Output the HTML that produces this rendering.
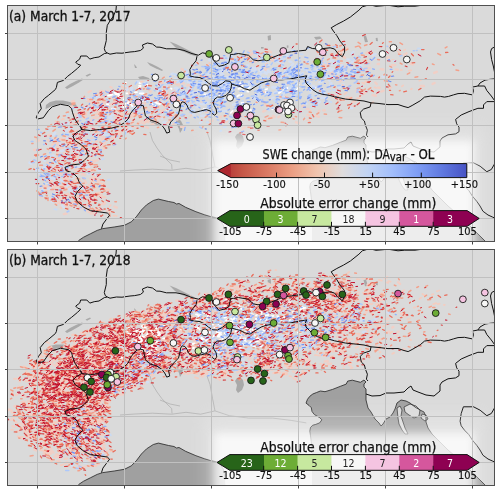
<!DOCTYPE html><html><head><meta charset="utf-8"><title>SWE change</title><style>html,body{margin:0;padding:0;background:#fff;overflow:hidden}svg{display:block}</style></head><body><svg width="500" height="494" viewBox="0 0 500 494"><defs><filter id="blur" x="-20%" y="-40%" width="140%" height="180%"><feGaussianBlur stdDeviation="4.5"/></filter><filter id="blur2" x="-20%" y="-40%" width="140%" height="180%"><feGaussianBlur stdDeviation="9"/></filter></defs><rect width="500" height="494" fill="#fff"/><clipPath id="clipa"><rect x="7" y="5" width="487" height="236"/></clipPath><g clip-path="url(#clipa)"><rect x="7" y="5" width="487" height="236" fill="#dadada"/><polygon points="70.0,245.0 78.5,240.6 83.6,237.2 90.4,233.8 97.2,230.4 102.3,228.7 114.2,227.0 124.4,225.3 131.2,221.9 136.3,216.8 141.4,210.0 146.5,204.9 153.3,200.5 158.4,199.1 168.6,201.5 174.0,202.5 176.5,204.0 179.0,203.5 185.6,207.3 195.9,211.7 204.6,214.8 210.6,216.6 216.6,217.8 220.8,221.4 223.2,225.0 224.4,229.8 225.0,235.8 225.6,245.0" fill="#a0a0a0"/><polygon points="312.0,250.0 312.0,206.0 311.3,197.9 310.5,191.8 309.8,187.2 310.5,183.4 312.8,181.2 315.8,180.4 319.6,178.9 321.9,175.8 319.6,173.6 314.3,170.5 312.0,167.5 311.3,163.7 309.0,161.4 306.0,159.1 307.5,155.3 309.8,152.3 312.8,150.0 316.6,148.5 320.4,147.0 325.0,147.7 332.6,145.4 340.2,142.4 346.2,140.1 347.7,137.1 352.3,136.2 360.4,138.3 364.0,136.0 366.0,138.0 364.0,140.0 364.0,143.0 366.0,145.0 366.0,150.0 366.0,156.0 368.0,164.0 371.0,168.0 375.0,175.0 379.0,179.0 381.0,182.0 383.0,180.0 386.0,175.0 390.0,173.0 393.0,169.0 395.0,165.0 397.0,159.0 401.0,156.0 406.0,157.0 410.0,159.0 415.0,163.0 420.0,166.0 424.0,168.0 426.0,173.0 426.0,178.0 428.0,184.0 432.0,190.0 436.0,194.0 442.0,200.0 448.0,206.0 455.0,212.0 462.0,218.0 470.0,226.0 478.0,234.0 486.0,242.0 490.0,250.0" fill="#a0a0a0"/><polygon points="397.0,164.0 400.0,162.0 402.0,166.0 401.0,172.0 403.0,178.0 405.0,184.0 407.0,188.0 408.0,190.0 405.0,190.0 402.0,186.0 399.0,180.0 398.0,174.0" fill="#dadada" stroke="#222" stroke-width="0.7"/><polygon points="404.0,163.0 410.0,160.0 416.0,162.0 420.0,166.0 419.0,172.0 414.0,174.0 409.0,171.0 405.0,168.0" fill="#dadada" stroke="#222" stroke-width="0.7"/><polygon points="422.0,170.0 426.0,171.0 428.0,175.0 425.0,177.0 421.0,174.0" fill="#dadada" stroke="#222" stroke-width="0.7"/><polygon points="46.0,105.0 50.0,102.0 56.0,100.5 63.0,100.5 70.0,102.0 76.0,104.5 77.0,107.0 72.0,106.0 66.0,104.0 59.0,104.0 53.0,105.5 48.0,108.0 45.5,109.0" fill="#a9a9a9"/><polygon points="65.0,87.5 70.0,84.0 76.0,81.0 82.0,78.5 83.5,79.5 79.0,82.5 73.0,86.0 67.0,89.0" fill="#a9a9a9"/><polygon points="85.5,75.5 90.0,73.5 91.0,74.5 87.0,76.8" fill="#a9a9a9"/><polygon points="169.6,41.6 176.0,44.0 184.0,48.0 192.0,52.0 198.4,55.2 197.0,56.5 190.0,54.5 182.0,51.0 175.0,47.0" fill="#a9a9a9"/><polygon points="147.0,62.0 152.0,64.0 158.0,67.0 163.0,70.0 162.0,71.0 156.0,68.5 150.0,65.5" fill="#a9a9a9"/><polygon points="134.0,64.0 136.0,66.0 137.0,68.0 135.0,68.0" fill="#a9a9a9"/><polygon points="138.0,77.0 143.0,76.0 149.0,78.0 150.0,80.0 145.0,79.0 140.0,79.5" fill="#a9a9a9"/><polygon points="146.0,117.0 150.0,118.0 154.0,121.0 158.0,124.0 160.5,126.0 157.0,125.0 152.0,123.0 147.0,120.0" fill="#a9a9a9"/><polygon points="176.0,121.0 179.0,119.0 181.0,121.0 183.0,125.0 182.0,130.0 180.0,133.0 179.0,129.0 177.0,125.0" fill="#a9a9a9"/><polygon points="237.0,134.0 240.0,133.0 243.0,136.0 244.0,141.0 242.0,146.0 238.0,149.0 236.0,146.0 237.0,141.0 235.0,137.0" fill="#a9a9a9"/><polygon points="267.6,36.0 270.8,35.0 271.0,40.0 268.0,40.5" fill="#a9a9a9"/><polygon points="314.0,37.0 320.0,36.6 322.0,38.5 316.0,39.8" fill="#a9a9a9"/><polygon points="363.5,36.0 366.0,35.6 368.0,42.0 365.0,42.3" fill="#a9a9a9"/><polygon points="375.7,38.0 377.5,37.8 378.0,41.2 376.0,41.0" fill="#a9a9a9"/><polygon points="261.0,47.0 263.6,47.0 263.6,48.6 261.0,48.6" fill="#a9a9a9"/><polygon points="286.8,45.4 288.4,45.4 288.4,47.8 286.8,47.8" fill="#a9a9a9"/><polyline points="120.0,171.0 135.0,170.0 152.4,169.2 171.7,170.2 186.0,168.3 200.6,170.2 215.0,166.9 229.4,171.7 248.7,174.1 272.7,174.1 291.9,176.5 306.3,178.9" fill="none" stroke="#acacac" stroke-width="0.7"/><polyline points="150.0,132.0 152.4,140.4 157.0,148.0 162.0,154.8 167.0,160.0 171.7,164.5 172.0,169.5" fill="none" stroke="#acacac" stroke-width="0.7"/><polyline points="207.0,132.0 210.0,140.4 212.6,154.8 215.0,166.9" fill="none" stroke="#acacac" stroke-width="0.7"/><polyline points="160.0,156.0 170.0,160.0 180.0,162.0" fill="none" stroke="#acacac" stroke-width="0.7"/><g fill="none" stroke-linecap="round"><path d="M386.3 57.8l2.4 -0.5M150.5 106.3l1.1 -0.8M89.5 195.6l1.0 0.1M103.1 108.9l1.7 0.2M164.3 87.4l1.9 0.3M279.7 58.5l2.6 0.6M103.6 101.3l1.0 -0.3M332.3 96.7l2.5 -0.9M174.0 92.8l2.3 -0.8M278.3 78.3l1.2 0.1M302.3 106.0l2.5 0.9M96.5 160.1l1.2 0.3M102.0 139.2l1.4 -0.4M79.0 111.6l1.2 0.3M90.4 121.0l2.3 -0.7M209.3 88.8l3.1 0.2M105.3 189.3l3.4 0.7M342.5 74.1l1.9 -0.4M351.7 70.0l1.5 -0.1M315.9 115.6l3.0 1.2M63.9 205.8l1.6 -0.1M330.9 72.6l0.9 -0.7M184.6 72.7l2.5 1.8M164.7 106.7l2.3 -0.2M71.8 101.6l2.1 -0.6M324.5 72.9l1.7 1.3M57.6 144.0l2.1 -0.7M102.1 97.5l1.8 1.2M63.8 214.1l2.8 -0.6M275.4 56.8l1.6 0.7M85.1 159.4l1.5 -0.2M179.1 101.4l1.7 -0.2M255.6 119.4l1.7 -1.6M110.4 87.0l1.3 0.6M71.6 196.4l2.3 0.4M164.8 93.1l3.1 -0.4M254.9 61.8l2.1 -1.3M372.5 95.1l3.3 0.6M45.7 186.5l3.3 -1.0M104.7 92.1l2.9 -1.1M59.9 167.7l1.4 -0.2M91.7 138.4l1.2 0.3M62.7 202.7l2.4 2.1M156.7 117.8l2.9 0.1M339.8 81.4l2.9 -0.9M103.5 149.2l1.3 -0.7M111.3 97.9l2.0 -0.6M90.4 102.5l1.2 -0.0M113.0 103.2l2.0 -2.2M90.7 125.7l2.5 0.5M57.5 168.7l3.2 -0.4M117.7 133.3l2.7 -0.8M54.8 191.4l2.0 0.4M91.7 163.7l1.4 0.1M129.8 118.0l1.8 -0.7M125.9 131.1l2.5 0.1M130.3 115.3l3.2 -0.0M175.5 83.5l1.5 -0.8M77.9 171.5l2.0 -0.1M337.6 78.9l3.0 0.6M103.8 138.2l1.1 -0.4M58.2 170.6l1.4 0.3M57.8 203.0l3.1 -1.1M321.5 58.6l1.1 -0.4M80.3 170.3l1.9 0.1M95.0 147.2l0.9 0.8M66.2 194.5l1.7 -0.7M249.6 55.0l1.4 -0.1M173.4 90.4l1.3 -0.2M111.0 119.6l1.5 -1.0M129.8 113.3l1.6 -0.4M51.9 187.1l1.3 0.0M121.7 103.3l3.2 -0.4M89.4 160.3l3.2 0.8M159.1 83.9l1.5 0.5M72.6 158.8l2.8 -0.8M224.6 122.2l2.7 -0.8M50.2 180.6l1.6 0.5M179.9 75.8l1.6 0.3M144.5 95.1l2.4 0.9M74.6 134.3l1.7 0.1M126.9 102.1l2.2 -0.2M57.8 155.4l1.2 -0.5M359.9 69.8l2.7 1.3M277.5 78.8l3.4 0.4M73.6 204.3l2.5 -0.2M129.4 88.8l1.0 0.2M56.2 169.9l1.0 -0.2M43.6 157.5l1.4 0.4M95.1 131.8l1.9 -0.8M296.0 122.3l2.8 0.6M85.0 180.9l1.2 1.9M74.1 180.4l2.7 1.0M78.2 203.1l2.4 0.2M84.7 167.6l3.1 0.4M79.3 182.7l1.8 -0.7M76.0 170.3l2.4 0.4M101.1 104.6l1.3 0.4M63.1 182.4l0.5 0.9M287.1 83.0l1.5 0.5M89.6 169.4l1.7 1.8M55.9 149.8l1.9 -0.1M101.9 110.1l1.4 -1.6M231.3 126.1l2.3 -2.0M166.0 99.1l1.6 -0.1M108.6 138.1l2.4 -0.4M89.2 156.1l2.9 -0.1M199.7 103.6l2.1 -0.9M50.3 173.3l2.3 -1.9M59.6 148.3l3.4 -0.5M57.2 185.8l2.8 0.4M104.3 110.4l1.2 0.3M59.5 186.0l1.9 0.5M344.7 50.1l2.2 -2.4M93.3 118.7l2.3 -1.8M74.9 170.2l2.1 0.3M34.1 150.0l2.7 -0.7M99.4 136.6l3.1 -0.3M191.6 103.6l1.4 -0.9M79.3 129.4l1.8 -0.1M85.7 198.9l1.7 0.4M125.1 128.8l2.4 -0.7M404.0 55.0l2.6 -1.7M93.3 160.8l2.1 0.0M65.1 184.1l1.3 1.0M209.7 121.5l2.7 -0.9M318.6 111.4l0.9 -0.6M72.6 202.4l3.3 0.3M65.7 187.3l1.2 -0.1M91.9 110.4l2.0 -0.4M98.4 149.5l1.1 -0.1M72.4 155.7l3.0 1.3M86.5 100.3l3.2 1.4M47.6 163.0l2.7 0.1M87.8 141.4l1.0 -1.0M307.2 114.9l1.0 -0.1M85.1 209.3l2.6 0.5M377.6 64.1l1.4 -0.1M367.6 68.4l2.2 -0.6M78.4 180.9l1.1 -0.2M103.8 202.3l1.4 0.8M107.7 109.9l2.7 0.8M220.0 117.3l1.1 -0.8M364.8 68.3l2.0 -0.3M81.3 163.5l3.4 -0.2M336.7 76.7l2.2 1.0M326.8 63.5l3.3 -0.0M114.5 114.1l0.9 -0.4M84.7 141.6l3.1 1.5M218.1 108.2l1.1 -0.2M108.9 106.4l1.0 -0.7M263.1 111.6l2.5 -1.2M125.6 111.6l1.3 -0.3M90.7 213.6l3.3 -0.2M102.3 102.7l2.8 0.7M159.4 98.5l0.8 -1.2M82.2 191.4l1.2 0.1M270.2 118.0l3.1 -0.9M139.3 122.1l3.1 -1.5M98.3 210.1l2.9 0.9M249.3 51.4l1.1 -0.7M63.6 178.8l1.6 0.7M323.9 49.7l2.2 -0.8M72.8 146.2l2.5 -0.6M70.5 106.8l1.6 -0.5M246.1 57.6l2.2 0.6M91.3 155.4l2.3 -0.7M251.9 53.5l1.8 -0.1M85.9 209.4l1.0 1.0M130.5 123.3l1.2 0.6M50.6 168.7l1.0 -0.7M335.7 58.7l1.0 0.1M121.1 115.3l3.5 0.2M61.3 173.5l1.5 -2.1M76.5 179.2l1.5 0.2M93.6 198.6l2.3 -0.2M68.0 182.9l2.0 -0.8M207.6 78.5l2.8 -0.6M75.8 116.8l1.6 -0.3M89.1 184.9l2.3 -0.5M56.9 153.6l3.2 1.3M128.2 93.4l1.3 -1.1M120.8 110.9l1.1 -0.5M107.1 210.8l2.5 0.9M86.2 204.8l2.6 0.2M40.4 196.1l1.0 1.2M94.9 150.8l2.8 -0.5M132.5 126.5l2.9 -0.9M82.8 173.6l1.0 0.6M73.0 184.9l2.7 2.0M50.5 168.0l3.1 -0.7M181.0 126.8l3.0 0.0M354.0 101.6l1.1 -0.6M49.7 189.5l2.1 -0.4M58.6 197.9l2.8 1.9M86.2 192.6l1.2 0.8M134.9 97.0l1.9 0.6M95.8 180.7l3.3 0.9M81.7 192.7l1.8 1.2M148.4 112.8l0.6 -2.0M104.5 131.0l1.1 -0.1M87.3 208.4l1.1 0.4M149.8 91.9l1.0 -0.4M144.5 103.5l1.7 -2.5M83.2 147.3l2.0 2.5M182.0 83.1l2.1 0.3M68.8 180.3l2.4 1.5M323.3 110.4l1.5 0.1M245.6 58.4l3.1 -1.2M122.3 91.0l2.0 -0.3M77.4 152.3l1.2 -0.3M363.3 60.4l3.0 0.1M89.3 105.3l1.2 0.2M88.4 92.3l2.4 -1.3M94.5 188.0l1.8 0.5M102.7 183.7l1.6 -0.2M98.5 131.5l3.0 -1.3M146.7 121.8l1.7 0.4M177.5 84.6l1.8 0.1M323.9 74.4l1.3 -0.8M380.6 69.1l2.7 0.4M115.0 130.8l3.0 0.2M108.5 111.9l1.6 0.1M66.7 173.6l1.9 -0.5M102.9 125.8l3.1 0.3M82.8 107.4l0.8 -0.6M131.2 113.7l2.3 -0.4M76.0 142.6l1.4 -0.5M59.8 138.9l2.4 0.1M61.7 194.8l3.1 -0.1M145.9 127.0l2.2 0.9M170.6 93.9l2.5 1.7M306.8 108.9l1.9 0.2M273.0 115.7l1.7 1.2M51.1 178.1l2.3 0.3M54.2 139.1l3.4 0.6M62.5 175.9l1.0 1.1M47.9 140.1l1.3 1.0M366.3 53.1l1.7 -0.2M395.8 69.5l2.1 0.2M52.3 186.0l2.0 0.8M93.1 96.6l1.8 -0.7M116.1 116.6l1.2 0.5M97.9 112.5l2.6 -0.3M181.7 69.0l1.9 1.1M82.9 140.2l1.7 0.7M329.7 70.9l2.5 0.2M187.4 85.3l1.9 -0.2M110.6 111.6l1.8 -1.3M83.6 114.9l2.7 -1.9M147.5 121.3l1.6 -0.6M67.4 172.1l2.1 -0.3M97.7 102.1l1.2 0.6M96.8 117.9l1.9 -1.2M39.7 176.0l3.1 1.2M100.1 91.0l3.4 0.2M434.1 72.9l2.7 -1.1M38.1 140.6l1.0 -0.2M46.0 189.7l0.9 0.4M154.9 121.3l1.2 -0.5M89.6 108.3l2.7 -1.0M57.7 167.9l2.9 -0.3M65.3 138.9l1.2 -2.1M167.5 84.7l2.8 -0.3M59.6 180.1l3.3 0.4M69.5 139.3l2.9 -1.7M233.1 58.7l1.5 0.8M94.4 111.0l2.7 -0.5M61.2 181.3l2.4 0.9M47.7 198.3l0.8 0.7M92.2 170.8l3.0 -1.2M77.5 142.6l2.7 -0.3M263.2 70.7l3.0 -1.1M92.2 178.0l3.3 1.0M101.9 204.3l2.3 -0.2M50.9 157.9l1.7 0.1M324.2 64.8l3.2 -0.4M158.7 100.0l1.6 -1.3M141.5 105.1l2.0 0.0M341.4 52.3l0.8 -0.7M79.3 134.7l1.6 0.2M58.8 201.8l1.0 1.4M92.5 161.7l2.1 -0.2M114.3 206.6l2.6 1.0M102.4 145.5l1.6 2.0M342.5 68.6l1.9 -1.3M77.4 171.7l1.7 2.0M75.6 131.6l1.1 -0.5M159.6 113.1l2.3 -2.2M280.8 104.9l2.3 1.2M81.0 194.3l2.1 -0.0M331.3 75.0l1.9 0.0M120.1 111.0l1.2 -0.3M90.3 165.8l1.4 -0.5M79.1 191.9l1.1 -0.1M160.2 100.3l1.0 0.5M102.9 143.9l2.3 -1.6M363.3 94.2l2.0 -1.7M117.4 134.6l3.2 -0.6M141.7 123.6l3.1 -0.4M136.1 126.5l0.9 -1.6M124.2 122.1l2.7 -0.5M67.8 142.3l3.3 -0.6M346.0 97.9l2.3 -0.4M242.3 118.9l1.0 0.7M248.5 117.0l2.1 0.3M156.7 108.6l2.6 -1.9M96.3 179.2l2.3 0.3M118.0 90.1l2.2 1.1M64.9 173.1l0.8 -1.0M99.4 95.3l3.4 -0.2M73.5 160.2l2.3 -0.3M62.3 169.7l2.1 0.1M84.8 207.0l3.1 0.7M65.0 205.1l2.8 2.0M87.1 191.6l2.5 1.0M63.8 153.4l1.4 0.1M42.6 186.2l2.4 -0.3M52.3 144.7l2.0 -0.9M168.0 97.1l0.9 -1.0M94.5 177.1l1.9 -0.1M74.4 114.4l1.4 0.0M88.0 200.7l3.0 1.4M159.6 81.8l2.9 1.1M90.2 99.4l1.5 -0.6M432.6 83.9l2.0 -0.9M258.1 59.4l2.4 -2.1M102.5 135.2l2.6 -0.5M340.6 64.1l1.8 0.3M108.0 130.3l1.3 -0.1M170.2 101.7l3.1 -1.6M330.3 73.5l3.0 0.2M74.8 147.1l1.8 -0.8M341.1 69.2l2.0 -1.3M78.5 207.1l0.7 0.8M90.2 178.6l2.6 -0.4M98.3 182.1l2.0 0.2M378.1 87.8l1.6 -0.1M44.9 169.8l3.2 -0.1M420.5 86.0l3.3 0.0M57.5 174.1l1.9 -0.0M79.0 206.9l3.3 1.0M56.0 143.3l1.5 0.3M158.0 95.3l2.1 -1.8M35.4 155.0l1.5 -0.8M191.9 96.7l1.0 0.3M268.8 51.1l2.3 1.0M87.4 124.1l2.4 -0.1M88.9 141.8l2.6 -0.7M144.8 107.8l2.1 1.4M71.7 182.6l2.1 1.7M64.0 157.7l1.2 0.1M139.4 115.3l2.5 -0.0M56.5 141.0l1.5 0.5M65.3 203.5l2.2 0.3M125.1 90.8l2.6 -0.8M410.2 63.5l2.7 0.9M131.6 101.9l0.8 -1.0M79.7 109.7l2.1 0.5M343.5 56.6l1.5 1.1M391.9 65.2l3.4 -0.1M125.1 100.6l1.3 -0.0M63.3 172.7l2.2 2.3M83.6 113.5l1.6 -0.6M96.2 209.3l1.6 1.0M278.2 117.2l1.2 -0.7M112.9 139.4l1.7 -1.9M281.0 62.4l2.2 -0.4M226.0 60.2l1.7 0.3M229.3 115.5l1.2 0.7M90.4 131.3l1.7 -1.2M117.7 130.7l1.2 -0.3M334.5 90.1l2.0 -0.3M63.5 140.1l2.9 0.9M55.7 159.3l1.1 -0.5M233.3 113.1l2.8 -0.7M69.7 183.2l2.0 1.5M64.7 183.2l2.2 2.1M57.2 151.5l1.3 -1.0M81.8 174.4l3.4 0.3M102.7 119.6l3.1 0.6M147.3 99.1l1.8 -0.4M350.5 107.6l2.8 -1.4M75.5 118.0l2.3 -1.7M381.2 91.6l2.3 -1.0M338.3 100.5l1.2 -0.3M54.9 176.0l3.3 0.6M119.1 98.5l2.2 -1.1M37.2 141.4l1.3 -0.9M173.2 94.8l1.5 -0.4M104.1 107.1l1.2 0.4M69.5 144.2l2.3 -1.4M343.7 66.9l2.7 1.3M319.5 78.6l1.5 0.8M65.4 188.1l2.8 0.7M44.2 187.0l2.6 0.8M114.9 99.7l2.3 0.3M375.2 82.5l1.6 1.6M113.4 108.1l2.4 0.4M77.1 168.1l2.5 0.8M116.6 122.1l2.4 -0.1M76.5 199.0l1.5 0.5M168.5 114.6l2.3 2.0M65.6 176.4l1.9 2.5M321.8 60.4l1.3 1.4M74.9 195.6l3.4 0.5M110.7 126.8l3.1 0.1M91.5 146.9l1.3 0.0M130.7 105.3l2.6 -0.7M67.6 132.4l2.3 -2.1M343.2 75.1l0.6 -1.7M63.1 185.2l3.0 -0.5M242.3 129.1l2.5 -1.6M223.2 58.6l0.8 -0.9M87.7 192.2l2.0 -0.0M263.4 66.0l2.2 -1.1M48.4 134.9l2.1 0.3M124.4 123.4l3.0 1.1M100.4 115.1l1.4 0.5M120.1 124.8l3.3 0.8M76.1 178.6l1.3 -0.2M240.5 115.6l1.1 0.6M98.8 196.4l3.1 -1.2M356.6 90.8l1.4 0.9M67.2 166.7l2.8 -0.9M91.9 180.6l1.7 -1.4M117.5 116.5l2.6 2.2M115.2 126.6l2.1 0.0M323.9 69.1l2.2 -1.2M368.4 63.4l1.0 -0.2M120.6 105.5l1.5 -0.4" stroke="#f1cfc6" stroke-width="2.40"/><path d="M249.7 79.8l1.8 -2.3M228.2 83.4l2.2 -1.8M241.1 103.4l1.5 -0.0M289.3 61.4l2.1 0.6M175.0 74.6l2.5 0.5M61.0 124.6l2.7 -0.6M139.3 115.5l2.0 0.1M159.9 116.9l2.3 1.7M321.0 69.8l1.6 1.8M80.7 109.9l0.9 -0.7M101.4 134.5l3.4 -0.6M67.3 166.9l1.5 0.2M129.7 129.1l1.4 -0.4M189.5 92.1l2.7 -0.2M259.9 75.3l1.7 -2.9M168.9 111.7l1.5 -1.5M329.8 68.1l2.8 0.7M311.5 71.4l3.4 -0.1M171.5 74.0l1.3 -0.5M181.0 92.0l1.7 2.1M308.7 84.0l2.1 -0.6M321.5 91.1l2.7 -0.9M239.2 107.7l2.1 0.5M187.9 82.0l1.2 -0.5M182.2 93.5l1.5 -0.1M53.2 134.8l2.1 -2.1M113.0 127.5l2.5 -1.6M141.5 112.4l2.6 -0.1M282.2 94.6l1.3 -0.6M213.4 80.8l2.6 -0.7M290.8 82.1l0.3 -1.6M51.4 168.8l2.6 -2.1M282.7 85.4l2.9 -0.9M202.1 93.5l2.5 -1.7M337.4 93.4l0.9 -3.0M65.2 125.1l1.4 -1.1M209.2 59.9l2.8 0.9M93.6 173.9l2.7 1.2M226.2 84.8l1.6 -0.1M320.2 75.6l1.4 0.1M271.4 79.3l2.7 0.2M203.1 82.3l1.6 -0.2M310.4 91.7l1.3 -2.3M255.5 94.8l2.6 -0.9M164.0 96.0l1.9 0.1M111.9 131.0l1.8 -1.6M213.3 90.2l2.2 0.6M182.3 92.1l3.1 -0.3M86.2 191.5l2.0 -1.3M228.2 88.1l1.8 0.4M54.7 147.3l2.2 2.2M320.5 88.7l2.3 1.9M272.2 87.4l1.0 -0.6M162.6 96.9l2.5 -0.4M280.6 73.4l2.6 0.4M210.4 66.0l1.5 0.0M287.6 74.3l2.6 0.4M249.7 71.0l1.8 -0.7M318.0 87.1l2.1 -1.2M188.9 88.3l2.5 -1.7M190.1 82.6l-0.1 -1.2M281.1 73.8l1.9 0.5M46.6 182.8l1.8 0.0M231.4 75.5l2.5 0.3M288.0 70.3l2.0 0.7M157.8 90.8l1.9 -1.5M55.0 197.8l2.1 -0.9M327.2 78.3l2.5 2.4M59.2 156.6l2.0 0.7M296.4 74.5l1.8 -0.3M280.5 59.7l1.8 -0.3M193.2 95.7l1.2 0.2M243.1 76.7l1.5 -2.0M69.4 157.0l2.1 0.4M259.7 70.8l2.3 -0.5M303.7 84.7l0.6 -1.6M60.9 180.1l2.8 2.0M217.8 67.8l2.2 0.2M226.2 60.0l1.5 0.7M264.0 65.7l2.9 -1.3M257.1 55.5l1.4 -1.4M262.5 77.9l2.3 0.3M214.9 95.8l3.3 0.9M160.5 116.4l1.7 -1.3M204.1 96.5l3.1 -0.8M80.7 143.8l1.0 0.1M229.9 90.2l1.8 0.1M305.3 103.8l1.2 0.1M319.4 92.8l1.7 -0.6M98.5 170.5l2.5 -0.8M258.6 68.9l2.0 1.7M268.1 64.8l1.3 0.3M341.6 84.8l2.1 -0.5M267.0 79.5l3.0 -1.3M227.1 71.0l1.7 -0.1M341.4 65.1l1.1 0.2M197.1 102.4l1.6 -0.0M273.4 88.2l2.6 -1.2M230.1 115.8l2.2 0.7M230.5 77.4l2.4 -1.3M296.7 60.0l1.9 -0.4M186.7 99.2l1.1 -0.3M202.2 78.2l1.2 0.3M39.8 188.1l1.5 0.2M349.2 66.9l2.8 0.9M164.8 81.4l2.5 -0.9M227.0 98.0l1.1 -0.6M110.4 116.2l2.9 -1.4M181.8 96.5l1.6 0.1M220.7 81.0l2.0 -1.5M207.9 94.0l1.7 0.0M320.2 76.9l2.2 -1.0M318.9 75.1l2.2 -0.7M313.1 106.3l2.5 -0.9M248.8 81.6l2.6 0.6M163.4 122.4l2.6 -0.1M173.3 91.8l1.2 0.2M211.5 80.2l3.2 0.6M210.2 95.6l2.4 0.1M295.8 65.9l2.0 -1.8M110.2 113.0l1.4 -0.7M219.1 84.5l2.8 -0.3M71.4 177.0l1.3 0.7M133.2 99.5l2.0 0.4M220.5 88.8l2.3 -0.1M109.5 125.9l2.0 -0.4M196.8 84.6l1.9 2.7M224.7 98.3l1.0 0.5M229.9 55.6l1.9 0.2M124.6 131.6l1.9 -0.8M372.8 55.3l2.8 -1.2M347.5 59.5l2.4 0.1M254.6 68.7l2.2 -2.4M200.0 122.9l1.3 -0.7M235.1 86.7l2.6 -0.8M74.8 153.9l2.7 -1.8M182.6 75.0l2.1 -1.0M279.1 78.9l2.7 0.3M312.5 86.0l1.8 0.3M321.4 70.6l1.6 -0.3M293.0 88.2l2.6 0.4M186.5 74.5l1.0 -1.1M129.7 103.8l2.1 -0.5M330.7 71.0l2.1 -1.8M284.0 84.8l1.7 -0.1M130.9 89.4l1.7 0.2M263.2 101.9l2.9 -0.3M266.2 93.7l2.1 -0.6M304.1 69.0l2.0 -0.8M189.7 78.5l1.5 -1.1M274.7 58.5l1.5 2.2M322.3 74.7l3.4 0.7M325.7 76.4l3.3 0.6M211.4 59.9l1.9 -1.4M155.9 97.6l2.3 0.6M204.5 88.3l1.6 -0.1M220.6 69.1l1.3 -0.3M52.5 155.8l1.1 -0.4M296.1 77.3l0.9 -0.5M320.0 89.9l2.2 0.2M213.8 78.7l2.0 0.1M97.0 98.0l2.0 -0.3M83.0 186.8l2.3 0.1M176.6 90.5l1.7 -0.5M382.5 76.4l1.2 0.4M317.6 103.4l2.3 -1.6M209.8 89.5l2.6 -0.7M221.0 70.0l1.2 0.3M191.9 110.7l2.4 -0.8M331.2 86.1l1.1 -0.7M191.9 87.8l0.9 -1.3M309.0 75.2l2.4 0.1M204.5 103.4l3.2 -0.9M51.9 201.5l1.1 0.6M212.3 98.2l1.6 -0.7M228.9 62.0l1.2 0.2M209.0 97.6l2.2 0.1M266.6 72.8l2.3 -1.1M41.4 190.0l2.5 -1.3M213.0 85.4l2.9 0.1M281.1 97.4l2.6 -0.6M255.6 96.6l2.7 -1.5M320.9 70.0l3.2 0.6M211.8 76.6l2.0 0.2M296.7 67.1l1.5 1.6M191.5 114.6l3.0 0.2M126.7 120.4l1.7 -0.1M58.3 171.6l1.5 0.1M224.8 86.7l0.7 -1.7M212.1 88.7l1.8 0.0M65.6 148.1l1.1 0.1M86.6 99.6l2.1 -1.3M333.9 63.0l2.7 -0.7M266.0 61.9l1.5 1.0M206.0 82.5l0.8 0.8M192.4 97.6l1.2 -0.5M261.1 77.8l3.3 0.8M227.6 83.5l3.2 -1.2M62.2 205.5l2.1 1.9M124.8 87.3l2.0 0.1M200.2 103.8l2.7 0.2M286.6 55.8l1.1 0.8M344.4 73.3l1.0 -1.4M126.1 120.7l3.4 0.5M225.9 85.4l1.0 -2.0M64.4 131.7l2.8 -1.0M196.4 107.2l2.6 -0.5M275.2 77.4l0.9 -0.7M175.7 88.3l2.0 -0.2M246.2 85.5l2.2 -1.7M200.5 88.5l1.6 -2.1M87.7 173.5l2.8 -0.1M50.6 178.3l3.4 0.4M143.2 84.3l3.0 -1.7M165.4 86.4l1.9 0.3M147.0 87.8l1.1 -0.2M86.8 140.6l3.0 0.2M212.5 85.9l1.7 1.0M73.2 190.7l3.3 -0.8M180.6 80.4l0.9 -0.7M47.7 188.7l3.0 -0.2M170.8 123.2l1.0 1.0M356.6 80.4l1.0 0.6M61.0 151.0l1.9 -0.5M217.5 110.0l3.1 -1.2M272.0 98.2l1.6 -0.5M190.2 71.3l1.0 -0.4M342.2 44.2l1.4 -0.7M143.6 112.2l1.6 -0.3M298.9 93.1l1.4 0.2M221.0 85.8l1.3 -0.6M232.0 84.8l3.1 0.6M207.5 73.9l2.1 -0.0M185.1 71.7l1.8 -0.0M351.1 62.8l2.2 -1.9M349.5 65.3l1.4 1.6M284.0 110.5l2.2 0.2M111.1 118.9l1.4 -0.2M229.3 82.9l2.3 -1.8M285.1 71.0l1.3 -0.5M201.1 115.7l3.0 -0.0M351.7 53.4l1.7 -1.3M284.1 72.7l2.7 -1.7M152.3 110.8l3.3 -0.2M164.7 97.8l1.6 -0.1M77.3 183.8l1.3 0.6M72.5 136.6l2.6 -1.3M244.9 74.8l2.0 -0.5M323.7 94.1l1.6 -0.9M192.8 75.4l1.5 0.7M217.0 73.8l1.2 -1.5M100.5 107.8l2.3 0.7M77.4 117.4l1.4 -1.9M54.6 190.3l1.6 0.3M246.3 86.2l1.1 -0.3M338.9 71.6l1.7 -0.8M316.9 92.4l2.6 1.7M220.7 74.3l2.4 -0.2M59.2 165.7l2.7 0.4M260.2 59.5l3.0 -0.5M245.2 75.2l2.8 -1.9M43.0 159.5l1.8 1.4M358.8 65.0l1.2 0.4M222.2 89.1l2.1 1.0M225.4 88.0l1.9 -0.3M253.6 70.7l2.2 -0.7M289.4 75.5l2.9 -0.2M54.5 161.2l2.5 -0.7M233.0 104.8l1.9 -1.0M209.5 64.0l1.5 0.1M313.2 75.0l3.1 -1.3M324.7 77.9l2.0 -0.7M36.1 170.3l3.2 0.3M267.8 81.6l2.4 -1.3M211.6 91.8l3.0 1.2M164.4 91.9l2.1 -0.2M43.5 167.7l2.6 0.3M226.4 78.1l3.0 0.2M296.0 82.3l2.4 -1.9M134.1 107.9l2.4 1.3M178.0 79.9l1.8 -0.6M202.5 104.4l1.4 0.0M236.8 78.1l2.1 -0.3M233.2 86.5l2.7 -1.8M288.7 88.0l2.4 -0.4M260.7 87.7l0.8 -0.7M259.4 100.1l1.6 0.6M258.0 92.3l3.1 -0.1M218.3 100.6l2.5 -0.0M275.9 73.5l1.0 -0.7M298.5 71.9l1.1 0.0M223.1 90.0l2.8 -0.3M335.2 71.1l2.1 0.8M280.2 63.8l3.0 -0.2M37.5 172.5l1.5 0.7M215.8 81.7l2.0 -0.4M299.4 66.0l2.6 -0.0M52.1 157.8l0.9 1.0M312.6 87.9l3.1 -0.7M293.0 70.9l1.1 -0.1M86.1 167.6l3.2 -1.0M187.3 91.0l2.3 -0.5M330.2 83.6l1.2 -0.4M207.0 94.6l1.4 -0.5M137.5 95.3l0.8 -1.7M305.6 61.5l3.3 0.3M241.2 96.1l1.5 0.3M223.1 110.9l2.9 0.1M160.5 101.8l2.2 0.3M268.7 107.6l1.0 0.6M277.8 57.8l2.0 -0.4M348.3 74.6l3.2 -0.8M337.8 70.7l2.7 -0.4M216.3 97.5l1.9 -0.3M130.5 87.8l1.4 -0.1M221.7 70.9l2.0 0.1M336.0 72.1l2.3 0.5M265.5 73.3l1.2 0.4M224.4 88.8l1.8 2.0M175.7 82.0l2.8 -1.1M237.9 65.8l1.1 -1.1M217.4 70.1l0.9 -1.9M230.9 65.2l1.4 0.6M340.3 78.4l2.8 1.4M190.4 91.7l3.0 0.1M221.6 92.0l3.3 -0.2M217.1 98.6l1.6 -0.9M192.4 93.4l1.5 -0.1M330.3 78.2l1.6 -0.4M224.8 120.5l2.1 -1.1M81.5 165.0l1.6 -1.2M327.3 75.5l3.3 0.3M91.0 122.8l1.8 -0.3M286.0 54.2l2.4 -1.3M199.8 82.0l2.2 0.4M239.9 87.5l1.5 -0.7M318.9 61.4l1.3 -0.5M131.9 107.0l2.8 -0.2M218.9 66.2l2.4 -0.4M201.0 87.2l2.7 0.1M69.1 155.0l1.1 -0.3M267.8 70.5l2.6 2.0M278.3 62.1l1.0 -0.7M283.2 92.3l2.5 0.2M341.4 68.3l1.2 -2.0M350.6 73.8l2.2 0.2M104.6 134.9l2.5 -0.3M342.1 80.2l1.9 0.1M263.1 70.8l2.2 1.8M291.6 90.5l2.0 1.5M66.4 185.8l2.0 -0.3M289.4 73.2l3.2 -1.2M109.0 117.4l1.5 0.1M174.7 88.4l1.6 -0.4M329.8 77.4l3.4 0.7M226.4 77.0l2.4 0.3M158.5 91.7l2.9 -0.6M306.8 70.7l2.0 1.0M80.6 187.7l3.0 0.1M260.6 68.9l1.2 -0.5M220.3 97.5l1.5 -0.1M90.0 111.8l2.2 -0.2M112.7 95.3l1.2 0.2M201.0 91.2l2.0 -1.4M291.1 66.0l2.1 -2.3M296.6 79.6l1.9 1.0M265.0 78.1l1.5 -0.2M211.6 89.9l2.9 -0.3M50.0 127.2l1.4 -0.5M298.7 69.1l3.0 -0.2M68.2 186.7l0.9 1.4M183.5 101.3l2.9 -0.8M200.4 112.7l0.8 -1.3M350.3 107.8l2.1 0.2M227.4 58.7l1.6 -1.0M107.7 102.4l2.0 1.3M67.5 122.6l1.9 1.5M197.4 84.2l1.3 -0.2M331.9 65.2l2.3 -2.4M78.1 166.7l1.9 0.9M244.2 73.6l1.1 -0.4M103.2 111.9l1.5 0.7M338.7 87.3l1.4 -0.2M230.0 66.1l2.0 -0.5M330.8 60.8l2.4 0.0M221.6 81.5l1.9 -0.0M297.4 92.5l1.5 0.5M59.9 144.0l3.4 -0.2M247.0 65.4l1.3 -0.0M252.4 67.5l3.1 0.7M333.3 76.4l2.7 0.8M50.3 169.9l1.5 -0.0M326.1 70.0l2.1 0.1M29.4 162.6l1.9 1.0M358.8 67.0l2.8 -1.4M124.7 122.6l0.9 -0.4M249.0 86.0l0.9 0.8M212.2 105.8l3.5 -0.2M85.1 107.9l2.9 -0.4M220.7 83.6l3.3 -1.0M175.1 78.8l2.3 0.2M254.9 76.4l2.6 -1.4M112.3 92.9l1.6 -1.2M264.9 93.5l3.0 -0.2M47.7 198.2l2.6 0.7M329.3 86.7l1.3 -1.2M293.5 85.3l1.2 -0.0M232.2 73.6l1.6 2.1M220.6 72.1l1.5 -0.9M72.3 149.4l2.6 1.2M275.6 73.1l1.8 0.9M66.9 138.3l1.9 -0.6M88.2 207.1l1.1 0.9M300.2 74.9l2.8 -1.9M137.2 81.4l2.5 1.2M263.2 72.2l1.7 -0.3M319.1 63.8l1.7 -0.7M193.3 77.9l2.1 -1.3M290.7 73.8l1.3 -0.5M212.3 97.0l3.3 -0.5M205.3 109.5l1.5 -0.5M274.2 92.6l3.3 -1.1M315.7 59.0l2.7 -1.2M79.7 187.0l2.4 0.4M233.6 62.2l2.8 -0.2M311.4 72.4l2.9 0.5M199.7 80.4l1.0 -0.3M288.3 81.4l0.5 -0.9M247.9 86.9l3.1 -1.5M52.8 178.5l2.0 0.7M182.9 80.0l1.3 -0.0M273.2 69.7l1.6 -0.3M291.9 94.9l3.0 -0.5M281.6 78.1l0.3 -1.5M223.2 83.3l2.8 0.3M321.4 98.1l3.3 -0.3M308.0 76.1l2.0 0.8M146.5 100.2l3.2 -1.0M195.9 92.6l1.9 -1.2M104.4 133.7l1.8 -0.7M79.0 148.7l2.3 -0.7M293.3 71.4l2.9 -1.8M202.4 74.3l2.1 0.8M97.0 96.2l1.3 -0.6M204.4 92.0l2.0 -1.6M142.1 99.1l2.8 0.9M282.7 79.0l1.7 -0.4M139.4 101.8l2.4 -0.6M286.1 91.3l1.3 0.4M293.8 67.6l1.8 -0.9M139.8 91.5l2.6 0.6M198.5 87.1l1.5 0.7M153.1 78.5l1.5 -2.1M68.7 189.3l2.1 1.5M125.3 90.8l2.3 -1.4M69.2 128.6l2.7 0.3M319.3 82.4l2.9 -0.9M315.9 71.0l1.7 -1.3M191.5 83.7l1.2 -0.2M253.7 98.3l3.3 1.0" stroke="#d3def2" stroke-width="2.40"/><path d="M204.3 94.4l2.0 -0.1M141.5 93.9l2.3 -0.6M154.1 106.5l0.9 -0.6M237.1 96.5l2.1 -1.4M126.5 93.3l0.9 -0.0M240.4 83.9l2.1 2.1M241.0 91.0l2.3 -0.7M209.9 96.4l1.3 0.7M296.7 89.4l1.9 -1.9M281.5 111.9l2.3 1.0M146.2 85.7l1.2 -0.9M114.6 92.8l2.7 1.7M124.0 83.5l2.0 -0.6M157.1 103.4l2.8 0.6M239.6 83.0l1.3 -0.4M210.1 79.9l2.2 -0.4M231.3 98.3l2.1 0.6M124.9 104.0l0.6 -0.6M248.5 88.0l2.2 -0.5M146.0 100.9l1.6 -1.6M105.6 107.4l2.3 0.0M112.2 108.6l2.7 0.5M118.4 96.2l1.5 0.0M203.7 108.8l1.6 0.4M265.3 89.5l1.8 -0.5M123.6 99.3l1.1 0.6M140.4 101.1l2.2 0.3M111.0 95.1l1.3 -0.6M139.8 93.3l2.9 0.2M161.7 91.3l2.4 -0.1M283.6 89.8l1.4 -1.6M230.7 112.8l1.9 -1.9M171.0 88.4l0.6 0.5M265.0 92.3l0.8 -0.2M120.6 97.3l2.2 -0.3M138.8 99.3l2.7 0.9M123.2 107.1l2.3 -0.6M115.4 94.1l1.0 -1.0M108.1 95.5l1.6 0.1M139.4 106.6l0.8 -0.7M106.9 104.2l2.9 0.4M134.9 92.4l2.1 -0.3M231.9 94.6l1.2 -1.0M297.1 84.5l1.7 0.3M272.2 109.2l1.6 -1.1M139.5 83.2l1.2 -0.3M160.2 94.4l1.1 -0.4M247.1 91.4l1.2 0.3M139.1 85.7l1.5 0.3M117.0 110.9l1.6 0.5M313.9 88.2l1.1 -0.2M278.9 93.1l2.8 -2.0M218.0 97.7l1.5 0.2M130.7 104.1l1.6 2.0M127.7 103.5l0.9 -1.4M249.0 109.7l2.4 0.7M110.3 94.6l0.9 -0.9M166.6 109.5l2.5 -0.9M219.4 95.9l1.4 -0.4M241.6 102.9l1.7 -0.4M286.2 88.9l1.2 -0.9M117.1 93.4l1.8 0.8M241.2 96.4l0.2 -1.5M238.4 88.9l2.8 -0.8M152.2 103.8l2.9 1.4M285.0 97.3l1.7 -0.2M154.9 103.4l1.6 -1.4M138.8 87.7l1.1 -0.3" stroke="#ffffff" stroke-width="1.80"/><path d="M97.4 94.5l1.9 -0.2M174.7 82.2l1.6 -0.4M121.2 113.2l2.6 1.2M356.2 81.3l2.0 0.6M400.8 70.1l1.1 -0.2M294.0 52.4l1.1 -0.2M392.5 59.9l1.2 -0.1M124.9 88.2l0.9 -0.4M88.4 212.1l1.5 -0.1M100.4 98.7l3.1 0.6M114.7 110.5l2.9 0.3M100.0 183.8l2.2 0.1M98.4 207.6l1.9 -0.5M404.0 50.3l1.2 -0.6M134.2 116.1l2.3 -1.0M95.5 114.3l2.2 -0.7M73.9 194.1l0.9 0.1M65.4 189.5l0.7 1.2M365.2 81.6l1.6 -0.1M263.0 92.1l1.3 0.4M121.1 86.4l2.6 1.3M265.4 65.1l1.8 -1.7M151.7 120.6l1.7 -0.9M98.2 192.7l2.5 0.3M270.1 59.6l2.7 1.1M86.7 110.7l1.3 0.1M172.2 116.1l2.0 0.6M342.2 84.9l1.0 0.4M182.9 100.8l1.8 0.2M59.8 157.5l2.7 -1.6M73.1 151.0l2.5 1.8M190.3 115.6l1.2 -0.4M140.4 114.2l3.0 -1.0M419.4 80.6l1.9 -1.0M75.9 122.4l2.6 -0.1M87.3 169.4l1.9 -0.6M68.4 187.1l1.7 -0.6M68.4 148.3l1.1 -0.2M95.7 141.5l1.7 -0.1M170.5 111.9l0.9 -0.1M140.2 88.8l2.9 -0.9M94.5 129.6l2.3 -0.5M52.2 198.8l2.5 1.3M45.8 181.7l3.0 -0.5M141.3 103.6l0.9 -0.1M173.5 97.1l1.8 -0.4M152.9 100.4l0.8 0.2M56.4 158.4l2.8 -0.8M60.3 207.2l1.0 1.0M404.4 62.4l2.6 -0.3M256.8 117.4l1.3 0.0M209.5 107.7l1.8 -1.2M56.1 147.5l2.0 -0.4M91.7 174.3l1.9 1.3M124.4 125.2l2.5 0.9M175.9 82.8l0.8 1.4M163.4 88.0l1.7 -1.2M70.0 123.8l3.1 -0.2M137.7 125.1l1.2 0.3M93.0 201.4l1.0 0.2M40.1 188.4l1.0 -0.3M101.5 196.5l2.3 1.0M73.4 159.9l1.5 0.1M352.4 102.1l0.6 -0.6M68.1 194.6l2.4 0.5M307.3 120.2l1.3 0.2M55.5 185.7l1.2 0.4M101.7 99.5l1.0 -0.3M265.4 105.0l3.1 0.2M61.5 119.8l1.9 -1.1M61.1 156.2l0.9 -0.0M109.6 206.2l1.2 -1.1M113.6 215.7l3.1 0.2M349.9 98.1l1.6 -0.7M84.9 115.2l1.1 -0.8M95.4 110.0l1.5 -0.5M59.9 163.2l0.8 -0.1M69.4 183.7l1.4 0.3M330.5 54.0l1.7 0.3M163.3 110.3l1.3 -1.1M75.1 156.2l0.9 -0.3M266.0 119.1l2.5 -0.2M80.1 136.1l1.9 -1.1M205.8 112.2l1.6 -0.1M209.1 63.4l0.9 -0.3M84.0 118.0l3.1 -0.4M54.3 188.2l0.8 0.5M313.1 61.7l0.8 -0.2M366.5 52.8l1.2 -1.3M411.1 89.3l0.8 -0.5M112.9 129.5l0.8 -0.2M376.8 93.4l2.2 -1.9M62.7 118.7l1.4 0.7M36.1 139.2l0.8 -0.1M59.0 172.0l2.1 1.3M132.5 120.3l1.5 1.6M160.2 117.4l1.7 -0.7M295.1 68.5l2.6 0.1M91.3 181.6l2.9 -0.7M178.2 77.6l2.9 0.7M362.2 82.7l2.3 1.0M104.2 196.6l1.3 0.7M344.3 94.2l2.4 -1.6M332.8 45.6l1.2 0.1M127.2 106.1l2.4 -0.3M176.4 119.2l1.2 0.6M309.4 111.7l1.3 -0.9M59.6 168.5l1.5 1.5M401.9 86.4l1.3 -1.0M172.4 124.6l1.5 -0.6M142.7 105.9l1.1 -0.0M179.0 93.7l1.7 -0.4M166.8 122.9l2.1 -0.7M342.7 56.4l0.8 0.4M408.9 70.7l2.3 -0.3M80.9 111.9l2.5 -1.4M71.3 205.4l1.4 0.1M93.6 197.7l1.1 0.6M145.2 121.9l2.8 -1.2M121.8 97.1l1.5 -1.1M370.9 103.3l2.4 -1.1M308.6 115.6l1.1 0.3M397.6 51.4l2.5 2.0M83.3 201.1l1.0 0.0M94.0 134.2l2.0 0.7M55.4 121.2l0.9 0.7M384.3 80.6l1.0 -0.9M81.6 147.2l2.4 -0.2M240.7 58.6l2.1 -2.2M152.2 107.1l1.7 -1.1M59.7 140.2l2.2 -0.7M388.7 88.3l2.6 -0.8M79.7 195.5l1.6 0.5M88.2 125.1l2.6 -0.7M112.7 127.5l1.2 -0.4M185.4 102.7l2.0 -0.6M388.9 46.1l1.4 0.0M140.7 81.8l1.9 -0.1M61.7 199.3l1.2 0.5M50.7 165.8l0.9 0.9M87.3 98.8l1.7 0.2M91.0 184.4l2.7 0.8M76.4 157.6l1.4 -0.8M332.9 79.0l1.1 0.1M265.6 67.6l2.3 0.0M374.5 87.4l1.6 0.4M177.3 102.0l2.4 1.5M121.6 118.5l0.8 -0.8M84.5 185.2l1.5 2.3M84.8 149.7l1.6 -1.1M284.3 99.6l1.7 -0.3M151.2 124.5l2.4 -0.6M357.1 98.2l2.9 0.0M94.9 131.6l2.6 0.5M109.7 104.3l2.6 -0.6M95.5 193.2l2.1 0.1M122.9 131.1l1.1 -1.1" stroke="#f4cdc0" stroke-width="1.80"/><path d="M311.7 98.4l0.7 -2.1M223.7 127.2l2.1 -0.1M306.4 77.9l2.8 -0.7M125.1 99.9l2.0 0.3M47.8 130.4l1.2 -1.2M157.7 84.2l2.5 0.1M88.1 130.4l1.6 -0.4M222.8 104.0l1.7 -0.1M110.6 135.8l1.0 -0.1M87.1 133.0l1.7 0.2M328.8 90.8l1.7 -0.2M244.9 92.0l0.8 -0.2M314.9 92.0l1.9 0.5M135.7 112.8l0.9 0.0M268.4 90.6l1.4 -0.5M350.2 58.7l2.5 1.4M264.9 77.1l1.5 -0.1M67.4 183.0l2.8 -1.4M261.9 66.2l1.8 -1.6M90.1 136.2l2.1 -1.0M260.0 85.0l2.0 -0.5M214.1 104.5l2.0 -0.3M187.0 107.1l1.0 0.9M304.1 70.2l1.1 -1.1M313.1 104.8l1.7 0.1M393.6 60.6l1.9 0.5M209.2 105.6l2.4 -0.5M380.3 54.5l1.1 -0.2M329.2 101.5l2.1 0.7M204.6 76.8l2.2 -0.1M193.4 85.9l1.9 -0.6M102.1 159.3l1.7 -0.7M240.1 105.8l1.3 -0.8M228.1 99.0l1.7 -2.0M85.8 187.7l2.4 0.9M65.4 150.1l2.3 -1.2M184.8 69.1l2.2 1.7M139.8 126.6l2.1 -1.6M42.4 165.1l2.2 0.1M64.0 167.3l1.8 0.0M69.4 156.4l0.9 0.5M107.7 179.8l2.0 -0.1M175.5 112.2l1.4 -0.2M311.0 106.0l0.8 -0.5M87.2 121.7l1.9 -0.3M262.3 72.3l0.9 -0.1M242.2 100.8l1.0 0.3M170.8 98.3l2.1 -0.6M52.1 147.7l1.4 -0.5M224.2 57.1l1.8 -0.3M53.6 174.2l3.0 0.5M220.2 131.1l1.2 -0.5M89.1 155.1l1.9 0.1M85.8 144.8l2.7 0.3M307.7 83.1l1.7 0.2M295.2 84.9l2.1 0.3M38.3 178.3l2.3 0.5M238.2 65.3l2.7 -1.2M210.4 101.2l1.7 0.6M49.7 155.6l2.3 1.4M232.7 66.3l1.8 -0.4M291.8 50.5l1.4 -0.2M106.3 133.3l3.2 0.1M255.5 104.5l1.5 -1.3M206.6 122.3l1.9 -0.2M296.8 93.5l2.7 -1.3M193.3 111.5l1.6 0.1M92.1 139.8l2.3 -0.3M231.4 95.0l1.4 0.0M275.4 62.1l2.6 -1.6M354.9 70.6l1.1 0.5M238.0 109.5l2.3 0.2M90.3 97.3l3.2 -0.1M35.9 182.4l2.0 -0.8M115.3 128.3l2.1 1.1M268.4 93.6l2.4 1.3M282.1 58.9l2.7 -1.5M66.4 133.5l2.2 0.1M245.1 86.8l1.9 0.4M257.2 86.0l2.7 0.7M250.3 88.3l1.3 -0.0M417.9 48.3l3.1 0.3M274.1 100.7l1.8 0.5M82.4 194.1l1.6 1.1M173.2 74.1l2.2 0.1M54.3 209.1l2.4 0.4M218.5 71.8l1.3 -0.6M268.5 109.5l0.8 0.8M80.3 129.2l0.5 0.8M65.4 115.8l2.1 -1.4M294.3 89.9l2.1 -2.4M324.9 62.4l1.4 1.3M194.2 79.9l2.2 0.2M229.3 122.3l1.9 -0.0M165.7 84.4l2.7 -0.5M321.0 90.5l2.1 2.0M300.4 54.2l2.3 0.1M217.1 70.5l2.4 -1.1M254.6 72.2l2.2 0.0M30.5 162.1l1.0 0.2M185.2 81.7l1.4 -0.8M192.1 103.0l0.9 0.8M289.7 86.5l1.9 -0.7M176.9 82.8l2.7 -1.5M333.2 90.0l2.3 0.1M325.8 54.1l0.8 0.0M227.8 82.0l3.0 0.1M51.2 149.3l1.3 -1.2M222.7 58.4l2.4 -1.0M224.3 100.9l1.5 1.1" stroke="#c8daf4" stroke-width="1.80"/><path d="M264.3 102.6l1.6 -0.2M282.7 76.8l1.8 -0.7M361.3 54.9l3.0 0.5M68.0 164.1l1.3 0.1M339.2 111.4l2.6 -1.0M57.3 121.6l1.8 0.5M181.3 115.7l2.8 -0.0M146.4 89.0l2.7 0.6M34.7 137.0l2.9 0.9M117.4 124.4l2.8 -0.8M57.4 160.9l2.0 -0.4M163.8 91.2l1.5 0.2M31.9 143.6l1.1 -0.1M52.6 201.2l2.0 0.4M66.0 150.2l1.9 -0.7M66.3 112.5l2.2 -0.4M66.7 142.6l2.8 0.5M105.2 139.3l1.9 0.9M339.1 117.6l2.7 0.1M83.8 97.4l0.7 -1.1M47.4 173.9l1.1 1.1M357.2 88.6l2.8 -0.7M78.2 142.7l2.4 1.9M157.8 107.3l0.6 -0.6M384.6 80.7l3.0 0.5M389.3 41.7l2.1 0.1M357.0 60.2l2.6 -0.1M63.4 116.0l2.0 -0.3M47.0 158.8l2.0 -0.5M92.5 186.0l1.8 -0.5M279.9 96.8l1.5 0.2M175.0 92.3l1.5 0.8M48.0 197.7l0.0 2.7M55.2 204.2l1.4 1.0M144.0 94.8l2.6 -1.1M115.1 126.0l3.0 1.1M114.9 201.8l1.5 -0.1M88.6 209.2l2.8 -0.4M47.8 126.7l2.9 -0.8M183.8 72.8l1.4 -1.6M174.8 100.1l2.2 -1.2M371.0 75.5l1.5 -0.5M95.2 183.7l2.6 0.2M248.0 127.2l2.5 0.2M256.8 126.9l2.8 0.1M47.2 148.9l1.4 0.6M324.2 114.1l2.3 0.2M432.4 64.0l1.7 0.6M94.4 170.2l0.7 0.3M99.6 121.6l1.9 -0.0M337.4 52.8l1.3 -1.6M306.2 63.4l1.9 0.4M101.4 127.4l2.4 -0.6M82.5 130.7l1.2 -0.7M237.8 121.6l2.3 1.8M201.9 128.3l1.1 -1.7M112.8 144.5l1.8 -1.7M265.9 85.1l2.9 0.3M340.6 61.0l1.6 0.1M400.2 63.1l1.8 1.1M96.6 103.2l2.0 -0.5M79.0 168.7l1.6 0.6M52.9 131.1l2.4 -1.7M106.6 137.9l2.8 0.9M54.5 167.6l2.0 -0.8M62.8 135.7l2.4 0.6M109.4 213.2l0.7 3.0M122.0 126.4l2.6 -0.7M79.3 193.3l1.7 -0.7M62.0 139.9l2.7 0.1M90.0 195.2l2.6 -0.1M398.5 54.1l2.6 1.1M167.5 88.2l1.7 -1.0M356.4 62.0l2.0 -0.8M129.5 132.6l2.7 1.4M35.7 156.2l1.1 -0.1M139.4 97.3l1.3 0.0M126.6 114.2l2.2 -0.2M43.5 154.5l2.1 -0.7M96.4 147.4l1.9 -0.5M295.2 116.4l1.3 0.4M249.8 61.4l1.8 -0.1M82.0 148.2l1.7 1.2M157.4 127.6l1.3 -0.4M377.6 59.6l1.9 0.1M339.7 46.0l2.1 -0.9M151.8 113.5l1.8 -2.0M256.1 102.3l0.9 0.3M339.3 54.7l2.3 -0.5M346.0 50.1l1.9 -1.0M143.4 88.9l0.9 -0.2M154.1 109.7l1.4 -0.2M56.7 154.6l2.3 0.3M143.5 108.1l3.1 -0.6M456.0 69.9l2.6 0.6M149.8 117.3l2.8 -0.7M102.5 100.2l2.5 0.3M91.7 115.6l2.6 -0.6M96.4 150.6l2.2 -1.1M78.4 160.4l1.3 0.1M206.7 64.7l1.9 1.4M134.2 116.7l1.6 -1.0M97.7 184.4l1.1 -0.2M88.6 205.7l1.8 1.3M327.4 59.8l1.9 -1.0M102.2 188.8l1.7 0.7M340.4 51.1l2.1 -1.0M71.4 168.5l1.1 -0.2M341.9 100.0l2.2 0.1M36.8 190.9l2.3 1.9M135.4 115.0l2.0 -0.8M309.2 112.0l2.1 0.5M131.3 122.9l1.8 -0.5M108.4 127.3l2.5 -1.2M82.1 115.8l2.2 1.6M60.1 186.9l3.1 0.2M76.3 204.3l1.0 -0.1M335.0 97.3l3.1 -0.7M154.6 118.6l1.5 1.5M63.9 190.0l3.0 -0.8M80.3 114.3l1.2 0.9M205.2 117.3l2.4 -1.6M177.7 100.5l1.5 -0.1M103.2 191.5l1.9 -0.4M342.6 49.5l0.9 -0.1M83.0 178.5l1.8 0.1M94.0 164.8l3.1 -0.1M75.2 185.6l1.5 0.8M91.7 170.3l1.6 -0.5M105.4 123.8l1.7 -2.0M118.1 110.6l1.2 1.1M265.1 117.1l2.9 -1.2M437.8 53.6l2.8 1.4M365.7 60.3l0.7 0.7M281.1 122.2l2.8 0.4M268.7 118.4l3.2 -0.4M89.8 99.5l2.8 0.1M52.8 171.5l2.6 -0.1M98.8 204.3l1.5 0.4M100.5 115.5l1.6 0.2M77.4 143.1l2.3 0.5M103.7 130.3l2.3 -0.2M359.2 46.3l1.5 1.6M362.9 90.3l2.4 -1.2M95.7 131.9l0.9 -0.3M96.5 194.1l2.4 0.3M127.3 106.0l1.1 1.1M163.8 117.5l0.8 -0.4M368.2 89.6l2.5 -1.8M261.6 101.6l2.0 0.0M279.0 130.0l1.7 -0.3M54.8 138.2l1.3 -1.4M445.2 47.9l1.8 -1.0M76.7 178.0l2.9 1.1M330.3 86.5l0.7 -0.6M328.2 93.9l0.8 -0.2M338.3 65.5l1.0 -0.3M100.0 142.1l1.6 1.2M167.1 103.7l1.8 0.0M400.0 42.9l2.5 1.5M175.3 115.3l2.4 -0.7M319.6 90.9l1.0 0.4M67.4 181.5l2.1 0.3M69.9 205.2l2.0 0.9M73.0 204.8l1.4 0.0M383.9 74.9l0.9 -0.7M270.4 56.4l1.8 0.3M73.2 164.0l3.0 0.6M349.4 98.7l2.4 -0.8M93.2 187.6l1.7 -0.2M64.2 161.6l1.6 -0.8M72.2 104.5l2.6 -0.5M162.4 78.3l1.9 -1.1M415.0 77.2l2.8 -0.5M82.5 183.5l1.7 -0.2M69.1 142.5l1.5 -0.7M317.5 52.4l1.8 -0.1M69.4 120.5l2.6 -1.5M114.1 97.0l0.9 -0.4M135.1 105.2l2.1 -0.8M355.4 46.9l2.8 -0.8M285.4 97.1l3.0 0.6M97.8 210.5l2.7 -0.6M79.4 190.3l2.4 0.9M117.1 121.1l0.7 -0.4M335.6 77.7l1.5 -1.0M191.7 130.5l1.4 -0.3M131.2 99.5l0.9 -0.0M364.6 45.5l2.4 -0.8M81.8 161.6l2.4 -0.1M85.9 146.0l1.3 -0.1M50.4 125.3l1.0 -0.7M407.3 74.1l2.4 -1.2M169.0 119.9l1.6 0.2M293.1 118.6l1.0 0.4M109.9 114.5l1.4 -2.5M395.6 84.8l1.2 0.1M361.2 75.3l2.4 -0.2M63.9 157.0l0.8 0.5M59.6 126.0l2.7 -0.2M39.7 165.2l2.8 0.1M83.8 168.3l2.5 1.9M82.2 146.4l2.7 -0.5M113.8 100.0l2.6 -0.4M260.9 53.5l2.3 -0.4M50.8 189.5l3.1 -0.0M135.3 97.3l1.7 -0.7M98.7 114.2l1.3 -0.2M138.6 116.0l2.1 -0.5M358.1 42.4l2.4 1.4M349.0 86.4l1.0 -0.0M237.2 125.0l1.4 -1.0M316.9 114.0l1.9 -1.2M70.5 176.6l1.4 0.6M399.4 90.7l0.8 -0.1M247.6 57.7l1.0 -0.1M62.5 183.3l2.6 1.7M81.0 134.5l1.9 -0.5M200.3 75.8l3.1 0.2M137.4 123.3l1.2 0.5M303.6 119.6l1.0 -1.3M389.9 66.4l1.7 0.7M97.4 100.4l3.2 -0.3M104.0 146.5l2.0 -1.2M72.0 103.2l3.0 -0.2M97.7 121.7l2.6 -0.2M166.5 106.4l1.4 -1.3M65.6 201.9l1.7 1.7M81.0 127.4l2.8 -0.1M36.3 154.8l2.3 0.2M82.7 190.9l0.9 0.5M104.6 121.1l2.1 1.4M92.6 208.4l1.4 1.7M124.4 139.3l1.8 -1.1M100.3 179.9l3.1 0.2M46.2 195.4l1.0 0.4M185.5 101.3l2.7 1.0M110.9 134.1l3.1 0.3M169.1 113.0l2.8 0.0" stroke="#f3a08a" stroke-width="1.50"/><path d="M265.6 86.6l0.9 -0.2M215.8 95.6l1.4 -0.5M147.5 87.8l2.7 1.0M271.3 70.2l2.2 -1.9M181.2 100.2l2.3 -0.0M229.6 116.2l2.6 1.2M203.5 102.1l1.4 0.4M94.1 134.5l1.1 0.1M82.7 143.1l3.0 1.1M247.5 75.2l2.9 0.6M275.9 81.0l2.6 -1.1M176.7 96.0l1.8 -0.8M201.9 66.5l2.5 0.3M227.4 80.4l1.1 -0.2M307.2 81.8l1.3 -0.1M345.9 69.3l1.0 -0.6M356.7 92.1l2.5 -0.4M277.1 77.2l2.6 -1.2M225.3 61.8l1.1 0.5M161.0 85.8l1.9 -1.3M176.5 75.5l1.0 -0.4M101.7 93.7l1.8 -0.9M208.3 86.7l2.8 0.5M198.4 84.1l1.0 -0.2M188.4 77.5l1.1 -0.7M337.6 85.8l2.6 -0.4M153.2 105.5l1.3 -0.0M166.2 108.5l1.0 0.0M312.8 71.2l3.1 0.2M220.7 102.4l0.9 -0.7M234.8 84.2l1.5 -2.2M31.9 162.6l2.4 -0.1M281.8 64.4l1.8 0.8M413.3 50.7l0.9 0.1M326.6 94.7l1.1 0.4M236.3 98.7l0.5 0.6M288.8 91.7l1.9 1.5M266.6 67.3l2.5 -0.6M212.9 114.5l1.2 -2.4M176.1 122.8l3.0 0.9M135.1 98.4l0.8 -0.1M261.2 92.2l1.9 1.4M274.8 93.6l2.3 -0.6M237.4 59.1l1.4 -0.3M157.6 115.2l2.1 -1.4M217.2 119.7l1.4 0.4M241.5 72.3l1.2 0.0M105.5 121.0l2.5 0.0M133.3 90.5l1.1 -0.3M267.7 91.9l2.3 0.4M261.9 100.2l0.7 -0.6M80.4 207.5l1.4 0.0M254.6 85.5l1.9 -0.1M233.5 87.8l1.7 -0.4M137.9 113.7l1.9 -0.6M230.7 63.9l2.9 0.7M197.4 86.9l1.3 -0.8M272.2 108.4l1.2 -0.4M70.5 165.1l0.6 0.8M58.2 184.0l2.2 -0.7M116.5 136.4l1.1 -0.6M141.7 96.0l1.9 -0.1M226.9 83.5l2.8 -1.3M416.3 50.5l0.9 -0.1M334.1 71.8l1.6 1.2M113.6 145.3l2.5 -0.9M284.7 86.0l1.2 0.2M250.5 81.5l2.2 -0.6M343.1 87.2l0.9 -0.4M180.2 95.1l2.8 -1.1M358.0 69.3l2.1 1.1M298.5 94.9l1.4 -0.8M283.5 56.8l2.0 0.0M79.5 116.9l1.6 0.2M342.9 68.6l2.3 -0.0M339.6 76.1l2.1 0.5M224.3 93.2l1.1 -0.6M254.5 91.5l2.8 -1.1M176.2 92.0l2.1 -0.0M135.2 84.1l1.5 -2.1M186.7 103.0l2.0 -2.2M236.2 73.7l1.3 0.7M60.6 155.0l1.6 -0.7M262.8 89.8l1.0 -1.0M190.8 110.5l1.9 0.1M311.9 65.2l2.0 1.3M155.7 78.2l1.1 0.4M195.5 65.3l1.6 -0.3M313.4 103.5l2.7 -1.5M157.1 109.9l1.7 -0.2M274.2 68.0l2.6 -0.3M181.0 81.6l2.7 -1.2M168.0 115.8l1.7 -0.4M278.4 72.3l0.8 0.7M141.7 100.5l1.2 -0.8M138.6 97.0l1.0 -0.5M86.1 119.1l2.5 -1.1M191.9 84.8l2.6 -1.6M199.6 127.1l2.4 1.3M211.2 84.2l1.6 1.7M299.1 92.8l2.9 -0.5M363.6 69.2l0.8 -0.1M261.9 61.9l2.8 -0.2M358.7 56.3l1.6 1.2M318.0 94.0l0.9 0.0M61.6 176.4l2.3 -0.2M219.2 98.2l1.5 -0.1M84.9 122.8l2.4 -1.7M387.0 46.3l0.8 0.1M48.4 175.4l1.8 -0.4M33.9 159.8l2.1 0.9M40.7 132.3l1.3 0.6M196.7 96.9l0.7 -1.3M244.5 65.8l2.8 1.1M56.9 174.1l2.2 1.7M249.5 74.9l2.0 -1.1M198.5 81.2l3.1 0.1M198.3 85.0l2.4 -1.5M238.8 71.5l1.1 0.1M172.2 118.1l1.4 -1.4M251.3 96.2l3.0 -0.1M260.9 57.4l3.0 0.7M252.2 86.1l1.2 -0.7M78.7 114.8l2.2 1.2M242.3 77.6l2.4 0.7M184.8 87.7l0.8 0.2M323.0 78.0l1.0 -1.3M308.7 77.8l2.9 0.7M277.1 89.0l2.1 0.9M91.6 144.2l2.4 -0.6M164.5 87.3l1.7 0.3M308.6 100.6l1.8 -1.2M218.3 81.5l1.0 -0.6M338.6 78.0l2.6 0.6M179.8 81.1l1.8 -0.1M318.1 85.7l2.7 0.0M211.0 67.9l2.4 -0.0M246.2 98.8l2.6 -0.7M213.9 83.1l1.5 0.5M221.7 80.1l3.0 0.5M233.4 63.2l2.7 -0.6M348.0 86.8l2.8 -1.3M185.8 118.8l1.1 -0.0M154.2 90.4l0.8 0.4M103.2 95.4l1.0 -0.2M301.2 74.9l1.7 -0.6M336.7 79.1l2.5 0.6M98.9 125.9l1.1 -0.1M187.9 76.8l1.3 -0.7M230.9 57.3l1.0 -0.0M213.9 79.5l1.0 -0.3M46.9 164.4l2.4 2.1M289.2 83.7l1.2 0.5M283.3 91.5l2.7 -0.0M124.4 135.1l1.3 -2.5M217.9 69.6l3.1 -0.3M243.0 91.7l1.1 -0.2M133.9 97.0l0.5 -1.1M284.6 87.6l1.4 0.9M205.7 82.5l1.5 -0.5M40.7 174.5l0.6 0.7M183.8 94.3l2.3 -0.4M43.6 144.4l1.0 -0.2M335.6 70.3l3.0 -1.2M228.0 94.8l1.1 -0.1M174.1 104.2l2.9 -0.4M295.1 60.0l2.5 0.3M53.4 146.9l1.9 -2.3M293.2 103.3l-0.2 -1.9M120.7 109.9l1.6 0.2M231.2 95.3l2.3 -0.8M217.1 74.3l1.8 0.4M268.9 55.4l1.6 -0.5M309.3 79.5l1.4 0.2M257.7 75.8l2.8 0.6M358.6 70.4l2.2 -1.2M350.2 78.6l1.6 -1.0M72.1 108.5l1.5 -0.3M82.5 177.7l2.9 0.7M287.0 105.6l2.4 -2.1M241.2 71.2l2.3 -0.2M100.4 122.8l0.7 -0.4M207.5 105.8l0.9 0.1M79.5 120.9l1.3 -0.4M153.3 103.4l2.0 0.9M300.0 86.5l1.0 -0.1M212.4 92.3l1.7 -0.4M211.3 98.2l3.0 -0.0M103.0 141.6l1.9 -1.0M274.0 72.5l2.1 0.8M190.7 91.5l2.1 -1.1M67.0 212.0l1.9 -1.0M40.9 192.4l3.0 0.0M296.9 96.7l2.7 -1.6M255.7 72.6l1.2 -1.2M294.4 77.7l2.9 -0.1M146.7 101.9l1.2 0.2M223.3 106.1l2.0 0.3M65.5 169.0l1.0 -0.3M60.2 165.7l1.6 1.0M215.4 64.3l2.6 -0.0M243.2 61.3l1.5 0.2M105.4 116.6l1.1 -0.1M171.8 103.1l0.9 0.2M205.3 72.6l1.6 -0.1M116.5 99.0l1.9 1.5M233.1 89.7l0.8 0.3M315.7 80.4l2.5 -1.9M234.1 58.9l1.5 1.9M58.6 156.4l1.8 -1.2M321.2 62.8l1.5 -0.0M230.1 91.7l1.3 -1.2M106.4 130.1l1.7 1.2M225.9 63.6l2.4 -0.3M204.6 66.7l1.4 0.0M299.1 77.1l2.6 -0.4M269.5 105.2l2.2 -0.4M345.0 70.1l1.3 0.1M197.6 87.9l3.0 1.1M50.5 139.1l2.3 1.4M310.8 67.6l1.7 -0.8M189.9 111.9l1.8 1.2M218.4 63.5l1.4 0.3M257.0 81.5l0.3 -1.0M333.2 46.7l2.6 -0.1M283.0 61.4l1.6 -0.3M182.0 114.3l2.8 0.1M142.2 105.1l1.4 0.2M139.9 96.6l2.2 0.5M191.6 87.6l1.4 0.1M186.6 122.7l2.4 -0.0M248.6 79.3l2.2 0.3M101.4 122.9l1.9 -0.7M227.8 87.4l2.1 -1.4M287.0 70.5l2.5 -0.6M247.4 52.1l1.7 0.6M364.7 68.6l2.4 -0.4M64.6 174.3l1.5 -0.1M298.0 63.4l1.8 0.1M287.9 71.4l2.2 -0.5M133.7 111.7l2.0 0.7M180.6 115.3l2.3 0.6M157.4 95.9l1.5 -0.3M309.1 84.3l1.3 -0.5M275.7 102.3l1.2 -0.2M167.7 107.8l2.0 -0.0M218.4 77.7l2.2 0.8M166.3 115.2l1.8 -0.2M210.7 85.1l1.0 -0.1M124.8 114.7l1.5 0.8M224.1 85.0l1.4 0.1M302.6 83.7l1.8 -1.4M294.4 67.7l2.8 -0.1M279.5 66.7l1.8 0.2M192.3 101.9l2.1 -0.5M224.6 90.6l2.6 0.5M135.0 98.1l1.6 0.0M308.5 95.5l2.4 -0.7M299.0 96.3l0.9 -0.2M276.8 100.2l1.1 0.2M282.3 98.1l2.1 0.4M234.0 108.9l2.1 -1.2M127.3 122.0l2.4 0.0M218.8 78.5l0.4 -1.1M273.7 56.5l1.3 0.2M231.0 74.2l3.0 -0.2M281.5 95.4l0.6 -0.7M49.7 152.7l1.2 -0.3M210.1 64.7l2.6 1.6M265.0 96.1l1.6 -0.9M221.0 66.6l1.6 -0.5M221.0 87.8l2.0 -1.5M172.5 120.3l1.0 -0.4M191.3 100.6l0.8 0.0M257.4 82.3l2.2 -1.3M164.6 94.1l1.3 -0.5M203.0 77.7l3.0 -0.6M112.7 109.3l1.6 0.2M106.1 137.1l1.0 0.1M99.6 154.0l1.9 -0.5M55.6 136.3l1.2 -0.7M357.3 90.2l1.2 -1.0M190.3 73.9l2.3 -0.2M191.8 85.3l1.9 -0.3M47.0 182.3l0.9 -0.3M131.8 110.6l1.4 -0.7M165.8 103.6l2.1 -1.7M89.1 145.0l1.2 -0.5M271.2 64.6l1.2 -1.8M213.6 83.7l2.1 -1.4M352.2 75.9l2.6 -0.2M284.3 78.1l1.4 0.0M256.3 81.9l1.6 -0.1M277.2 107.0l1.7 -0.9M215.8 72.4l1.5 -0.7M356.5 80.9l1.1 -0.4M354.1 83.0l2.8 -1.2M66.2 154.8l2.5 -0.1M48.2 184.8l2.7 1.0M311.8 69.6l1.1 -1.1M236.5 61.2l3.0 -0.3M360.6 66.7l1.2 1.6M356.8 67.7l2.2 -0.7M299.9 61.5l0.7 -0.5M266.8 64.9l0.8 -0.3M31.2 141.6l1.7 0.0M67.1 148.0l3.0 0.7M207.5 107.2l1.5 0.1M225.5 58.3l1.3 -0.1M186.5 105.3l2.0 0.3M53.7 200.0l2.6 0.8M243.5 110.0l2.8 0.6M197.1 116.5l1.3 0.9M95.6 107.1l3.1 0.2M281.1 67.9l1.1 -0.4M399.9 55.9l2.0 -0.3M106.2 99.5l1.2 0.2M288.7 74.3l2.7 0.7M217.2 86.9l1.2 -0.7M129.3 95.6l1.5 0.0M49.8 138.3l1.1 -0.2M212.5 66.0l2.5 -1.6M259.4 88.5l0.4 -1.9M225.7 81.9l0.7 -0.4M144.7 84.0l2.1 -1.2M288.9 98.2l3.0 -0.5M246.0 117.1l1.4 -1.9M201.7 92.5l0.9 -0.1M308.7 96.0l2.1 0.8M366.2 64.3l2.6 -0.9M86.7 123.7l2.1 -2.4M72.1 144.0l2.4 0.2" stroke="#adc8fb" stroke-width="1.50"/><path d="M132.2 134.4l2.3 -1.7M137.0 128.4l1.1 -0.3M85.7 154.0l0.9 -1.1M57.1 148.8l1.2 0.0M327.2 45.4l2.7 0.1M357.3 83.4l2.0 0.1M76.2 138.3l1.0 0.3M224.2 116.0l1.8 -0.3M159.2 92.7l2.7 -1.2M33.6 169.2l1.0 0.4M54.2 201.1l2.2 0.3M81.4 105.2l1.3 -1.0M238.1 114.9l2.7 -1.2M392.1 48.8l2.1 0.8M101.8 215.7l1.0 -0.7M58.6 163.0l2.5 1.5M107.7 144.9l2.4 -0.2M47.9 168.1l2.2 -0.7M170.3 81.4l1.3 0.4M44.9 197.8l1.7 0.3M331.2 54.1l1.5 -0.1M108.1 127.1l2.4 0.3M56.2 195.8l1.1 -0.8M453.0 64.5l1.0 0.7M130.5 131.4l2.6 -0.5M336.1 55.4l1.6 -1.6M156.5 122.6l1.6 -0.5M354.8 62.3l2.3 0.3M54.1 197.7l1.9 2.4M55.1 182.4l1.7 2.3M265.2 51.7l2.6 0.5M50.4 136.2l1.0 -0.4M84.2 109.2l1.2 -0.5M75.3 160.0l1.2 -0.2M100.8 114.7l2.7 -1.3M101.3 192.1l1.4 0.4M247.4 59.9l2.1 -1.8M237.4 56.8l2.2 1.4M303.9 61.9l1.0 0.3M122.9 83.3l2.8 0.4M206.9 132.4l1.1 0.2M72.7 148.9l2.1 0.3M339.8 99.4l1.2 0.8M53.3 141.7l3.1 -0.4M359.4 91.7l3.2 -0.4M359.7 96.1l0.9 -0.3M126.3 123.5l1.6 -0.3M66.4 151.3l2.5 0.7M157.5 116.0l2.4 0.6M171.6 84.3l1.7 -1.0M106.9 192.4l1.6 -0.3M336.1 77.8l2.5 0.0M45.8 128.8l2.0 0.5M333.0 57.9l2.7 -0.1M95.6 95.1l1.4 0.2M57.8 118.0l1.5 -1.9M351.1 65.5l1.4 -0.3M84.2 128.3l3.0 -1.1M392.1 72.3l0.6 -0.7M319.7 42.0l2.3 -2.0M45.6 198.6l1.4 -0.1M75.1 198.5l0.8 0.2M367.2 82.1l2.2 0.6M51.9 175.7l2.6 -1.2M64.0 180.6l2.2 0.4M109.0 98.6l1.0 -0.0M239.9 132.8l2.4 -0.5M333.9 87.3l1.3 -0.5M101.0 155.6l2.3 -0.1M41.4 169.3l2.5 1.7M86.6 186.7l2.0 0.9M378.8 77.7l0.7 -0.7M361.1 89.7l1.2 0.4M64.9 180.3l2.0 0.4M382.5 43.4l0.7 -0.8M162.6 103.7l1.7 1.9M351.1 78.1l1.4 -0.5M93.3 144.5l2.7 -0.4M163.9 90.3l1.5 2.1M322.0 66.1l2.4 0.4M85.3 149.4l1.8 0.1M71.2 155.0l2.4 -0.3M100.1 112.6l1.0 0.6M175.1 117.8l2.1 -2.1M94.1 167.4l1.2 -0.4M193.5 73.6l2.2 -0.6M51.3 170.6l0.9 -0.6M60.8 170.4l1.4 -2.4M143.8 134.3l2.1 0.3M109.5 110.9l2.6 0.8M61.3 200.6l1.2 1.3M65.9 169.3l2.4 2.0M319.1 79.6l1.2 -0.4M105.3 147.9l1.5 0.1M100.2 185.8l2.7 -0.1M78.1 202.0l1.9 -0.1M77.4 182.6l2.0 0.2M51.2 199.9l1.7 -0.3M119.8 138.4l0.9 -0.1M278.5 66.2l1.7 0.1M136.0 90.3l1.9 -1.1M256.5 66.6l2.1 -0.9M225.2 68.0l3.1 -0.5M100.5 189.6l2.5 -1.2M245.0 116.6l1.4 0.0M222.8 121.4l1.0 -0.5M161.5 94.3l2.4 1.3M336.6 47.2l0.9 0.0M92.2 195.0l1.1 1.0M110.9 141.9l2.4 -1.4M96.0 207.7l1.0 0.6M129.2 86.8l2.2 -1.3M117.5 97.3l0.8 0.3M28.9 169.3l2.3 -0.7M78.0 138.8l2.2 -0.2M99.9 115.8l2.0 -0.2M72.8 134.4l1.2 -0.5M74.9 205.1l1.3 0.8M47.5 157.2l1.9 -0.5M179.4 118.1l1.0 0.2M42.5 133.7l2.3 -1.3M169.7 80.1l2.0 -1.1M270.1 106.6l2.7 -1.4M327.3 79.0l3.1 -0.4M243.5 66.4l1.4 0.1M93.9 194.4l2.9 1.3M57.1 150.3l1.0 0.3M44.1 188.1l1.9 0.1M371.5 90.7l1.9 0.9M92.9 185.3l1.6 -0.1M316.6 51.0l2.9 1.3M96.2 211.0l1.4 -0.0M208.7 125.2l1.7 -1.5M327.3 66.1l1.6 -0.3M94.6 202.3l1.5 0.5M102.3 132.3l2.4 -1.9M120.8 116.4l1.6 -0.1M91.9 190.4l0.9 0.1M86.4 191.8l2.9 0.5M69.3 142.5l2.6 1.3M87.2 144.3l1.0 -0.7M73.4 125.3l3.1 -0.5M98.0 99.3l2.1 -0.5M123.1 90.4l1.9 0.5M388.3 84.3l1.6 1.9M67.5 176.3l0.8 0.3M72.0 196.9l2.6 1.5M69.9 132.0l1.5 -1.7M256.1 127.6l1.6 -0.4M164.1 98.6l0.7 -0.7M69.1 158.1l1.4 0.4M62.6 198.0l2.6 -0.3M63.3 126.1l1.9 0.5M309.3 118.0l1.8 0.4M89.9 164.5l2.7 -0.5M280.0 61.4l2.0 -0.8M230.3 58.9l2.9 0.3M325.8 49.9l1.8 0.4M241.4 65.5l1.6 -0.3M34.5 155.1l3.0 -0.1M133.1 94.5l1.0 -0.5M279.9 88.7l0.7 -0.5M139.4 117.5l2.2 -0.6M111.6 211.7l2.5 0.6M114.7 107.0l1.4 0.2M83.3 198.6l1.2 -0.0M108.1 132.0l0.9 0.2M42.2 193.0l1.9 -0.5M31.3 161.9l1.8 -0.7M76.8 172.8l1.2 0.1M370.8 54.2l1.6 -1.4M73.4 119.5l1.3 -0.6M273.4 58.1l1.3 0.0M134.1 113.1l2.3 0.6M211.2 102.3l3.0 0.8M337.9 112.2l1.0 -1.1M370.0 44.4l2.2 -1.9M77.3 121.3l1.0 -0.3M121.3 110.4l0.9 0.4M64.7 164.0l2.7 -1.4M348.6 108.5l0.8 -1.3M308.3 122.7l1.9 -0.2M75.0 201.3l2.2 1.7M87.9 156.7l1.2 -1.0M130.1 94.7l0.9 -0.4M287.9 57.9l2.3 -0.2M310.2 100.4l1.5 -1.0M96.4 154.2l2.7 -0.5M85.9 190.6l2.9 -0.5M97.1 174.9l1.7 0.1M425.2 79.1l1.0 -0.4M163.6 87.0l1.9 0.1M65.7 204.6l1.8 0.2M171.2 113.9l2.4 -1.5M140.9 126.4l2.5 0.2M58.0 195.4l1.6 0.1M238.2 60.2l1.0 -0.8M347.6 105.1l2.2 -0.4M196.0 98.5l0.9 0.2M266.8 105.9l2.5 -0.0M196.9 62.4l1.3 1.4M351.1 76.1l3.0 0.4M165.1 96.2l2.6 -1.6M88.5 203.2l1.9 -1.4M190.3 86.8l1.0 0.7M257.9 130.3l1.3 -0.1M128.7 97.6l1.6 0.5M80.7 112.9l1.2 -0.1M411.4 53.8l2.0 1.9M120.4 111.6l2.5 -0.7M339.5 94.2l1.4 0.2M73.2 183.4l3.0 -0.1M106.9 109.5l0.9 -0.6M75.7 154.6l2.3 -0.3M138.7 88.6l1.4 -0.2M341.4 79.6l1.0 -0.0M96.9 167.0l0.9 -0.7M79.6 196.0l2.7 -1.5M312.4 114.6l1.4 2.2M49.4 182.9l2.5 0.7M107.6 208.3l0.9 0.3M67.0 153.9l2.1 0.9M76.3 183.2l3.2 -0.2M148.5 85.5l3.0 0.3M159.2 82.2l2.1 -0.7M72.8 188.4l3.1 -0.5M60.4 190.9l1.6 0.4M343.3 88.2l1.9 0.1M108.6 124.3l1.8 -0.7M51.7 157.4l2.2 0.2M71.3 129.9l1.2 0.6M119.7 102.5l1.0 -0.3M44.6 192.4l2.2 -0.2M315.8 58.5l2.8 0.2M102.9 114.4l3.1 -0.0M99.1 174.5l1.2 -0.1M87.8 110.0l1.1 -1.5M358.4 63.2l2.1 -0.2M263.8 120.5l2.0 0.3M111.5 131.1l0.8 -0.2M72.3 197.2l1.1 0.3M227.5 68.8l2.8 1.1M79.2 139.3l2.6 1.4M403.7 91.9l2.8 -0.8M131.9 126.0l1.3 0.1M336.0 103.9l2.1 -1.8M286.0 125.8l1.4 -0.9M418.7 89.7l2.3 -1.3M82.7 114.6l2.1 -0.8M103.5 185.1l1.7 1.0M390.7 94.7l2.3 0.2M296.1 44.0l1.1 -0.0M335.7 44.7l1.5 0.8M355.7 58.9l2.1 -1.4M102.3 179.9l2.3 0.9M445.6 52.5l2.3 -0.1M104.0 209.2l1.2 -0.2M52.2 125.9l3.1 0.4M101.9 129.3l1.7 -0.3M71.3 132.0l2.5 -0.9M162.1 93.6l3.1 0.2M421.6 49.6l2.4 -0.0M83.3 195.8l1.0 0.2M388.5 77.4l1.5 -1.4M279.6 66.2l0.8 -1.3M86.3 188.3l1.0 -0.0M51.4 162.9l1.9 0.4M65.5 208.4l2.4 0.7M83.5 145.9l3.2 0.1M412.1 62.8l2.6 -0.1M101.9 200.8l1.4 0.9M76.7 191.1l1.2 1.3M79.8 194.2l1.7 0.0M146.6 98.8l1.2 -0.4M244.7 56.4l0.7 -0.9M389.5 90.4l1.1 -0.1" stroke="#e96c5a" stroke-width="1.30"/><path d="M139.9 107.8l1.8 -2.1M253.6 52.8l3.1 0.8M330.9 85.9l2.7 -0.6M181.4 105.8l1.1 -0.1M245.1 83.3l2.2 0.9M244.5 67.1l1.7 0.3M87.7 139.8l2.2 0.8M155.4 98.9l2.7 -0.9M322.2 91.0l2.8 0.3M202.2 75.3l2.5 -1.1M212.6 93.8l2.2 -0.1M180.6 82.7l2.0 -1.2M184.4 130.4l0.7 -3.0M123.5 118.7l1.6 -0.0M287.4 82.3l3.0 -0.9M307.3 62.0l1.0 -0.5M171.0 95.3l1.5 -0.1M249.0 119.1l2.2 0.2M293.7 86.6l0.5 -1.0M261.7 101.5l3.0 0.5M256.9 76.5l1.7 1.2M239.1 69.3l1.6 0.2M155.8 85.3l0.9 0.4M215.7 79.4l1.7 0.4M219.7 123.8l1.9 0.3M201.3 93.7l1.0 -0.8M41.8 190.6l1.3 0.9M235.1 77.9l0.6 -3.0M184.5 93.3l0.8 -0.8M92.6 98.0l1.0 -0.0M170.9 82.9l1.7 0.1M147.0 113.2l2.8 -0.7M276.1 99.8l1.0 -1.0M239.2 79.0l0.8 -0.8M198.9 107.3l1.1 0.6M149.8 104.8l1.5 -0.4M88.2 121.5l1.0 0.1M292.9 70.5l1.5 -0.2M257.3 75.6l1.8 -0.2M246.9 98.1l2.2 -0.3M219.9 111.8l1.5 -0.6M215.8 83.4l2.7 -1.4M252.0 84.3l1.8 -0.1M164.4 112.1l2.5 0.2M353.9 72.0l1.7 -0.1M318.8 51.2l0.8 -0.1M133.1 95.5l2.4 -0.2M241.2 64.1l1.4 0.7M168.1 115.8l1.0 -0.6M263.3 53.7l2.4 0.8M308.5 72.0l2.4 0.5M274.9 61.2l2.6 -1.2M303.5 90.1l1.2 -0.8M357.7 73.0l2.5 -0.9M354.2 57.4l1.6 1.4M208.9 116.8l2.8 0.6M267.2 59.9l2.5 0.4M229.2 77.2l1.3 -0.4M143.1 83.9l0.9 0.3M59.0 154.9l2.7 0.5M305.0 68.3l3.0 0.3M124.2 102.1l2.2 -0.4M179.1 105.9l1.6 -0.2M212.3 101.2l2.2 0.3M291.9 77.2l1.9 -0.8M315.1 95.9l1.4 -0.4M205.5 68.5l1.8 0.3M373.3 76.0l0.9 -0.7M277.0 98.6l2.7 1.3M287.3 83.5l1.8 -0.1M322.4 92.5l1.3 2.2M339.0 70.1l2.3 -1.2M213.4 95.9l1.6 -1.2M368.1 72.6l2.2 0.2M290.4 91.2l3.1 -0.7M247.3 106.7l1.1 0.3M180.3 92.9l1.3 0.6M53.7 175.9l2.2 1.2M243.0 53.0l1.2 -2.2M246.0 87.3l2.5 -0.7M360.2 76.8l2.2 -0.3M185.9 95.3l1.4 0.5M216.0 92.4l2.5 -2.0M198.0 88.0l2.1 -1.5M41.5 175.7l2.8 0.6M219.8 100.7l2.9 0.9M176.9 112.8l1.1 0.5M59.7 190.0l1.0 -0.2M58.5 127.4l3.1 -0.6M104.3 122.0l1.8 -0.9M300.5 65.1l2.0 -0.5M151.4 74.5l1.9 -0.1M284.5 77.7l3.0 -0.2M217.2 105.3l1.1 -0.4M233.4 79.9l0.8 -0.1M43.8 183.5l0.7 0.5M312.0 79.5l0.9 0.2M316.5 77.7l2.1 0.8M301.3 103.8l1.2 -0.4M197.1 72.0l2.9 1.1M218.3 111.5l1.0 -0.2M180.8 109.8l0.9 -0.2M186.4 101.3l2.9 -0.3M40.0 176.4l2.0 0.3M209.7 96.7l2.4 -0.3M271.3 79.4l1.6 -0.5M236.3 80.8l1.5 0.2M52.1 196.3l1.4 0.8M309.4 90.0l1.0 0.2M265.5 84.3l1.7 0.0M242.7 69.7l1.8 0.1M261.1 105.6l1.9 -0.6M112.7 97.4l2.5 -1.3M287.4 83.2l2.1 -0.3M340.7 70.9l2.5 0.2M141.9 95.9l2.0 1.0M178.1 90.5l1.2 -1.4M214.7 64.8l2.2 -1.9M223.5 55.6l1.3 0.1M61.5 169.2l2.1 1.4M227.2 88.5l2.6 0.1M73.9 145.4l1.5 0.2M187.2 98.3l2.6 -0.0M75.1 167.4l1.6 -0.5M335.2 74.5l1.2 -0.5M317.0 66.9l1.1 -0.2M296.9 66.8l1.5 0.3M228.1 110.1l1.5 -0.8M80.3 182.3l0.6 0.8M350.5 71.5l2.9 0.6M351.6 70.2l1.0 -0.1M238.0 82.6l1.4 -0.7M43.8 179.6l1.9 1.1M291.7 93.0l0.9 -1.1M181.8 85.9l0.9 0.3M258.5 89.7l2.9 -0.6M231.1 75.3l1.3 -0.1M242.5 96.0l0.7 -0.8M231.5 62.1l0.8 0.6M202.4 100.7l2.3 -0.3M302.8 77.9l2.2 -0.2M151.5 118.1l1.7 0.6M37.1 129.6l2.0 -0.2M241.4 132.1l2.4 -0.9M220.1 91.3l2.8 -0.6M222.9 76.5l0.9 -0.9M277.4 75.9l2.2 -1.1M159.5 90.9l1.8 0.2M257.0 80.5l1.1 -0.3M351.0 78.0l1.9 -0.1M347.9 89.2l1.7 -0.9M90.7 186.4l2.2 -0.4M200.3 89.3l2.1 -1.8M66.9 167.1l1.2 0.5M322.5 75.4l2.7 -0.4M320.8 67.7l1.6 -0.1M298.6 92.9l1.1 0.0M43.7 172.8l1.9 1.8M292.0 88.1l3.0 -0.7M322.2 59.0l1.2 -1.0M211.9 114.1l1.7 -1.7M263.7 102.2l3.1 -0.1M201.1 92.0l2.4 -0.2M109.5 112.6l2.5 -1.4M63.5 174.4l1.7 -0.3M39.5 195.4l3.0 0.7M92.7 120.3l1.1 -0.6M220.3 99.1l2.8 -0.9M298.2 111.2l1.8 1.0M226.2 118.7l1.3 0.4M115.5 104.6l0.8 -0.1M227.4 89.5l1.2 1.2M219.9 105.3l1.9 -0.9M282.5 78.6l1.5 -1.9M240.1 91.4l1.6 -0.4M192.8 82.0l2.2 -0.8M325.5 99.1l1.8 -1.9M268.7 79.7l2.3 -1.0M253.5 58.9l3.0 -0.3M319.3 86.4l2.3 -1.0M83.6 134.8l1.9 -1.5M158.0 88.1l2.7 -1.2M270.5 92.4l1.0 0.3M67.9 174.5l2.3 0.4M255.9 97.1l2.2 1.4M341.0 68.1l2.2 -1.9M220.7 95.1l2.7 0.7M295.4 77.3l1.0 -0.7M319.6 85.7l2.0 -0.3M196.6 98.3l1.6 0.3M347.9 75.6l2.0 -1.7M284.1 73.3l1.7 -1.1M107.4 137.7l2.9 -1.3M334.3 71.6l3.1 -0.5M189.5 77.1l1.9 0.4M299.3 98.6l1.4 -0.1M242.2 71.1l3.1 0.4M148.5 95.4l1.2 -0.5M310.2 76.2l1.5 0.1M79.1 194.1l2.8 -1.0M361.4 70.4l2.8 0.2M225.5 89.0l1.1 -0.5M216.3 59.0l2.6 1.4M103.7 119.4l2.1 -1.2M101.9 133.0l1.4 -0.2M236.4 104.4l2.2 -0.4M64.4 202.5l1.7 -0.8M202.8 96.8l1.7 -1.0M246.0 107.5l1.3 -0.2M65.4 134.4l3.0 0.5M220.1 77.0l2.2 0.0M231.3 87.9l0.7 -0.5M162.8 99.4l1.9 0.4M253.4 51.2l2.4 0.2M235.2 106.4l3.0 0.5M248.5 72.5l1.7 -1.7M147.5 88.9l1.5 -0.4M213.7 103.5l1.6 0.3M296.1 100.5l1.8 -0.7M292.2 72.0l1.2 0.1M206.9 71.3l1.6 -1.6M191.5 85.1l2.5 0.8M312.5 88.1l2.2 0.1M234.4 96.5l1.5 0.7M209.1 87.7l1.2 0.0M296.7 65.4l1.5 -0.2M71.5 174.1l1.2 -0.3M60.5 171.5l2.3 0.4M286.3 98.3l2.5 0.2M85.7 195.1l2.2 -0.0M94.6 180.2l1.6 0.8M219.0 86.8l1.5 1.1M277.5 74.2l2.0 -0.9M276.5 88.4l2.9 -0.6M269.1 78.9l2.4 -1.7M342.2 76.2l1.5 -0.6M341.4 74.4l1.1 -0.1M291.1 74.0l1.6 -2.0M339.8 72.0l1.3 0.4M70.1 180.3l0.8 0.2M368.3 79.6l1.0 -1.5M288.7 68.7l1.9 -1.8M69.2 200.8l0.7 0.6M304.0 80.2l2.8 -1.0M210.3 107.7l1.9 -0.9M305.5 75.8l1.1 0.4M305.1 103.8l0.8 -1.9M315.1 59.8l2.0 -0.9M301.9 87.0l3.1 -0.1M135.1 109.9l2.6 -0.6M287.6 107.5l2.9 0.7M360.9 53.3l1.7 -0.3M321.5 80.9l2.9 -1.3M221.8 90.5l1.1 0.0M234.8 127.4l1.5 -0.1M320.8 61.4l1.3 -0.8M212.3 111.7l1.5 0.5M336.9 80.3l1.6 -0.2M43.7 169.2l1.1 -0.4M292.0 78.3l2.9 0.6M205.3 103.4l1.0 -1.0M166.8 114.0l3.0 0.5M209.7 79.4l2.6 -1.5M237.0 99.3l2.6 0.0M164.5 81.2l0.8 -1.9M105.7 91.2l1.4 1.1M88.9 173.0l0.6 -0.8M209.9 73.3l1.2 -0.6M64.7 158.0l2.6 0.6M260.6 82.0l2.5 -0.5M181.0 106.3l2.4 0.1M230.6 100.7l2.3 -1.8M318.3 69.3l2.7 0.3M154.6 97.6l0.9 0.4M372.7 59.4l2.1 -1.9M225.4 66.2l1.2 -0.1M299.1 58.2l0.8 -0.4M354.8 73.0l2.7 -0.4M237.8 85.8l1.7 -0.2M292.6 84.9l0.9 0.3M220.2 89.5l3.0 0.4M94.0 96.0l1.4 0.3M287.5 78.3l1.0 -0.4M215.2 85.6l1.9 0.0M74.6 189.6l2.8 -1.3M204.9 66.4l2.7 1.3M81.8 154.4l2.4 0.3M307.0 90.1l2.2 -1.5M346.3 67.2l0.8 -0.3M245.0 59.5l2.3 -1.1M192.0 97.8l1.3 -0.1M203.0 96.3l0.9 0.3M315.2 77.5l1.8 -0.5M291.0 82.1l2.1 -0.5M324.4 73.6l0.5 -1.1M262.6 61.1l1.1 -0.2M54.1 160.5l1.9 1.9M57.2 140.6l2.7 0.8M275.6 79.4l0.9 -0.3M64.6 174.1l2.0 -0.5M251.8 112.0l2.6 0.6M294.3 90.8l1.4 0.5M194.1 117.4l1.3 0.4M193.9 97.1l2.1 -0.2M73.6 203.9l2.7 0.4M333.4 76.4l1.9 0.5M277.4 79.4l0.8 0.4M234.6 74.5l3.1 -0.3M311.6 80.1l1.4 -0.9M81.3 150.8l2.1 0.2M98.6 150.0l2.9 0.0M269.7 92.6l1.0 1.3M227.7 83.7l1.9 -0.3M340.2 69.1l1.2 -0.5M46.3 176.0l1.8 0.1M126.6 107.7l1.7 -0.3M256.9 92.0l1.2 -0.2M213.3 68.9l2.1 -0.7M277.9 75.1l1.2 -0.1M217.6 107.9l0.7 0.6M212.8 73.8l1.8 0.4M145.0 100.3l1.8 -0.3M44.5 156.6l1.8 -0.7M311.1 102.4l1.2 0.2M337.6 61.7l1.8 0.4M213.1 70.8l3.0 0.9M196.0 77.5l1.4 -0.3M279.2 105.7l2.3 0.6M256.7 99.1l2.5 0.7M293.3 75.3l2.2 -0.6M164.9 98.9l1.2 0.2M223.1 68.3l1.8 -0.5M190.6 94.9l1.5 -0.7M200.0 96.5l3.1 -0.3M188.7 91.1l2.2 -0.3M72.9 193.4l2.6 1.6M304.8 57.1l3.1 0.7M266.1 102.6l2.0 -0.7M372.6 68.8l1.8 0.6M259.4 100.5l1.2 -0.7M314.9 105.2l2.4 -0.1M290.3 90.8l2.9 -1.2M274.6 80.2l1.5 -0.9M107.7 92.1l2.3 0.9M390.2 69.3l1.8 0.0M166.2 88.9l1.5 -0.1M139.8 89.3l1.7 -0.2M300.1 98.0l1.4 -1.2M250.6 73.5l2.5 -0.9M221.8 90.2l1.4 -0.7M105.2 117.8l0.9 0.4M284.4 61.7l0.8 -1.2M188.9 80.6l2.3 0.2M350.5 74.5l1.1 -0.1M241.9 56.3l2.7 -0.1M289.1 57.3l0.7 -0.5M105.1 107.2l1.5 -0.7M279.0 77.2l0.7 -0.4M337.5 65.6l1.4 -0.3M217.2 79.2l1.2 -0.6M234.5 62.8l1.4 0.3M234.6 60.2l0.9 -0.7M89.2 104.3l0.4 -0.9M46.3 173.5l2.8 0.7M118.8 86.4l1.1 0.2M93.3 104.7l2.5 0.8M252.5 110.3l2.3 -0.7M312.1 66.9l0.6 -0.7M334.4 70.7l2.5 0.3M90.7 161.5l1.2 0.4M298.2 97.6l2.6 -0.8M285.6 92.8l2.5 -0.4M36.6 168.3l1.9 -0.2M125.2 110.7l1.3 -0.1M220.8 107.8l1.1 -0.8M213.3 85.7l1.4 -0.2M216.3 101.6l2.1 -1.0M290.5 55.8l0.8 -0.4M289.9 73.1l2.1 1.8M203.4 110.9l1.5 -1.4M261.5 94.8l2.3 -1.1M114.4 129.1l2.0 0.4M295.3 60.6l1.5 -0.4M278.4 74.2l2.1 -1.5M214.6 103.6l2.8 1.3M278.6 74.6l3.0 -0.5M325.5 101.0l1.6 -0.2M244.4 87.0l1.3 0.1M218.7 80.6l1.8 -0.6M205.2 110.7l1.0 0.3M264.5 78.8l2.3 -0.5M195.3 69.8l0.9 -0.5M294.9 84.2l1.6 -1.1M281.5 51.2l1.3 0.0M319.7 86.5l1.3 0.1M200.5 77.8l2.6 0.7M223.1 78.1l2.7 -0.1M169.6 76.6l1.4 -0.4M151.2 101.5l1.6 -0.3M61.7 134.9l1.3 -0.8M221.2 105.9l3.0 0.2M179.4 95.4l1.2 0.0M284.4 98.2l1.3 -0.1M319.5 63.7l2.2 0.6M276.3 96.7l2.0 -0.3M207.9 66.8l2.2 0.3M250.9 74.7l1.2 -0.1M98.3 130.3l2.9 0.5M297.2 69.5l2.7 0.7M325.3 70.0l1.1 0.5M137.6 108.1l0.9 0.2M267.0 109.5l1.7 -0.9M231.7 70.6l0.8 -0.3M292.5 94.1l2.5 -0.6M306.7 48.5l3.0 -1.0M284.3 89.8l2.5 -0.5M292.0 72.5l0.9 -0.3M337.4 61.2l1.7 -0.5M242.6 83.8l2.1 0.1M278.0 90.6l3.2 0.1M327.1 87.4l2.3 -0.8M222.0 77.6l2.1 0.1M296.8 70.9l2.7 0.3M280.4 105.3l1.7 -0.4M84.2 209.8l1.2 1.0M241.3 82.2l1.5 -0.9M233.9 54.8l2.1 -1.9M248.4 76.3l1.8 1.2M103.3 114.9l1.2 -0.0M248.1 79.5l1.2 0.2M240.9 96.5l0.8 -0.1M169.7 83.3l2.9 0.4M231.3 84.2l1.2 0.5M210.0 112.1l0.6 0.7M36.7 150.1l1.7 -0.8M222.1 99.0l1.3 -0.8M216.2 64.5l1.5 -0.5M229.9 79.6l1.8 0.2M217.8 99.3l3.0 0.6M300.3 78.2l2.7 -0.9M277.7 87.0l1.5 0.5M105.8 106.7l2.4 0.3M53.5 159.5l0.9 0.2" stroke="#8fb0fc" stroke-width="1.30"/><path d="M39.1 194.0l2.1 0.2M70.7 192.8l2.2 1.1M83.0 204.7l2.7 -0.1M76.1 200.6l0.7 0.5M91.3 183.0l0.9 0.6M137.1 105.7l2.2 -1.7M346.8 62.6l1.8 0.6M56.7 165.5l1.5 0.2M38.3 150.3l2.9 -1.0M46.3 177.2l1.4 -0.3M72.9 157.1l2.3 -0.1M127.2 124.0l2.5 -0.3M344.4 44.7l1.0 -0.0M116.8 91.9l0.9 0.1M194.8 97.4l2.4 0.2M103.8 109.6l1.7 -0.0M95.8 124.0l1.2 -0.7M87.6 160.4l0.8 0.1M92.4 102.9l2.3 -1.3M381.5 52.4l1.7 -0.2M322.5 69.0l3.0 -0.2M63.3 130.4l1.1 0.7M363.6 62.1l1.9 -1.8M99.2 106.0l1.5 -1.4M201.2 120.2l0.9 -0.1M99.6 135.2l1.6 -0.5M48.3 171.8l1.5 0.0M82.8 186.0l1.9 1.7M405.2 66.0l1.9 0.8M92.6 149.0l2.6 0.5M98.3 205.2l1.3 -0.2M72.6 158.1l1.3 -0.4M44.9 159.4l1.7 -1.4M60.2 192.2l1.5 0.2M335.5 98.4l1.8 0.7M323.1 55.2l2.6 -0.3M53.0 168.4l2.4 1.5M354.3 106.1l1.0 -0.2M337.5 90.1l3.0 0.9M75.8 173.6l1.5 -0.6M108.9 210.1l2.0 -0.4M56.1 179.0l0.9 0.4M336.8 109.0l2.2 -0.2M242.6 134.2l2.5 0.4M350.3 104.6l1.5 -1.3M169.5 115.3l2.2 -0.0M89.2 204.1l2.3 1.1M45.9 177.3l1.5 0.6M50.0 185.6l1.5 0.4M55.5 189.8l2.4 0.1M54.4 160.3l1.1 -1.7M80.9 203.4l0.6 1.0M122.2 129.9l2.3 -1.1M56.6 167.3l2.6 0.2M363.9 57.2l2.6 -0.6M124.5 126.6l2.2 -0.1M79.2 134.1l0.8 -0.1M121.4 126.5l1.1 0.2M379.2 46.5l2.7 0.1M46.7 166.7l1.0 -0.7M79.0 159.5l2.6 0.3M183.3 99.2l1.8 0.2M278.9 59.0l0.8 -0.6M106.2 200.1l1.6 0.9M115.4 131.0l2.5 -0.8M338.3 55.5l0.7 -0.7M115.5 137.3l0.9 -3.0M73.3 135.0l0.5 1.7M144.7 100.2l2.2 -1.0M81.7 166.7l1.7 -0.8M145.1 86.7l1.6 -1.0M113.9 111.3l1.0 -0.6M79.4 203.0l1.7 -0.5M63.2 198.1l2.6 -0.8M158.5 93.8l1.4 -0.0M111.0 134.8l3.0 -0.1M386.1 86.9l2.1 0.1M72.5 143.6l2.4 -0.6M71.5 155.5l1.1 0.2M426.5 69.6l1.1 -2.2M73.8 207.2l0.8 0.1M114.7 90.7l1.7 0.8M240.9 57.7l0.9 -0.5M61.3 188.7l2.8 -0.6M92.2 107.7l1.6 -0.7M87.9 123.1l1.8 -0.2M70.3 127.1l1.9 0.3M100.6 95.1l1.6 -1.4M100.5 215.9l0.8 0.4M83.4 165.6l1.2 0.7M370.3 76.7l2.1 -0.9M83.9 197.7l2.1 1.8M137.4 108.1l1.7 -1.4M95.6 193.8l1.2 1.0M61.0 154.9l2.2 2.0M236.1 122.5l1.8 -0.3M146.9 79.6l1.4 0.6M92.8 195.0l1.5 -0.2M120.3 217.6l1.3 0.1M100.6 119.3l3.0 0.1M93.1 102.1l0.9 0.4M153.8 101.0l2.5 -0.2M77.8 171.7l2.1 -1.2M76.8 208.5l2.1 0.4M101.1 99.4l2.0 -0.4M83.8 165.5l1.6 -1.8M83.9 163.8l1.9 1.8M61.7 144.2l2.9 -0.1M205.0 76.8l1.5 -0.3M292.8 109.4l3.1 -0.4M80.3 168.4l1.9 0.5M399.2 49.6l1.3 0.8M115.3 133.7l2.2 0.2M99.9 92.9l1.8 -1.0M120.6 136.2l1.5 -0.3M121.6 130.6l1.0 -0.0M98.5 168.7l2.0 0.6M94.0 111.0l1.8 -1.1M362.5 35.7l2.8 -1.2M342.3 41.6l2.5 -0.2M99.1 120.3l2.3 -1.2M92.3 185.5l2.3 1.3M101.8 109.2l0.9 0.3M366.4 63.2l0.8 -0.3M312.5 106.2l2.6 0.6M81.5 129.4l0.7 -1.5M147.4 99.1l2.2 0.2M88.1 199.8l0.8 1.5M49.4 148.2l3.2 -0.2M166.9 82.3l2.1 -0.9M151.4 111.6l1.7 0.1M64.4 195.0l2.4 0.7M94.2 199.3l2.8 1.0M54.5 182.5l2.9 -1.1M71.7 182.6l1.2 -0.6M65.2 128.1l2.2 -0.9M65.9 146.7l0.9 0.1M73.0 188.8l2.4 0.1M79.5 151.0l2.3 -2.2M155.2 112.4l2.1 -1.2M222.0 120.7l2.8 0.2M264.9 49.1l2.5 0.2M162.6 91.5l1.2 0.2M79.7 186.7l1.1 0.0M84.9 141.7l3.2 -0.1M75.4 122.3l1.7 -0.3M114.5 121.8l2.0 -2.2M77.8 110.2l3.0 -0.7M66.2 140.9l1.0 -0.4M167.0 109.3l1.1 -0.1M51.7 148.5l2.0 0.6M104.7 107.4l2.6 -0.0M71.2 193.7l2.3 0.7M102.0 115.5l2.2 1.1M150.6 102.8l1.0 -0.4M105.2 139.3l3.0 -1.0M185.0 117.7l1.5 0.2M357.0 72.4l2.3 -0.3M37.5 163.0l2.8 -1.1M68.5 202.1l2.8 1.1M95.6 194.6l1.4 0.0M68.4 183.3l2.6 1.7M88.6 163.1l2.3 -0.6M68.0 117.8l1.2 0.1M118.0 114.8l2.2 0.7M90.3 113.1l1.8 -1.0M81.7 112.6l3.0 -0.6M98.1 121.5l2.4 0.3M45.6 143.3l0.9 1.1M52.0 150.6l2.3 -0.7M88.7 143.2l0.8 -0.1M83.7 136.5l0.8 -1.0M128.2 99.6l1.6 0.5M335.8 68.0l1.4 -0.7M119.7 102.3l1.3 -0.5M65.1 174.8l1.6 -0.9M85.6 148.2l2.0 0.3M72.4 141.5l1.5 -2.3M120.6 94.7l1.1 -1.2M136.4 103.6l2.3 -0.1M42.5 179.4l0.8 0.6M103.3 186.3l1.9 0.0M82.6 192.3l2.6 0.5M267.0 126.0l2.2 -0.1M387.5 60.8l2.5 0.2M71.7 173.4l1.2 -0.1M122.2 130.8l1.8 -1.8M163.7 104.6l1.9 -0.7M173.4 95.5l2.4 -0.2M114.5 122.7l2.0 0.5M385.8 75.0l1.2 0.0M133.1 120.3l1.5 -1.2M90.0 189.1l2.1 0.2M159.3 101.8l1.8 0.8M36.0 183.6l2.8 0.0M127.6 132.0l2.8 -1.5M315.4 103.7l1.6 -1.0M336.6 66.8l2.6 -0.1M64.5 158.6l1.3 -1.8M191.6 65.3l1.0 0.5M93.1 110.6l0.8 -0.1M285.1 123.3l0.8 -0.1M74.5 145.3l2.4 -0.6M101.2 189.0l2.7 -0.0M94.9 203.5l1.1 -0.7M85.9 125.8l2.4 -1.1M357.1 104.8l2.4 -1.9M47.4 167.5l2.6 -0.8M250.6 128.2l2.4 -0.2M83.0 164.8l0.9 -0.2M368.1 82.1l2.2 -0.7M56.3 183.6l2.5 -1.1M73.7 198.5l2.8 1.3M221.1 103.8l1.6 -1.7M37.6 134.6l2.6 1.1M343.0 50.0l1.3 -1.5M84.1 131.0l0.8 -0.2M101.9 112.6l1.6 -0.2M371.2 90.3l0.8 0.2M98.3 154.3l2.1 0.5" stroke="#d63c3c" stroke-width="1.10"/><path d="M294.7 69.4l2.7 1.6M324.4 83.3l0.9 0.2M81.7 197.9l0.9 -0.4M241.2 72.1l1.8 0.7M370.1 59.1l1.8 1.3M236.0 102.2l2.0 -0.3M110.9 121.8l2.5 0.7M253.0 75.2l2.3 0.5M158.0 100.3l1.5 -1.3M193.1 83.4l0.8 0.2M231.5 71.7l0.7 -0.4M206.1 95.2l0.9 -0.2M40.6 157.1l1.8 -0.8M233.5 77.5l1.5 0.8M248.7 105.6l2.6 -1.0M296.5 67.5l2.3 -2.2M317.8 87.1l1.7 -0.4M43.6 140.7l1.8 0.2M146.3 112.1l1.5 -0.8M132.0 102.0l1.5 0.3M199.4 72.3l1.1 -0.9M250.1 68.7l1.2 -0.9M257.6 90.5l2.6 0.6M238.6 116.8l2.5 -0.6M159.2 97.7l3.2 0.1M236.6 84.6l1.9 -0.4M273.3 70.1l2.6 -0.7M210.4 57.9l1.1 -0.7M331.7 73.9l1.4 0.1M95.4 155.7l0.7 -0.8M227.4 70.2l1.3 -1.2M140.9 114.6l1.2 -0.2M307.5 98.6l1.2 -0.3M224.0 102.1l2.1 -0.4M66.2 200.1l2.5 -0.7M353.2 69.3l2.6 0.2M130.4 91.7l1.4 0.5M185.9 75.2l2.5 -0.9M231.1 80.2l2.4 -0.3M242.9 103.7l2.1 0.6M266.7 83.7l1.3 -0.6M323.5 73.0l1.7 0.6M266.9 55.1l2.3 1.3M212.3 90.4l1.3 -0.5M228.7 92.5l1.4 -0.4M215.0 84.5l2.6 -0.4M194.1 104.8l1.9 0.5M235.0 73.4l2.5 -0.3M203.1 77.6l1.5 0.1M292.1 96.4l2.8 0.1M324.4 102.7l0.8 -0.4M388.1 80.8l2.9 0.9M253.6 104.6l1.0 -0.6M232.0 83.6l1.6 0.2M159.1 95.5l2.5 -0.2M74.3 147.7l3.0 -0.2M209.2 108.4l2.2 -1.0M215.2 69.4l2.7 0.7M81.2 107.1l1.9 1.0M209.7 78.7l2.8 0.5M282.4 87.7l0.9 -1.6M279.0 73.6l2.1 -1.2M211.3 82.5l2.8 0.7M80.1 126.2l0.8 -0.1M192.7 74.3l1.4 -0.9M222.0 62.9l1.8 1.1M127.3 104.8l1.2 0.7M232.1 95.1l2.7 0.8M192.9 69.4l1.5 0.7M313.0 102.6l2.9 -1.3M345.9 72.9l1.8 0.4M241.4 62.5l2.3 -1.0M170.7 101.5l0.8 0.5M232.0 93.2l2.2 -1.5M286.8 72.3l1.3 -0.2M290.3 55.2l2.1 -0.2M246.0 77.4l0.8 -0.3M198.2 84.2l2.5 0.7M127.5 98.3l3.0 -0.8M238.2 99.8l1.4 -0.1M242.3 91.2l1.1 0.4M229.2 76.2l2.5 1.3M231.9 127.7l1.5 -0.9M223.8 90.9l1.7 -0.0M352.7 77.8l2.6 0.8M199.1 91.9l1.2 0.1M252.1 62.8l1.6 -0.8M210.8 88.3l1.2 -0.2M117.5 89.2l1.1 -0.1M207.0 114.9l2.8 -1.0M242.8 71.1l1.6 -1.4M295.3 74.6l2.9 0.9M216.0 81.7l1.7 0.6M222.2 94.2l1.4 -1.1M215.0 77.7l2.6 -0.4M61.4 202.6l0.9 -2.4M169.6 111.1l2.4 -1.1M260.6 70.2l2.3 -1.7M272.9 68.6l1.0 -0.4M154.0 81.1l2.3 -0.2M293.4 68.9l1.3 -0.4M184.3 104.2l1.2 -0.8M233.5 88.6l1.0 -0.9M115.9 98.3l1.7 0.7M341.6 70.5l1.1 -1.4M190.8 83.9l0.8 0.4M281.9 84.1l1.0 0.3M303.4 107.2l2.2 -0.1M294.7 77.8l1.6 -1.5M52.5 193.9l2.0 0.9M391.6 76.4l2.1 -0.4M388.3 60.0l1.2 -0.1M219.4 84.2l1.3 0.2M175.3 99.2l1.1 0.2M345.0 90.4l2.6 0.4M262.4 78.2l2.1 1.4M209.2 105.9l1.2 -0.6M209.2 93.9l2.3 -0.5M318.4 49.7l2.1 -0.9M206.0 90.1l1.2 -0.2M198.3 91.6l0.8 -0.0M166.2 104.2l0.5 -1.3M304.9 81.0l1.0 0.1M285.1 106.7l1.1 -0.2M106.1 112.9l1.7 -0.5M252.4 79.8l1.2 -0.0M212.1 83.0l1.9 -0.2M180.8 100.5l0.8 -0.7M216.1 76.0l2.1 0.7M150.0 95.8l2.3 -1.0M201.0 60.3l1.2 -0.3M62.7 146.3l2.3 -1.4M294.0 50.5l2.2 1.4M192.4 97.3l3.1 -0.2M337.8 55.5l0.6 0.5M253.3 108.2l1.6 0.9M225.5 113.2l2.6 0.9M296.9 76.0l2.8 -0.7M132.8 100.3l1.4 0.5M40.1 186.4l1.9 -0.4M81.7 123.3l1.7 1.0M328.6 63.8l1.6 -0.1M268.1 95.7l2.0 -1.1M306.5 82.8l1.1 -0.1M211.9 84.7l2.6 0.6M145.8 97.3l2.8 0.3M310.9 65.5l1.4 -0.5M207.0 90.9l1.9 -0.3M219.5 90.6l1.9 -0.5M282.0 84.2l2.7 0.0M176.8 105.9l2.7 0.7M94.4 136.5l2.5 1.3M201.5 85.8l1.1 -0.0M258.7 89.7l2.6 0.7M196.7 100.2l2.4 0.9M291.5 70.0l1.2 0.0M233.4 97.6l0.8 -0.3M307.7 97.0l2.0 0.7M146.5 117.8l2.2 -0.6M303.0 103.0l1.6 0.4M220.8 91.3l1.2 -0.3M239.1 69.8l1.4 -0.0M242.6 75.5l1.0 -0.6M189.7 108.0l1.3 -0.4M215.6 108.4l1.4 0.6M83.5 98.4l1.3 -0.0M221.5 63.4l1.2 -0.5M186.0 109.6l1.3 -1.1M194.8 83.8l1.0 -0.0M242.8 72.1l2.5 0.7M277.2 103.7l0.9 -0.1M246.9 72.5l2.3 -1.9M237.0 76.6l2.8 0.8M335.3 97.0l1.2 -0.2M330.7 79.1l1.1 0.3M294.3 92.0l2.4 -1.2M252.2 77.7l2.0 0.8M195.7 72.4l2.2 -0.7M95.3 139.8l1.3 -0.3M175.1 122.8l1.7 -0.5M49.4 162.7l1.4 -0.2M211.0 110.4l1.2 -0.4M293.6 73.6l2.3 -1.9M336.1 69.8l2.2 -0.8M308.1 87.8l1.7 -0.4M200.4 93.4l2.7 -0.5M100.1 105.6l2.2 -2.2M266.6 92.3l0.9 -0.1M347.7 64.3l2.4 1.4M216.3 90.3l2.0 -0.3M226.2 86.8l1.9 -1.4M244.3 58.9l1.3 0.6M93.5 93.7l2.9 -0.4M216.0 116.6l1.8 0.6M108.7 101.2l0.7 0.5M153.2 79.0l1.2 1.0M242.2 83.3l1.3 -0.2M292.0 70.3l1.8 -1.3M269.2 99.9l1.2 -0.3M223.8 62.3l2.6 0.2M46.3 178.3l3.1 0.6M210.2 88.2l0.6 0.8M177.5 94.4l1.2 0.3M223.5 84.9l1.0 -0.1M207.0 70.4l2.3 -1.9M167.6 83.1l2.5 -0.6M247.1 101.8l3.1 0.0M335.5 78.3l2.1 -0.9M216.0 90.6l2.2 -0.2M79.8 162.1l2.5 -0.2M209.8 86.1l1.7 -1.2M343.4 80.1l2.9 -1.3M328.4 75.7l0.7 0.5M80.3 152.7l1.1 1.1M57.0 139.6l1.6 -0.8M207.9 78.0l1.8 0.5M260.8 92.5l1.8 -0.4M280.8 87.7l2.5 0.5M213.7 63.2l2.2 -0.3M119.3 123.5l0.4 -0.7M155.9 107.0l1.2 -1.0M99.0 186.9l1.2 -1.5M196.4 69.2l1.1 0.2M211.8 89.6l1.9 -0.1M300.7 64.8l1.2 -1.0M266.2 84.2l3.0 -0.3M228.7 72.3l0.8 0.6M208.3 94.7l0.9 0.3M319.2 76.6l1.2 -1.1M262.1 67.1l2.7 -0.9M88.8 205.3l1.0 1.4" stroke="#6a8cf0" stroke-width="1.10"/><path d="M63.6 156.4l2.6 0.2M101.9 134.6l1.5 -1.1M118.6 106.0l3.0 -0.5M113.1 143.3l2.1 0.7M112.7 104.3l0.6 -0.7M167.4 114.1l3.1 0.2M61.8 160.5l1.9 -0.1M48.9 168.5l2.1 -1.0M88.0 171.8l1.9 -0.1M117.6 117.6l1.0 0.0M99.1 158.6l0.9 0.5M154.0 117.2l2.0 -1.1M65.1 197.4l1.4 2.7M180.7 110.6l1.5 0.2M64.0 184.2l2.0 0.4M65.4 174.1l1.5 1.2M100.9 119.4l0.7 -0.5M79.9 155.2l1.6 -0.1M119.8 96.5l2.6 -0.3M86.6 149.6l2.7 1.5M344.4 76.0l3.1 -0.2M95.2 144.1l1.8 0.5M44.4 136.3l2.0 -0.3M81.3 138.6l0.8 -0.7M90.5 198.2l0.8 0.4M336.2 92.4l2.7 1.3M79.3 162.2l2.0 0.9M61.5 202.8l3.1 0.2M172.2 93.4l1.4 -1.4M117.5 101.6l1.7 0.2M48.7 179.7l1.1 1.1M80.0 137.1l0.9 -0.1M56.0 195.7l2.3 2.2M368.8 52.6l2.8 -1.5M330.8 78.2l1.9 -0.7M360.5 63.3l2.5 -0.8M79.3 198.1l1.5 1.8M117.3 118.0l1.8 -0.3M100.1 107.6l2.2 -0.6M97.9 110.1l2.0 -2.0M52.0 149.1l2.4 0.9M354.0 76.1l0.8 -0.3M94.5 103.0l2.1 0.2M220.1 58.2l2.9 -0.0M96.3 151.5l1.3 0.4M83.4 197.1l1.4 1.0M129.0 117.6l0.4 -0.7M348.0 89.7l0.8 -1.2M162.5 94.2l1.6 -1.2M102.1 127.7l2.1 0.6M91.5 179.4l0.9 0.4M365.7 91.5l1.3 0.2M110.9 141.6l2.2 -1.5M74.4 187.2l1.8 0.1M109.5 132.7l1.7 1.6M219.9 123.3l1.7 -0.4M174.9 100.1l1.0 -0.2M147.5 99.1l1.8 0.1M60.5 170.2l1.6 0.0M56.3 192.4l1.5 0.3M81.3 155.1l1.2 -0.3M189.1 90.3l1.3 -0.4M67.8 158.8l2.0 0.1M89.6 143.6l1.6 0.2M109.2 93.1l2.8 -0.1M90.2 123.3l2.7 0.7M107.2 194.1l2.8 -0.4M69.7 165.9l3.0 -0.5M142.2 96.8l1.0 0.4M100.6 152.0l0.9 -0.1M325.5 104.3l2.5 -0.9M68.5 163.0l1.6 -0.0M87.2 153.3l1.0 0.1M74.1 187.8l1.8 0.6M72.4 140.5l1.7 0.6M84.5 187.3l0.8 1.8M145.0 96.9l1.1 0.7M94.8 149.0l1.7 -1.5M92.1 211.4l2.6 -0.7M81.3 131.7l1.8 0.3M92.5 148.1l0.8 -0.5M74.4 153.5l3.0 0.8M248.5 119.8l1.4 0.1M71.9 186.7l1.5 0.4M256.2 52.2l2.9 0.8M346.7 87.9l1.3 0.1M100.4 145.3l1.7 -1.5M78.6 192.1l1.3 0.1M158.3 84.1l1.3 1.0M84.3 124.9l0.4 -1.0M330.9 94.5l3.0 0.7M258.5 55.8l1.6 1.1M83.2 126.0l2.4 0.8M59.9 164.0l3.0 0.9M54.5 124.2l2.7 -1.2M335.4 55.4l2.0 0.3M69.0 138.2l2.9 0.9M94.5 215.1l0.8 -0.1M112.9 122.5l1.1 -0.6M56.9 184.3l1.2 1.4M102.0 110.8l1.1 -1.7M61.8 195.6l1.3 0.3M75.3 135.0l2.2 -1.4M96.1 135.7l1.7 -0.9M125.3 114.3l1.6 -2.6M338.0 107.6l0.9 -0.3M100.0 197.1l1.3 1.0M90.3 199.0l1.6 0.9M117.9 126.4l1.9 -1.9M299.1 111.8l2.4 -0.2M35.3 179.3l2.0 0.2M97.5 176.4l1.5 -1.0M91.2 156.3l0.9 -0.2M126.1 130.1l0.8 -0.6M153.6 107.6l2.8 0.2M92.8 148.4l1.7 -0.2M124.4 119.1l1.1 -0.5M116.1 100.3l1.1 0.1M91.4 152.7l1.3 0.4M90.0 197.2l3.0 -1.0M86.3 124.3l1.3 0.5M95.2 179.0l1.0 0.2M135.4 112.0l1.2 0.2M59.7 145.5l1.3 0.6M92.5 174.6l1.5 -1.0M190.6 106.0l2.4 -0.4M87.7 121.9l1.2 -0.3M216.7 59.0l1.1 -0.3M187.3 93.5l2.0 -2.4M65.2 123.0l1.6 -0.2M162.0 112.7l1.1 -0.5M70.5 181.7l1.3 0.2M76.8 138.9l2.0 -1.2M155.4 88.8l2.2 0.4M150.0 116.9l1.2 0.2M76.7 117.8l1.1 -0.3M386.4 51.6l1.9 1.5M48.4 168.9l0.9 0.3M91.5 108.1l1.3 -0.5M73.5 161.4l2.1 -1.2M376.9 93.0l2.2 -1.1M85.0 134.1l2.5 0.1M124.2 117.4l3.0 0.5M115.6 119.8l1.2 -0.5M314.6 44.9l2.2 -2.0M72.4 119.1l1.3 -0.2M355.9 65.8l2.3 -0.1M60.1 193.3l2.5 -0.4M170.7 82.6l2.9 -0.6M319.6 54.5l1.4 -0.5M296.9 110.1l0.7 0.5M65.9 169.7l1.3 -0.3M129.9 103.5l0.8 -0.2M67.6 145.1l0.9 -0.4M94.3 155.0l1.3 -0.9M276.2 80.6l0.5 -0.7M120.3 108.3l1.8 0.6M114.7 103.3l2.5 -0.4M114.1 113.1l2.5 1.1M135.7 111.7l1.3 -0.3M119.8 110.4l0.8 -0.1M100.3 207.9l2.0 2.0M92.2 128.7l2.8 0.5M229.0 132.0l1.9 -0.3M70.5 122.6l0.9 -0.4M117.2 98.2l3.0 0.1M361.7 86.4l0.8 -0.2M170.3 127.3l1.8 -0.0M366.0 71.9l2.2 -0.3M82.9 171.2l2.3 0.5M77.0 150.2l1.3 0.1M394.8 61.4l1.0 -0.4M57.5 123.6l2.3 0.6M73.0 154.2l1.4 1.7M54.1 183.0l1.7 0.3M114.4 128.0l1.2 0.0M279.6 55.5l2.7 -0.9M245.7 71.9l2.5 0.8M120.8 101.4l1.9 0.8M292.7 112.5l1.4 0.1M65.4 153.6l1.5 1.2M139.4 88.3l1.2 0.8M81.4 142.7l0.9 0.1M117.5 92.1l1.9 -0.1M56.5 150.9l1.6 -0.3M418.2 54.5l2.7 1.5M51.0 183.7l2.4 1.2M95.8 213.2l1.0 -0.4M74.7 133.6l1.2 0.1M312.2 102.0l2.9 -1.0M81.4 134.8l2.7 0.4M181.5 88.3l1.5 -0.2M104.0 129.8l1.9 -0.3M168.4 107.1l1.2 0.3M330.8 55.2l2.9 0.9M99.0 121.0l1.3 -1.3M118.8 120.6l2.9 -1.4M78.2 113.1l2.7 -0.9M365.0 63.4l1.5 -0.8M103.9 110.2l0.9 -0.4M102.5 105.6l1.1 -0.0M274.7 73.8l0.7 0.5M283.6 68.7l2.6 -0.7M63.9 177.2l1.4 -0.7M52.0 199.0l2.7 0.2M81.3 98.4l1.7 0.1M127.3 108.2l1.3 -0.2M163.5 124.6l2.7 0.3M275.4 72.6l2.9 -0.9M80.2 113.6l2.3 -0.7M92.5 134.9l1.5 -0.8M73.4 151.5l0.7 -0.4M105.5 122.4l1.2 0.7M340.3 76.5l2.5 -1.4M333.3 63.7l2.4 -1.5M92.4 200.0l2.7 0.4M135.2 110.1l1.1 -0.2M58.2 170.0l1.3 1.2M89.4 195.1l1.9 -0.6M46.0 193.0l0.8 0.5M85.8 106.4l1.4 -0.4M105.1 96.7l1.1 -0.3M108.4 201.1l1.2 0.2M140.0 102.0l1.8 -0.8M71.9 174.8l2.9 -0.5M71.0 158.7l2.7 0.8M360.2 68.7l1.4 0.6M221.6 122.0l2.6 0.6M215.5 57.8l1.7 -0.1M338.8 105.9l1.5 -0.8M166.4 98.3l1.0 -0.3M73.5 190.9l2.4 1.3M120.7 91.6l0.9 -1.6M123.4 105.4l0.9 -0.2M69.9 197.1l0.4 0.8M369.1 53.3l1.4 0.9M142.3 98.3l0.9 -0.2M74.6 107.4l3.1 0.0M360.0 92.9l2.8 0.9M91.5 108.3l1.9 0.6M99.5 108.0l2.2 -2.0M352.2 54.8l1.3 -0.6M58.6 177.7l1.1 -0.1M71.7 166.7l1.6 0.4M83.9 125.4l2.3 -0.0M62.1 123.5l1.2 1.8M289.8 91.4l2.5 0.3M123.0 110.8l2.5 -1.7M107.1 102.1l1.5 -0.2M110.3 91.6l2.7 -1.5M67.1 149.5l1.1 -0.1M292.3 47.9l1.2 -1.7M82.7 171.1l0.8 0.5M144.2 120.4l2.3 -1.7" stroke="#c20f2c" stroke-width="1.00"/><path d="M324.5 72.9l1.4 -0.4M256.5 99.5l2.3 2.0M366.8 75.3l1.1 -1.2M200.5 72.9l1.1 -0.7M71.3 146.6l1.5 0.3M300.6 67.8l0.8 -0.0M320.3 89.2l2.2 -0.5M250.7 82.5l1.5 1.8M274.9 82.1l2.7 0.3M236.8 105.3l1.5 -0.4M309.2 79.3l1.8 -0.8M205.2 128.9l1.1 0.1M182.2 92.3l2.4 -1.2M342.2 86.7l2.2 -0.2M325.3 43.8l1.9 0.5M239.2 85.5l2.1 -1.0M50.1 141.1l2.7 -1.0M344.7 79.2l3.1 0.0M244.7 78.7l2.0 0.9M290.9 90.1l2.9 0.8M222.4 71.6l0.8 -0.6M294.9 53.2l1.9 0.1M252.3 78.3l2.6 -0.7M298.1 80.5l1.3 0.5M255.1 94.3l1.7 0.7M206.5 76.8l1.4 -0.1M194.2 92.9l2.3 -0.4M216.4 74.4l2.3 -1.1M368.2 75.3l1.8 0.7M140.5 98.3l1.3 -0.2M223.8 69.4l1.3 -0.3M233.5 87.8l1.1 0.1M317.5 98.3l1.7 -0.0M89.6 107.7l0.8 -0.3M246.3 77.7l1.6 -0.2M349.9 64.7l2.7 0.9M231.7 74.2l1.8 -0.2M186.0 96.9l2.0 -0.0M252.5 98.4l0.7 -0.5M218.7 93.9l1.7 -0.2" stroke="#4a62d4" stroke-width="1.00"/></g><polyline points="78.5,240.6 83.6,237.2 90.4,233.8 97.2,230.4 102.3,228.7 114.2,227.0 124.4,225.3 131.2,221.9 136.3,216.8 141.4,210.0 146.5,204.9 153.3,200.5 158.4,199.1 168.6,201.5 174.0,202.5 176.5,204.0 179.0,203.5 185.6,207.3 195.9,211.7 204.6,214.8 210.6,216.6 216.6,217.8 220.8,221.4 223.2,225.0 224.4,229.8 225.0,235.8" fill="none" stroke="#222" stroke-width="0.8"/><polyline points="312.0,206.0 311.3,197.9 310.5,191.8 309.8,187.2 310.5,183.4 312.8,181.2 315.8,180.4 319.6,178.9 321.9,175.8 319.6,173.6 314.3,170.5 312.0,167.5 311.3,163.7 309.0,161.4 306.0,159.1 307.5,155.3 309.8,152.3 312.8,150.0 316.6,148.5 320.4,147.0 325.0,147.7 332.6,145.4 340.2,142.4 346.2,140.1 347.7,137.1 352.3,136.2 360.4,138.3 364.0,136.0 366.0,138.0 364.0,140.0 364.0,143.0 366.0,145.0 366.0,150.0 366.0,156.0 368.0,164.0 371.0,168.0 375.0,175.0 379.0,179.0 381.0,182.0 383.0,180.0 386.0,175.0 390.0,173.0 393.0,169.0 395.0,165.0 397.0,159.0 401.0,156.0 406.0,157.0 410.0,159.0 415.0,163.0 420.0,166.0 424.0,168.0 426.0,173.0 426.0,178.0 428.0,184.0 432.0,190.0 436.0,194.0 442.0,200.0 448.0,206.0 455.0,212.0 462.0,218.0 470.0,226.0 478.0,234.0 486.0,242.0" fill="none" stroke="#222" stroke-width="0.8"/><g fill="none" stroke="#111" stroke-width="1" stroke-linejoin="round"><polyline points="116.4,5.0 116.0,10.0 113.4,16.2 110.4,20.2 107.3,25.3 106.3,32.4 106.3,40.5 104.3,48.6 105.3,51.6 107.3,53.0"/><polyline points="107.3,53.0 110.0,54.2 116.4,53.0 122.0,53.2 130.0,52.0 134.7,51.6 140.4,50.5 143.4,48.1 142.4,45.0 147.4,43.0 152.5,44.0 156.6,47.1 160.0,47.2 166.4,48.8 176.0,48.8 184.0,50.4 192.0,53.6 198.4,55.2"/><polyline points="198.4,55.2 202.4,52.8 206.4,53.6 212.0,55.3 213.2,60.0 216.1,62.8 218.9,66.4 224.6,65.0 228.8,62.8 230.4,56.0 230.4,54.4 233.6,54.4 238.4,53.5 248.6,55.3 253.2,59.8 258.0,60.8 264.4,59.8 270.8,58.2 278.8,55.0 283.6,52.9 291.6,51.8 298.0,51.0 306.0,50.2 307.6,46.5 312.3,48.5 319.0,49.0 330.1,47.8 334.5,49.0 337.9,53.4 342.3,56.7 344.6,52.3 344.6,46.7 340.1,41.2 336.8,35.6 333.4,31.1 331.2,27.8 336.8,24.5 343.5,21.1 350.4,17.0 358.9,10.2 362.3,6.8 367.4,5.3"/><polyline points="372.0,5.3 376.0,6.3 382.0,5.8 388.0,5.2 398.0,6.8 404.8,6.2 415.0,6.2 420.0,5.5"/><polyline points="107.3,53.0 104.3,53.6 99.0,57.0 94.2,57.7 89.8,59.1 86.8,56.0 80.7,56.0 79.7,59.1 75.7,62.1 77.7,64.2 80.7,65.2 77.7,68.2 71.6,73.3 67.6,76.3 63.5,80.4 57.4,82.4 56.4,87.4 55.4,89.5 48.3,95.5 44.3,98.6 40.2,103.6 41.3,108.7 38.2,112.8 36.2,117.8 38.2,118.8 43.3,117.8 48.3,110.7 52.4,106.7 60.5,104.3 68.6,105.7 71.6,108.7 72.6,112.8 74.7,118.8 78.7,124.9 80.7,127.0 81.7,129.5"/><polyline points="80.7,127.0 81.7,129.5 76.2,132.8 72.8,136.1 75.0,140.6 81.7,145.0 86.2,149.5 88.4,156.2 84.0,160.6 79.5,164.0 70.6,165.1 65.0,167.3 66.1,170.7 72.8,172.9 77.3,177.3 79.5,182.9 82.8,186.2 77.3,191.8 75.0,196.3 77.3,201.8 84.0,207.4 90.6,210.7 99.5,211.9 107.3,213.0 109.6,215.2 106.2,219.7 102.9,224.1 101.5,228.6"/><polyline points="81.7,129.5 90.6,130.6 99.5,129.5 110.7,128.3 118.0,126.5 124.0,123.0 128.2,119.0 130.2,113.9 133.3,109.8 138.3,104.8 143.4,105.8 144.4,110.9 145.4,115.9 150.5,120.0 156.6,122.0 161.6,125.0 164.7,129.0 166.7,133.1 169.7,132.1 168.7,127.0 170.7,122.0 174.8,117.9 178.5,114.0 180.0,108.2 180.7,104.0 182.1,101.8 184.9,102.5 187.0,105.3 188.5,108.9 191.3,111.7 194.8,112.4 200.5,111.0 206.2,109.6 210.4,111.0 212.5,113.8 214.7,115.2 216.8,113.1 216.1,108.9 214.0,105.3 213.2,102.5 214.7,99.0 217.5,97.1 221.7,97.1 226.0,95.4 229.5,91.9 231.0,88.3 231.7,84.1"/><polyline points="197.0,56.2 196.0,60.8 192.0,65.6 189.8,69.6 190.4,73.6 189.8,76.0 194.4,77.0 200.0,77.6 204.8,80.0 208.5,83.2 212.8,85.8 217.6,86.0 222.4,83.4 225.6,80.8 230.2,81.4 231.7,84.1"/><polyline points="231.7,84.1 236.8,85.6 240.0,86.4 244.5,88.7 250.0,90.2 254.8,87.0 261.2,83.0 266.0,81.4 274.0,79.8 282.0,79.8 290.0,79.0 298.0,77.4 304.4,76.3 306.8,75.8 305.2,79.0 306.0,83.0 309.2,86.2 312.4,89.4 317.2,92.6 322.0,94.2 330.0,95.5 334.5,96.8 345.7,99.1 356.8,100.2 364.0,101.0 371.0,102.8 379.0,103.5 388.0,104.6 398.0,104.5 404.0,106.5 408.1,107.6 412.1,105.5 420.2,100.8 424.5,97.1 430.4,96.1 440.5,96.4 444.5,97.1 448.6,96.4 453.4,94.9 458.0,93.6 464.5,93.3 472.3,94.9 473.5,90.5 472.3,87.1 477.9,86.0 480.0,83.0 485.0,80.1 490.0,79.3 494.5,78.9"/><polyline points="477.9,86.0 484.6,86.0 486.8,90.5 491.3,96.0 494.5,100.5"/><polyline points="371.0,102.8 370.2,106.9 363.5,109.1 360.2,112.4 361.3,118.0 364.4,121.0 365.4,125.1 367.4,130.2 366.4,135.2 368.0,137.0"/><polyline points="494.5,101.6 486.8,101.6 483.5,104.9 483.5,108.3 477.9,108.3 469.0,111.6 461.2,115.0 455.6,119.4 456.7,123.9 459.0,127.2 459.0,131.7 455.6,133.9 448.0,134.8 442.0,138.0 440.0,141.0 440.0,147.0 434.0,152.0 426.0,151.0 418.0,148.0 413.0,146.0 411.0,142.0 408.0,144.0 404.0,148.0 394.0,149.0 386.0,149.0 380.0,151.6 372.0,152.0 366.0,150.0"/><polyline points="463.4,162.8 473.5,162.8 480.1,166.2 486.8,171.7 491.3,169.5 494.5,164.0"/><polyline points="463.4,162.8 461.2,169.5 460.1,177.3 461.2,181.8 464.5,186.2 468.9,190.7 472.3,196.0 477.0,201.7 480.0,206.0 482.9,211.2 488.0,215.0 492.4,217.0 494.5,218.0"/><polyline points="494.5,47.0 491.6,48.6 490.5,52.0 491.6,59.5 493.3,66.0 494.5,72.0"/></g><rect x="206" y="128" width="276" height="134" fill="#fff" opacity="0.25" filter="url(#blur2)"/><rect x="214" y="141" width="260" height="121" fill="#fff" opacity="0.75" filter="url(#blur)"/><path d="M37.5 5V241M124.5 5V241M211.5 5V241M298.5 5V241M385.5 5V241M472.5 5V241M7 33.5H494M7 79.5H494M7 125.5H494M7 172.5H494M7 218.5H494" stroke="#c0c0c0" stroke-width="1" fill="none"/><g stroke="#1a1a1a" stroke-width="0.9"><circle cx="209.1" cy="53.9" r="3.4" fill="#6dad36"/><circle cx="216.3" cy="57.9" r="3.4" fill="#f7f7f6"/><circle cx="228.8" cy="49.9" r="3.4" fill="#c7e89f"/><circle cx="234.9" cy="66.9" r="3.4" fill="#f5c4e1"/><circle cx="181.1" cy="75.5" r="3.4" fill="#c7e89f"/><circle cx="205.1" cy="88.0" r="3.4" fill="#f7f7f6"/><circle cx="230.1" cy="97.8" r="3.4" fill="#f7f7f6"/><circle cx="173.4" cy="98.6" r="3.4" fill="#f5c4e1"/><circle cx="176.4" cy="104.4" r="3.4" fill="#f7f7f6"/><circle cx="240.4" cy="109.0" r="3.4" fill="#8e0152"/><circle cx="246.4" cy="107.0" r="3.4" fill="#f7f7f6"/><circle cx="237.0" cy="115.4" r="3.4" fill="#8e0152"/><circle cx="250.4" cy="115.6" r="3.4" fill="#f5c4e1"/><circle cx="256.0" cy="119.6" r="3.4" fill="#c7e89f"/><circle cx="257.6" cy="125.2" r="3.4" fill="#c7e89f"/><circle cx="233.6" cy="123.4" r="3.4" fill="#f5c4e1"/><circle cx="238.4" cy="123.6" r="3.4" fill="#8e0152"/><circle cx="250.0" cy="137.0" r="3.4" fill="#f7f7f6"/><circle cx="266.8" cy="57.4" r="3.4" fill="#c7e89f"/><circle cx="283.3" cy="51.0" r="3.4" fill="#f5c4e1"/><circle cx="273.7" cy="78.5" r="3.4" fill="#f5c4e1"/><circle cx="318.8" cy="47.8" r="3.4" fill="#f7f7f6"/><circle cx="322.8" cy="52.3" r="3.4" fill="#f5c4e1"/><circle cx="317.2" cy="61.9" r="3.4" fill="#6dad36"/><circle cx="320.4" cy="74.2" r="3.4" fill="#6dad36"/><circle cx="278.5" cy="109.5" r="3.4" fill="#8e0152"/><circle cx="279.5" cy="110.0" r="3.4" fill="#f5c4e1"/><circle cx="284.0" cy="105.0" r="3.4" fill="#f7f7f6"/><circle cx="290.0" cy="102.5" r="3.4" fill="#f7f7f6"/><circle cx="287.0" cy="105.5" r="3.4" fill="#f7f7f6"/><circle cx="291.5" cy="108.0" r="3.4" fill="#f7f7f6"/><circle cx="288.5" cy="114.5" r="3.4" fill="#c7e89f"/><circle cx="288.0" cy="111.5" r="3.4" fill="#f7f7f6"/><circle cx="382.5" cy="54.0" r="3.4" fill="#f7f7f6"/><circle cx="393.5" cy="47.8" r="3.4" fill="#f7f7f6"/><circle cx="406.8" cy="59.5" r="3.4" fill="#f7f7f6"/><circle cx="155.3" cy="77.4" r="3.4" fill="#f7f7f6"/><circle cx="138.2" cy="102.5" r="3.4" fill="#f5c4e1"/></g></g><path d="M37.5 241v3.5M124.5 241v3.5M211.5 241v3.5M298.5 241v3.5M385.5 241v3.5M472.5 241v3.5M7 33.5h-2M7 79.5h-2M7 125.5h-2M7 172.5h-2M7 218.5h-2" stroke="#444" stroke-width="1" fill="none"/><rect x="7.5" y="5.5" width="487" height="236" fill="none" stroke="#505050" stroke-width="1"/><clipPath id="clipb"><rect x="7" y="249" width="487" height="236"/></clipPath><g clip-path="url(#clipb)"><rect x="7" y="249" width="487" height="236" fill="#dadada"/><polygon points="70.0,489.0 78.5,484.6 83.6,481.2 90.4,477.8 97.2,474.4 102.3,472.7 114.2,471.0 124.4,469.3 131.2,465.9 136.3,460.8 141.4,454.0 146.5,448.9 153.3,444.5 158.4,443.1 168.6,445.5 174.0,446.5 176.5,448.0 179.0,447.5 185.6,451.3 195.9,455.7 204.6,458.8 210.6,460.6 216.6,461.8 220.8,465.4 223.2,469.0 224.4,473.8 225.0,479.8 225.6,489.0" fill="#a0a0a0"/><polygon points="312.0,494.0 312.0,450.0 311.3,441.9 310.5,435.8 309.8,431.2 310.5,427.4 312.8,425.2 315.8,424.4 319.6,422.9 321.9,419.8 319.6,417.6 314.3,414.5 312.0,411.5 311.3,407.7 309.0,405.4 306.0,403.1 307.5,399.3 309.8,396.3 312.8,394.0 316.6,392.5 320.4,391.0 325.0,391.7 332.6,389.4 340.2,386.4 346.2,384.1 347.7,381.1 352.3,380.2 360.4,382.3 364.0,380.0 366.0,382.0 364.0,384.0 364.0,387.0 366.0,389.0 366.0,394.0 366.0,400.0 368.0,408.0 371.0,412.0 375.0,419.0 379.0,423.0 381.0,426.0 383.0,424.0 386.0,419.0 390.0,417.0 393.0,413.0 395.0,409.0 397.0,403.0 401.0,400.0 406.0,401.0 410.0,403.0 415.0,407.0 420.0,410.0 424.0,412.0 426.0,417.0 426.0,422.0 428.0,428.0 432.0,434.0 436.0,438.0 442.0,444.0 448.0,450.0 455.0,456.0 462.0,462.0 470.0,470.0 478.0,478.0 486.0,486.0 490.0,494.0" fill="#a0a0a0"/><polygon points="397.0,408.0 400.0,406.0 402.0,410.0 401.0,416.0 403.0,422.0 405.0,428.0 407.0,432.0 408.0,434.0 405.0,434.0 402.0,430.0 399.0,424.0 398.0,418.0" fill="#dadada" stroke="#222" stroke-width="0.7"/><polygon points="404.0,407.0 410.0,404.0 416.0,406.0 420.0,410.0 419.0,416.0 414.0,418.0 409.0,415.0 405.0,412.0" fill="#dadada" stroke="#222" stroke-width="0.7"/><polygon points="422.0,414.0 426.0,415.0 428.0,419.0 425.0,421.0 421.0,418.0" fill="#dadada" stroke="#222" stroke-width="0.7"/><polygon points="46.0,349.0 50.0,346.0 56.0,344.5 63.0,344.5 70.0,346.0 76.0,348.5 77.0,351.0 72.0,350.0 66.0,348.0 59.0,348.0 53.0,349.5 48.0,352.0 45.5,353.0" fill="#a9a9a9"/><polygon points="65.0,331.5 70.0,328.0 76.0,325.0 82.0,322.5 83.5,323.5 79.0,326.5 73.0,330.0 67.0,333.0" fill="#a9a9a9"/><polygon points="85.5,319.5 90.0,317.5 91.0,318.5 87.0,320.8" fill="#a9a9a9"/><polygon points="169.6,285.6 176.0,288.0 184.0,292.0 192.0,296.0 198.4,299.2 197.0,300.5 190.0,298.5 182.0,295.0 175.0,291.0" fill="#a9a9a9"/><polygon points="147.0,306.0 152.0,308.0 158.0,311.0 163.0,314.0 162.0,315.0 156.0,312.5 150.0,309.5" fill="#a9a9a9"/><polygon points="134.0,308.0 136.0,310.0 137.0,312.0 135.0,312.0" fill="#a9a9a9"/><polygon points="138.0,321.0 143.0,320.0 149.0,322.0 150.0,324.0 145.0,323.0 140.0,323.5" fill="#a9a9a9"/><polygon points="146.0,361.0 150.0,362.0 154.0,365.0 158.0,368.0 160.5,370.0 157.0,369.0 152.0,367.0 147.0,364.0" fill="#a9a9a9"/><polygon points="176.0,365.0 179.0,363.0 181.0,365.0 183.0,369.0 182.0,374.0 180.0,377.0 179.0,373.0 177.0,369.0" fill="#a9a9a9"/><polygon points="237.0,378.0 240.0,377.0 243.0,380.0 244.0,385.0 242.0,390.0 238.0,393.0 236.0,390.0 237.0,385.0 235.0,381.0" fill="#a9a9a9"/><polygon points="267.6,280.0 270.8,279.0 271.0,284.0 268.0,284.5" fill="#a9a9a9"/><polygon points="314.0,281.0 320.0,280.6 322.0,282.5 316.0,283.8" fill="#a9a9a9"/><polygon points="363.5,280.0 366.0,279.6 368.0,286.0 365.0,286.3" fill="#a9a9a9"/><polygon points="375.7,282.0 377.5,281.8 378.0,285.2 376.0,285.0" fill="#a9a9a9"/><polygon points="261.0,291.0 263.6,291.0 263.6,292.6 261.0,292.6" fill="#a9a9a9"/><polygon points="286.8,289.4 288.4,289.4 288.4,291.8 286.8,291.8" fill="#a9a9a9"/><polyline points="120.0,415.0 135.0,414.0 152.4,413.2 171.7,414.2 186.0,412.3 200.6,414.2 215.0,410.9 229.4,415.7 248.7,418.1 272.7,418.1 291.9,420.5 306.3,422.9" fill="none" stroke="#acacac" stroke-width="0.7"/><polyline points="150.0,376.0 152.4,384.4 157.0,392.0 162.0,398.8 167.0,404.0 171.7,408.5 172.0,413.5" fill="none" stroke="#acacac" stroke-width="0.7"/><polyline points="207.0,376.0 210.0,384.4 212.6,398.8 215.0,410.9" fill="none" stroke="#acacac" stroke-width="0.7"/><polyline points="160.0,400.0 170.0,404.0 180.0,406.0" fill="none" stroke="#acacac" stroke-width="0.7"/><g fill="none" stroke-linecap="round"><path d="M76.1 369.6l1.3 0.3M69.4 378.8l2.2 0.1M336.9 292.1l1.9 -0.2M248.4 301.3l1.4 -0.3M178.2 355.0l3.3 0.0M335.7 291.8l1.1 -0.2M82.5 467.4l2.8 -0.4M102.2 363.5l1.5 -1.1M123.1 337.4l2.1 2.4M130.2 343.1l2.5 2.1M111.6 361.0l1.9 0.0M268.9 351.9l2.8 -0.4M313.5 304.9l1.6 -0.6M179.2 366.6l2.0 -2.3M193.6 360.4l2.2 -1.5M25.2 410.1l2.5 -0.3M101.3 346.2l2.0 -0.8M325.9 336.2l2.5 -1.6M89.5 346.4l2.5 -2.3M317.5 287.5l2.6 0.5M349.4 311.3l1.0 -1.5M45.0 387.6l2.4 2.2M138.4 365.0l2.2 -0.2M320.1 342.2l2.2 -0.9M95.6 349.5l2.5 -0.5M67.9 372.6l3.4 -0.2M324.9 294.1l1.0 0.3M138.6 365.2l2.3 0.3M55.2 377.2l2.1 -0.4M77.9 355.8l1.5 0.1M143.3 327.7l1.6 -0.5M75.6 398.8l1.2 -0.4M20.7 423.4l2.2 1.5M66.0 349.6l2.2 0.8M283.4 295.2l2.4 -1.4M75.2 337.4l2.2 0.4M25.3 405.5l2.7 -0.5M59.3 363.9l2.9 -0.9M206.2 355.0l2.2 0.2M300.1 345.8l2.3 0.1M47.2 452.2l3.1 -0.2M191.9 363.3l2.1 0.6M154.3 347.8l0.9 -0.6M44.8 367.8l2.4 -0.6M263.6 343.7l1.4 -1.2M79.6 386.0l2.3 0.7M171.8 342.0l1.9 0.0M212.9 335.7l1.7 1.6M54.7 405.6l1.7 -0.8M92.2 377.7l2.9 -0.4M234.6 363.9l3.1 0.4M81.5 442.8l2.8 -0.2M44.0 440.2l1.7 0.1M64.8 432.1l0.9 0.6M134.7 377.5l0.9 0.8M157.2 350.6l1.9 0.3M260.1 313.4l2.4 -1.6M77.8 366.1l2.9 -1.0M81.3 420.8l1.0 -0.2M73.3 353.8l1.7 0.4M27.8 410.4l1.9 0.1M260.3 370.6l2.5 -0.0M102.2 366.0l1.6 -0.0M41.1 383.2l1.1 -0.3M154.1 356.6l1.9 -0.4M120.2 394.6l3.2 -0.3M61.4 391.7l2.5 -0.8M70.0 347.2l3.1 0.2M115.5 331.9l1.9 -0.7M102.5 367.7l2.3 -0.0M159.1 338.8l0.9 -0.6M189.6 313.5l2.3 -0.7M108.3 352.3l2.9 1.3M103.7 375.4l2.6 0.5M91.7 356.0l2.5 0.2M92.8 365.2l2.2 -0.9M118.7 371.0l0.8 -1.0M125.9 338.2l1.3 -0.1M357.2 292.7l1.2 -0.2M256.1 285.0l1.7 0.7M86.2 380.1l1.3 -0.1M71.2 427.8l1.1 0.4M78.0 378.0l1.8 -2.1M144.6 369.0l1.8 1.0M344.3 299.3l2.9 -0.0M51.7 408.9l1.2 -0.5M59.3 374.6l3.0 -0.2M62.9 374.5l0.7 -0.8M125.1 316.3l2.4 -1.2M100.0 356.7l2.5 -1.1M276.1 372.5l2.3 -1.0M183.6 350.4l1.3 -0.3M283.1 373.0l2.6 0.3M43.6 405.0l2.2 1.1M140.4 321.1l3.0 0.1M108.9 349.1l3.3 1.1M195.0 352.3l1.3 -1.2M132.2 374.7l1.4 -0.1M328.4 307.6l1.6 -1.8M23.5 395.4l1.9 1.3M348.8 365.0l2.2 1.3M114.6 367.2l1.1 -0.7M88.9 378.2l2.5 0.5M255.2 355.4l2.8 0.7M92.1 422.0l0.5 1.0M39.2 380.9l2.8 -1.2M158.2 323.2l3.2 0.9M315.6 303.3l2.8 -0.1M195.1 353.8l2.2 -0.5M151.4 352.9l2.2 0.7M39.1 369.6l0.8 -0.6M75.1 378.2l1.1 -0.7M104.2 367.3l2.7 -0.8M181.7 323.0l1.3 -0.2M44.7 444.3l1.1 0.2M105.2 349.6l1.5 -0.1M204.1 319.0l2.1 -0.9M377.1 299.4l2.8 1.2M78.4 465.5l1.4 0.4M166.6 349.2l2.4 -0.5M340.7 290.6l2.7 -1.5M235.5 309.7l2.9 -1.8M189.7 353.5l1.3 -0.2M89.6 453.1l3.0 0.4M81.7 427.7l3.4 -0.4M191.0 319.1l2.3 1.4M183.9 351.3l3.4 -0.7M93.6 413.7l1.2 -0.2M110.8 361.1l1.4 -0.9M106.8 352.8l1.5 1.1M309.0 295.0l2.8 -2.0M69.4 379.0l2.1 -1.7M124.9 341.0l1.8 0.0M156.1 356.8l2.4 0.2M333.2 288.9l1.2 -1.1M56.0 364.9l2.9 -1.3M71.4 395.3l3.2 -0.5M28.3 437.6l2.7 0.2M206.3 368.6l1.0 0.3M73.9 396.4l0.7 -1.0M85.9 411.6l2.9 -0.4M189.0 358.7l2.9 0.4M72.4 382.8l2.2 -1.2M96.7 378.2l1.2 2.5M177.0 359.6l1.9 -1.5M385.0 319.3l3.2 -0.6M247.4 333.8l1.7 -0.2M130.6 341.5l2.8 -0.1M55.9 389.6l2.9 -0.7M333.9 305.2l2.4 -0.7M50.2 407.6l2.1 0.9M229.0 287.9l3.2 -1.3M61.3 403.9l1.5 1.2M33.1 368.2l1.9 0.3M239.2 288.9l2.5 1.0M188.2 322.7l1.9 -0.8M67.3 357.1l3.2 -0.7M163.2 367.5l3.3 0.4M267.8 371.9l1.9 -2.1M311.0 288.5l2.4 -0.3M256.5 303.4l2.3 1.7M54.4 456.8l3.1 -0.4M160.2 331.0l3.1 0.9M67.7 421.4l2.8 -0.4M52.5 424.7l1.9 0.1M163.1 319.9l1.0 -0.5M273.8 365.7l2.6 -0.8M115.5 376.2l2.4 0.3M75.9 458.5l2.1 -0.5M149.7 333.2l2.9 -0.6M119.3 385.3l1.2 0.3M60.8 372.3l1.9 0.7M122.2 364.2l2.4 -0.3M123.3 341.3l2.1 -0.3M239.9 281.4l1.6 -0.0M77.2 460.7l1.0 -0.3M66.7 391.9l2.3 0.3M70.5 434.5l3.5 -0.2M15.0 421.4l1.2 0.5M83.2 413.7l1.5 2.0M224.1 363.7l1.4 -0.3M80.9 362.2l1.1 -0.9M286.6 297.3l1.7 -0.5M272.1 291.3l1.2 -0.0M313.9 332.0l2.0 -0.3M136.7 369.7l2.8 -0.4M77.0 349.5l1.7 -1.5M257.6 302.8l1.7 -0.5M172.2 353.4l2.8 -1.3M233.4 294.0l2.1 -2.4M318.4 299.8l2.4 0.9M51.4 450.5l2.2 2.0M76.7 399.7l3.3 -1.2M173.7 323.6l0.9 -2.2M227.8 353.8l0.9 -0.4M64.6 346.0l2.7 -0.7M230.5 292.4l1.4 -0.6M214.0 330.7l3.2 -0.9M178.8 329.0l2.2 0.2M195.6 341.9l2.7 1.0M214.0 300.5l1.4 0.8M135.4 375.9l2.7 -1.9M96.4 422.7l2.5 1.2M81.0 444.2l3.3 -0.3M110.4 378.2l2.0 0.2M118.4 330.0l1.0 0.6M166.4 313.6l1.4 -0.2M183.2 327.6l3.1 0.7M197.6 361.1l1.1 -0.2M52.0 439.9l1.6 0.8M158.4 317.5l3.1 0.2M53.3 430.2l1.9 0.2M68.3 370.6l2.8 -0.7M60.6 364.4l0.9 -0.7M90.0 387.1l0.7 -2.3M37.2 362.5l2.3 1.1M284.8 300.0l2.0 -0.8M229.5 345.8l2.8 -0.1M161.4 315.4l1.8 -0.9M341.5 350.1l2.9 -0.3M254.2 352.9l0.8 -0.6M52.5 389.8l2.1 0.0M66.8 408.2l2.7 1.0M55.1 435.1l1.1 0.1M37.4 395.7l0.9 -1.0M371.1 338.6l2.3 -2.6M98.3 363.4l1.2 -1.7M105.8 388.8l1.1 -0.4M344.8 304.1l2.8 0.4M52.3 428.4l1.9 -0.4M151.9 308.7l1.6 1.0M96.8 351.8l1.0 -0.4M45.1 370.3l2.3 0.4M35.0 381.6l3.4 0.3M63.0 418.8l2.7 -1.2M72.7 349.0l2.7 -0.8M237.9 326.4l3.1 1.4M73.3 350.1l2.8 -0.2M313.8 283.6l0.8 0.7M95.1 450.4l1.9 0.3M261.1 289.8l1.0 -1.0M159.8 323.6l2.0 -0.3M87.4 359.9l1.3 0.3M125.0 368.1l1.3 -0.2M325.8 320.9l1.5 -0.2M65.9 380.7l1.2 -0.5M153.6 341.4l2.3 1.0M92.2 410.6l2.6 0.0M60.4 390.5l1.5 -1.0M317.9 300.4l3.1 -1.2M289.4 317.2l3.2 -0.4M71.5 347.2l0.9 -0.5M369.7 334.3l1.4 -0.4M335.6 311.2l1.9 -1.4M51.6 378.3l2.5 -0.2M52.7 364.2l2.3 1.7M93.4 340.9l1.1 0.1M94.9 380.1l2.0 -1.2M95.7 447.1l0.6 1.3M54.5 389.2l3.3 -0.5M261.9 370.1l3.2 -0.6M276.8 290.7l2.1 0.7M134.1 367.7l1.2 -0.6M37.6 404.8l2.1 -1.1M29.1 414.4l2.4 -0.1M139.4 375.4l2.7 -1.0M184.5 333.1l1.0 -0.1M29.9 364.4l2.6 0.9M126.8 340.2l3.4 0.5M48.2 392.5l1.1 -0.5M221.0 325.0l3.0 0.3M55.8 395.7l1.9 -0.1M93.0 395.2l2.8 0.2M302.4 310.5l2.9 -1.1M98.4 386.9l2.0 0.2M117.7 363.0l2.8 -1.1M112.3 393.3l1.6 -1.1M119.2 372.1l2.9 1.8M251.1 292.5l1.7 0.3M343.3 305.3l0.6 0.9M75.6 382.4l2.5 -1.7M185.1 323.9l1.8 -0.8M349.2 339.4l2.7 -0.1M53.1 441.3l2.6 1.7M95.3 356.3l2.9 -0.6M49.8 372.4l2.4 -0.9M110.9 338.8l3.1 1.3M148.9 347.7l1.7 -0.1M205.0 293.9l3.3 0.2M141.1 363.0l0.8 -1.0M108.9 374.6l1.4 -0.3M60.2 443.1l1.2 -0.2M141.3 350.2l1.5 -0.5M32.4 415.1l0.9 0.5M45.8 430.7l1.4 0.8M97.7 438.0l3.0 0.3M157.6 343.2l1.9 -0.8M22.8 413.8l1.6 2.5M332.6 305.4l3.3 0.2M119.6 349.0l2.4 -1.3M62.2 373.2l2.4 -0.5M63.4 395.6l2.8 0.7M162.0 346.4l2.6 -0.7M23.3 401.6l2.0 0.7M101.1 348.3l1.8 -1.6M84.1 369.8l2.1 -0.7M291.1 312.6l1.5 -1.4M133.8 321.8l1.6 -1.0M138.3 371.4l1.6 0.6M48.0 453.2l3.3 -0.3M250.7 364.2l0.9 -1.8M68.1 425.3l1.4 1.3M171.4 338.7l2.4 0.3M108.4 346.9l2.9 -0.4M207.0 298.0l1.7 0.2M102.8 377.1l1.3 -0.2M258.1 315.5l1.4 0.1M43.6 450.8l3.1 0.7M49.5 358.1l1.9 0.8M73.3 361.5l2.7 0.2M267.3 305.0l1.0 0.4M366.9 290.3l1.6 0.9M161.9 313.2l1.0 -0.6M94.9 380.2l2.1 -0.2M265.2 347.3l3.1 -0.8M193.8 342.8l0.9 -0.7M17.9 379.0l1.6 -1.0M84.3 419.8l2.8 -0.9M99.6 448.5l1.1 0.0M100.1 449.0l3.4 -0.5M369.9 338.9l1.3 0.5M36.4 384.5l1.9 -0.6M37.2 397.4l2.9 0.9M102.7 377.6l2.3 -1.5M293.6 378.2l3.0 1.6M45.5 427.5l1.2 0.7M59.5 370.8l1.9 0.2M277.1 289.0l1.6 2.1M99.0 345.8l1.4 -1.6M32.6 376.3l2.7 -2.2M334.1 301.7l-0.6 -2.5M348.7 295.2l3.2 -0.4M125.2 336.7l2.5 -0.2M91.0 382.5l1.9 -1.1M267.3 367.2l2.3 -0.1M354.3 320.3l1.0 -0.8M105.8 371.3l1.4 -0.2M66.2 417.5l1.2 -0.2M98.3 404.4l2.6 -1.9M379.3 339.4l1.9 -0.1M108.0 388.2l1.2 -0.0M215.9 291.1l3.1 0.4M71.1 454.4l1.7 0.1M124.6 333.2l2.1 2.1M364.4 304.7l2.3 -1.0M365.4 302.3l1.4 -0.3M319.9 338.7l2.7 -1.5M236.0 357.6l3.0 1.3M92.1 402.5l2.8 1.2M268.8 366.8l1.3 0.5M57.3 421.4l2.2 -0.2M198.7 302.1l2.7 -1.5M77.6 409.4l1.0 0.1M76.5 404.1l1.9 -0.4M200.3 375.6l2.3 0.9M220.1 296.1l1.0 -0.1M84.1 401.8l2.2 -0.7M94.3 389.3l2.5 0.7M272.0 335.7l2.5 0.7M128.5 342.2l1.2 -1.2M78.8 395.5l2.2 0.3M344.5 330.0l1.0 1.4M84.8 425.3l2.3 2.3M209.1 315.4l3.1 0.4M77.9 352.3l0.9 -0.7M79.2 395.1l1.4 -0.1M44.1 411.7l1.6 -0.9M48.0 415.8l3.1 -0.1M71.8 388.6l2.7 -1.6M98.0 359.5l1.7 -1.0M40.1 356.8l1.3 -0.3M145.9 332.6l1.6 0.1M181.0 321.9l1.3 0.2M165.8 357.8l2.1 -0.1M72.9 355.2l1.7 0.9M331.7 298.3l1.2 -1.5M78.0 347.7l2.1 -0.9M193.8 335.2l3.0 0.8M162.9 349.6l1.8 -0.7M63.0 398.7l1.3 -2.1M225.8 353.3l2.1 0.5M90.1 354.0l2.9 -0.1M258.6 338.0l3.3 -0.0M80.9 414.8l2.0 -0.4M72.8 394.6l2.1 -1.6M87.3 416.0l2.0 0.5M64.4 427.1l2.5 0.2M312.0 296.1l2.1 0.2M174.5 359.1l2.8 -1.0M93.0 412.9l2.4 0.1M74.9 394.4l1.2 -0.1M33.4 392.6l2.6 0.2M80.5 333.2l3.2 -0.3M165.5 367.3l1.1 -0.3M231.8 322.6l2.0 0.9M65.9 415.7l2.8 -0.0M146.0 341.7l0.8 1.0M77.5 350.4l1.3 0.1M336.5 291.9l2.9 0.4M156.9 348.2l2.5 -0.6M79.0 411.2l1.9 1.3M237.5 361.4l1.3 -1.1M48.8 392.1l1.9 -0.1M119.1 345.8l1.2 -0.4M91.1 456.8l1.1 0.6M292.8 362.5l1.7 -0.3M75.5 455.5l0.7 2.0M331.6 312.2l2.1 -1.6M248.7 319.6l1.0 1.4M299.6 348.8l2.0 -0.6M71.5 402.9l1.1 -0.2M343.7 297.9l1.2 -0.8M29.0 421.4l1.1 0.6M129.4 358.6l2.0 -1.9M225.4 362.2l2.4 -0.9M203.9 359.1l1.2 -1.0M134.9 340.8l3.2 0.5M321.5 293.2l2.9 -0.4M129.9 354.3l1.2 -0.1M139.4 375.4l1.2 -0.9M255.3 303.9l2.7 -0.5M57.5 401.2l3.1 -0.4M101.0 376.0l3.4 -0.5M151.0 360.6l1.8 -0.5M29.6 378.3l2.8 -0.5M62.1 451.0l2.4 -0.3M294.0 357.0l2.8 -1.9M131.1 379.1l1.0 -0.7M227.8 356.2l2.8 0.1M34.7 415.8l1.7 1.2M177.7 328.9l2.5 -1.8M113.0 357.0l1.7 1.2M75.6 420.5l1.8 0.1M83.5 371.7l2.9 0.9M55.9 454.6l1.4 0.3M327.7 363.7l3.4 0.1M52.5 413.3l2.1 -1.3M171.2 322.9l3.2 -1.2M338.8 280.7l1.8 -0.4M249.9 310.0l1.2 -1.0M104.7 356.1l3.1 0.5M174.9 318.7l1.2 -0.6M294.6 287.7l1.2 0.1M94.0 441.0l2.2 1.5M36.3 440.7l3.1 -1.4M42.3 420.0l0.6 0.9M117.0 382.8l1.5 -0.4M238.3 287.0l2.8 0.9M173.3 344.2l1.3 1.6M132.8 375.5l1.7 -0.9M149.6 328.4l2.3 -1.2M334.1 275.6l3.3 0.9M286.1 333.8l3.4 -0.2M112.6 379.9l1.7 0.3M219.1 296.5l2.8 -0.7M188.6 363.8l1.4 -0.2M194.9 299.1l2.4 0.7M118.0 346.5l2.0 -0.7M106.2 401.8l3.2 -0.6M146.3 318.8l2.4 0.0M138.6 348.7l1.4 -0.2M282.7 338.2l2.2 -0.4M100.1 420.4l1.3 0.7M140.0 355.2l2.2 1.0M48.2 408.0l2.8 0.3M105.7 404.9l0.5 -1.6M237.6 293.6l1.4 -0.8M95.1 429.7l3.0 1.7M86.9 439.7l1.9 -1.3M146.4 369.9l1.7 -0.2M61.2 404.4l1.0 -0.1M161.3 321.7l3.1 1.2M397.6 332.0l1.1 -0.3M104.8 388.8l3.0 -0.8M113.7 340.5l2.2 -0.0M44.7 353.9l2.0 0.5M171.1 317.4l2.0 -1.0M170.3 323.6l1.0 -0.4M103.3 396.3l1.5 0.1M355.7 341.3l1.0 -0.8M82.9 383.2l1.3 0.0M93.9 346.1l1.5 -1.0M222.0 372.9l2.3 0.5M94.3 348.1l1.0 -0.2M342.3 320.2l1.3 -0.2M60.3 384.5l1.9 1.8M270.0 350.7l3.3 0.4M158.7 322.4l2.0 0.1M262.9 363.8l2.0 0.2M136.6 342.0l3.1 -1.3M61.1 371.0l1.2 -0.0M338.8 334.2l1.3 -1.4M77.1 375.7l1.7 0.1M158.5 350.0l2.8 0.5M324.8 361.5l3.0 -0.5M118.2 349.6l3.3 0.6M290.1 350.2l2.7 -0.3M85.9 378.9l2.6 -0.4M341.9 332.7l2.2 2.5M254.5 374.3l2.0 -0.5M16.0 395.1l1.8 -1.1M79.5 380.7l1.3 -0.3M307.2 282.6l2.0 0.5M84.2 362.9l3.3 1.1M178.5 348.9l0.9 -0.6M77.0 347.9l2.2 -1.9M10.2 409.7l1.4 1.0M50.5 415.0l3.2 -1.2M286.4 292.8l2.7 0.1M263.1 375.7l1.5 -0.5M148.1 355.6l1.2 -0.2M164.6 347.4l2.8 0.7M136.5 361.1l1.3 0.5M95.4 343.7l1.8 -1.9M307.1 359.8l1.4 -0.4M236.2 307.0l1.5 0.8M237.5 368.5l0.9 -0.6M352.9 314.2l1.3 0.2M78.5 342.7l2.7 -0.3M108.4 345.1l3.4 0.3M102.3 353.8l2.9 0.3M337.4 289.9l2.8 -0.6M326.9 344.0l2.6 -0.7M68.3 422.1l1.5 0.3M90.6 344.0l1.6 0.7M39.3 379.4l1.6 -2.4M117.5 361.5l1.3 -0.6M109.4 378.4l1.9 -0.8M193.1 336.3l1.1 -0.0M290.8 357.2l3.3 0.6M266.1 347.3l3.0 -0.9M45.4 379.9l3.3 -0.4M136.1 367.7l3.0 0.2M128.0 322.3l2.4 -0.4M239.4 336.3l3.3 1.0M58.4 402.5l2.9 -1.4M60.8 427.2l1.2 0.4M160.1 327.4l2.5 0.7M274.3 331.0l1.1 -0.2M240.8 281.7l0.8 -1.5M106.9 357.7l2.2 0.7M377.5 327.0l3.0 -1.2M108.8 351.6l2.7 -1.0M57.9 394.3l0.9 -0.7M236.9 353.9l1.2 -0.2M134.5 320.4l1.9 -0.7M90.9 363.6l1.4 0.7M44.2 366.4l1.4 -0.1M147.1 311.0l1.1 0.1M236.5 309.3l2.4 -1.4M32.3 419.4l0.7 2.5M87.8 331.7l2.8 -1.4M131.7 344.3l1.9 -1.2M91.8 434.4l2.8 0.7M172.7 331.7l1.0 0.1M92.3 359.5l1.8 -0.8M213.9 305.9l1.8 -1.4M343.4 311.6l3.2 0.6M34.0 449.5l2.2 1.0M302.4 371.8l1.4 0.8M191.2 336.6l3.1 -1.3M178.4 351.4l1.0 -0.3M50.3 428.1l1.4 -1.6M80.6 405.6l2.5 -0.1M239.2 295.7l1.6 0.1M65.9 385.7l1.7 1.3M122.8 358.0l2.5 0.5M43.9 397.9l1.2 0.2M70.2 451.2l2.0 0.7M200.3 368.0l0.9 0.5M31.0 392.5l1.6 -0.2M238.2 364.0l2.3 -1.1M35.3 409.6l2.7 1.0M66.1 352.9l2.1 0.2M89.2 466.0l1.0 0.2M76.1 360.7l1.8 1.0M124.2 373.9l2.2 0.0M228.7 348.8l0.5 -0.9M309.1 302.9l2.8 0.2M48.2 395.1l1.8 -0.7M85.6 365.4l2.2 -0.9M38.1 400.3l1.0 0.4M155.4 347.0l0.9 0.6M93.0 362.4l1.4 1.1M330.7 357.1l2.5 -0.8M111.2 342.6l1.8 -0.7M46.6 432.0l1.4 -0.3M259.8 366.2l1.2 -0.7M189.2 355.2l1.8 -0.1M59.8 426.7l2.5 -0.5M186.3 355.7l2.0 -0.7M45.0 432.6l1.4 -0.0M93.6 370.4l2.6 0.1M96.1 352.4l2.2 -1.2M235.3 335.5l2.4 0.5M194.3 372.0l1.8 -1.3M53.1 379.5l3.2 -0.1M170.2 349.6l1.6 -0.7M119.8 341.8l2.1 0.9M308.6 319.7l1.0 -0.3M275.7 352.0l2.8 -0.3M211.0 357.6l1.2 -0.3M118.2 377.5l3.0 -1.4M219.0 298.9l2.9 0.8M69.1 362.8l2.8 -0.4M150.7 357.2l2.3 -0.7M126.0 383.2l2.0 -1.0M109.5 337.8l1.4 0.6M200.9 332.8l1.2 0.0M71.0 388.0l1.4 0.1M252.3 351.8l1.7 -0.5M202.2 368.0l1.3 -0.2M122.3 391.4l3.3 -0.5M81.6 386.9l1.8 -0.5M149.8 349.4l1.1 0.2M89.0 363.0l1.5 -0.7M298.9 280.4l2.4 0.3M182.9 365.1l3.2 0.6M67.4 378.7l3.1 1.1M213.3 304.1l1.5 -1.0M73.1 345.7l1.5 -0.2M81.8 415.1l2.7 0.4M153.6 357.4l1.2 -0.7M203.7 375.5l1.9 -2.0M82.0 382.4l2.5 0.2M62.9 358.5l2.1 -0.1M107.4 376.7l2.6 1.7M205.9 356.4l3.1 -0.3M162.8 314.5l2.5 1.8M113.1 367.5l0.9 -0.4M232.2 323.2l2.3 0.1M64.9 340.1l3.1 1.3M79.6 371.8l2.7 0.0M59.2 403.6l0.9 -0.7M334.7 291.1l1.1 0.3M77.3 379.6l2.9 -1.1M192.1 320.6l2.5 -0.1M105.6 333.0l2.2 -1.3M45.5 363.5l1.6 0.1M57.6 424.2l0.4 1.4M115.4 333.3l1.7 0.3M184.9 314.8l3.2 0.5M71.9 377.3l2.4 -1.3M86.4 381.4l1.9 -0.6M19.7 414.1l3.3 0.8M97.8 377.4l2.2 -0.1M218.2 361.8l2.4 -0.2M89.6 428.7l1.5 0.1M48.3 399.0l1.6 -1.0M37.2 363.0l2.8 1.6M22.0 394.9l0.9 -0.6M256.5 358.8l3.2 0.4M75.1 372.5l1.6 -0.5M34.1 431.4l2.4 0.4M11.3 419.8l1.9 -1.6M89.0 401.2l2.0 0.6M88.8 354.4l1.3 1.1M46.0 379.3l1.1 -0.3M341.3 301.1l3.1 0.4M356.6 329.1l3.2 0.1M66.0 365.5l3.1 -0.5M281.6 297.7l2.4 -1.3M212.7 372.3l1.4 -0.2M78.3 407.5l2.5 0.7M285.0 349.4l2.7 -2.0M26.8 432.7l2.1 1.0M51.6 379.8l2.8 0.3M265.6 374.7l1.3 -0.5M111.0 378.0l1.1 -0.8M42.8 439.0l2.6 1.0M81.8 365.5l1.9 -0.4M293.0 371.5l1.4 0.6M101.8 434.6l2.4 -0.4M121.3 329.9l1.8 -1.1M176.8 359.6l1.9 0.5M61.0 388.9l1.8 0.7M109.9 327.9l1.4 0.8M97.7 372.0l2.5 -0.1M92.0 434.2l2.3 0.5M284.9 295.1l2.3 0.5M63.1 391.8l2.1 1.3M263.0 342.3l2.5 -0.7M169.1 343.0l2.5 1.5M267.3 377.5l1.9 0.2M185.3 345.4l3.5 0.0M90.5 388.1l2.0 0.3M140.7 357.6l2.4 0.3M150.3 315.9l2.2 -2.3M64.9 345.5l2.6 1.0M214.1 317.6l0.9 -1.6M194.8 304.4l1.4 0.3M105.8 332.0l3.1 -1.3M384.9 278.4l2.4 -1.2M254.7 304.9l2.3 0.5M188.0 349.5l2.8 -2.1M84.9 451.2l3.2 1.2M100.5 413.5l1.8 -0.7M78.9 387.3l1.8 0.2M53.5 390.7l1.2 -0.4M134.5 373.7l2.5 1.1M89.6 438.7l3.1 0.7M98.6 388.3l2.1 1.1M120.8 342.9l2.8 -1.3M25.7 436.2l2.9 -0.6M57.9 447.2l1.0 0.6M67.5 355.8l1.4 -1.3M112.9 381.0l2.9 -1.6M196.4 365.3l2.0 -0.6M120.3 326.5l2.4 1.6M350.0 298.3l3.4 0.5M105.4 357.4l1.8 -1.2M88.1 350.1l1.5 -0.5M367.6 284.5l1.2 -0.6M171.7 314.3l3.1 -0.4M93.4 453.2l2.5 1.7M58.5 385.1l2.4 -0.5M99.6 435.0l1.6 -0.1M91.9 370.2l2.2 -0.9M57.0 461.2l1.2 1.0M74.3 452.1l0.3 1.1M84.8 353.0l2.6 0.2M44.9 385.9l1.8 -0.3M386.1 323.5l2.3 -0.7M199.2 359.0l3.3 -0.6M91.8 463.7l2.7 0.4M216.6 299.4l0.8 -0.7M212.1 296.2l1.7 -0.2M118.0 375.0l2.0 -1.6M93.8 405.6l3.3 -1.0M376.0 304.4l2.5 -1.0M145.0 356.6l1.6 1.4M287.3 355.6l2.8 1.4M105.7 325.5l2.7 -0.9M203.8 322.7l1.6 -0.5M128.5 327.6l1.8 0.2M98.5 371.0l3.2 -0.4M78.3 380.9l1.0 -1.0M146.3 374.6l1.9 -2.8M160.8 333.4l1.0 -0.2M60.5 382.4l2.3 -2.1M46.4 387.1l2.2 -0.8M104.8 428.5l1.9 0.1M40.0 416.1l1.0 -0.3M84.0 425.3l2.8 -0.4M69.8 355.1l3.0 0.7M76.5 382.8l1.5 -0.4M224.1 301.6l2.9 -1.2M281.6 310.9l3.2 -1.4M39.9 432.0l0.8 -0.9M365.7 331.7l2.1 -0.7M205.4 355.8l1.8 0.1M192.6 308.2l2.4 -0.4M210.4 369.7l3.0 -0.2M61.4 367.1l3.2 0.0M122.7 385.2l1.0 -1.8M53.3 401.6l1.8 -0.8M368.0 279.0l2.3 -0.0M328.4 306.4l1.5 0.8M260.9 307.2l2.0 -0.4M142.7 343.1l2.4 -1.2M61.6 428.3l2.1 -0.1M73.8 368.6l2.2 -1.2M79.0 429.1l2.3 0.2M319.5 338.9l1.0 -1.0M42.4 414.3l3.4 -0.7M76.2 350.0l2.5 -0.4M201.4 361.8l1.0 0.4M352.1 319.9l3.1 -0.5M125.7 340.2l2.7 0.9M304.6 359.9l2.4 -2.4M92.4 362.6l3.4 -0.9M99.5 402.4l1.0 -0.1M151.7 333.2l2.0 -0.3M276.5 298.6l2.1 -1.9M87.8 401.2l2.9 -1.9M259.1 344.1l1.2 0.9M54.7 417.9l2.4 -0.4M74.4 355.4l1.0 -0.4M287.2 367.6l2.2 0.1M149.6 353.8l2.1 -0.0M265.5 291.2l2.7 -1.0M82.4 404.5l0.9 -1.5M226.1 295.6l1.4 -1.6M123.3 360.5l1.0 -0.3M204.3 353.3l1.8 -0.0M134.5 382.5l3.1 -0.0M200.1 372.8l3.0 -0.5M29.6 403.1l2.7 -0.1M293.8 345.7l1.6 -0.3M159.7 340.1l1.8 0.3M130.0 358.8l2.5 -1.3M322.7 300.3l1.5 -1.0M38.3 440.1l1.3 0.4M102.7 348.0l1.2 -0.6M115.2 327.6l2.1 -2.1M57.6 442.5l2.4 2.5M301.6 308.6l2.3 0.2M99.3 414.7l3.0 -0.5M233.2 306.2l2.6 -1.3M290.3 367.0l2.0 -0.2M156.5 330.3l2.0 -0.9M92.7 435.7l2.1 0.6M365.5 313.1l1.6 -2.3M360.7 362.1l1.4 -1.3M31.8 370.7l2.8 1.2M263.1 360.3l1.9 -0.7M102.2 374.0l1.7 0.2M102.1 452.3l2.7 -0.1M194.1 301.6l1.1 0.2M58.6 378.7l1.5 1.1M126.1 335.6l2.9 1.3M45.3 413.6l1.6 0.5M94.9 385.0l2.1 -1.6M65.7 377.1l3.4 0.1M123.3 334.6l2.1 0.2M167.4 325.0l1.2 -0.5M149.8 310.6l3.1 -1.2M173.5 312.3l1.8 -2.1M308.9 333.9l1.1 -0.1M125.5 350.0l1.5 -2.6M44.1 423.0l1.8 1.4M89.6 437.5l2.2 -0.3M253.5 299.2l3.5 0.1M335.2 316.6l0.8 -1.1M298.7 296.8l3.2 0.2M105.4 326.2l1.0 -0.0M130.3 362.0l1.9 -2.3M177.7 348.1l1.0 -0.6M313.4 307.5l0.9 1.0M90.7 331.8l1.9 1.0M249.0 341.7l2.0 -0.5M220.7 370.8l1.1 0.0M326.8 301.6l1.5 -0.3M83.7 412.0l1.1 0.5M65.3 463.3l1.4 -0.7M214.7 295.8l3.1 0.3M367.4 292.5l1.4 -2.0M235.6 354.0l1.8 0.6M196.1 303.1l2.8 -0.6M78.2 394.8l2.7 -0.3M302.9 277.4l1.7 -0.5M348.1 295.4l2.7 0.7M262.3 313.1l1.4 -0.7M134.4 359.1l1.6 -1.4M143.0 360.5l2.9 -0.9M96.6 392.9l1.2 -0.3M108.5 411.6l2.5 -0.3M59.2 382.6l3.1 -0.8M372.1 293.6l1.5 -0.3M95.3 441.6l2.3 1.2M276.7 297.8l1.2 -0.3M67.7 368.9l2.9 -0.2M235.8 311.3l0.9 -0.8M129.7 382.5l1.5 -0.0M84.3 383.7l2.1 -2.8M279.3 308.7l2.1 -0.8M37.0 381.0l3.2 -0.4M367.6 285.8l3.1 -1.1M81.4 392.3l2.9 0.4M147.5 327.0l1.1 0.2M93.9 377.3l1.1 -0.5M56.5 437.3l1.6 -0.4M104.1 421.5l2.2 0.8M51.9 383.2l2.5 0.9M142.4 337.8l1.3 -0.1M91.1 355.2l2.4 0.9M314.3 344.6l1.2 0.3M90.3 459.1l1.4 1.1M205.1 372.3l1.8 0.4M62.7 381.1l3.0 -1.6M59.0 430.1l1.9 0.2M156.9 307.6l3.0 -0.8M126.7 384.8l1.4 -0.5M49.9 450.1l1.7 0.5M60.8 387.2l2.5 -0.3M78.7 410.2l1.8 1.1M116.9 353.6l2.7 -0.1M88.7 374.8l2.2 -0.4M101.9 354.2l2.2 -0.4M160.6 332.0l1.1 -0.5M30.2 425.3l2.2 -0.6M82.9 387.6l2.0 0.3M57.3 390.7l1.1 -0.8M217.3 360.8l1.2 0.4M321.0 342.2l3.1 0.0M138.8 316.4l2.7 0.3M280.2 287.6l2.3 -1.0M46.4 396.8l2.0 -2.4M90.0 435.0l1.2 0.3M230.3 340.2l1.7 -0.9M92.6 423.4l1.3 1.2M102.3 371.4l1.3 -0.5M150.1 322.7l1.4 -0.6M66.9 405.5l2.8 -1.5M89.8 354.3l3.0 -0.1M249.3 338.3l2.0 0.6M103.5 348.1l2.2 -0.1M96.3 361.7l0.5 -1.6M132.0 381.2l3.0 0.6M160.7 319.1l2.9 -0.9M141.5 340.4l2.9 1.3M232.9 364.3l2.1 -1.2M280.1 295.0l2.4 0.9M77.1 362.4l2.5 -0.8M151.8 335.3l2.1 -1.7M40.3 422.7l3.2 0.9M93.7 415.4l0.9 -0.4M25.2 429.6l1.6 1.2M38.2 430.8l3.4 0.2M223.9 354.3l2.8 0.5M76.7 429.6l2.5 1.9M90.0 387.9l2.8 0.4M116.3 374.2l2.2 -0.1M118.7 343.5l1.1 0.5M67.4 425.1l1.5 0.3M143.0 365.3l1.5 -0.0M136.9 361.4l2.1 -0.1M240.9 284.6l1.5 -1.8M94.4 370.7l3.2 -0.0M268.9 299.6l2.9 -1.7M146.9 340.7l2.4 -0.7M133.6 356.3l0.9 -0.6M94.3 391.2l1.3 1.0M75.4 362.2l1.6 -0.4M403.1 349.3l1.6 0.3M235.9 352.1l1.9 -0.4M338.9 330.3l1.3 -1.8M73.6 417.7l1.1 0.3M52.9 396.5l2.0 -0.5M263.8 340.7l1.2 0.5M128.8 349.4l3.2 -0.6M78.5 375.0l3.0 -1.2M290.7 276.7l1.0 -0.1M124.8 339.0l2.8 0.3M223.2 308.1l1.8 0.1M362.2 277.8l2.2 0.4M204.6 306.3l2.4 -1.3M113.5 385.8l3.0 1.2M138.5 347.9l1.8 0.6M208.4 327.8l2.9 -0.2M298.8 376.4l2.0 -0.1M12.6 426.2l1.8 0.6M89.7 455.5l1.4 0.2M94.5 368.8l2.9 -0.8M38.9 394.6l1.0 1.9M206.7 294.5l1.5 -0.5M69.9 359.6l1.5 0.3M198.0 312.2l1.8 -0.8M179.4 307.9l1.1 0.0M105.9 351.8l0.9 -0.8M72.4 380.1l2.5 -2.3M243.8 294.3l2.0 2.3M78.0 415.9l1.6 -0.0M62.2 386.4l2.6 0.9M76.8 400.2l1.6 0.4M340.0 352.6l2.8 -1.1M118.6 363.2l1.7 -0.2M184.6 352.6l1.2 -1.3M48.3 348.0l2.9 -0.8M85.6 383.2l2.1 0.3M111.7 339.2l1.0 -0.4M332.8 311.6l2.0 -0.0M151.9 343.3l2.0 -0.3M181.1 302.0l2.3 0.3M60.8 399.4l3.0 -0.1M114.7 337.5l2.6 -0.4M121.3 387.8l2.1 -0.4M97.7 447.5l1.3 0.5M150.8 369.9l1.7 -0.9M108.7 355.3l1.8 -0.8M65.7 378.5l3.0 -0.4M93.7 343.2l1.4 0.3M231.5 313.7l1.7 -2.3M53.6 388.0l1.2 -0.5M101.0 393.0l2.1 0.1M117.7 335.6l1.1 1.2M158.3 320.9l2.7 -1.0M219.7 302.4l3.0 -0.5M318.6 337.4l3.4 0.5M165.0 335.6l2.6 0.8M241.8 334.2l1.6 0.6M46.6 387.1l2.8 1.1M307.2 368.9l1.7 0.8M146.0 364.4l1.5 -0.1M64.5 351.2l1.0 0.0M205.4 305.2l3.0 -1.5M51.9 425.4l1.7 1.3M200.4 301.5l2.5 0.9M71.8 446.7l1.4 0.6M338.0 309.1l2.7 -1.0M112.7 339.5l1.0 -1.0M262.0 334.9l0.7 -0.7M258.1 335.9l2.6 1.9M179.1 304.3l2.2 -1.4M91.2 397.6l2.5 0.1M63.5 373.0l2.0 -0.1M147.4 364.1l1.2 0.3M106.3 348.6l2.3 0.2M254.2 300.1l2.5 0.8M93.7 345.7l0.6 -1.1M85.2 352.9l2.3 -1.6M67.5 346.6l1.3 0.5M261.7 362.5l2.3 0.2M38.1 375.7l1.8 0.6M46.7 373.2l2.8 -2.0M218.5 300.5l1.5 -0.2M93.0 391.7l1.5 -1.0M221.4 377.1l3.3 -0.7M334.9 325.6l2.3 -1.3M62.1 372.5l1.7 -0.5M66.2 412.1l2.9 -1.2M93.7 421.6l2.7 -0.3M367.3 299.2l2.6 -0.9M108.2 338.8l1.2 0.0M47.3 375.4l3.3 -0.1M181.8 345.2l1.5 1.0M56.0 412.7l1.2 0.7M358.0 337.9l2.1 -2.1M43.9 370.6l3.1 -0.0M18.9 414.4l1.3 0.9M113.3 355.9l1.4 0.5M82.9 367.1l2.2 1.0M49.3 412.9l1.4 0.3M80.2 377.2l1.3 -0.9M286.2 294.5l2.5 -0.1M233.4 345.0l2.3 -1.2M90.5 435.7l2.9 -0.3M343.5 304.2l1.6 0.3M97.3 351.2l1.8 -0.1M196.3 360.6l1.4 -1.5M116.1 373.9l3.1 0.2M126.4 364.3l2.3 0.6M161.9 329.6l3.0 1.4M136.2 311.8l2.4 0.3M367.7 310.1l1.5 -0.5M227.5 302.0l2.9 -1.8M133.7 324.8l2.2 0.6M154.9 366.3l1.1 -0.7M22.3 427.2l1.0 0.9M268.0 283.6l2.1 1.2M200.8 361.5l1.1 -0.1M136.3 382.2l0.5 0.9M280.8 294.1l2.6 1.0M282.0 308.1l1.0 -1.0M131.0 362.1l2.1 -0.4M178.2 328.1l3.2 -1.3M221.6 314.2l0.9 -0.5M150.8 373.9l1.8 0.2M123.9 318.9l2.9 1.3M339.4 293.9l2.4 1.1M38.7 417.2l2.1 -1.0M260.2 295.4l2.1 -0.4M100.7 346.7l2.3 -0.6M37.2 393.9l1.5 -0.8M71.1 375.9l1.8 0.4M329.9 331.8l2.2 0.7M223.9 371.5l2.4 -0.4M141.1 370.5l1.4 0.3M103.5 445.5l1.2 0.1M234.1 287.7l2.5 -0.7M101.8 392.4l2.1 0.7M203.4 355.4l2.0 -0.6M41.8 367.5l1.4 -0.5M89.3 358.1l3.0 -0.2M113.8 362.8l2.3 -0.9M135.1 339.4l1.7 0.5M70.4 382.5l2.8 -1.7M100.0 438.8l3.4 0.7M28.0 401.1l1.4 -0.3M72.7 453.8l1.4 0.8M301.7 338.0l2.9 -0.8M333.5 301.0l1.8 0.1M200.7 321.2l1.8 2.5M287.4 334.9l2.0 0.2M32.2 436.8l2.1 0.5M299.4 347.6l3.2 -1.0M264.3 369.8l2.1 -2.1M318.4 332.4l2.2 -1.4M318.3 348.1l1.9 -1.2M103.2 393.8l1.5 -0.2M157.2 335.5l1.1 0.3M20.5 437.2l2.7 1.6M221.2 289.1l3.1 0.9M219.3 292.2l1.3 -0.6M26.2 369.6l2.2 -0.9M107.0 354.2l2.9 1.5M113.3 377.6l1.5 -2.2M140.7 349.5l3.1 0.1M106.8 344.7l3.0 -1.5M58.8 457.0l1.5 0.9M21.7 402.1l1.8 0.1M68.9 446.6l2.1 -0.1M119.8 350.9l3.0 -0.3M123.9 344.1l2.5 -0.4M191.9 327.7l1.2 0.4M167.9 335.8l3.0 0.5M42.7 384.4l1.2 0.0M113.0 339.8l3.1 -0.5M135.5 347.8l1.1 0.6M165.3 360.9l1.6 -0.1M130.8 388.1l1.2 -0.3M193.5 347.9l1.1 0.3M328.6 289.2l2.2 -1.0M83.9 398.9l2.1 -0.0M84.6 418.0l3.0 -0.1M146.5 351.8l2.4 -2.2M210.5 312.8l1.9 -0.8M401.1 314.0l2.5 -0.8M152.7 323.3l3.3 -0.9M81.5 364.3l2.7 -0.3M225.6 375.6l2.0 -0.3M47.7 373.3l2.7 1.2M39.3 410.5l1.5 0.7M149.3 358.3l2.5 0.0M76.2 367.9l1.3 0.2M308.5 362.2l1.6 -1.6M107.5 341.4l2.9 0.6M57.4 414.3l2.3 -0.4M117.8 343.6l3.3 -1.0M105.8 404.0l2.2 -0.5M57.5 388.3l2.1 -0.2M125.0 331.6l0.8 0.8M143.6 320.4l1.5 1.3M28.6 386.0l1.4 -0.1M196.8 307.7l2.7 -1.3M68.7 416.2l2.2 -0.0M50.3 428.4l2.5 1.2M170.8 346.2l1.7 -0.3M75.8 403.2l1.5 -0.1M49.0 448.2l2.7 0.4M48.7 356.8l1.3 0.0M62.2 370.5l2.6 0.2M45.4 382.4l1.1 0.3M128.1 359.4l1.4 0.5M209.3 353.3l2.1 -1.0M69.0 411.7l2.6 -1.5M292.5 285.7l0.6 -1.7M96.7 338.1l1.3 0.7M141.4 362.8l2.0 1.5M302.1 337.8l1.0 -3.2M37.5 415.7l2.6 1.8M311.8 340.9l2.6 0.1M287.2 278.2l1.0 0.4M170.4 349.6l3.0 -1.4M49.8 429.9l1.7 2.1M386.5 332.3l2.9 -0.8M344.7 280.7l2.5 -0.4M320.4 363.9l3.0 1.0M80.3 343.1l2.1 0.2M159.4 329.2l1.7 -0.3M318.4 304.1l2.3 -1.6M14.4 406.2l1.2 -0.2M162.6 306.8l1.9 -0.9M267.9 309.9l1.5 -0.9M180.2 307.8l3.4 -0.3M103.4 347.8l2.7 -0.4M197.0 338.4l1.6 0.2M185.7 354.6l1.5 -0.6M110.5 341.6l2.5 1.3M181.3 334.4l3.0 0.1M88.3 438.2l3.0 0.0M368.2 303.4l2.2 0.5M294.3 329.5l1.3 -0.1M98.1 450.8l1.8 -0.5M105.1 452.5l2.9 -1.3M137.2 337.7l2.0 -1.4M65.4 415.5l2.7 -1.1M252.0 287.6l2.7 -0.2M91.9 361.1l1.1 -0.1M68.5 421.0l1.0 1.4M314.3 315.1l2.6 -0.7M99.9 398.4l1.3 0.0M91.5 432.0l1.3 -0.6M274.1 321.7l2.8 0.4M71.6 379.4l1.5 -0.8M155.0 353.3l2.9 -0.5M279.2 373.0l1.0 -0.5M52.8 384.4l1.6 -0.3M149.0 353.7l1.9 -0.7M217.0 364.0l1.2 -0.1M87.2 397.6l2.1 -1.0M77.4 402.4l2.9 -1.3M89.4 440.2l1.4 -0.8M64.2 399.5l1.5 1.0M51.0 433.5l1.6 1.0M117.9 379.7l2.1 1.5M85.6 452.3l1.5 -0.2M339.6 296.9l3.4 0.2M215.9 311.8l1.3 -0.1M63.4 359.2l2.4 -0.2M173.2 332.4l2.2 0.7M227.0 308.7l2.1 0.0M130.6 369.2l1.6 0.3M80.2 377.1l2.1 -0.9M84.7 439.3l2.0 0.1M167.3 362.9l3.1 0.8M46.6 393.4l2.7 -0.2M47.2 425.2l1.3 0.6M54.9 411.2l1.8 0.2M112.1 391.4l1.5 -0.1M203.8 349.6l1.4 -0.9M104.8 373.6l2.6 0.0M49.9 363.3l2.8 -1.6M63.2 374.2l0.7 -1.1M61.3 385.1l2.5 0.9M151.8 359.8l1.7 -0.4M90.8 356.0l1.3 -0.2M136.2 321.8l1.2 -0.3M348.8 293.7l1.0 -0.7M30.2 426.4l1.3 0.6M249.7 344.4l1.5 -0.8M115.9 323.8l1.7 -1.1M147.9 343.2l2.5 0.0M238.4 352.6l1.6 -1.2M49.4 417.8l3.2 -0.7M84.8 388.3l3.0 -0.7M174.7 358.0l1.9 0.7M85.7 415.4l1.4 -0.7M80.8 444.9l1.9 0.7M332.7 318.8l1.7 -0.3M273.3 373.1l1.3 -0.3M255.3 301.1l1.5 0.1M150.3 372.3l1.0 0.2M133.7 369.4l3.0 -0.6M181.3 331.4l2.4 0.7M52.6 403.7l3.2 1.4M100.2 390.0l1.6 -0.4M51.9 425.5l2.8 0.5M357.0 313.7l2.8 -0.7M345.9 324.5l2.7 -1.3M101.4 351.1l1.1 -0.2M102.8 400.2l1.1 -0.2M94.0 405.6l1.1 0.0M67.6 377.4l1.2 -0.4M316.4 285.5l2.3 0.1M119.4 354.2l2.7 -0.5M247.1 298.5l1.1 0.2M106.3 379.4l1.0 -0.8M209.5 312.5l1.6 -0.7M247.9 346.7l0.9 -0.4M98.8 420.1l1.7 -0.6M127.7 321.0l3.4 0.0M285.5 302.6l2.3 -1.6M99.8 413.5l2.3 -0.8M101.2 354.8l1.4 0.7M167.6 330.4l2.9 -0.2M68.5 413.9l1.0 -0.2M150.7 326.7l3.3 0.4M44.0 367.9l2.9 1.0M219.4 340.1l2.2 0.1M104.2 368.6l3.3 0.6M77.1 339.0l1.8 -0.5M96.7 341.0l2.5 -0.6M82.0 391.0l3.1 0.2M392.2 327.6l1.2 -0.7M196.0 346.5l3.3 0.1M58.3 370.0l1.6 0.4M82.5 454.9l2.3 1.3M85.0 380.9l3.4 0.6M192.5 339.9l1.4 0.3M128.4 338.9l1.3 -0.7M140.5 370.2l2.4 0.5M270.6 285.1l3.0 -0.6M35.1 440.5l2.3 -0.0M183.9 355.2l2.2 0.5M149.4 333.8l3.2 0.1M45.6 407.7l1.4 0.5M183.1 352.3l0.6 -0.9M232.9 315.4l1.4 0.7M58.9 378.3l2.1 -0.3M90.6 349.8l2.2 -0.1M83.1 372.6l1.0 -0.5M58.9 457.8l1.2 0.6M82.2 357.3l3.1 -0.8M72.5 361.2l2.7 2.0M95.0 415.3l1.6 0.6M169.9 342.0l3.3 0.5M152.8 353.7l3.1 -0.9M47.9 379.1l2.2 -2.2M176.2 300.6l2.2 -0.1M131.0 344.8l1.3 -1.7M59.2 451.9l2.7 -0.5M99.2 455.2l2.6 1.2M78.4 364.1l3.4 -0.6M168.2 323.7l3.3 0.7M66.2 424.9l3.0 1.1M56.0 433.3l1.7 0.2M89.1 362.6l1.1 -1.3M232.2 333.8l1.7 -2.4M129.7 332.6l3.2 0.6M321.2 354.4l1.8 -0.6M187.4 373.8l1.5 -0.3M78.8 360.1l1.7 0.1M31.5 421.6l3.1 0.8M289.8 368.8l2.0 -0.4M70.1 376.5l1.0 -0.7M94.7 359.0l1.4 0.5M124.7 350.4l1.8 -2.4M117.7 390.1l1.3 0.1M237.4 372.0l3.2 -1.2M78.9 349.6l1.4 -0.4M117.3 380.8l1.2 -1.1M91.8 383.0l0.9 -0.5M174.5 321.7l1.7 0.5M161.5 333.7l1.6 -1.4M209.1 369.7l2.0 -0.4M92.0 353.0l3.1 -1.6M42.1 443.3l1.5 0.2M166.8 318.1l3.4 -0.0M279.4 361.8l1.8 -0.1M333.0 295.7l1.6 0.3M81.0 359.5l2.6 0.0M308.4 293.9l1.3 -0.1M235.3 324.9l2.8 -1.7M98.1 331.0l1.0 -0.2M62.5 367.1l1.4 -0.4M373.3 334.4l1.0 -0.8M404.5 316.2l1.5 -0.6M91.5 390.5l2.7 -0.7M60.4 413.2l2.6 -0.1M289.5 304.7l1.3 -0.1M87.0 360.3l3.1 0.6M87.9 344.9l1.6 -1.1M210.4 345.6l2.0 0.0M69.0 373.9l2.5 -2.1M91.2 412.0l0.9 -0.8M78.7 377.7l1.8 0.4M86.0 392.7l2.5 -1.6M269.7 290.7l2.3 0.2M141.6 324.1l1.8 -1.2M81.6 444.0l2.7 1.7M42.5 439.5l2.1 2.8M62.3 389.7l1.5 0.8M263.8 309.0l1.6 -0.8M41.5 365.8l1.9 -0.9M324.8 283.6l2.1 0.9M53.5 429.7l1.8 0.4M84.5 333.9l3.0 -0.8M331.4 305.4l2.3 1.2M294.8 325.8l3.0 -0.5M377.7 296.9l2.0 0.7M154.8 317.7l2.3 1.2M103.0 364.6l1.3 0.1M278.8 328.1l1.4 -0.7M16.8 431.2l2.1 0.2M69.6 413.7l1.3 0.1M64.0 375.0l1.3 0.4M39.1 395.2l2.0 -0.3M206.9 361.5l1.4 -1.1M124.7 380.9l3.0 0.2M135.2 385.3l1.0 -0.1M120.9 341.2l2.3 0.1M249.1 359.5l1.5 -1.1M61.6 384.6l3.4 0.1M128.6 327.0l1.7 -0.3M221.6 297.6l1.7 -1.8M392.1 297.1l1.8 -0.7M76.3 425.1l3.3 -0.1M179.8 347.1l1.5 -3.0M139.3 378.9l2.6 -0.3M155.0 348.3l2.6 -2.1M130.6 381.2l1.8 -1.0M110.2 387.9l1.7 0.5M296.1 291.9l1.1 -1.2M135.1 333.7l2.6 -0.9M68.3 355.7l1.3 -1.0M49.2 350.0l1.9 0.2M198.6 356.5l3.0 -1.1M143.3 314.4l2.1 -1.7M114.8 331.9l2.2 1.8M310.4 288.9l1.2 0.0M175.0 314.9l2.8 -1.1M117.7 386.7l0.9 0.6M236.1 289.1l2.6 -2.1M151.8 375.7l1.5 -1.0M226.3 364.8l2.0 -1.2M78.6 439.8l1.8 1.4M71.4 447.6l3.4 -0.0M88.5 432.2l0.9 0.5M91.8 456.0l2.3 1.0M106.4 398.4l2.6 1.4M303.9 323.4l1.1 0.2M97.6 431.8l1.7 0.7M74.2 342.9l0.7 -1.7M132.8 351.9l1.4 -0.0M113.4 349.9l2.1 -1.5M145.1 349.7l2.6 -0.6M60.4 405.0l2.1 -1.1M60.2 391.8l2.8 -1.3M71.6 348.6l3.2 -0.7M101.8 345.8l1.2 -1.9M129.0 332.6l3.5 -0.4M342.8 295.5l1.0 0.2M80.8 404.6l2.3 0.3M75.3 394.8l3.1 1.3M62.4 365.7l2.3 -0.2M31.7 386.1l2.4 -1.2M70.6 409.4l2.6 -1.3M328.9 292.9l1.0 0.2M225.1 315.6l2.0 0.9M52.6 396.2l2.7 -0.4M216.5 341.6l0.9 -0.4M96.5 402.1l1.9 -0.9M88.4 430.3l2.0 -0.5M101.6 419.1l2.4 2.3M102.7 383.4l1.8 -0.1M62.1 437.3l3.5 0.0M49.0 369.0l1.3 -0.4M102.3 428.3l3.4 -0.9M99.8 372.0l2.8 0.1M290.3 364.0l2.2 -1.9M134.0 378.4l2.8 -0.6M66.8 381.0l1.0 -0.4M73.6 353.4l1.6 -1.6M55.3 411.2l3.0 0.2M238.3 321.0l1.4 -2.5M87.0 362.4l3.2 -0.0M246.2 369.8l3.4 0.4M81.9 392.5l1.3 -0.1M90.6 360.6l2.7 -1.5M213.1 296.8l2.6 0.8M217.3 377.7l2.5 2.2M211.2 356.9l2.3 -1.3M95.4 371.0l1.8 -0.4M90.5 371.7l1.2 0.1M137.6 336.3l2.6 -0.7M220.1 343.1l3.2 -1.3M319.4 311.2l2.7 0.1M312.5 341.9l1.4 -0.4M185.5 354.6l2.8 1.4M122.5 342.8l2.5 1.1M54.5 394.1l3.0 -1.3M44.6 411.2l3.0 -1.3M140.9 349.0l1.2 -0.3M118.1 347.4l1.3 -2.6M74.8 366.4l1.7 0.5M79.1 342.6l1.4 0.3M257.8 361.3l1.4 0.2M264.2 359.2l1.3 0.6M262.5 341.1l1.8 1.0M101.8 376.2l2.9 0.4M99.0 360.0l2.2 -1.2M338.5 289.7l2.2 -1.3M76.1 439.2l1.7 1.4M117.5 358.3l1.2 -0.3M190.8 344.8l2.7 1.5M65.6 407.9l2.5 0.4M367.7 298.6l2.0 -1.4M173.9 311.7l2.8 0.6M215.6 358.1l1.1 0.2M227.8 346.3l3.1 -0.7M167.1 318.1l1.1 -0.3M83.9 351.8l2.5 0.4M96.1 386.2l1.5 -0.3M75.9 376.9l1.9 0.4M79.1 362.7l2.2 -0.5M321.1 296.7l3.2 -0.3M96.5 389.4l2.1 -2.8M72.3 453.0l1.0 0.6M31.4 404.7l1.9 -0.3M318.0 294.4l2.2 -0.2M122.6 361.2l2.1 -0.4M109.6 335.3l2.6 -0.8M123.9 367.8l1.8 -1.7M98.8 361.8l1.0 -0.0M307.6 283.9l2.4 -1.7M258.8 306.3l1.6 -1.3M134.3 371.4l2.2 -1.9M96.4 454.6l2.7 -0.9M160.2 332.4l2.0 -0.3M275.2 315.0l0.8 -2.3M158.2 338.5l1.7 -1.1M98.2 335.4l2.1 -1.0M96.3 328.7l2.3 -0.1M33.7 410.5l0.9 -0.7M122.5 379.1l3.4 0.5M90.6 439.8l1.3 -0.0M263.0 364.3l3.0 -1.2M118.2 378.6l1.7 0.5M114.7 383.6l2.2 -0.3M55.5 395.0l2.2 0.9M333.9 315.5l2.5 -1.5M231.4 361.6l2.8 -0.2M71.6 399.7l1.2 -0.2M107.6 403.4l2.0 -1.3M70.0 412.3l3.3 0.9M44.2 434.8l1.7 1.1M398.0 282.2l2.1 1.8M345.6 328.7l1.5 0.3M154.1 356.6l2.6 -1.5M187.7 355.2l1.4 -0.5M265.5 290.6l3.3 -1.1" stroke="#f1cfc6" stroke-width="2.40"/><path d="M223.2 317.4l1.1 -0.6M207.2 327.4l1.8 -0.5M282.4 336.0l2.7 0.1M316.9 337.8l2.0 -1.9M231.9 348.8l2.5 -0.3M71.7 437.1l2.0 2.5M100.3 454.5l2.4 -1.1M285.6 351.9l1.4 -0.3M210.7 330.4l3.2 0.1M200.9 365.7l3.3 -0.3M126.5 370.5l1.9 1.1M269.4 328.0l1.6 0.8M264.1 312.0l2.5 0.4M78.6 446.0l2.0 -1.3M222.3 367.8l3.3 0.6M140.5 383.8l1.9 -1.2M135.2 373.2l1.7 -0.4M299.2 330.9l3.1 1.4M334.5 326.7l1.9 -0.4M206.0 317.5l2.0 1.3M147.2 382.3l1.0 -0.2M257.3 300.4l2.7 0.7M220.2 308.8l1.5 -0.4M224.5 301.0l1.0 -0.3M240.4 323.2l1.7 -1.0M234.0 324.1l1.2 0.7M199.6 310.8l1.6 0.2M249.1 342.3l3.3 -0.6M261.5 312.2l2.0 -0.6M287.3 347.5l2.5 0.5M221.5 351.5l2.6 2.2M105.4 379.0l2.9 -1.1M157.3 359.2l0.7 -0.8M224.5 345.8l1.2 -1.1M195.2 334.1l0.4 -1.6M266.8 314.0l1.3 -0.6M361.0 320.7l2.3 -0.5M302.4 337.3l2.4 -0.7M296.4 341.3l2.4 -2.0M208.2 341.9l2.6 0.2M295.0 342.1l1.6 -1.6M241.2 350.2l2.8 -1.3M139.6 354.4l2.4 -0.8M65.9 434.4l2.8 1.8M306.9 313.5l2.7 -0.6M265.5 340.3l1.7 1.3M190.4 335.1l1.8 1.4M354.7 314.2l2.0 0.9M130.8 364.4l2.8 0.9M114.5 367.6l2.3 0.0M257.7 313.5l2.0 -0.9M242.0 359.5l1.7 0.4M195.6 334.4l2.2 -0.0M303.3 346.7l2.6 -0.5M176.8 344.9l2.2 -0.9M284.1 320.8l2.5 -0.8M197.9 340.8l3.1 0.1M111.8 381.7l2.0 -1.1M314.9 327.9l1.5 0.4M62.6 442.2l3.3 0.3M281.0 312.2l3.2 -0.1M240.1 322.9l0.9 -0.5M252.4 345.5l1.9 -0.4M99.2 460.9l1.9 -0.9M296.4 310.0l1.4 -0.2M246.6 316.8l2.0 -1.9M266.8 337.5l1.9 -0.5M210.4 332.9l2.7 -0.2M137.7 347.6l3.2 -1.0M206.3 336.4l2.0 -0.2M127.9 383.8l3.5 -0.2M222.7 323.6l2.2 -1.0M259.3 328.0l2.1 -0.9M328.0 317.3l0.9 1.1M252.0 304.8l1.5 1.3M304.3 319.1l2.6 0.0M247.9 355.6l1.5 -1.3M197.4 312.9l2.0 -0.2M286.0 340.9l1.6 2.3M153.8 357.8l1.1 1.2M267.5 334.5l3.0 1.5M236.1 330.4l1.3 -0.1M166.7 332.5l2.4 0.1M256.8 300.2l1.3 -0.3M362.9 332.1l2.7 -0.3M232.2 342.5l2.2 -0.6M281.5 312.1l2.1 1.2M197.3 333.2l1.2 -0.1M73.9 437.6l2.3 2.5M139.7 355.3l1.9 -1.4M286.6 343.9l1.3 -0.0M200.0 345.0l2.7 -1.3M256.6 311.0l1.9 -1.0M316.4 334.2l2.4 0.1M237.9 336.6l0.7 -1.9M258.0 329.0l1.9 -0.8M106.5 365.8l1.0 0.3M120.8 347.8l1.6 -0.0M135.7 369.6l1.5 0.1M129.3 370.9l1.1 -0.3M122.5 361.3l2.1 -0.4M303.4 317.0l1.5 -1.2M299.7 349.9l2.2 -1.2M190.0 330.8l2.9 -0.3M145.0 366.2l3.1 -1.1M84.3 462.6l2.2 -0.0M107.1 382.6l1.2 0.9M216.5 323.8l2.5 0.2M333.4 313.5l1.4 -0.6M170.1 325.1l1.9 1.0M73.0 407.8l1.2 -0.4M217.0 324.9l1.4 -2.4M252.7 340.2l2.3 1.4M226.9 310.3l2.9 0.2M227.1 325.1l3.3 0.2M236.1 336.4l2.0 -1.4M289.9 315.2l2.4 1.0M218.8 345.0l3.2 -0.1M145.1 374.2l2.2 -1.4M223.4 363.7l2.8 -1.0M244.2 363.4l1.4 -0.3M220.0 368.8l2.9 -1.6M301.4 336.9l1.7 0.5M324.7 330.6l2.9 1.6M75.7 423.5l1.3 0.5M132.7 362.8l1.8 1.6M283.0 311.4l2.3 -0.5M105.2 390.2l2.0 -0.3M280.0 338.6l1.8 0.2M105.3 381.7l2.3 -0.1M71.3 438.0l1.5 0.7M141.2 362.5l2.3 0.2M240.4 349.5l1.9 1.2M287.3 334.2l2.2 -0.8M303.4 338.1l1.2 -0.2M309.4 345.5l2.0 -0.4M227.4 339.5l1.0 -0.7M132.9 350.3l3.1 -0.6M159.7 361.3l1.2 -0.4M275.9 312.5l2.2 0.3M210.0 362.7l1.1 -0.1M308.5 334.9l1.6 -0.0M221.6 321.4l2.1 -0.1M323.1 317.6l1.9 -0.1M277.2 323.9l2.9 1.4M346.8 318.1l1.9 0.7M215.7 309.3l3.1 -0.6M263.5 310.4l2.9 0.8M268.3 337.1l2.7 -1.0M222.3 323.3l0.8 -1.0M120.7 375.7l2.4 -0.1M209.0 357.3l1.3 2.3M237.2 308.3l1.8 -2.9M94.7 442.1l2.4 -0.9M227.1 333.3l1.1 -1.0M237.9 354.4l1.1 -0.5M214.9 367.6l3.2 -0.7M236.0 329.5l1.0 -0.4M298.1 345.7l1.3 -0.1M262.5 338.8l0.6 -0.9M387.4 312.0l1.5 0.9M237.2 341.1l1.0 0.3M129.1 384.8l2.1 -0.3M142.8 375.5l2.2 -0.4M166.1 317.5l2.3 -1.9M255.1 321.4l1.1 -0.1M287.8 307.0l1.1 -0.4M184.3 333.9l2.0 0.8M80.1 435.5l3.2 0.7M71.6 466.0l1.1 -0.1M180.9 307.0l1.8 -0.4M249.5 365.2l1.7 0.6M183.7 342.6l2.9 -1.4M189.9 343.5l0.8 -0.7M306.9 318.6l2.6 1.2M251.9 334.3l1.6 -1.5M342.1 308.4l1.8 0.3M374.4 319.7l2.7 -2.0M237.1 340.4l2.6 -0.2M299.7 330.2l1.9 -0.9M209.5 335.9l0.9 -1.6M221.9 353.0l1.7 0.6M214.0 318.5l1.6 -0.8M193.5 329.4l2.0 -0.2M224.5 308.0l2.7 -1.2M299.7 343.4l3.2 -0.7" stroke="#d3def2" stroke-width="2.40"/><path d="M261.2 346.5l1.5 -0.7M141.6 331.3l2.6 -1.0M252.3 345.3l2.6 1.4M309.8 318.3l3.0 -0.2M244.2 325.0l2.8 1.0M233.1 311.4l2.4 -0.5M193.0 348.2l1.0 -0.3M256.0 315.6l0.5 -0.6M267.2 320.8l1.5 -0.2M218.2 325.3l2.4 0.2M203.4 312.6l2.6 0.5M146.9 334.6l2.0 -2.2M207.8 316.1l1.2 -0.5M263.0 330.2l1.4 0.3M127.1 333.6l2.0 0.5M231.7 325.8l2.3 -0.7M223.9 344.5l1.1 -0.3M184.3 314.2l2.7 -0.5M154.1 351.1l2.4 -1.3M147.0 353.6l1.4 -0.7M224.4 317.6l1.6 -0.3M225.8 325.9l2.6 -1.7M239.2 339.1l1.0 -1.0M201.5 337.6l2.6 1.3M231.2 335.3l1.6 -1.5M166.7 347.4l2.2 -0.0M254.5 323.0l0.8 0.7M233.0 318.5l3.0 0.3M302.7 320.7l2.4 0.5M143.2 323.6l2.9 -1.0M276.1 332.2l2.7 -0.7M232.5 319.6l3.0 0.6M226.7 330.9l1.4 0.0M163.4 349.0l3.0 0.4M251.8 331.9l1.7 -1.1M240.8 335.4l1.0 0.0M258.1 315.2l1.6 -0.8M255.4 341.3l2.8 -0.5M303.9 313.7l1.6 -0.2M289.4 302.7l1.7 -0.2M132.8 331.4l2.2 0.5M269.6 338.2l1.8 -0.0M245.9 324.1l0.5 0.7M259.4 323.5l2.2 -1.0M137.7 344.7l2.7 0.9M207.7 321.6l1.1 -0.9M243.7 344.6l0.8 -0.3M135.9 331.6l0.9 -1.1M154.9 353.3l2.4 -0.2M238.5 305.8l2.6 -0.3M126.2 342.9l1.5 1.9M181.4 319.7l1.9 -2.3M217.0 351.1l1.9 1.1M136.9 320.7l1.4 0.3M157.6 332.2l2.1 -0.4M157.2 355.7l3.1 0.1M138.4 330.2l1.0 -0.5M212.7 338.3l1.1 -2.5M219.9 333.8l1.4 -1.5M292.4 318.7l1.3 -1.2M197.5 323.4l1.2 -0.1M201.7 348.6l3.0 -0.6M238.0 330.6l2.2 -0.1M266.5 319.8l2.8 -0.6M228.0 337.1l1.0 -0.0M210.5 316.0l1.9 -0.0M133.5 335.8l2.9 -0.3M203.6 336.2l3.1 -0.2M191.9 321.9l1.7 -1.3M156.4 337.9l2.0 0.2M148.9 336.7l2.4 -1.0M120.1 323.8l1.7 -0.5M283.9 317.2l1.0 0.6M244.5 341.2l1.3 0.5M218.0 334.8l1.6 0.1M302.4 308.4l2.8 -0.5M131.6 329.5l2.4 0.4M199.8 315.2l2.2 0.3M244.9 332.2l2.0 0.7M242.6 323.4l2.6 -0.2M252.4 329.5l2.3 0.7M197.6 327.9l2.0 1.6M200.5 339.6l1.9 0.1M148.4 350.9l2.2 -0.8M242.2 327.0l1.3 0.2M250.1 342.3l2.2 -0.6M155.2 342.7l2.0 -0.9M265.7 315.3l2.5 -0.3M240.3 323.1l1.0 -0.9M219.8 308.8l2.7 0.2M238.9 348.3l0.9 -1.5M277.1 308.5l1.2 -0.0M222.0 337.7l2.4 -1.1M139.3 332.0l0.8 -0.2M145.9 354.5l2.5 -0.6M133.7 328.9l1.4 -1.1M141.5 330.3l1.1 -0.1M261.0 312.4l0.6 -0.9M230.8 310.1l2.0 1.1M156.6 336.5l2.2 -1.7M233.4 335.6l0.8 0.1M131.8 342.5l1.6 -0.6M195.9 314.3l2.0 0.4M189.7 336.4l2.3 1.8M141.8 326.2l2.5 -0.6M158.1 334.3l2.8 -1.0M281.4 319.9l0.9 -0.6M248.4 344.0l2.2 0.5M231.3 322.2l2.4 -0.9M250.6 337.6l2.5 0.1M198.1 315.8l0.8 1.1M220.6 343.8l0.9 -0.3M231.0 318.8l2.9 -1.0M187.5 349.4l2.7 -0.2M230.2 322.2l1.3 -0.4M151.7 330.7l3.0 -0.8M153.1 341.3l1.1 -0.7M248.2 329.5l1.9 -0.0M217.8 336.5l2.4 0.0M209.6 345.6l1.3 -1.1M138.9 337.3l2.4 1.4M198.0 345.7l1.9 0.1M289.7 320.0l3.1 -0.7M240.7 317.3l1.5 -0.2M250.8 308.8l1.2 -0.2M271.7 309.2l1.6 -0.3M252.1 343.8l0.9 -0.5M156.3 344.1l1.3 1.3M120.7 357.9l2.7 -0.6M135.5 340.7l2.1 0.5M217.8 331.7l1.1 -0.6M249.6 316.1l2.3 0.1M263.3 326.1l1.4 -2.1M147.7 340.0l1.4 -1.8M231.6 312.7l3.0 -0.5M297.8 332.6l1.9 -0.5M142.7 327.2l3.1 0.6M300.0 332.4l1.2 0.1M260.2 345.8l2.6 -0.3M271.4 316.1l2.1 -0.3M204.9 337.6l0.8 -0.6M154.5 344.3l2.2 -0.6M273.8 328.7l0.1 -1.2M241.1 326.7l0.9 0.2M240.2 308.5l2.1 0.6M258.8 314.3l2.6 -0.5M130.2 347.8l1.5 -2.2M142.6 336.2l1.1 0.8M195.2 339.6l1.8 0.2M244.6 319.4l0.9 -0.2M240.1 349.6l1.0 0.3M206.7 313.6l2.4 0.4M154.3 344.3l2.6 -0.6M162.9 325.7l1.4 0.1M150.0 341.9l1.6 -0.6M221.7 329.0l1.7 -0.7M192.5 320.4l1.6 0.3M206.1 319.0l1.8 -0.3M264.8 317.2l2.0 2.1M233.7 325.6l0.8 -1.9M152.1 345.4l2.1 -0.8M250.8 313.9l2.2 0.7M301.7 307.7l1.0 -0.2M226.0 320.5l1.9 -1.0M148.4 353.6l2.2 0.2M129.1 335.0l1.3 -0.9M267.2 330.2l0.5 -0.9M141.8 337.6l1.8 2.4M210.2 340.4l2.1 -0.0M214.4 327.5l2.4 0.5M174.2 338.7l2.3 -0.5M181.0 329.2l2.4 -2.0M264.8 309.5l2.7 -0.4M247.5 332.2l1.3 0.1M253.5 334.9l1.4 0.8M261.7 335.9l1.0 0.0M163.1 338.6l1.7 -0.2M140.0 342.0l2.7 -1.1M300.4 309.0l2.9 -0.5M157.6 337.9l1.2 -0.9M230.2 346.1l1.4 0.1M238.9 346.8l2.3 1.4M256.4 338.5l1.8 -0.3M249.0 344.6l1.0 -0.0M272.9 309.3l2.4 -0.4M246.3 331.8l2.8 0.1M243.4 338.6l1.9 -0.3M247.1 319.5l1.8 -1.8M276.7 316.5l2.3 -0.1M143.0 333.9l0.9 -2.0M275.9 324.1l2.4 0.3M157.5 337.3l1.6 0.1M248.1 323.9l1.3 -0.1M205.1 334.4l1.4 -0.3M224.7 333.1l2.2 -1.0M221.4 307.2l2.2 1.1M218.8 343.1l1.2 0.5M201.9 341.5l1.3 -0.2M235.6 331.4l2.8 -0.2M258.4 341.3l1.8 0.1M212.3 324.9l1.2 0.2M259.5 333.7l2.7 -0.7M260.2 338.8l2.3 -0.4M195.3 319.6l2.4 -0.3M127.2 330.8l3.0 0.2M250.2 332.0l2.1 0.4M301.0 309.2l1.6 -2.2M197.9 356.1l2.3 -1.0M136.4 342.3l1.6 0.0M231.4 349.4l2.3 0.2M247.0 332.9l1.5 -2.2M141.4 337.4l1.0 -0.0M143.8 341.5l0.9 -0.5M141.3 340.4l1.1 -0.3M197.0 338.2l2.5 -0.5M150.7 350.5l2.5 -1.1M128.9 327.1l2.5 0.5M200.5 338.5l1.4 -0.3M165.1 341.9l1.5 -0.5M239.9 342.9l2.5 0.3M225.3 299.6l1.4 0.2M248.5 333.2l0.9 0.1M205.0 324.3l1.8 -1.6M127.0 335.8l1.0 0.5M195.4 327.7l3.0 -0.3M259.2 338.5l2.0 0.9M154.2 348.3l2.8 -1.7M183.6 321.8l1.8 -0.4M146.2 345.2l2.4 -0.6M224.5 306.5l2.4 -0.5M239.5 356.7l3.4 -0.9M216.5 305.3l1.8 -1.0M246.4 328.7l1.4 -0.3M283.0 323.9l1.6 -0.5M149.5 330.5l1.2 -0.1M221.4 352.4l1.3 -0.7M216.6 332.0l2.5 0.5M255.8 319.0l1.0 -0.2M265.1 312.6l2.3 1.2M139.1 336.2l3.0 1.0M220.3 339.6l2.4 -0.8M189.8 317.1l2.8 0.0M238.6 327.9l1.4 -0.7M259.7 319.4l2.6 -0.1M292.7 311.8l2.5 0.1M145.4 336.2l2.5 1.0M173.6 330.1l1.6 1.1M248.0 354.4l3.4 -0.4M236.9 332.2l1.9 -0.2M234.2 339.5l3.5 0.5M150.0 336.1l1.2 0.2M165.0 338.5l1.9 -0.1M134.9 343.3l1.6 -0.2M217.4 318.9l2.5 -0.0M219.6 328.1l1.4 0.0M218.8 334.6l2.3 -0.2M139.8 348.3l3.1 -0.0M263.5 319.9l1.7 -0.1M218.3 323.6l2.7 -1.3M207.2 332.5l2.3 -0.3M157.2 336.4l2.5 -1.8M232.7 319.2l1.1 -0.3M222.9 326.9l1.7 -0.2M308.0 329.4l1.2 -0.9M216.4 327.3l2.7 0.1M151.6 346.0l2.7 0.4M135.3 340.2l1.3 -0.2M149.3 334.4l2.3 0.4M191.4 344.0l3.3 -0.5M154.3 328.1l2.1 0.3M247.6 317.2l2.0 0.8M243.0 340.2l2.3 0.1M251.1 316.9l2.1 -0.8M205.9 340.6l2.6 -1.2M225.3 332.3l0.8 2.0M261.7 303.5l1.6 -0.1M248.2 315.5l2.6 1.1M120.6 342.0l1.1 -0.0M282.4 316.0l1.4 0.4M152.3 346.8l1.6 -0.4M208.8 344.7l3.0 -0.7M223.8 345.0l2.4 1.1M140.9 338.4l2.0 -1.6" stroke="#ffffff" stroke-width="1.80"/><path d="M196.3 330.2l2.1 0.0M336.4 343.9l0.7 0.4M114.5 370.3l2.0 -1.2M282.5 348.7l1.4 0.1M226.6 304.7l1.0 -0.2M151.2 366.7l0.6 -0.6M78.1 373.1l2.0 -1.0M351.0 359.8l1.5 0.5M158.1 313.9l2.8 0.8M307.9 363.4l2.1 1.0M90.1 352.9l2.9 -0.4M226.0 372.2l1.1 -0.6M343.5 280.7l2.5 1.6M93.0 422.6l2.7 0.4M200.9 297.9l2.9 -0.2M355.3 300.0l2.1 0.6M133.4 317.0l2.2 0.8M204.0 356.7l0.6 -0.8M433.3 304.1l2.9 -1.0M122.9 348.7l0.7 0.5M243.8 372.7l2.1 -1.3M69.9 351.1l3.0 1.2M48.5 424.8l2.9 0.2M73.3 412.5l2.3 1.0M443.9 305.0l0.8 -0.1M52.0 422.9l3.0 -0.2M61.3 375.6l2.2 -0.5M76.2 417.3l2.6 -1.0M306.8 324.3l1.1 -0.8M312.0 323.3l2.1 -0.5M24.0 431.3l2.3 0.0M309.1 295.1l0.9 0.4M360.2 349.6l0.8 -0.4M42.9 377.1l2.6 -1.1M413.9 307.7l1.4 -0.3M116.4 338.4l2.7 -0.6M84.6 369.0l0.8 -0.3M72.8 373.2l1.0 -0.5M199.5 364.7l1.7 -1.8M292.7 282.5l1.4 -0.6M242.0 317.2l1.1 1.7M97.3 323.8l1.2 0.5M332.2 303.1l2.8 -0.0M60.6 465.3l3.0 -0.8M145.5 380.2l3.1 -0.7M194.3 345.6l2.7 0.6M271.3 320.6l2.1 -1.0M181.6 343.0l1.1 -0.9M43.8 403.6l2.3 1.5M97.0 464.7l2.5 -0.6M354.5 343.3l1.8 -0.3M294.8 359.0l2.2 -1.6M143.8 384.3l0.8 -1.2M36.8 434.7l0.5 0.8M75.4 372.6l1.4 -0.4M45.3 445.5l1.0 2.1M125.8 338.7l3.1 0.6M298.6 361.7l1.1 -2.2M133.8 387.2l2.5 -0.7M55.4 404.8l2.8 -1.3M20.8 436.8l1.9 0.1M284.4 374.5l2.6 -0.2M82.5 385.4l2.2 -0.7M178.7 369.6l1.3 -1.7M190.8 316.6l1.6 -0.6M164.3 305.4l1.0 -0.7M61.1 431.2l2.6 -0.4M272.0 369.9l2.2 -0.8M67.3 420.2l2.1 -0.1M55.8 422.1l1.3 0.5M59.2 450.7l1.4 -1.2M82.1 367.1l1.2 -0.1M213.2 369.2l2.2 -1.0M93.4 430.3l1.2 -0.1M196.1 373.9l1.6 -0.1M281.7 341.4l1.1 -0.1M313.7 300.7l1.8 -0.5M170.5 324.7l1.3 0.9M229.4 303.3l0.9 -0.3M230.9 310.6l2.4 -0.2M80.7 394.4l1.4 -1.3M319.6 330.2l1.9 1.1M50.5 435.7l2.8 -0.1M370.1 340.8l2.5 0.4M11.8 393.1l1.1 -0.3M89.1 347.7l1.7 -0.5M270.6 347.9l2.6 -0.5M261.3 327.8l2.0 -1.0M93.8 365.6l2.0 0.3M158.5 350.3l2.5 1.4M30.5 355.5l1.6 0.1M323.5 353.0l2.6 -0.7M119.3 330.8l2.4 -0.3M392.3 353.8l1.7 -0.9M31.1 397.4l2.7 -0.8M62.7 428.2l1.4 -0.0M71.8 403.2l2.0 0.8M63.3 347.3l1.1 -0.0M147.3 366.2l2.9 1.2M165.6 316.6l0.9 -0.4M113.9 367.5l1.5 -0.4M117.3 362.3l2.1 -0.4M43.5 415.9l0.8 0.4M57.4 454.3l1.4 0.5M372.4 284.4l2.0 0.0M112.8 378.8l2.4 -1.3M269.2 355.9l1.9 -1.8M252.1 320.6l2.5 0.1M284.6 372.5l2.6 0.7M211.4 316.5l2.2 -1.9M49.8 347.8l1.8 -0.4M23.6 366.4l2.0 0.4M62.1 452.2l1.4 0.2M67.3 433.3l0.8 0.8M48.3 385.3l0.9 0.2M143.8 325.7l2.4 -1.1M104.5 458.8l2.2 -0.6M31.1 428.0l1.7 -0.1M107.0 347.4l1.4 0.4M289.4 376.1l1.8 0.5M26.9 379.0l0.9 -1.0M378.9 347.2l2.4 -0.6M89.3 438.8l2.4 -1.8M64.4 459.0l2.8 -0.5M370.8 285.2l1.1 -0.4M91.1 447.6l2.0 0.2M54.0 352.3l1.2 -0.0M69.1 383.0l0.8 -0.3M87.0 451.3l1.7 0.6M152.0 343.1l2.7 0.6M53.2 391.2l2.4 0.3M80.3 432.7l1.3 -0.3M234.8 308.3l1.2 -0.7M277.5 300.2l1.0 -0.0M148.3 332.1l-0.5 -2.3M43.4 352.0l2.1 -0.9M295.5 368.8l1.8 0.0M29.0 408.0l2.1 -0.2M341.8 306.3l1.4 1.1M43.5 453.6l2.6 1.6M251.6 314.7l2.4 1.1M350.7 277.7l1.2 -0.4M193.3 358.5l1.5 -0.3M314.3 287.0l1.2 -2.1M73.9 403.2l2.8 -0.2M115.3 356.5l1.5 -1.3M219.0 308.4l1.9 0.1M127.1 365.1l1.8 -0.9M18.3 386.5l1.8 1.4M103.1 329.5l2.7 -0.4M107.7 406.8l1.3 0.5M79.8 426.1l2.2 -1.6M212.8 345.4l2.2 -0.6M437.7 304.2l1.9 -0.5M82.5 452.0l1.2 -0.0M315.0 285.3l2.2 0.8M83.7 449.6l2.9 -0.4M89.7 370.0l2.3 0.3M221.4 375.7l3.0 -0.1M328.9 350.1l1.0 0.3M155.9 319.7l1.3 -0.1M35.1 413.8l1.3 -1.9M58.5 461.2l1.5 0.6M176.9 365.5l0.8 0.3M85.2 443.3l0.9 3.0M103.6 379.5l2.2 -0.5M183.4 373.5l1.4 0.3M75.2 429.0l1.0 0.1M59.2 400.2l1.6 -1.2M288.2 297.8l1.6 -0.5M87.5 440.3l2.4 0.1M264.6 290.1l1.7 -1.0M115.0 361.2l2.7 -0.4M318.9 335.6l2.2 0.2M190.1 301.1l2.2 -1.7M91.2 412.5l1.7 -0.6M422.4 294.0l2.6 1.8M78.4 360.1l1.0 0.1M318.9 341.6l2.5 1.4M163.8 360.1l1.6 -2.0M49.2 374.3l2.5 -1.0M330.8 350.7l1.3 -0.3M125.4 336.2l1.5 -1.2M314.5 283.3l1.4 0.0M374.8 324.7l2.3 0.2M401.6 291.6l2.5 -1.3M177.0 334.0l1.9 1.9M51.9 356.7l2.6 0.8M223.2 293.1l2.2 -0.3M138.1 335.5l1.2 -0.1M99.3 345.8l2.2 0.0M284.5 297.0l2.3 -0.5M83.6 397.0l1.9 -0.5M114.0 335.4l1.6 -0.2M156.8 358.8l0.8 -0.3M201.4 298.4l1.6 -2.6M72.3 357.5l1.9 0.7M349.6 358.2l1.7 -0.4M320.8 297.0l0.8 -0.6M68.1 362.8l1.6 -0.4M92.2 352.6l1.2 -0.2M122.1 360.1l1.8 0.3M221.7 344.2l2.1 -1.3M288.0 366.3l2.0 0.2M105.7 406.7l2.4 -1.0M115.3 337.9l1.7 -1.9M44.2 452.2l2.3 -0.1M88.3 459.6l1.4 1.2M292.1 310.2l2.8 0.3M52.3 400.7l1.1 -0.6M64.1 452.6l2.7 0.8M29.2 429.5l1.0 0.4M67.2 462.3l1.3 0.8M151.1 374.8l1.6 -0.8M333.4 332.6l2.2 0.1M343.8 365.8l0.9 -0.4M134.6 311.7l2.1 0.7M38.3 370.0l1.8 -1.4M284.0 356.8l0.9 0.5M43.6 413.1l2.6 1.8M62.1 388.8l3.0 0.1M390.7 339.5l1.7 -1.4M99.3 367.4l1.9 -0.7M165.2 343.2l1.5 -2.8M277.5 296.1l1.8 -1.8M67.2 421.4l1.9 1.8M44.6 386.1l1.7 0.0M96.9 344.7l0.9 -0.4M180.9 363.5l1.8 0.0M174.5 353.2l2.0 0.4M251.2 307.2l1.7 -0.5M53.1 359.8l2.4 0.8M76.9 397.2l2.4 0.6M164.6 328.9l1.4 0.8M89.1 417.6l1.6 1.5M258.8 318.0l1.3 -2.7M162.3 340.4l2.5 0.1M63.1 387.9l1.8 -0.2M22.2 419.8l1.4 0.2M202.1 318.2l0.8 -0.3M318.0 355.4l2.3 0.1M83.2 414.0l1.0 1.5M379.8 352.6l0.7 -0.5M189.2 298.0l1.1 -1.9M223.7 348.4l1.1 -0.7M133.1 381.2l2.6 -0.0M409.7 339.7l1.4 0.3M42.9 384.6l1.8 -1.7M151.0 353.5l1.6 -0.1M102.9 443.9l0.8 -0.1M44.4 389.8l0.7 -0.9M315.0 355.2l1.7 -0.1M333.5 330.4l1.9 0.3M73.3 375.6l1.9 0.1M32.7 365.6l1.9 -1.1M381.0 293.2l2.2 0.7M267.8 345.7l1.8 -0.0M50.3 388.7l1.1 -0.5M343.4 368.7l0.9 0.1M224.3 299.0l2.0 -1.2M344.6 315.1l3.0 -0.9M43.1 450.7l2.4 0.2M39.9 438.6l2.0 -0.7M204.2 327.2l1.6 -0.1M280.8 298.3l2.4 0.7M73.8 353.1l2.0 0.6M251.8 292.3l2.0 1.7M292.8 350.7l1.6 0.6M103.3 447.6l1.7 0.9M214.9 346.4l2.2 -1.4M221.7 360.9l1.1 -0.1M86.0 399.8l2.4 -0.1M55.5 439.3l1.7 0.7M94.3 457.5l1.0 0.7M61.7 418.4l1.1 -0.8M71.2 374.8l1.4 -0.8M17.7 436.4l1.7 0.3M54.6 414.6l2.6 0.1M316.3 301.9l1.5 0.9M79.8 340.2l0.8 -0.3M204.2 357.7l1.3 0.1M65.0 437.0l1.9 1.1M26.1 367.7l1.2 0.8M134.5 324.1l1.7 0.4M56.3 431.3l2.9 -0.6M174.6 342.0l1.0 -0.1M194.4 306.7l0.7 -0.6M51.4 431.0l3.1 -0.4M67.0 440.3l2.4 1.4M207.6 348.9l2.0 -0.7M92.5 398.4l2.4 -1.6M27.3 433.8l2.3 1.2M50.4 460.3l1.4 1.1M347.1 356.5l2.3 1.2M113.7 387.4l0.9 -0.3M105.4 373.6l1.0 0.6M83.9 371.1l3.0 -0.9M101.4 322.5l3.2 0.2M88.2 383.0l1.3 0.5M181.9 307.5l1.2 1.3M130.3 314.7l2.3 -1.5M272.8 308.3l2.5 -0.5M102.6 349.0l0.8 -0.4M147.0 338.3l3.0 -0.5M60.4 373.0l1.8 -0.4M64.9 416.8l2.0 -1.1M190.5 373.0l2.7 -0.0M109.7 319.6l1.6 -1.0M222.1 372.7l1.7 -0.8M88.7 442.4l1.4 -0.3M297.0 352.9l1.2 -0.1M86.5 405.7l2.4 0.5M34.1 390.9l0.9 -3.0M46.2 429.3l2.4 1.0M58.6 402.0l2.5 -0.5M382.8 296.3l2.0 -1.8M83.9 415.6l1.8 1.3M335.4 349.0l2.0 -0.9M288.7 304.1l0.9 -0.4M120.8 360.4l2.2 -0.1M39.0 421.4l1.8 1.9M253.2 317.4l1.2 -0.0M167.9 312.5l1.4 0.0M45.6 415.5l1.2 -0.2M187.8 350.1l1.6 -0.4M99.4 354.8l2.2 0.1M80.6 389.4l1.8 -0.8M102.3 394.0l1.7 0.3M212.5 371.3l0.8 0.3M264.0 304.3l1.2 -0.7M96.9 348.1l1.2 0.1M356.8 324.7l2.3 1.3M195.2 377.3l2.9 1.1M83.0 411.7l1.3 0.4M108.5 355.3l1.2 -0.5M289.8 296.4l2.0 0.6M102.0 358.4l2.3 -0.1M99.8 415.5l2.3 1.0M67.0 359.5l0.9 0.1M38.1 372.1l2.0 0.0M302.9 369.9l1.5 -0.7M172.9 345.8l3.0 -0.9M129.0 389.1l1.6 -0.4M210.4 328.5l1.1 -0.7M304.2 330.8l1.4 -0.4M336.7 321.5l1.9 0.9M297.3 348.6l0.9 -1.1M114.0 362.2l1.0 0.1M106.7 422.1l1.2 -0.1M127.4 375.7l2.3 0.3M100.7 342.9l1.0 0.4M284.8 296.7l1.3 -0.1M27.2 419.9l1.0 -0.3M366.8 327.6l2.0 0.2M331.1 306.9l2.4 -0.5M176.7 369.7l1.2 -0.3M213.3 303.3l2.1 -0.7M252.6 303.6l1.7 0.6M96.8 361.3l1.1 0.3M54.9 403.8l2.2 0.8M285.2 312.7l2.8 -1.4M148.6 364.2l2.0 0.0M109.6 377.0l3.2 0.2M31.4 426.2l0.9 0.0M287.1 364.1l1.3 -2.3M337.2 305.7l0.6 0.8M25.5 381.3l2.6 -0.2M86.4 385.0l1.5 0.1M386.7 282.5l1.4 0.4M150.2 365.3l0.8 -0.1M105.7 348.6l1.4 -1.1M60.7 377.0l1.4 0.2M260.0 324.5l1.6 -0.7M302.4 365.7l0.6 -1.3M226.1 303.0l1.7 -0.1M50.2 407.9l0.8 -0.4M78.2 428.5l1.1 1.8M331.1 350.7l1.7 -1.2M74.6 436.1l2.0 1.1M389.8 333.4l2.5 -1.7M383.6 294.5l1.2 -1.1M28.5 381.3l1.2 -0.6M56.2 417.7l1.6 0.6M189.2 331.4l1.8 0.7M189.3 354.3l2.1 0.1M98.9 421.7l2.0 0.6M182.6 350.0l1.0 0.3M379.5 321.9l1.0 0.4M91.0 420.2l1.1 -0.4M48.3 407.6l0.8 -0.8M407.6 319.6l2.5 -1.4M91.1 445.6l1.0 1.1M379.8 307.9l2.8 1.2M30.6 421.6l1.6 -0.8M90.9 368.6l0.9 -0.7M343.4 302.7l1.2 0.1M214.0 303.2l1.8 1.1M360.2 344.5l2.2 1.0M145.0 360.0l2.4 -1.6M87.2 362.8l3.1 -0.2M51.1 371.2l3.0 -0.5M324.0 300.9l2.1 -0.5M85.9 439.8l2.4 -0.1M7.7 410.9l1.3 -1.6M110.5 451.2l1.4 0.0M161.2 366.6l1.6 0.1M105.6 400.3l1.0 -0.3M327.3 339.9l2.4 1.1M52.2 401.9l1.8 -1.3M295.7 312.3l1.5 -0.6M193.1 306.6l2.5 -0.8M244.8 379.9l1.1 -0.0M153.0 350.1l2.8 0.9M261.8 367.6l1.7 0.0M128.8 331.5l1.0 -0.2M95.6 450.1l1.3 0.7M242.3 301.7l2.1 -1.3M116.7 371.8l1.1 -1.8M73.5 424.9l1.1 0.0M300.3 347.9l1.2 -0.3M28.2 403.5l2.2 -2.1M116.9 361.4l1.9 0.4M246.8 356.3l3.0 -0.9M75.7 437.4l3.1 -0.1M205.2 333.9l1.9 -1.9M151.9 360.8l1.2 -1.1M107.2 376.6l1.4 -0.2M34.7 434.5l1.9 -0.3M153.8 315.2l1.8 -1.4M275.2 270.1l1.1 0.1M46.1 341.8l2.9 1.2M102.0 325.7l1.4 -0.2M324.0 313.3l1.0 -0.5M375.6 345.6l1.1 -0.0M42.6 356.6l0.9 -0.2M58.1 418.3l2.9 -0.7M61.9 354.0l0.6 -1.1M128.2 345.6l1.8 1.3M283.8 286.4l1.0 -0.1M101.0 365.6l1.5 0.2M295.6 348.7l3.1 -0.6M218.5 344.1l2.0 -0.7M194.9 298.7l0.7 -0.4M174.0 336.1l1.0 -0.1M78.9 467.2l2.2 -1.0M94.6 387.8l0.6 -1.0M264.0 377.0l1.6 0.3M93.7 356.6l1.4 0.4M142.3 363.6l0.8 0.9M57.3 382.4l1.2 0.6M207.1 373.9l1.8 -0.6M373.5 320.6l2.5 1.9M39.3 387.1l2.5 0.1M246.9 290.9l2.4 -0.3M198.8 302.7l2.5 -1.4M157.1 322.1l0.9 -0.2M95.7 358.3l0.8 -0.1M358.1 334.5l0.9 -0.6M356.9 333.6l3.0 0.4M26.0 372.9l2.7 -0.1M90.2 331.0l2.5 -1.4M378.0 311.5l1.5 0.4M367.4 297.2l1.3 -0.1M245.2 309.1l1.3 -0.5M108.0 440.4l1.3 -0.2M51.8 421.1l2.4 1.0M68.0 402.2l1.9 -0.1M192.9 359.1l1.2 -0.1M380.2 304.3l0.7 -1.7M93.0 466.2l3.1 -0.2M228.8 305.3l0.8 0.0M84.5 407.9l1.8 1.0M299.7 318.0l2.3 0.8M88.2 368.0l1.8 0.5M112.1 394.4l1.4 0.2M288.1 351.1l1.7 -0.5M42.3 406.0l1.9 0.1M226.1 312.9l1.4 -0.0M206.6 345.1l2.6 0.4M41.8 396.0l1.4 -0.4M19.2 381.4l1.0 0.1M173.3 326.3l2.4 0.5M237.7 294.1l2.5 -0.4M284.6 365.7l2.8 0.4M388.2 281.1l2.4 0.5M77.6 413.9l0.9 -0.4M74.9 410.0l2.4 1.5M237.1 361.9l3.1 -0.1M334.4 349.1l2.4 0.1M86.5 420.8l1.3 1.0M49.5 413.2l3.0 0.8M43.2 364.4l2.6 -1.0M419.5 298.9l1.7 -1.3M351.6 325.9l2.4 0.6M282.9 299.7l2.7 0.0M230.4 342.1l1.9 -0.2M50.1 374.9l1.7 -0.1M350.5 368.9l2.1 -1.3M152.6 317.3l1.3 0.0M53.1 428.4l1.6 1.2M333.9 330.1l1.0 -0.0M112.6 379.3l2.0 0.6M203.4 371.3l2.7 -0.4M85.3 392.1l2.2 -0.6M154.0 305.6l0.9 -0.2M101.2 431.9l0.9 0.0M87.5 400.9l2.0 -0.9M84.6 390.5l0.9 -0.1M270.0 303.3l1.0 -0.2M118.4 329.1l1.3 0.1M81.6 419.5l1.3 0.4M52.0 429.5l0.9 0.6M103.0 376.2l2.9 -0.1M348.5 302.6l2.3 -0.8M169.4 341.9l0.9 -1.9M363.0 292.8l1.9 1.3M161.5 351.8l2.3 0.7M120.4 333.6l2.6 -1.0M83.4 411.5l2.2 -0.7M396.4 335.7l0.9 -0.5M261.8 277.3l2.0 0.8M67.0 412.4l0.9 0.0M320.0 279.8l2.6 -0.2M11.3 429.7l1.5 -0.0M369.4 347.2l1.3 -0.9M66.0 420.7l1.3 -0.4M150.4 351.7l2.3 -0.4M295.1 365.7l2.3 -2.0M291.5 319.0l0.8 -0.3M121.2 334.4l1.9 0.3M85.2 367.3l1.7 -2.3M193.3 324.9l2.3 -0.3M86.7 353.6l1.8 -1.4M63.7 353.0l2.9 -0.9M67.3 454.3l1.7 -0.9M201.6 360.0l2.2 -0.9M86.5 425.7l0.9 0.3M73.4 445.5l1.3 -0.0M78.3 366.6l2.5 -1.0M71.4 397.0l1.7 -0.3M77.2 459.4l2.9 1.2M323.4 355.7l2.2 0.3M158.2 361.2l0.9 -0.2M98.2 341.0l2.3 0.8M314.7 299.5l1.1 0.7M189.1 351.4l1.6 1.2M167.7 346.6l1.3 2.1M171.8 332.1l1.1 -1.3M103.8 408.7l3.1 0.6M275.5 351.5l1.7 -0.8M21.9 395.7l2.5 0.2M170.6 312.2l0.5 -1.6M363.5 300.7l3.1 -0.4M122.6 351.4l1.5 -0.6M46.4 423.0l0.8 0.5M212.4 311.1l0.8 0.2M32.9 426.5l0.5 0.8M59.5 374.1l1.1 -0.6M215.8 344.2l1.4 0.8M105.2 409.9l1.6 -0.2M14.3 416.5l2.0 0.0M41.7 419.6l1.6 1.3M126.9 316.4l1.3 -0.6M220.9 321.5l1.4 -0.8M86.9 389.0l2.6 0.7M52.3 393.1l2.2 0.8M279.7 347.0l3.1 0.6M111.6 343.8l1.8 -1.3M325.9 349.4l1.5 -1.0M50.0 418.3l2.3 -0.3M124.4 315.2l0.8 -0.5M91.4 380.1l2.4 -1.0M376.3 349.1l2.6 -0.5M91.8 382.5l2.4 -1.3M60.2 423.9l0.4 0.7M88.9 370.0l2.9 0.2M118.7 352.4l1.2 -1.0M39.7 355.1l1.5 -0.2M310.8 337.2l3.0 0.6M170.4 347.6l1.0 0.2M336.7 337.1l1.1 -0.7M130.1 341.1l1.2 0.5M91.8 410.4l1.2 0.0M79.6 385.4l1.6 0.2M96.1 351.8l2.0 0.2M109.2 371.1l1.5 -0.2M109.3 342.4l2.4 0.6M253.6 305.3l2.2 -1.8M371.2 313.6l2.3 0.3M128.6 340.9l2.2 0.7M31.3 361.3l0.8 0.6M355.8 347.8l2.3 -1.2M130.2 357.2l2.8 -0.6M72.2 335.0l1.3 -0.6M264.2 349.2l1.2 -0.5M371.7 304.2l0.8 -0.6M150.8 365.4l2.2 0.9M146.4 314.9l2.4 0.2M61.7 371.1l2.6 1.6M108.1 353.4l1.0 0.1M350.1 363.1l1.3 0.3M96.9 454.6l0.9 0.3M102.7 363.1l2.1 -1.3M70.6 375.6l1.7 -0.7M287.0 292.9l3.0 -0.4M129.2 367.8l1.2 -0.3M39.8 392.6l1.8 -1.6M182.5 327.7l1.7 -0.2M68.1 418.1l1.5 -0.0M352.1 289.9l2.2 -0.6M121.1 349.9l2.7 -0.2M369.4 310.2l1.4 0.5M157.1 338.6l2.4 -0.3M74.4 401.5l1.9 1.2M63.5 365.8l2.9 -0.5M322.4 301.2l1.2 -0.3M342.0 307.6l0.9 0.2M151.4 339.1l2.5 -0.5M132.4 323.3l2.7 0.6M197.3 337.4l0.7 -1.5M32.9 388.5l2.4 -0.0M36.8 420.9l3.0 0.3M39.9 450.1l2.3 0.2M115.3 369.2l1.0 0.5M316.5 303.1l1.2 -0.4M214.2 325.8l1.1 -0.7M156.7 363.0l0.7 -0.4M316.7 352.0l0.8 -0.1M118.6 383.9l3.0 1.0M54.0 406.0l1.6 -0.1M347.8 318.8l2.5 -0.9M82.0 410.4l2.5 0.3M57.4 399.7l2.8 -0.4M164.8 329.9l2.1 0.2M347.7 273.1l1.4 -1.1M115.7 336.4l1.4 -0.2M72.4 445.6l2.6 0.6M158.0 361.5l1.4 -0.7M31.6 382.3l2.5 -0.1M294.2 303.7l3.0 -0.7M94.9 345.6l2.2 0.3M111.4 336.3l2.3 0.8M258.6 354.9l2.3 -1.3M133.7 312.5l1.0 -0.3M284.8 295.3l1.0 -0.2M219.3 296.4l1.2 0.0M59.3 384.9l2.1 -0.2M32.6 365.9l3.0 -0.5M204.5 356.6l2.9 -0.1M205.9 297.4l2.1 -0.8M354.0 299.3l1.7 0.5M148.8 307.1l0.8 -0.8M45.8 384.5l2.3 1.7M275.5 304.1l2.2 -0.0M71.7 349.1l1.5 -1.3M88.0 400.4l1.7 0.4M226.2 348.1l1.0 -0.1M151.6 358.3l1.6 -1.2M336.5 275.6l1.7 1.0M189.1 331.5l0.7 -0.8M71.4 443.6l2.3 -0.6M258.9 287.2l2.9 0.6M44.6 404.3l2.1 -0.4M286.0 333.4l1.1 -0.1M294.0 283.0l1.7 0.5M107.0 418.8l2.7 -0.3M263.0 358.8l0.9 0.3M94.9 386.5l2.3 -1.4M75.9 387.3l1.2 0.0M56.2 362.9l2.5 0.8M334.8 295.5l1.6 0.1M278.1 309.0l1.8 1.1M324.0 323.7l1.6 -0.3M131.8 336.4l2.2 0.6M310.9 365.2l2.7 0.5M279.8 354.4l2.6 -0.7M372.7 301.2l1.7 -0.2M295.0 278.7l2.1 -0.8M93.9 357.2l1.5 -0.6M47.0 434.8l1.8 1.0M161.4 361.8l1.9 -0.3M237.4 298.5l2.6 0.7M36.3 367.3l1.0 -1.9M106.9 407.9l2.0 0.0M95.0 460.7l2.9 1.3M47.9 454.1l3.0 -0.2M14.0 378.8l2.1 -0.1M271.2 304.8l1.5 -0.5M436.8 291.3l2.4 -0.8M142.6 317.3l2.7 -1.0M133.0 387.5l1.9 -0.8M87.3 401.1l0.9 0.2M99.3 440.0l1.7 -0.3M31.7 403.8l2.1 0.5M73.5 340.6l3.1 -0.0M26.1 372.0l1.7 0.9M124.0 317.2l2.7 -1.2M332.6 351.5l2.8 -0.4M40.6 428.9l1.8 0.6M356.7 279.1l2.6 0.3M192.3 331.4l2.8 -0.6M302.5 311.2l1.4 -0.5M96.7 420.4l3.1 0.6M284.6 341.5l2.2 0.1M106.7 337.1l2.7 -0.8M107.7 343.3l1.1 -1.1M154.4 344.4l2.3 1.7M95.2 364.3l2.9 0.5M342.0 319.7l0.9 -0.0M94.6 407.9l2.0 0.4M298.7 339.3l1.8 -0.9M49.2 414.9l1.1 0.4M325.8 341.2l0.9 -0.4M349.8 284.2l2.1 0.2M378.9 279.8l2.8 0.9M182.0 346.0l2.8 0.1M156.7 367.0l2.4 0.5M343.2 338.7l0.8 0.7M259.2 340.9l3.0 -0.3M128.4 336.7l1.0 -0.1M165.7 340.1l2.7 -1.4M59.6 384.9l2.6 -1.2M55.6 440.7l1.3 0.1M380.2 299.3l2.6 0.6M134.8 381.9l1.3 -0.2M39.4 369.2l2.6 1.3M79.3 375.0l2.2 1.0M258.2 350.1l1.5 -1.1M359.1 329.3l2.1 -0.5M100.5 410.9l0.8 0.1M383.0 326.3l3.0 -0.8M47.6 401.2l2.7 -0.4M342.7 353.7l1.9 0.1M276.7 281.4l2.0 -1.0M27.4 380.4l0.9 -0.0M122.4 353.0l3.0 1.2M319.0 339.9l1.3 0.3M161.1 333.1l2.1 -0.2M66.6 446.0l2.5 1.3M167.9 347.0l2.7 -1.7M102.9 383.9l2.5 -0.8M184.3 345.7l1.4 -0.5M332.8 331.7l1.3 -1.2M431.7 294.7l1.7 -0.6M266.1 291.4l2.2 0.8M300.2 341.7l1.4 1.6M182.1 321.5l1.1 0.7M76.2 376.9l1.5 -2.0M96.8 339.7l2.9 -1.3M105.6 418.6l1.3 -0.3M111.1 328.6l3.0 0.1M250.2 351.8l1.3 -0.1M289.1 366.7l1.4 -0.1M106.0 453.4l0.7 -0.7M348.3 317.9l1.0 0.5M53.8 412.5l1.2 0.8M99.7 412.4l1.5 1.0M110.1 384.8l1.2 0.1M79.2 423.1l1.7 -1.8M98.3 366.5l1.4 0.6M11.5 412.2l2.5 1.2M306.0 354.2l1.5 -0.5M23.3 415.2l1.1 0.1M17.3 424.6l1.0 -0.8M172.2 311.2l2.4 0.1M132.5 329.8l2.7 -0.1M350.7 330.6l0.8 -0.1M331.2 299.3l1.1 -0.1" stroke="#f4cdc0" stroke-width="1.80"/><path d="M247.4 348.9l2.6 -0.8M267.3 328.6l1.1 0.1M217.5 326.4l0.8 -0.4M85.4 439.0l2.5 0.5M260.2 335.8l2.7 -1.0M266.5 317.4l1.9 2.1M233.9 368.4l1.1 -0.1M231.9 336.4l1.2 -0.9M129.5 345.7l1.7 -0.6M298.0 318.1l1.2 -0.0M328.8 316.8l0.7 -1.0M182.5 344.9l2.8 0.2M83.2 454.2l3.1 0.8M227.1 330.5l1.3 -0.1M244.8 344.2l2.3 -0.6M221.2 337.7l1.6 -1.0M174.7 313.1l1.9 -0.3M313.4 345.4l1.3 -0.0M68.4 421.2l2.2 -1.0M266.6 317.6l1.4 -0.1M68.8 409.7l1.3 -0.7M229.7 348.9l1.2 -1.3M78.5 439.6l1.3 -0.3M211.5 340.0l2.5 -0.9M234.0 305.8l0.8 -0.8M257.2 320.7l1.7 -0.3M286.4 327.4l2.4 -0.9M199.8 308.5l0.8 0.4M135.1 350.9l2.7 0.4M292.3 333.7l1.4 -0.4M250.5 324.2l2.2 0.5M173.1 308.4l1.8 -0.0M265.0 325.5l1.8 -0.5M212.0 346.3l1.6 -0.4M157.8 345.5l2.0 1.2M221.9 312.4l2.0 0.1M208.9 373.9l2.0 -0.3M205.0 344.4l0.6 -0.6M214.5 322.7l1.3 0.1M260.4 322.0l0.9 0.4M314.1 347.6l0.9 -0.9M318.8 342.4l1.2 0.4M253.0 327.4l1.9 -0.3M328.4 318.5l1.2 0.4M304.1 335.0l1.0 -0.1M307.2 332.6l1.9 -0.0M283.9 338.8l2.5 -0.7M252.0 336.0l1.7 0.4M220.3 315.7l2.2 -0.8M304.7 339.7l2.9 -1.3M236.4 325.6l1.7 -1.0M141.1 363.0l0.7 -2.4M281.2 345.6l0.9 -0.4M247.3 338.6l1.4 -0.0M258.3 315.6l1.5 -1.3M244.2 342.1l1.7 0.8M235.3 316.7l1.8 -0.1M314.8 334.9l1.8 -0.6M175.5 335.4l2.9 1.0M218.8 314.6l0.8 -0.7M201.3 352.5l1.8 0.0M82.7 445.3l1.7 -0.0M222.1 319.7l1.4 0.7M295.1 313.9l0.9 0.2M318.3 322.9l2.1 -0.9M143.2 360.9l3.0 0.8M299.7 344.8l1.4 -0.3M226.3 346.2l1.3 -1.1M124.6 391.0l1.1 -0.2M280.1 337.0l3.2 0.2M248.5 319.9l2.7 -1.0M144.2 344.2l3.0 0.3M226.3 309.9l2.2 -2.1M148.9 357.6l2.4 -0.7M354.4 313.3l2.8 -0.8M260.9 337.8l2.9 1.2M88.5 430.7l1.5 0.9M222.9 330.1l1.7 0.6M309.2 321.9l0.5 -1.2M274.3 318.7l2.0 -1.6M165.4 352.7l2.4 0.4M110.1 434.3l0.8 1.0M252.9 339.4l1.8 -1.6M78.6 413.5l1.6 0.4M242.4 322.3l2.3 -0.3M107.1 437.2l1.3 0.6M236.0 326.5l3.0 0.4M328.7 327.8l2.4 -0.2M360.2 309.3l1.4 0.5M234.3 353.7l2.4 0.6M90.9 413.2l2.3 -1.0M176.6 325.0l1.8 -0.1M252.9 338.0l0.5 -2.4M299.0 322.2l1.7 -0.5M245.4 343.6l1.6 -0.5M258.9 334.7l2.2 -1.4M289.9 323.7l1.0 0.2M197.0 325.6l1.5 -1.8M301.4 348.4l1.2 0.1M207.6 310.4l1.2 0.0M208.0 327.2l2.3 -0.6M141.4 374.3l2.7 -0.1M371.8 320.8l2.1 -1.1M212.9 331.1l1.8 -2.2M237.7 343.4l2.2 -1.2M233.2 324.3l1.8 -0.8M219.0 362.9l1.1 -0.1M346.9 325.0l2.7 1.1" stroke="#c8daf4" stroke-width="1.80"/><path d="M65.9 393.9l2.6 0.4M368.2 357.1l1.5 -0.1M200.2 317.4l1.8 -1.0M20.6 428.4l0.4 0.9M104.1 372.0l1.7 1.1M174.5 370.6l1.0 -0.2M82.4 403.5l2.6 -0.8M121.3 342.6l0.9 -0.1M70.9 361.3l1.9 -0.1M173.1 346.0l2.1 -1.0M92.7 335.6l1.5 -0.3M60.0 354.7l2.9 -1.0M230.3 285.9l2.5 0.4M282.0 291.9l1.8 1.4M128.8 331.0l2.8 -0.1M27.5 429.3l1.2 -0.1M80.5 387.1l1.2 0.0M173.0 340.2l3.1 -0.3M398.5 278.8l0.8 0.9M58.9 358.0l2.9 0.9M75.7 447.9l2.1 0.9M70.0 448.3l0.6 -0.8M87.0 414.2l2.3 -0.5M223.4 358.5l1.2 -1.0M277.0 276.9l2.7 0.4M377.0 306.5l1.9 -1.6M164.4 365.3l2.2 -0.9M208.0 341.1l1.4 -1.5M78.7 446.6l2.5 0.2M111.4 330.4l1.4 -0.1M108.9 370.7l2.3 -0.8M290.9 292.4l1.8 0.6M168.2 370.3l1.9 -1.0M18.8 417.7l1.0 0.6M208.5 362.3l2.0 -0.7M141.9 311.7l2.0 -0.8M191.0 312.1l1.2 0.3M182.7 330.9l1.8 1.1M363.5 327.6l1.1 0.1M205.2 345.7l1.6 -1.2M417.7 320.8l1.8 -0.5M53.4 377.9l1.6 -1.0M89.0 367.1l0.8 -3.0M341.7 348.9l2.7 -1.3M22.1 404.3l1.9 -0.0M155.2 321.1l2.5 0.4M342.9 300.7l2.8 1.2M275.2 342.5l1.9 -0.2M347.1 294.4l1.4 0.3M332.7 307.2l1.1 -0.3M174.2 349.3l2.6 -0.8M79.9 443.1l1.4 0.7M92.2 454.7l2.2 1.9M307.7 283.5l1.5 -0.4M39.2 360.5l0.8 0.1M178.7 340.8l3.0 0.4M284.6 363.6l3.1 0.7M62.2 358.7l2.6 -0.1M348.1 293.9l1.6 0.3M25.0 367.6l2.2 0.8M112.7 364.4l2.0 -0.6M110.3 350.3l2.6 -0.9M82.8 348.5l1.4 -1.2M99.6 427.7l1.3 0.2M325.3 366.1l2.1 -0.1M254.3 359.7l0.4 -1.6M333.7 346.0l2.5 -0.7M253.5 291.9l2.4 -1.6M66.9 374.3l2.2 -0.1M97.7 359.7l2.3 0.1M408.6 292.2l2.3 -1.8M96.4 393.1l1.3 -0.0M60.7 362.4l1.7 -0.4M204.7 299.3l1.6 0.3M361.6 310.3l2.1 -2.2M58.5 359.6l1.3 0.0M181.1 310.6l1.5 -0.3M113.1 396.4l2.6 -0.2M232.7 349.3l2.3 0.1M276.2 313.1l1.4 -1.1M32.2 444.2l1.3 0.5M103.2 394.3l1.3 -0.6M152.3 361.1l2.6 -0.6M264.9 275.9l2.3 0.7M65.1 433.3l2.2 -0.6M325.9 352.9l3.0 -0.7M269.7 320.1l2.2 -1.1M64.7 384.2l3.1 -0.7M63.5 370.3l1.2 0.2M328.7 304.2l2.3 0.2M380.7 304.4l0.8 -0.1M136.6 352.6l2.8 -1.3M223.4 324.9l2.6 -1.4M57.2 368.5l0.8 -0.2M140.3 387.0l2.7 1.6M67.0 403.1l1.6 0.6M63.0 342.2l2.8 -1.0M274.2 350.2l2.2 -0.0M244.2 355.7l2.5 -1.3M98.5 454.8l2.0 0.1M85.0 402.3l2.4 -0.3M89.6 357.8l0.6 -0.6M89.6 363.7l0.9 -0.2M90.4 451.9l1.7 0.7M295.8 330.6l2.4 -2.0M167.2 365.3l2.9 0.3M118.6 319.2l0.9 -0.2M45.6 435.5l1.0 0.5M104.4 411.5l0.6 0.5M202.3 309.1l1.7 -1.0M64.5 392.6l2.7 -0.1M332.8 347.2l2.4 -2.0M55.7 412.5l1.6 0.5M155.8 353.6l1.4 -0.0M57.8 450.8l1.0 0.5M88.9 412.4l2.9 1.4M106.5 452.2l1.4 2.1M331.7 304.2l1.0 -0.1M145.9 336.8l2.5 1.4M223.0 326.7l2.5 -0.9M68.6 405.9l2.8 0.3M77.3 457.0l2.6 1.3M384.4 348.8l1.7 -0.6M64.4 409.6l2.6 0.6M276.4 360.0l2.2 0.4M284.1 328.3l2.4 -0.9M384.7 300.0l1.5 -1.4M178.7 337.5l1.8 0.6M238.4 344.7l2.7 0.8M328.5 308.5l1.1 0.8M77.2 351.2l2.7 0.3M137.7 350.7l1.2 -1.2M120.8 382.5l2.7 0.9M207.1 334.3l2.2 0.8M258.5 309.5l1.9 0.3M287.6 295.8l2.9 -1.0M73.0 341.0l1.1 -0.3M74.3 377.6l2.2 -0.7M78.0 470.8l1.8 -0.4M243.7 297.6l2.5 -0.3M249.6 288.6l0.8 -0.3M129.9 317.1l0.8 -0.3M98.0 416.4l0.7 -1.1M92.0 359.1l2.4 -0.9M44.6 424.5l1.8 1.2M115.0 385.2l0.8 1.0M215.3 361.7l1.7 -0.6M56.2 379.3l1.1 -0.4M400.4 324.3l1.8 0.0M448.6 314.0l1.5 0.4M105.0 410.0l2.4 1.2M282.4 374.4l1.8 -0.3M112.5 379.2l3.1 0.7M131.4 358.1l2.1 -0.0M73.3 467.3l2.3 0.8M363.9 314.4l1.3 0.3M66.1 349.4l1.8 -0.5M349.7 345.5l2.7 -1.7M194.0 373.3l2.9 -1.2M59.1 388.7l1.2 1.0M149.8 310.2l2.0 -0.5M110.8 328.9l1.4 -1.0M160.0 363.5l2.3 -0.9M285.4 370.1l2.6 1.0M30.3 431.2l1.4 0.2M194.8 362.9l1.5 0.4M168.4 372.7l1.9 0.1M328.8 304.2l2.8 -0.2M318.8 296.1l1.5 -0.4M76.6 379.8l1.5 0.5M357.2 361.4l1.2 -0.8M259.6 302.2l2.2 0.1M350.9 310.4l0.8 -0.2M346.0 288.3l1.3 1.1M100.3 442.2l1.8 -0.2M33.0 434.3l1.3 0.8M302.8 361.7l1.8 0.1M299.6 284.0l2.3 -1.7M48.2 422.1l1.2 -0.6M20.5 366.8l2.5 0.6M77.5 410.2l2.3 -0.1M123.2 355.9l2.6 1.1M32.9 414.9l3.1 -0.5M105.5 402.9l2.1 0.6M51.6 415.4l0.9 0.1M324.3 333.9l1.8 0.0M380.8 294.5l2.1 -0.0M131.3 367.6l1.6 -0.0M112.8 329.5l0.8 0.4M78.0 356.5l3.0 0.1M273.9 327.7l1.8 -1.2M195.4 311.0l2.4 -0.6M215.4 366.4l2.8 -0.3M108.6 432.1l0.8 0.3M161.8 313.2l1.3 -2.7M58.4 395.0l2.3 -1.3M324.8 320.3l2.8 -0.4M101.0 418.1l2.2 1.7M283.3 279.8l1.1 -0.3M21.1 387.2l1.8 -0.5M243.1 331.5l1.7 1.6M111.0 393.6l1.4 -0.2M202.6 357.2l1.3 -2.1M331.0 308.9l2.5 -0.1M310.7 319.4l1.3 -0.4M244.7 306.1l2.5 -1.2M182.6 315.4l2.7 0.7M54.9 392.9l1.9 -1.7M162.7 369.3l2.5 -0.8M136.2 362.1l2.0 0.3M293.5 343.2l1.8 0.5M333.3 347.5l1.0 0.2M269.8 338.4l1.1 0.2M223.3 372.8l2.4 1.0M152.8 323.4l0.9 0.0M91.5 384.5l2.0 -0.7M86.9 369.6l1.1 -0.6M432.7 307.5l2.2 0.1M245.9 321.8l1.3 0.0M63.7 341.8l2.2 1.9M342.5 278.7l2.7 0.6M323.6 355.4l1.3 -0.4M66.6 401.6l2.5 0.1M299.0 332.2l2.1 0.1M13.6 420.0l0.7 1.0M84.6 413.4l2.6 -0.1M294.5 353.2l1.5 -0.7M364.1 293.9l1.9 -0.1M148.3 350.5l1.3 -1.1M30.1 416.4l0.9 0.4M394.7 296.7l1.4 -0.7M378.6 309.5l1.8 -0.1M301.2 325.5l1.1 0.3M100.3 406.5l0.9 -0.1M220.4 300.2l1.0 -0.4M221.8 362.7l1.7 -0.3M278.3 366.5l2.5 -0.7M383.4 290.3l1.0 0.2M246.7 282.1l2.8 0.0M74.9 376.3l1.6 -0.3M360.0 308.8l2.8 -0.2M233.8 365.4l0.6 -0.7M51.6 385.3l2.4 -0.7M260.1 317.9l2.3 0.2M226.2 360.7l2.6 0.8M204.8 343.7l1.0 -0.3M72.0 360.2l2.6 1.7M345.5 275.0l1.1 -0.6M407.8 294.8l2.3 0.6M336.8 302.3l2.5 0.5M352.4 333.4l1.8 0.4M177.3 307.7l2.1 -1.7M67.1 369.2l3.0 -0.4M42.4 392.5l1.5 -1.7M285.7 338.1l2.2 -1.0M364.7 291.1l2.2 -0.9M81.0 431.3l2.6 0.4M226.4 302.4l2.5 0.1M149.9 358.9l2.3 0.3M46.8 457.2l2.5 1.2M187.6 318.7l3.1 0.8M285.8 355.4l1.6 -2.4M88.3 440.7l2.9 1.4M164.5 312.5l1.4 -0.0M76.0 351.2l0.8 -0.4M70.9 388.7l1.6 -0.5M289.2 366.6l1.8 -0.7M77.2 352.4l1.4 -1.7M356.3 295.4l2.1 0.1M86.6 458.6l1.4 -0.0M107.0 458.4l1.3 0.5M90.0 329.5l1.3 -0.3M87.4 465.7l1.5 0.5M354.0 326.9l3.0 -0.5M84.7 338.1l0.8 0.3M82.1 380.9l2.4 -2.0M71.3 371.6l1.4 -1.9M192.9 371.0l2.2 0.7M394.3 285.1l1.6 0.7M298.7 306.2l2.7 -0.5M262.3 364.8l1.5 -0.3M343.5 328.2l2.5 -0.6M204.9 306.0l2.6 1.5M71.5 396.0l2.6 -0.3M336.6 292.3l3.1 0.1M53.1 391.1l1.2 0.3M66.9 371.0l2.2 -0.5M125.6 368.0l0.8 -2.5M134.3 344.1l2.4 -1.0M154.8 332.1l1.6 -1.0M156.2 352.5l0.9 -0.1M50.4 379.1l2.3 -0.2M66.8 436.3l2.7 -0.4M179.9 327.5l2.7 1.7M39.3 427.2l1.3 0.6M324.5 287.6l1.1 -0.2M307.9 300.6l1.3 0.1M302.5 342.2l2.9 0.5M122.3 356.3l0.9 0.2M72.8 404.7l1.0 0.1M48.9 437.2l0.8 -0.2M208.1 330.0l2.3 -0.4M93.2 415.5l1.9 -0.1M332.5 343.7l1.7 -0.3M314.1 306.1l0.4 -0.8M36.9 432.7l2.4 1.1M340.5 303.3l2.2 -1.9M111.4 342.3l2.4 -2.1M125.7 320.7l1.6 1.3M237.1 351.6l1.9 -0.1M267.5 362.7l1.8 -0.4M78.2 412.0l1.7 -1.3M44.3 353.4l2.1 0.8M59.4 375.1l2.0 -1.9M88.9 337.8l2.6 -0.5M257.9 308.8l2.9 -0.6M143.0 315.0l0.9 -0.7M95.7 380.0l2.6 0.5M181.6 309.4l1.7 -0.8M101.3 456.0l0.9 0.2M165.7 347.7l1.7 0.5M203.5 367.4l1.1 0.1M298.4 295.9l1.4 2.8M55.9 430.0l2.2 -0.7M44.8 427.7l3.1 0.4M74.9 335.4l0.9 -0.5M381.4 296.3l2.8 -0.7M62.9 450.2l2.4 -0.8M215.4 299.9l2.8 -0.3M29.2 407.2l2.1 0.7M192.4 328.5l2.0 -0.9M17.6 411.0l2.9 1.1M122.2 382.5l3.0 0.6M198.6 294.7l1.0 -1.5M48.2 347.8l2.0 -1.3M235.1 292.9l1.6 -2.2M279.9 316.0l1.3 0.0M68.7 425.3l2.1 -0.1M51.8 418.7l1.8 -0.6M62.1 342.8l1.5 -0.3M289.7 331.1l1.0 -0.3M282.5 333.0l2.3 0.3M150.4 357.9l3.0 -0.9M45.5 454.2l1.6 1.1M349.4 310.6l2.5 -0.7M174.4 315.8l3.0 -0.2M138.9 351.8l1.2 -0.3M291.6 334.9l1.0 -0.3M95.9 348.5l1.0 -1.2M31.4 402.1l0.8 -0.0M296.1 287.1l2.9 0.6M115.7 319.0l2.2 1.6M370.6 324.4l2.1 -1.0M322.6 334.2l0.9 -0.0M31.7 385.3l2.7 -0.1M342.0 301.0l1.4 -0.2M408.9 296.1l2.6 0.0M92.1 412.8l1.7 -0.3M399.1 298.0l1.1 -0.6M102.4 441.7l1.5 0.5M162.2 345.1l2.4 -0.6M52.1 459.8l2.1 -0.1M239.2 379.9l1.1 -0.6M62.1 420.1l1.9 -0.4M135.5 311.5l2.9 1.2M34.6 437.4l1.7 1.1M152.8 378.9l2.0 -1.1M51.7 435.6l0.7 0.5M238.5 341.9l1.1 0.3M191.5 307.6l2.6 -0.2M214.0 292.5l1.6 -0.9M160.5 317.1l3.0 0.8M374.5 333.2l1.9 0.6M191.3 333.0l1.0 -0.3M232.9 285.1l2.5 -0.5M330.8 301.8l3.0 -1.1M47.9 408.4l2.5 -1.0M103.6 394.0l1.5 -0.5M245.5 364.5l1.1 -0.2M33.8 377.0l1.7 -2.0M106.1 376.2l0.4 -2.0M40.1 384.2l2.3 -0.1M67.7 406.6l2.1 1.9M322.2 275.1l1.6 -1.1M180.8 316.3l1.3 -0.0M209.4 361.6l2.1 1.2M18.6 438.0l1.2 0.3M350.1 301.1l0.7 -0.6M89.9 424.0l3.1 -0.4M227.6 303.3l1.5 0.4M230.4 295.2l2.2 -0.9M90.5 387.8l1.0 -0.4M253.0 347.8l1.2 -0.1M48.9 353.9l1.0 -0.3M64.2 372.7l2.4 0.7M201.9 364.8l1.3 -0.7M77.7 372.1l2.0 -0.4M28.7 420.4l3.2 -0.1M184.9 339.2l2.0 0.1M117.9 331.6l2.1 -0.1M354.7 273.1l1.7 0.2M58.4 418.9l0.9 0.2M48.9 419.9l1.6 1.0M26.4 440.4l1.0 0.3M248.2 309.4l1.4 -0.1M79.3 370.3l0.9 -0.4M54.3 404.2l1.9 -0.4M148.0 327.4l1.3 0.0M76.2 347.2l1.3 0.4M98.8 368.3l1.6 -0.2M326.3 300.7l2.3 -1.5M368.3 293.9l2.3 -1.6M177.8 307.8l1.2 -0.5M83.5 403.2l1.8 0.9M98.3 371.6l2.7 -0.5M48.0 415.2l3.1 0.3M181.1 313.3l3.1 -0.1M336.1 310.4l2.4 -0.0M314.6 364.0l0.9 -0.7M345.4 324.4l1.2 0.2M281.4 284.4l1.7 0.7M92.8 416.7l1.2 0.6M281.5 297.4l1.3 -0.2M103.1 335.7l2.8 -0.8M281.9 284.4l2.1 -0.7M323.2 305.1l2.1 -0.6M337.5 310.0l2.2 -0.3M44.5 350.6l1.8 -0.2M232.3 356.0l1.2 0.3M81.7 438.6l1.1 1.3M52.4 402.3l2.3 -1.1M41.4 413.4l2.8 1.1M76.2 345.5l1.2 -1.2M57.4 356.4l0.8 -0.2M47.8 416.1l1.1 0.5M315.8 349.1l2.7 -0.9M167.5 314.4l2.2 -2.1M401.1 298.2l1.6 -0.2M361.3 336.0l1.5 -1.5M274.9 372.9l2.7 -0.3M69.4 409.2l1.2 0.6M189.9 354.1l1.7 -0.2M85.5 393.9l0.8 0.3M168.3 337.2l2.4 0.4M20.8 418.9l2.7 1.2M256.4 292.9l2.7 -0.4M167.2 340.3l2.1 -0.9M93.3 398.6l1.0 -0.4M77.7 376.0l1.1 -0.2M348.2 342.8l1.4 -0.1M168.9 364.5l1.8 -0.1M255.1 300.1l1.6 -0.3M149.8 348.1l1.0 0.6M289.0 357.9l2.4 -0.3M65.7 443.9l2.4 1.9M118.2 368.4l2.1 0.0M230.3 289.4l2.8 0.6M30.2 456.1l2.9 -0.7M274.2 281.7l0.9 -0.8M284.8 285.7l1.0 -0.3M276.8 309.8l0.9 -0.5M97.2 362.7l1.9 -1.4M79.6 432.1l2.8 -0.2M117.6 389.7l2.0 1.1M336.6 307.0l1.5 -0.7M234.6 306.7l2.1 0.4M382.0 339.0l2.0 -1.0M159.5 371.9l3.1 0.4M360.0 312.3l1.8 -1.6M285.5 357.9l1.0 0.1M78.5 367.4l0.8 -0.5M56.6 417.7l1.8 -0.7M138.7 314.9l2.3 0.5M423.8 332.0l1.1 -0.2M39.3 379.9l1.8 -0.0M137.2 312.5l2.3 -0.0M92.6 385.5l2.8 0.6M278.7 291.7l1.8 0.1M133.5 325.8l2.2 -1.1M89.6 346.4l2.1 0.2M307.6 364.8l1.9 0.3M182.0 339.1l2.4 -0.6M338.5 310.6l1.7 -0.6M377.7 322.6l1.1 -0.5M309.4 289.2l1.6 -0.9M86.6 340.7l2.3 -0.1M205.1 343.6l1.2 -0.2M290.2 276.6l0.9 0.8M310.1 351.2l0.6 0.6M37.7 421.0l1.5 0.3M100.7 353.8l2.6 -0.2M272.4 329.9l1.5 0.4M146.5 361.0l2.8 -0.1M35.7 412.1l1.2 -0.4M71.4 359.7l2.0 1.4M199.4 340.1l1.2 0.0M242.7 286.2l1.4 0.4M268.9 355.0l2.3 -1.0M140.2 388.7l1.3 0.1M48.5 397.8l2.9 0.7M136.5 372.3l1.0 0.4M237.7 291.6l2.3 -1.0M10.8 389.9l2.2 1.1M196.0 322.5l1.1 0.3M76.1 463.2l1.6 0.6M163.3 364.2l1.0 -0.2M258.7 314.2l1.2 -0.5M69.6 418.7l0.8 1.3M192.0 366.6l1.5 0.0M317.7 342.2l2.0 -1.5M296.2 364.2l1.1 -0.3M81.3 376.5l2.3 0.5M71.4 400.8l0.8 0.1M281.9 279.7l1.2 -0.5M319.2 313.4l0.4 -1.1M107.0 411.5l2.9 -0.8M77.0 450.1l2.4 -1.7M78.9 386.3l0.9 -0.7M171.7 348.2l2.5 0.2M157.1 365.2l2.5 -0.8M104.4 402.1l1.2 0.2M320.4 280.6l2.5 -0.4M238.8 315.9l2.5 -2.0M163.3 376.7l1.2 0.1M57.2 412.9l1.5 -0.1M379.7 306.9l0.4 -1.1M48.2 455.3l1.3 0.9M106.8 455.8l1.8 -0.9M17.5 388.1l2.4 -0.6M46.4 362.6l0.9 -0.3M57.4 439.5l1.7 0.5M128.2 321.6l2.7 0.1M367.1 305.5l1.6 -0.1M334.5 345.3l1.6 -1.4M88.0 362.5l1.2 -0.4M132.6 353.0l0.5 -0.6M85.9 371.7l1.8 -0.9M243.1 300.8l0.7 1.1M105.6 385.2l1.8 -1.1M105.3 347.2l1.9 -1.9M176.7 322.2l1.1 -0.3M309.4 297.3l1.6 -0.3M310.5 301.6l2.7 1.1M96.6 402.8l2.6 0.2M182.7 348.6l0.9 0.3M309.4 318.4l2.3 -1.2M116.1 358.2l1.8 -1.0M341.7 291.7l0.9 0.3M94.0 400.4l2.2 -1.6M293.1 283.6l2.5 0.7M120.0 372.8l1.2 -0.2M55.7 406.9l2.6 -0.1M303.1 373.6l1.3 -0.1M375.8 343.9l2.1 -0.7M88.7 414.2l2.4 0.1M79.1 367.9l1.8 -1.2M153.6 319.5l1.5 -0.1M245.1 347.4l1.6 0.1M258.6 291.8l1.5 -0.6M241.5 372.0l1.4 -0.7M106.0 365.6l1.4 0.7M343.4 275.3l1.8 -0.7M264.6 341.4l1.0 -0.1M427.7 299.7l2.9 -0.2M396.7 300.3l1.2 -0.3M150.4 313.7l2.8 -1.4M337.4 300.3l1.6 -0.7M71.9 350.4l1.3 -0.1M215.0 298.0l0.7 -0.8M74.0 374.3l1.1 -0.6M113.8 318.9l2.6 -0.1M30.8 421.5l2.8 -0.2M346.3 315.5l2.1 -1.3M192.6 301.1l2.6 0.4M348.4 294.4l2.1 -1.7M56.4 437.7l1.0 0.5M93.7 336.4l0.9 -2.3M170.5 303.3l1.3 -0.5M69.7 420.4l2.1 0.0M67.0 394.1l2.2 -0.8M323.5 344.8l1.8 -0.6M214.7 313.0l2.5 0.0M63.4 381.2l1.4 -1.2M174.5 371.1l3.0 -0.2M285.4 284.1l0.8 -0.4M108.2 346.7l2.0 -0.5M195.3 368.6l1.9 0.4M230.3 330.7l1.2 -0.5M205.1 355.2l2.1 0.8M257.1 348.5l1.5 0.6M59.4 433.8l1.8 0.7M316.7 315.2l0.8 -1.1M79.0 389.6l2.0 -0.3M197.4 302.3l2.1 0.0M96.4 458.1l0.4 0.9M173.0 307.5l2.6 1.4M344.4 311.5l1.7 -0.1M40.6 448.6l1.7 -0.9M135.5 356.8l0.5 1.5M142.1 322.3l2.2 -0.4M160.4 320.3l1.8 -1.1M38.4 393.0l1.0 -0.1M109.9 449.6l2.3 0.5M50.7 396.9l2.0 0.2M263.1 337.6l0.9 0.3M94.2 429.2l1.6 0.2M355.2 298.8l2.9 0.5M65.5 376.0l1.6 -0.1M13.9 388.3l1.8 -0.6M89.4 371.5l0.9 -0.2M112.1 368.9l0.6 1.8M50.3 427.6l3.1 0.7M107.7 378.7l1.8 0.2M77.9 421.7l1.9 -0.5M65.8 428.2l2.0 -0.0M139.3 375.3l1.0 -0.7M338.7 325.2l2.1 -0.1M191.9 317.9l1.5 -0.2M36.8 363.4l1.4 0.4M164.3 369.6l2.3 1.6M329.4 276.5l3.1 -0.1M78.5 457.8l2.9 -0.1M219.1 295.8l2.8 0.1M99.4 453.6l1.9 0.1M276.1 359.4l0.8 0.1M353.5 317.3l1.0 0.0M179.3 324.7l1.2 0.4M96.4 435.3l1.7 -1.1M322.1 320.3l2.6 -1.1M179.5 343.3l2.2 0.9M111.4 339.0l1.0 -0.9M138.0 316.4l2.0 0.3M87.1 409.7l1.8 0.8M59.0 362.0l1.6 -0.5M106.9 340.1l1.6 -1.1M222.2 303.9l2.3 -0.2M221.4 354.3l0.7 -1.0M408.3 346.6l1.7 0.5M73.2 347.1l2.5 -0.1M291.9 346.2l2.3 -0.5M89.0 430.0l1.2 0.7M16.1 415.7l1.0 -0.4M385.2 306.1l1.5 -1.9M102.4 458.5l1.8 0.5M68.7 358.0l0.9 0.4M92.9 327.6l1.1 0.4M152.2 328.8l2.9 0.7M98.3 339.4l2.1 -0.9M60.1 444.8l2.6 -0.2M341.0 327.5l1.0 0.3M239.4 357.6l1.5 -0.9M124.7 383.7l2.5 -1.8M86.0 330.8l1.6 -0.4M255.3 310.4l3.0 -0.5M145.5 322.1l2.5 -1.9M104.3 397.2l0.9 -0.3M89.0 439.3l2.9 1.1M286.0 336.1l1.9 -0.4M112.5 344.1l1.7 0.1M332.3 303.4l2.5 -0.2M192.6 335.3l1.9 1.1M101.6 441.3l0.8 0.6M46.7 376.5l0.5 0.7M388.0 310.8l2.6 0.8M27.9 375.5l1.9 -0.4M83.4 393.7l2.5 -1.7M95.4 329.6l0.9 0.1M267.2 310.6l0.8 0.2M123.8 331.0l1.4 -0.4M78.7 455.1l1.0 0.1M144.6 368.3l1.6 -0.2M350.6 288.1l2.6 -1.0M298.9 361.0l2.9 -0.6M68.2 466.0l1.3 -1.4M86.4 406.4l2.0 0.4M62.3 419.8l1.6 -1.0M71.9 352.2l1.8 0.3M65.4 373.3l1.4 0.1M299.9 292.3l1.7 -0.2M161.1 313.6l0.9 -0.3M365.9 348.6l2.5 0.6M149.1 311.6l1.4 -2.2M127.4 337.0l0.7 -0.9M255.8 337.4l1.2 -1.5M267.0 355.1l2.0 2.4M324.4 277.5l1.7 -0.4M77.6 366.3l2.5 -1.3M260.5 275.4l1.8 0.6M236.3 293.0l1.4 -0.0M264.3 358.6l1.4 -0.0M95.0 367.7l0.9 -1.4M148.9 329.6l2.0 -0.6M37.9 392.6l2.2 -1.7M338.2 289.4l1.7 0.9M100.8 322.6l2.3 0.6M40.8 438.4l1.6 1.1M216.9 298.7l1.6 -0.3M395.8 303.0l0.7 0.6M94.3 345.2l2.5 -1.4M365.8 310.2l1.2 -0.0M47.5 374.4l1.8 -0.1M105.0 419.8l1.8 0.4M336.6 302.3l1.5 -1.5M67.7 358.2l1.4 -1.8M103.7 352.8l2.3 -0.5M138.8 314.5l2.1 -0.5M58.3 415.3l2.5 0.5M147.9 372.5l1.7 1.4M199.7 368.3l2.8 1.3M110.5 331.3l1.8 -1.6M250.2 304.6l2.7 -0.9M408.4 322.3l2.6 -0.3M256.3 313.4l2.8 -1.5M77.9 387.5l1.6 -0.5M123.6 360.7l3.1 0.1M331.8 278.6l1.3 -0.6M41.9 385.3l2.6 -1.8M305.6 356.0l1.2 -0.3M62.4 392.9l1.4 -0.0M174.8 326.2l1.5 -0.5M58.5 365.5l2.4 -1.0M89.5 430.9l1.2 1.0M181.5 357.7l1.4 0.3M267.6 306.8l2.8 -1.2M131.1 317.3l3.0 0.5M301.0 288.6l1.3 0.3M172.6 331.5l3.1 0.6M268.1 271.2l2.6 -1.0M224.6 361.7l2.7 -1.7M57.8 386.0l0.6 -0.9M192.6 354.5l2.7 0.3M106.6 431.5l2.5 -0.2M133.8 315.4l2.4 -0.1M71.9 449.9l2.7 -0.3M396.1 298.0l2.3 0.1M90.8 329.8l2.6 0.6M114.0 361.4l0.8 -0.4M408.4 333.8l1.8 -1.2M128.7 367.8l1.8 -1.7M287.2 319.4l2.8 -1.2M314.8 287.0l2.7 -0.5M87.8 396.1l2.5 0.1M87.5 373.4l1.6 -1.7M158.0 337.9l2.4 0.6M347.1 301.5l1.3 -0.4M90.2 371.8l2.1 -0.5M293.4 352.4l2.0 -0.8M17.1 409.5l2.9 0.2M126.5 368.5l1.5 0.5M226.9 322.9l1.0 -0.4M70.3 350.6l1.7 1.0M48.6 350.4l2.1 -0.7M221.0 324.2l1.2 -1.2M76.1 377.3l1.1 -0.6M64.1 396.8l2.5 -1.8M72.9 370.3l1.1 0.1M310.5 299.8l1.5 -0.1M219.1 346.5l2.3 0.8M332.4 367.6l1.6 -0.6M254.3 285.3l2.0 -1.0M166.1 347.8l2.1 -2.4M159.3 364.4l1.1 -0.2M91.5 460.9l1.3 0.5M346.4 288.8l2.1 0.3M145.1 373.0l2.5 -0.9M169.0 333.4l2.7 -1.2M37.5 403.6l3.0 -0.3M158.2 369.1l2.3 -0.6M375.2 351.8l0.9 -0.6M354.2 324.8l1.5 -1.4M208.9 324.3l2.3 -0.3M149.9 359.4l1.2 0.5M33.4 367.8l0.7 -1.9M10.5 398.9l1.2 -0.6M179.1 354.3l2.0 -1.4M53.3 437.1l0.9 1.8M55.7 374.9l2.9 -0.5M37.6 397.5l1.9 -0.5M64.7 412.4l2.1 0.4M294.7 336.3l2.2 -0.3M320.6 329.7l2.4 1.1M20.7 398.7l1.4 -0.0M317.1 345.1l2.6 -0.4M418.2 310.4l2.0 0.1M45.2 443.3l1.1 0.6M336.6 294.8l1.1 0.6M305.3 330.3l0.9 0.5M65.9 408.8l2.9 -1.3M128.0 344.3l0.9 -1.0M254.6 365.5l2.3 0.2M267.9 346.8l1.6 -2.1M429.1 307.3l2.2 -0.9M327.6 280.4l1.0 -0.0M334.4 310.3l2.4 0.6M240.7 368.5l2.8 -1.4M222.1 288.5l1.8 0.0M95.2 417.6l2.3 -0.4M153.5 332.3l1.1 -0.1M195.7 309.0l1.7 -0.3M42.2 420.0l2.2 2.2M134.8 374.5l2.9 -1.1M22.0 417.4l0.7 0.7M37.3 373.2l2.3 0.6M425.6 286.4l2.0 -0.8M424.7 296.5l1.9 -1.3M118.7 341.2l1.3 -0.1M57.8 448.0l1.7 -1.2M63.4 359.5l3.0 -0.9M276.8 305.1l2.2 -0.0M275.7 284.2l2.9 -1.3M346.8 342.3l0.2 -3.1M297.1 307.2l2.5 1.0M205.5 357.3l1.1 -0.2M385.3 332.5l1.7 0.5M339.8 311.0l2.3 0.8M416.8 287.5l1.7 -0.9M403.3 336.2l2.7 0.2M51.6 383.2l1.6 0.5M226.9 296.5l2.7 0.2M293.7 304.8l2.2 0.4M104.1 381.7l1.5 -1.2M20.3 427.3l1.3 1.2M250.8 294.7l1.9 -2.4M350.0 288.8l1.7 1.2M356.7 327.7l1.9 -0.4M77.0 399.1l1.1 -0.3M77.0 452.7l2.3 0.8M195.1 344.6l1.1 0.2M84.9 375.1l2.8 1.5M97.9 457.6l1.8 -0.3M219.5 299.7l2.3 -0.3M111.5 322.6l1.3 -0.4M44.6 450.2l2.8 0.5M84.6 404.6l2.3 -0.0M330.7 357.7l2.1 -0.6M167.1 336.6l2.4 0.4M195.4 301.9l0.7 0.8M146.3 342.7l2.5 -0.7M342.7 306.7l1.0 -0.1M168.1 357.7l2.0 -0.8M417.5 306.4l0.9 -0.1M98.0 390.5l0.8 -0.2M73.9 409.0l1.7 0.1M274.5 296.2l1.5 1.5M287.8 330.6l3.0 0.4M373.4 285.0l1.0 -0.4M290.7 337.3l2.0 -1.2M161.6 368.2l1.8 -1.3M75.6 384.8l1.2 1.5M66.7 404.7l1.3 -0.7M87.4 351.8l0.9 -0.1M154.7 307.7l2.6 1.2M176.0 357.0l1.6 -0.4M28.4 445.6l1.3 -0.4M350.1 356.3l1.4 -0.3M56.8 437.3l1.2 0.5M149.4 336.1l1.5 -0.2M58.5 434.3l1.1 1.5M321.1 369.7l1.0 -0.1M84.7 350.9l2.3 -1.8M346.8 335.1l0.9 -0.0M128.5 320.7l1.4 1.4M95.8 367.5l1.1 0.2M44.4 408.9l2.8 -0.1M147.1 318.8l3.2 0.1M167.0 341.4l2.1 -0.3M82.5 426.9l1.8 -0.2M83.1 375.5l2.7 -1.8M109.4 407.3l0.9 -0.3M253.1 311.7l1.1 0.2M47.2 395.3l1.6 0.1M206.0 323.3l1.2 -2.1M246.9 316.9l1.2 -0.5M215.9 327.8l2.2 -0.4M142.5 358.8l1.5 -2.6M142.1 321.1l1.3 0.0M259.7 287.1l3.0 -0.5M368.1 357.1l1.3 0.5M288.8 353.7l1.6 -0.1M286.5 314.4l1.6 -0.4M57.4 392.6l2.4 0.2M87.4 366.6l2.0 0.3M95.0 389.0l1.9 -0.1M203.4 336.6l1.0 1.2M70.0 389.0l2.6 -0.5M96.7 405.7l1.1 0.8M375.0 350.8l2.9 -0.9M256.9 354.8l0.5 -1.1M192.4 329.7l0.8 -0.3M390.5 345.8l1.2 -0.7M319.8 353.2l1.9 -0.5M322.9 293.0l1.2 -1.2M355.8 353.9l1.7 0.5M33.4 397.5l3.0 -0.1M60.0 444.8l2.3 -1.6M76.3 462.1l0.9 0.8M293.2 299.0l2.4 -1.0M59.5 427.2l1.0 1.9M104.8 403.3l1.0 0.1M70.8 443.8l2.3 0.4M389.4 309.8l2.7 -0.9M344.0 310.3l2.2 1.2M331.9 300.9l2.4 -0.6M144.2 329.3l1.2 0.0" stroke="#f3a08a" stroke-width="1.50"/><path d="M266.5 322.4l2.4 -0.8M268.6 336.1l2.1 -0.6M247.3 312.2l2.1 -0.9M228.8 336.9l2.1 -0.8M159.1 340.1l0.9 -0.2M298.4 324.0l2.9 -0.3M197.8 334.1l0.9 -0.6M278.6 317.9l0.8 -0.3M253.1 306.4l2.3 1.1M161.0 318.5l0.9 -0.1M113.0 385.8l2.1 -1.4M212.6 347.3l1.8 1.6M269.3 320.5l1.2 -2.9M77.2 415.8l1.4 0.6M86.1 437.2l2.2 -0.7M259.7 331.7l2.4 -0.5M286.0 321.4l1.5 0.2M242.1 323.4l2.6 -1.8M281.8 325.4l2.8 -1.1M215.6 317.7l2.5 -1.0M205.8 365.5l2.1 -0.8M234.2 335.8l2.5 1.0M234.9 370.3l2.9 -0.4M207.0 368.9l1.6 -1.4M113.0 389.8l1.9 0.8M264.7 338.2l1.8 -0.3M203.4 337.0l1.0 -2.0M149.1 358.6l0.9 0.1M249.2 332.8l2.2 -0.2M288.4 345.0l2.6 -1.5M65.2 451.7l1.4 1.0M292.0 321.0l1.7 -0.0M81.7 411.6l1.8 -0.2M240.5 343.8l1.8 -1.7M239.7 352.6l2.3 -0.4M225.0 330.7l2.6 -1.8M219.1 354.1l1.4 0.6M342.0 319.9l0.8 -0.5M315.0 330.1l2.3 -0.2M360.2 303.8l1.8 0.6M238.7 324.0l2.1 2.2M313.5 307.9l0.9 -0.7M94.9 456.4l1.0 1.0M243.6 373.5l3.1 -0.9M137.4 368.1l3.1 0.1M246.5 343.5l1.2 -0.3M191.8 304.1l2.6 0.3M277.5 319.0l1.5 -0.4M309.3 348.1l1.7 -1.1M307.5 320.3l1.3 -0.0M271.6 323.3l1.8 -2.3M374.3 329.3l1.1 0.2M317.7 319.0l0.8 0.1M260.2 301.0l1.1 -0.6M307.9 354.0l1.7 -0.3M114.7 380.8l1.8 -1.3M217.6 331.1l2.2 -0.3M180.6 345.1l2.5 -0.1M117.2 373.8l2.6 -0.0M228.9 315.7l1.1 -0.3M253.1 353.8l2.7 0.7M271.9 322.3l2.2 -0.4M290.4 321.4l1.4 0.4M187.0 356.6l1.2 -0.2M225.0 351.6l1.3 -0.5M205.5 320.1l0.9 -0.6M270.6 352.9l2.0 0.0M210.6 308.7l1.2 -1.0M321.5 355.2l1.3 -0.8M235.3 320.0l0.5 -0.8M234.8 324.7l2.5 0.2M226.3 357.9l0.8 0.1M220.5 318.9l2.7 1.2M79.4 404.6l1.4 0.2M192.6 335.2l2.2 0.3M76.1 468.3l2.6 0.2M207.0 337.0l0.9 -0.1M254.6 358.6l1.9 -1.3M285.4 321.3l1.7 -0.3M187.3 321.1l1.1 0.0M123.6 375.3l2.8 1.2M81.6 402.6l2.6 -0.0M269.4 309.7l2.1 -1.4M280.9 323.6l2.5 0.7M222.4 350.7l0.9 -0.3M160.1 306.6l0.7 -0.5M150.2 373.4l1.2 -0.3M212.2 338.4l2.6 -0.8M270.6 324.0l1.8 1.0M241.1 323.7l2.2 -1.0M187.0 318.1l2.0 0.7M286.9 321.8l1.5 -0.2M208.6 349.1l2.0 -0.1M264.2 337.4l2.2 0.8M217.0 322.3l2.0 -0.6M217.8 370.2l0.8 -0.0M189.0 320.0l2.1 0.2M81.2 428.9l1.3 0.5M135.0 372.2l2.3 0.6M132.3 378.8l1.8 0.4M291.6 317.0l0.8 -1.8M230.7 326.6l2.9 -0.3M287.9 316.3l2.7 0.4M208.9 343.6l1.7 -0.7M166.7 347.4l1.8 1.3M389.8 312.1l2.8 -1.3M217.6 323.4l1.4 -0.6M65.7 470.4l3.1 0.1M151.1 351.6l2.2 1.1M323.1 325.0l0.7 1.2M189.2 337.2l2.4 0.3M258.9 335.3l1.6 -1.5M330.5 339.5l2.3 0.1M268.9 318.0l2.4 -0.8M163.9 360.2l0.9 0.2M235.6 339.4l2.6 -0.7M76.7 410.1l1.1 0.5M326.8 356.0l2.1 -0.2M169.5 365.8l1.3 -0.2M229.1 315.8l2.2 -1.5M218.4 341.5l1.3 0.0M301.4 326.9l2.8 1.1M213.5 343.1l3.0 0.0M237.4 350.7l1.8 0.2M334.9 318.0l2.6 -1.2M230.5 370.0l2.2 0.1M265.8 331.7l2.9 -0.5M253.2 309.1l1.1 -0.9M341.6 329.0l2.6 -0.6M199.5 346.7l2.7 1.3M258.4 319.6l1.0 -0.3M223.5 335.7l2.9 -0.3M88.6 457.1l1.5 -0.0M305.2 304.3l2.9 1.2M132.6 371.3l1.4 -0.9M79.1 420.4l1.5 1.1M239.5 344.2l2.0 0.1M234.1 370.4l1.5 -0.6M231.7 357.2l1.4 0.3M136.2 383.4l3.1 -0.4M206.6 351.9l0.9 -0.3M145.6 364.5l1.8 0.3M199.8 316.6l2.6 -1.7M227.6 347.8l2.5 -0.9M81.6 408.8l2.8 0.3M351.4 319.9l2.6 -0.3M180.0 345.0l3.0 -0.5M288.2 331.1l2.1 0.0M135.9 355.6l0.7 -0.5M248.3 338.9l0.8 -0.1M197.8 345.0l1.7 -0.6M190.9 327.8l1.8 0.1M222.0 331.6l1.3 -0.4M234.0 336.8l2.0 -1.3M333.3 331.0l2.0 0.3M270.2 326.8l0.9 -2.1M230.0 331.4l2.5 -1.3M55.8 425.7l2.8 -1.2M213.5 345.8l2.4 -1.9M251.6 333.7l1.6 0.5M183.7 304.4l1.5 0.0M273.8 331.6l1.1 -0.2M231.9 348.4l2.9 -0.9M265.4 317.6l0.9 -0.4M324.8 314.7l0.7 -0.5M273.0 331.1l2.1 -2.4M289.6 340.9l2.5 -0.7M189.3 313.9l3.1 -0.5M232.3 317.6l2.2 -2.2M294.6 310.2l1.6 0.3M118.2 379.6l2.6 0.3M275.9 350.7l2.8 -0.8M116.0 378.2l2.6 -0.7M317.9 330.7l1.4 -0.4M297.0 319.0l2.4 0.0M309.7 344.2l1.3 0.7M79.0 465.8l2.5 1.3M223.7 365.2l2.4 1.8M101.7 455.2l2.3 -0.1M145.8 342.6l1.8 -1.3M209.4 325.6l2.6 0.3M286.2 326.0l2.1 -1.7M251.3 343.5l2.6 -0.2M206.2 338.4l2.6 -1.1M293.9 354.5l2.0 -1.5M274.3 341.6l1.7 0.4M227.1 336.0l1.9 -0.7M262.9 346.7l2.1 -1.9M202.8 353.6l1.1 0.7M82.2 424.0l1.3 0.7M260.8 335.7l2.4 -0.6M107.6 384.4l1.9 -0.1M238.7 331.4l1.4 1.0M301.4 330.1l2.4 0.2M282.0 323.7l2.4 -0.4M263.9 337.8l1.4 -1.1M204.5 330.4l2.1 -1.8M303.1 327.7l3.0 -0.2M250.0 344.0l1.9 -1.3M216.5 320.9l2.5 -2.0M355.7 320.3l0.9 0.0M112.3 370.6l1.8 -0.6M296.3 306.2l0.9 -0.2M211.1 353.8l1.8 0.3M259.0 336.9l3.0 -0.1M218.2 313.5l1.4 -0.7M305.2 321.2l2.3 -1.9M220.0 327.4l2.6 1.5M232.6 339.6l1.3 -1.4M153.5 356.9l1.5 -0.2M323.5 344.7l1.8 0.1M379.2 309.8l2.1 -1.7M131.9 379.6l1.9 -1.1M63.5 452.7l2.0 -1.0M199.4 312.3l1.2 0.4M179.6 352.2l1.3 -2.3M223.6 346.1l1.0 -1.2M338.8 302.7l3.0 0.2M225.5 332.2l3.2 0.3M349.5 317.2l0.7 -0.5M313.2 315.7l1.6 0.8" stroke="#adc8fb" stroke-width="1.50"/><path d="M254.7 361.7l0.8 -0.1M258.0 295.7l1.5 0.3M44.6 368.7l1.0 -0.3M328.9 343.3l1.8 0.2M49.1 371.8l2.7 0.3M240.9 340.3l2.0 -0.3M142.2 353.8l2.0 -0.0M90.0 363.9l1.9 0.0M219.2 303.6l1.6 0.7M425.8 339.0l1.1 0.0M34.3 447.8l0.9 -0.7M82.2 362.6l2.2 0.1M201.2 351.5l2.1 -2.0M173.7 364.1l1.8 -0.4M30.9 443.6l1.7 -0.0M107.3 357.7l0.8 -0.9M261.6 284.1l1.4 -0.4M346.6 295.6l2.7 -0.1M69.0 451.5l0.9 0.7M275.7 332.8l2.9 -0.2M338.9 330.3l1.6 -0.1M81.2 363.5l2.1 -0.2M352.2 327.9l3.1 0.4M95.6 440.3l1.6 2.1M82.9 389.2l1.0 -0.3M149.1 325.7l1.9 0.5M110.1 342.4l0.7 -0.5M56.0 444.3l1.0 0.4M30.4 375.2l1.6 -0.2M95.6 420.2l0.8 1.8M59.9 444.7l1.9 -0.3M74.0 366.8l1.3 -1.0M201.5 358.5l1.4 0.0M105.5 437.1l1.6 0.8M343.2 282.8l0.9 0.4M121.3 327.9l2.4 0.2M108.4 324.3l0.5 -1.3M218.9 300.2l0.8 -0.5M339.0 282.4l3.1 -0.4M337.9 344.4l2.3 -0.4M249.3 298.5l2.4 -1.9M210.5 301.7l2.7 -1.4M211.3 294.0l2.0 -0.6M136.4 354.5l1.8 -0.8M79.0 433.1l1.8 0.5M194.4 363.4l1.9 0.5M203.9 297.0l2.6 -0.7M22.9 403.3l1.9 0.1M52.2 416.7l1.3 1.2M339.7 331.5l1.7 -0.9M180.5 304.9l2.0 -0.3M378.9 347.5l1.5 0.0M86.6 362.6l2.3 -0.9M31.3 425.0l0.8 1.3M74.2 347.6l0.8 -0.4M64.7 438.2l0.9 0.2M197.1 335.7l2.3 -1.0M96.1 392.2l2.6 -1.9M108.1 339.7l1.8 -2.1M240.4 304.8l2.3 0.1M350.8 309.7l1.1 0.3M411.3 315.3l2.0 0.6M375.4 331.4l1.2 -0.6M197.1 318.5l2.4 -0.9M308.7 370.6l0.8 0.3M43.0 413.7l1.5 -0.2M166.3 325.8l1.0 0.4M403.2 312.6l1.5 -0.5M113.0 322.1l1.5 -0.7M58.7 403.6l1.9 -1.8M58.3 339.1l2.0 -0.1M106.5 407.0l2.3 1.0M85.1 474.6l0.6 0.6M221.3 372.0l1.0 -0.2M338.4 286.3l2.2 2.2M392.2 292.9l1.0 0.2M209.6 302.2l1.7 -0.3M48.3 399.3l2.0 -1.2M331.6 325.8l2.0 -0.2M256.4 288.3l2.6 -0.9M85.3 396.7l2.4 1.3M19.8 380.3l0.8 -0.6M345.9 300.5l1.1 -0.0M82.9 391.6l1.9 -1.4M64.0 363.9l0.9 -0.0M242.2 372.8l1.5 0.5M34.0 389.9l0.9 -0.4M275.3 285.5l0.7 -1.1M55.2 428.3l2.6 -0.6M220.4 354.3l2.0 -1.9M294.0 362.4l1.8 -0.2M106.6 429.9l0.5 1.4M67.0 364.9l2.6 -1.7M44.9 428.2l1.9 1.5M108.0 349.1l2.6 -0.1M79.2 374.1l2.1 0.6M326.4 355.9l1.2 -1.3M263.1 302.4l0.9 -0.7M278.1 370.3l2.0 -2.3M345.8 327.7l2.3 -1.0M48.6 428.5l2.4 0.7M26.9 423.8l2.8 -1.2M280.8 319.4l1.8 0.0M268.1 289.8l0.9 0.0M68.5 400.7l0.9 0.7M70.1 372.8l2.3 -0.2M289.5 353.5l1.4 -0.2M33.3 371.4l2.4 -0.4M38.9 432.5l1.6 1.0M307.2 309.5l2.2 0.3M100.9 353.4l1.6 0.4M144.2 380.9l0.9 0.0M133.0 381.0l1.2 -0.9M222.7 329.1l1.7 -2.0M308.8 335.6l0.9 -0.4M197.2 346.5l0.9 0.3M83.4 430.0l1.6 0.0M72.5 384.5l0.5 0.6M216.3 293.7l0.6 -0.6M119.2 387.1l2.9 0.1M111.6 352.0l0.9 -0.5M71.0 401.2l2.4 1.7M79.3 362.9l2.1 -2.1M81.1 354.5l2.0 -2.0M352.4 335.4l2.3 -2.2M227.3 358.1l1.0 0.0M302.6 364.4l1.1 -0.8M266.8 364.8l1.9 -0.4M184.3 321.1l0.4 -0.9M139.4 316.5l2.7 -0.1M253.7 322.8l1.6 2.3M97.4 453.4l1.0 0.1M354.2 307.3l1.8 -1.5M345.8 317.0l1.4 1.2M313.9 283.5l2.4 0.9M193.3 301.8l2.4 0.6M277.1 304.7l2.3 -0.8M176.7 343.3l3.1 0.3M224.7 352.3l1.3 0.6M177.6 362.1l3.1 -0.7M29.5 429.5l0.3 2.9M215.7 308.1l2.4 -0.1M42.8 428.4l2.3 -0.1M316.2 312.8l1.4 -0.7M365.2 327.4l2.0 0.1M136.3 347.1l1.3 0.0M333.9 311.7l1.9 0.6M114.8 344.3l1.7 -0.7M325.3 346.4l1.2 0.3M70.0 351.4l1.0 0.3M29.5 374.6l1.6 -0.1M67.9 440.0l1.8 0.8M117.8 377.8l1.1 1.1M351.5 333.5l1.0 0.3M34.0 391.0l2.1 0.4M51.9 371.5l1.1 -0.8M163.5 356.4l3.0 -0.0M108.6 383.7l2.5 -1.0M175.3 377.0l1.5 -0.2M148.5 349.5l1.8 -1.0M55.5 394.7l1.6 -0.6M95.8 417.1l2.5 1.0M149.8 315.0l1.3 -1.5M199.7 308.4l2.3 -0.4M81.6 376.6l2.4 0.1M36.7 428.4l1.6 0.4M152.1 338.0l2.6 -0.9M325.5 293.0l2.2 0.4M173.3 342.7l1.9 -0.9M143.8 317.7l0.8 -0.4M31.3 392.6l2.7 -1.1M116.4 371.1l2.3 -0.1M143.7 340.8l0.5 -0.7M368.2 342.4l2.8 -0.0M114.2 351.7l0.8 -0.6M112.4 358.7l3.0 -0.9M99.4 322.5l1.2 -1.2M203.9 366.7l3.1 -0.0M285.3 349.9l2.9 -0.6M67.7 423.3l2.0 -0.1M69.0 371.8l2.3 -0.3M182.7 360.4l2.7 -1.5M261.9 356.5l2.6 0.7M144.2 321.2l2.6 -1.4M73.8 346.5l2.7 -0.5M357.4 324.7l1.2 -1.0M397.9 319.8l2.6 0.6M421.7 312.6l0.9 -0.5M403.0 315.3l1.6 -1.9M117.8 341.1l1.0 -0.2M102.6 427.2l1.9 1.1M30.8 398.7l1.4 -1.5M51.2 432.7l2.5 1.7M116.6 336.6l1.3 -0.6M250.8 300.0l1.8 -0.2M297.7 319.3l1.1 -0.7M104.5 399.8l2.6 -1.3M221.0 375.7l2.4 -0.9M73.8 391.3l2.2 0.7M294.9 293.7l1.0 0.3M268.9 304.3l3.2 0.0M141.5 377.7l0.9 0.0M232.8 362.6l2.2 -0.9M66.9 399.7l1.5 -0.8M155.0 322.7l2.9 -0.6M89.5 352.4l0.9 -0.2M212.6 294.9l1.3 -0.4M263.1 310.8l2.5 -1.5M173.2 328.4l1.6 -2.2M177.6 344.0l2.9 0.6M109.5 334.0l2.3 -0.8M31.2 407.0l1.6 0.2M368.2 285.5l1.9 -0.9M120.1 332.4l2.5 -0.0M62.8 393.7l1.7 0.7M169.3 330.7l0.8 -0.3M71.1 431.5l1.3 0.4M332.3 309.5l1.0 -0.7M283.0 323.7l1.1 -0.3M240.1 363.1l1.1 -0.9M75.9 443.2l1.6 -0.4M78.2 420.1l1.8 -0.9M103.7 387.2l2.0 -1.0M203.0 366.1l1.7 1.2M148.4 348.2l1.3 0.4M391.2 311.9l1.3 -0.9M120.1 350.1l2.2 -0.3M97.1 363.4l2.4 0.8M284.5 342.5l1.4 -1.8M393.7 307.8l1.2 0.6M119.4 331.5l2.4 0.3M164.8 348.3l2.6 0.8M115.9 396.1l2.0 -1.6M70.0 372.7l1.8 -2.0M135.7 338.8l2.0 -0.1M79.0 386.6l1.6 -0.6M36.6 434.5l1.6 0.7M79.3 377.7l1.0 0.3M155.7 305.1l2.2 -1.0M247.2 315.0l3.1 -0.2M293.1 354.3l0.8 -0.7M236.4 359.1l1.6 -2.2M41.1 373.7l1.8 -0.4M228.4 299.2l1.6 -0.0M92.4 430.2l1.0 0.2M260.4 323.8l2.3 0.9M84.9 371.2l1.8 -0.1M199.9 347.6l1.6 0.2M109.8 353.5l2.4 0.5M48.2 434.5l1.0 0.1M85.7 402.0l1.9 -2.3M62.1 375.4l3.1 -0.3M108.8 388.5l2.2 -0.9M242.0 350.9l2.7 -0.4M102.3 398.1l1.9 -0.4M202.5 302.5l2.8 1.0M245.3 312.6l1.0 0.5M270.4 304.0l1.2 0.1M270.5 301.1l2.9 -1.0M91.7 381.2l0.9 -0.3M68.2 347.5l0.9 -0.7M166.9 344.2l1.5 2.7M357.9 313.3l2.8 0.0M61.6 371.3l0.9 -0.4M44.0 440.4l1.6 0.9M87.4 420.1l2.4 0.1M423.5 334.2l2.2 1.4M103.2 411.9l1.5 -0.2M417.8 324.7l2.6 1.3M107.8 386.9l2.1 -0.5M379.4 358.0l1.7 -0.4M24.2 409.0l2.1 1.3M429.7 298.3l2.7 -1.1M74.6 421.0l2.7 1.5M289.2 297.8l0.6 -0.6M158.7 312.3l1.6 0.3M109.9 328.2l1.2 0.4M304.6 290.0l1.8 -0.7M327.2 321.2l0.9 0.4M312.0 298.8l1.1 0.0M195.7 352.6l1.5 -0.5M162.2 362.9l3.2 -0.5M239.8 286.1l1.0 -0.7M231.4 380.0l1.5 0.4M269.4 303.1l1.9 -0.9M352.4 306.0l1.0 -0.2M320.3 288.0l2.0 -0.9M378.4 328.4l1.4 -0.6M352.2 310.2l2.2 1.0M230.0 371.4l2.9 1.0M143.4 326.7l0.1 -1.1M126.0 346.5l2.5 -2.0M33.2 385.2l2.8 0.3M233.8 340.5l2.9 -0.3M289.8 278.4l1.6 0.2M97.0 463.1l2.6 -0.4M256.5 346.1l1.5 -0.3M305.7 312.0l2.7 0.5M275.4 286.8l0.7 1.3M396.5 294.2l1.6 0.6M96.2 409.7l1.6 -0.9M13.4 415.6l1.5 -0.4M33.9 392.7l2.0 -0.7M205.2 308.8l2.2 0.1M325.1 349.8l1.0 -0.6M44.6 431.4l1.5 0.4M201.1 363.1l2.1 0.5M108.2 354.2l2.7 -1.1M240.9 349.3l2.9 0.4M348.2 362.3l2.7 -0.0M133.5 350.2l2.3 -0.1M217.0 345.4l2.9 -0.7M225.4 307.7l2.7 -1.1M263.2 354.5l0.9 -0.1M109.8 323.0l1.6 -2.1M67.7 387.1l2.4 -1.5M325.5 343.9l1.8 0.4M46.2 356.4l1.1 -0.2M366.8 355.2l2.4 0.1M342.9 322.6l1.6 -0.4M40.0 400.4l2.4 0.8M94.5 344.5l3.0 0.3M138.7 372.1l1.0 0.2M139.7 366.8l1.5 -0.2M280.0 305.2l1.9 -0.9M166.1 371.0l2.5 0.2M72.4 367.7l2.4 -1.1M214.1 298.3l2.1 -1.0M416.6 321.5l1.6 0.8M33.5 381.3l0.8 -1.5M326.6 287.2l1.2 0.9M28.0 373.7l1.5 0.2M331.0 316.2l1.3 0.0M237.8 378.6l2.1 0.1M262.1 304.8l1.2 -0.6M70.3 348.7l2.0 -0.9M247.8 310.7l1.7 -0.3M171.6 366.7l0.6 -0.5M62.2 383.3l1.6 -0.0M212.7 353.8l1.9 0.3M171.2 315.4l2.6 -0.5M419.5 328.6l1.7 -0.7M366.6 344.9l1.5 0.5M349.2 347.3l0.7 -0.4M157.3 336.7l2.1 0.3M343.9 339.4l2.4 -1.3M278.5 365.6l1.1 0.0M81.6 411.7l1.4 0.0M281.9 328.7l0.7 -0.7M39.2 446.0l1.9 0.5M29.8 361.1l2.3 -1.4M373.2 300.7l2.1 0.4M134.3 373.9l2.6 -0.3M55.8 373.2l2.1 0.4M438.1 295.4l2.5 1.9M273.6 309.2l1.3 -1.2M284.2 291.1l3.2 0.5M156.6 357.6l1.8 -1.0M189.7 367.4l2.9 0.4M104.0 371.8l2.1 -0.5M209.6 340.9l1.6 -0.1M49.6 386.7l1.5 -0.0M105.5 362.9l1.0 -0.0M328.3 318.1l1.7 -0.7M35.3 411.7l2.8 0.1M76.0 354.9l2.8 -1.0M57.6 433.6l1.1 0.1M105.7 358.4l1.5 -0.7M62.4 369.4l2.5 -0.7M315.4 286.4l0.8 -0.9M63.2 433.5l1.5 0.3M148.9 336.8l0.9 0.2M119.7 348.6l1.4 -0.1M103.2 353.7l2.3 1.0M269.3 327.4l1.1 -0.8M55.3 358.3l2.1 -1.2M28.8 417.8l2.3 0.6M85.5 411.6l2.1 -1.7M161.9 360.5l2.4 0.4M344.3 351.9l1.9 -0.7M103.8 387.5l1.2 0.3M88.0 434.3l1.4 1.7M40.4 456.0l1.2 1.9M37.9 366.1l1.7 -1.1M18.1 412.7l2.8 1.3M118.2 355.0l3.1 -0.4M114.3 368.4l1.8 0.1M62.1 371.5l1.2 -0.4M48.3 429.9l1.6 0.3M185.2 322.6l1.4 -0.6M338.2 354.6l3.0 -0.1M58.1 396.0l1.4 -0.6M118.1 316.2l1.8 -0.6M190.8 298.1l2.0 0.6M345.2 297.3l1.4 -0.2M99.2 336.4l1.9 -1.1M105.3 370.8l1.4 0.3M45.4 408.4l2.2 1.1M298.3 320.7l3.1 -0.3M36.6 405.9l2.7 0.9M418.2 314.4l1.2 -1.0M314.6 337.1l2.6 -1.5M257.5 356.1l0.9 -0.3M392.4 296.8l2.0 -0.6M283.0 322.8l2.2 -0.6M367.5 322.5l2.9 0.1M316.4 315.5l2.4 -0.2M264.2 329.1l1.9 -0.8M296.7 288.5l2.2 0.4M225.3 322.5l1.3 0.4M395.7 297.4l1.8 0.8M115.5 374.3l2.2 0.7M336.3 322.4l2.7 -0.4M103.0 429.8l1.9 -0.4M122.8 353.5l1.4 -0.7M16.3 407.6l0.3 0.9M119.9 340.7l2.2 1.3M14.3 431.9l2.6 0.1M65.5 346.4l1.8 0.2M89.9 430.5l2.6 1.1M84.8 444.3l1.6 2.2M109.0 385.0l0.6 -1.4M393.7 340.4l2.6 -0.2M335.5 346.2l1.2 0.4M119.2 383.0l1.3 -0.7M50.2 407.2l2.4 0.9M71.9 379.8l1.4 -0.0M295.3 317.6l2.2 -1.1M130.2 385.9l2.3 -0.3M167.3 345.0l1.6 -0.4M127.1 330.2l1.8 0.0M340.1 285.4l1.0 -0.0M208.3 317.5l1.1 0.1M41.8 413.7l3.0 0.9M98.7 340.9l1.1 1.0M252.7 372.3l2.0 0.2M115.1 359.6l1.5 -0.4M172.7 328.6l2.8 0.8M208.1 370.1l1.0 0.3M36.2 378.7l1.5 0.2M266.9 277.6l3.0 -0.1M79.5 468.3l1.8 0.9M46.0 388.8l2.2 1.3M23.0 421.6l1.6 0.2M196.2 359.9l1.7 0.6M96.3 401.0l0.7 0.5M169.2 325.2l1.2 -0.1M45.8 375.0l2.0 -0.3M255.9 307.6l2.8 -0.9M377.6 335.0l1.6 -1.2M414.7 347.1l1.1 0.1M359.4 359.8l0.8 -0.0M61.4 384.2l1.0 -1.7M230.5 298.6l0.9 0.3M350.6 316.0l1.9 -1.8M245.0 298.6l2.0 -0.7M54.2 343.2l2.6 -1.6M90.0 343.6l1.4 0.7M72.1 407.5l2.6 -0.3M136.0 347.0l2.6 -1.3M72.8 391.7l1.3 -0.5M263.9 290.5l2.3 -0.6M131.4 345.8l2.1 -0.1M320.6 331.1l2.9 0.2M165.7 339.0l2.5 -0.3M174.6 335.4l1.8 0.5M339.8 282.1l1.1 0.1M123.0 325.9l1.1 -0.2M150.8 307.0l1.5 0.5M285.9 331.3l2.0 0.4M401.8 328.2l2.9 1.1M229.7 372.5l2.5 -0.5M257.1 361.2l2.4 -1.3M323.8 342.5l0.5 -0.8M78.9 361.7l1.3 -0.5M45.9 392.7l2.3 -0.8M93.5 366.4l0.7 -0.9M133.8 341.4l1.0 -0.1M58.1 406.4l1.6 -0.8M41.2 380.9l1.2 -0.5M96.3 348.6l1.3 0.3M369.7 310.4l1.4 0.4M96.4 355.4l1.4 -0.6M179.3 304.5l1.5 0.5M365.1 333.4l2.6 0.2M113.1 330.0l2.9 1.3M151.9 372.2l1.7 -0.7M78.3 405.4l1.5 -1.2M160.2 350.8l1.6 -1.0M135.4 365.8l2.8 -0.6M330.7 321.5l1.1 0.8M339.6 278.4l2.5 -1.7M42.6 429.6l1.0 0.4M412.3 315.1l0.7 0.6M192.2 304.3l2.6 -1.2M26.6 374.4l1.6 -0.8M66.6 444.8l1.9 -0.2M236.5 307.2l1.5 -0.8M69.4 383.0l2.7 0.2M248.4 312.0l2.0 -0.3M204.3 367.3l0.9 0.3M257.6 313.3l1.1 -0.7M58.5 406.1l1.8 0.5M59.1 398.6l1.1 0.1M99.7 431.8l2.3 0.9M106.6 411.5l1.7 0.4M56.6 356.1l1.9 -0.4M314.0 367.8l0.9 -2.4M269.7 288.3l0.8 -0.5M198.0 334.8l2.4 -0.5M110.8 459.1l1.5 -0.0M104.6 355.1l0.8 -0.5M184.6 371.5l1.7 0.6M101.3 361.7l1.7 -0.6M72.1 422.0l1.8 0.4M63.8 394.5l2.0 -0.5M319.3 305.4l1.3 -0.4M108.8 441.0l2.2 1.5M286.2 298.3l0.7 -0.4M114.3 357.7l2.4 0.1M77.1 368.1l1.5 -0.2M129.0 379.9l1.3 0.6M84.2 351.4l2.7 -1.1M91.0 378.3l2.1 0.5M74.7 366.5l1.5 -0.0M83.9 389.3l1.1 -0.4M362.4 306.8l2.3 -0.0M22.9 374.5l2.6 -1.4M325.1 343.2l0.9 -0.4M31.7 428.7l3.0 -1.1M46.1 368.0l2.7 0.1M68.2 408.1l1.3 0.8M235.3 280.4l1.9 -1.0M48.0 416.6l2.3 1.9M270.9 346.2l2.8 -0.8M142.9 357.6l2.4 -1.0M136.6 381.3l0.8 -0.8M116.8 339.7l2.3 -0.9M71.4 385.2l1.3 -0.2M389.7 315.7l2.3 1.6M355.0 357.6l2.3 -0.9M98.4 365.2l2.4 1.3M316.0 300.5l1.8 -0.9M232.7 304.0l1.8 -0.8M49.8 388.5l2.5 0.5M187.5 369.1l2.7 0.7M175.1 329.8l2.6 0.1M274.1 290.3l1.2 -2.5M281.1 297.3l2.2 -0.9M357.1 339.6l2.6 -0.2M204.5 318.4l1.2 -0.8M230.9 342.1l2.6 -1.2M137.1 353.9l2.2 -1.1M72.0 393.3l1.8 -0.6M116.6 355.9l1.4 -1.6M134.4 364.5l2.8 -0.8M40.7 418.7l1.2 0.9M174.2 371.8l0.8 -0.4M327.8 319.8l1.0 0.1M59.1 429.9l1.5 -0.1M78.0 447.4l3.0 -0.9M341.4 316.6l1.9 -0.4M171.9 320.3l2.2 1.2M86.7 449.5l2.0 0.3M146.5 350.2l1.3 -0.9M37.3 361.7l2.7 0.0M136.8 333.9l1.5 -0.2M273.7 286.9l1.2 -0.7M365.5 325.4l1.3 -0.2M62.6 391.9l1.1 -0.5M74.0 419.7l1.1 -0.8M56.6 413.2l1.4 -0.3M80.0 353.5l2.9 -0.7M93.6 450.8l2.3 0.9M112.4 354.9l1.9 -0.0M282.0 289.6l2.9 0.2M249.8 299.7l2.6 -1.7M175.1 357.6l1.3 1.0M43.2 445.5l1.3 -0.3M133.0 321.6l1.6 -0.6M83.0 413.0l0.9 -0.2M230.3 305.1l1.8 -0.6M324.9 276.2l2.4 0.1M332.5 322.4l1.6 0.2M32.4 401.0l1.5 -2.5M71.2 412.8l2.6 -1.0M382.4 309.6l1.8 -0.9M78.5 433.8l1.8 0.8M279.6 279.2l1.2 -0.3M187.0 363.5l2.0 -0.1M154.2 307.1l2.2 1.0M113.7 345.8l1.6 -0.2M223.5 302.5l1.8 0.1M131.8 352.4l2.1 0.5M74.7 434.6l2.1 -1.1M139.1 315.0l1.0 0.5M167.7 333.9l1.0 0.3M173.3 334.4l1.9 -1.0M161.9 343.9l1.0 -0.5M353.6 327.9l2.6 0.9M223.1 349.8l1.9 0.2M25.2 374.4l1.6 -0.6M82.2 467.6l2.4 1.5M11.3 394.0l1.7 0.3M94.5 371.6l1.8 -1.4M196.1 371.5l1.8 0.1M37.9 415.4l1.4 -0.0M44.0 431.1l2.2 0.0M47.4 446.8l2.6 0.4M48.1 354.6l1.0 -0.1M79.1 384.5l1.8 0.4M134.0 359.9l1.4 -1.3M159.3 321.7l1.2 0.1M276.3 289.7l1.7 1.1M71.5 350.7l2.2 -0.3M261.8 363.9l1.8 0.2M113.7 340.4l1.7 0.5M20.3 389.2l2.7 0.2M236.9 281.2l2.8 -0.4M17.8 414.7l1.3 -0.4M218.2 341.6l2.8 -1.3M43.2 390.1l1.8 2.1M49.5 401.2l2.9 -0.8M379.6 342.1l1.6 0.9M146.7 309.2l1.4 -0.4M69.3 423.2l1.3 0.3M72.5 348.9l0.9 -0.1M50.4 416.8l3.1 0.0M322.0 366.2l2.0 -1.9M148.9 333.9l2.5 0.3M187.4 351.7l2.5 -0.9M103.4 406.0l0.8 -0.4M189.3 307.5l2.4 0.4M356.9 365.8l1.3 0.4M149.8 337.1l3.2 0.4M170.4 335.3l0.9 0.6M306.7 304.6l2.6 -0.0M313.7 298.1l2.9 0.2M55.8 384.5l2.4 -1.2M207.8 353.5l1.6 -1.8M358.6 320.0l0.7 -0.7M300.3 323.7l1.1 -1.0M67.3 437.8l2.3 1.1M149.7 336.7l2.8 -0.7M275.5 283.2l1.5 0.5M340.6 293.9l2.1 1.0M149.7 308.9l1.8 0.8M102.3 430.1l0.8 -0.3M96.2 403.6l1.5 0.6M110.5 353.4l1.0 -0.3M343.8 340.5l1.0 -1.5M338.7 340.4l2.3 0.9M258.6 364.6l2.3 -0.1M385.6 289.6l2.6 -0.3M134.5 314.3l2.4 0.6M259.7 369.7l2.0 1.1M324.8 304.4l0.8 0.1M278.0 365.7l1.6 -1.6M232.1 284.0l3.0 -0.2M120.0 331.4l0.9 -0.2M126.6 334.6l2.6 0.1M122.3 386.9l1.3 -0.6M94.3 404.9l2.0 -1.1M61.6 451.3l1.3 -0.1M160.7 345.5l2.9 -0.9M194.0 302.9l3.0 0.1M290.2 332.2l1.2 0.5M308.4 307.4l2.5 0.3M95.8 387.3l1.9 -1.9M260.2 338.4l2.0 -1.2M151.4 360.9l2.7 -0.6M399.7 341.2l0.3 -1.3M305.5 293.8l2.6 -0.2M90.0 432.6l2.5 0.1M312.5 348.1l1.0 -0.2M94.1 346.6l2.3 -0.9M27.5 391.0l2.5 1.6M92.9 401.6l0.9 0.2M117.3 341.6l2.2 -0.6M164.3 357.9l1.3 0.0M267.0 350.5l2.3 -0.1M20.5 416.6l0.9 -0.0M372.2 329.5l1.7 -0.3M226.9 285.3l1.3 -1.4M75.4 452.8l1.3 0.9M69.1 453.2l2.9 -0.6M98.4 370.8l1.9 -2.3M43.7 399.4l1.2 -0.1M145.6 356.6l1.9 -0.9M283.4 357.6l1.5 0.6M53.8 424.7l1.6 1.0M294.9 279.3l1.4 0.2M61.0 372.8l1.2 0.8M185.7 312.8l2.1 -0.4M280.4 356.7l2.2 -0.7M444.8 295.4l2.2 -0.5M35.4 364.1l2.3 -2.0M382.6 329.5l1.8 0.8M62.3 444.2l0.8 0.4M255.2 332.6l1.6 -0.3M244.8 296.7l1.5 0.3M81.3 443.9l1.2 -0.2M100.7 363.9l0.4 2.9M267.6 364.7l2.0 -2.4M68.0 392.3l1.3 0.0M97.6 351.7l1.3 0.1M113.4 320.1l1.2 -0.1M198.5 308.4l1.8 0.9M78.1 337.8l1.6 -0.9M113.5 388.7l1.1 -2.4M372.4 282.7l2.8 0.5M218.2 290.3l1.9 0.0M93.9 459.6l1.3 1.0M366.2 289.8l1.6 -0.4M390.5 296.5l1.1 -0.7M151.4 329.2l1.5 -0.6M238.8 295.0l1.5 -0.9M295.1 351.3l2.0 0.2M73.5 390.6l1.5 -2.3M126.4 350.9l2.1 -0.6M194.3 302.4l1.0 0.1M124.6 351.5l2.0 -0.6M179.0 354.8l1.5 -1.5M148.7 344.4l1.8 -0.4M119.1 334.5l1.5 1.5M268.2 349.3l0.7 0.6M226.3 312.8l2.0 -1.6M339.9 345.2l2.0 -1.0M271.4 343.0l1.8 0.5M81.0 396.9l2.8 1.0M49.7 412.7l2.1 1.0M428.0 341.9l3.1 0.6M183.4 344.3l1.0 -0.3M190.6 365.1l1.4 -0.1M91.2 461.9l1.9 0.6M380.6 343.0l1.0 0.1M320.3 309.1l1.6 0.1M37.3 397.3l1.6 0.3M157.0 351.8l1.3 0.0M156.5 367.2l0.3 -1.1M41.6 384.3l1.9 -1.9M347.7 313.9l1.2 0.1M234.1 314.2l0.7 -0.9M130.8 390.8l1.4 0.4M217.9 304.1l3.1 -0.1M101.4 409.2l1.4 -0.7M349.4 332.9l2.5 0.3M271.7 290.2l2.1 0.1M418.5 345.5l2.5 0.4M251.0 373.9l0.8 -0.1M292.9 299.5l0.8 -0.0M171.2 320.5l2.8 -0.5M104.3 382.2l1.8 -0.5M37.4 399.4l2.1 -0.2M326.0 307.0l2.3 -0.3M118.7 365.7l1.7 -0.9M153.0 331.1l1.0 0.4M100.4 343.8l3.1 -0.5M313.0 298.6l0.8 -0.1M260.7 356.8l1.1 -0.6M73.7 418.9l1.1 0.4M115.5 347.0l2.5 -1.8M52.7 400.0l0.7 0.5M185.5 303.6l2.0 -1.0M200.7 361.0l2.4 -0.2M75.1 410.1l1.1 0.3M131.7 330.3l2.4 0.4M348.5 290.1l2.0 0.6M135.1 380.9l2.2 0.2M80.9 444.6l1.8 -0.5M23.1 418.6l1.7 0.9M70.4 341.6l1.3 -1.0M63.9 365.9l2.3 0.3M235.7 302.1l2.1 1.3M173.5 358.7l2.0 0.6M257.8 297.6l1.5 -0.2M147.0 368.5l3.2 0.3M353.5 301.2l1.0 0.1M86.1 447.5l1.9 2.3M313.0 348.9l1.7 0.9M95.3 393.0l1.3 0.2M261.9 343.6l2.4 -0.3M315.6 304.5l2.7 0.2M82.3 415.0l1.7 -1.1M233.8 366.4l1.2 -0.3M34.2 362.6l2.8 -0.5M97.9 456.6l2.0 0.4M81.9 442.9l2.0 1.3M434.2 314.1l1.7 0.3M314.1 281.3l2.3 1.6M199.6 300.3l2.1 -0.1M316.5 340.2l2.7 -1.5M43.6 394.2l2.8 -1.4M82.9 356.4l1.6 0.4M80.0 345.6l2.6 -1.1M358.8 308.7l0.9 0.1M62.1 422.9l2.0 -0.9M296.8 310.4l1.3 0.1M104.3 325.7l1.4 -0.4M65.9 363.0l1.8 -0.8M280.9 358.0l0.9 0.1M163.0 327.2l2.1 -0.2M279.1 331.4l1.7 0.5M201.2 374.6l2.8 -1.2M99.5 334.9l2.5 -1.8M87.7 383.2l1.5 -0.0M97.9 446.6l1.0 0.0M109.1 413.3l1.6 0.6M217.1 319.6l1.7 0.5M210.6 363.8l1.0 -1.0M28.1 373.9l2.1 1.0M143.5 333.5l2.1 -2.4M223.0 366.1l1.1 -0.5M126.8 326.4l2.9 -0.6M251.7 276.2l1.5 -1.7M297.1 292.3l1.6 -0.5M264.1 353.7l1.6 -0.0M66.6 337.9l0.8 -0.3M300.8 324.1l1.5 -0.0M236.8 351.2l2.2 -0.3M98.6 412.3l2.3 1.8M372.0 288.6l1.9 1.3M257.4 359.8l0.8 -0.1M93.4 328.6l1.0 0.0M138.3 323.8l1.2 -0.0M63.9 379.1l2.3 -0.5M75.5 387.2l1.7 -0.9M71.1 413.4l1.7 -1.0M366.8 299.5l2.0 -0.9M68.9 378.3l1.9 -1.9M103.6 383.9l1.0 1.2M199.5 360.5l1.6 -0.1M153.4 360.1l1.5 -0.1M245.7 310.9l1.4 -0.5M181.9 319.2l1.8 1.4M97.3 372.6l2.9 -0.2M215.7 335.3l2.0 -1.7M130.3 320.0l2.0 -2.1M162.2 365.8l1.3 0.1M269.5 353.1l1.2 0.8M246.3 300.6l1.9 0.9M335.1 275.1l1.8 -0.1M183.3 315.3l2.0 -1.9M36.6 377.8l1.2 -0.9M291.3 364.4l0.7 -1.0M237.2 309.9l1.2 0.1M55.4 401.1l1.3 -0.0M113.5 395.4l0.8 -0.2M351.5 332.1l2.1 -1.3M321.6 284.9l1.1 0.4M376.0 317.0l2.3 -0.5M39.9 439.3l2.2 -0.2M78.5 378.7l1.0 0.4M266.9 344.5l1.1 0.6M58.6 372.2l1.2 0.4M103.5 440.2l1.8 0.1M77.0 383.3l2.8 -0.5M217.9 299.1l2.5 1.0M367.4 341.5l2.3 -0.4M320.9 292.3l0.9 -0.5M90.1 400.8l2.2 -1.2M173.7 367.0l2.0 1.1M26.3 435.2l0.8 0.8M46.7 423.2l2.6 1.8M202.2 327.8l3.0 0.2M387.7 306.0l1.7 -0.2M323.7 333.3l1.5 1.3M330.6 330.9l0.8 0.6M95.3 391.4l1.8 -0.9M26.6 414.4l1.6 0.3M72.1 407.7l1.6 -1.8M79.3 421.4l2.7 0.3M393.1 312.2l2.9 -1.4M354.3 291.0l2.3 -0.7M226.8 291.3l3.2 -0.2M199.3 359.1l2.4 0.1M210.9 352.4l1.3 -0.1M234.6 306.4l1.4 0.4M82.2 384.9l2.7 1.6M36.3 406.9l0.6 0.6M366.3 279.0l0.8 -0.4M123.9 359.5l1.6 0.4M116.2 340.4l2.7 0.9M30.5 401.3l2.2 1.4M273.7 318.8l1.8 -0.1M83.5 441.7l1.0 0.7M51.6 376.0l2.0 0.9M65.4 423.5l3.1 -0.5M268.0 309.7l0.6 -0.6M324.1 310.1l1.6 -0.9M144.2 379.2l2.3 -0.8M435.8 336.0l0.8 -0.2M265.3 332.6l2.5 0.4M324.3 371.5l1.2 0.8M353.3 296.7l1.8 -1.0M216.0 299.5l1.4 -0.2M189.1 338.3l1.9 -0.4M329.4 323.9l1.5 -0.5M32.4 392.1l2.5 0.8M143.3 360.2l1.0 0.0M146.1 360.4l3.2 0.1M82.3 341.7l2.6 0.9M272.6 306.6l1.8 -1.5M263.4 346.9l0.9 -0.7M348.2 299.2l1.7 -0.4M24.8 424.7l0.8 -0.2M139.9 381.5l3.0 -0.5M89.8 402.4l1.3 -0.5M61.5 374.3l0.8 0.2M25.6 426.2l1.8 1.2M82.7 424.6l2.9 0.9M54.8 462.9l2.0 1.1M126.1 321.5l1.1 -0.7M262.4 347.9l1.8 -0.1M61.6 352.4l1.5 -0.6M124.4 365.6l2.8 -0.2M374.7 282.8l2.5 -0.6M103.5 350.9l1.7 -0.1M271.2 297.4l2.8 -1.5M88.5 378.5l2.3 -1.3M190.7 357.8l2.1 -0.9M41.7 402.5l0.9 -0.1M83.1 400.6l2.4 1.0M120.1 359.6l0.9 0.2M31.6 365.3l1.5 0.4M90.0 353.9l0.8 0.3M136.7 348.9l2.7 1.3M89.8 331.5l1.1 -0.3M280.9 377.2l1.9 -2.1M99.6 413.9l1.6 1.2M292.0 277.5l2.7 -0.4M314.9 313.2l1.8 -0.5M303.2 352.3l1.8 -0.8M32.6 397.3l0.8 -0.4M77.2 345.4l2.3 0.3M208.7 363.6l0.7 -1.2M120.4 383.6l3.0 -0.2M68.6 401.6l1.5 -1.1M297.4 308.3l1.0 0.1M163.0 323.6l2.1 0.8M288.4 289.4l2.6 0.3M295.7 275.0l2.2 -0.0M109.1 390.7l0.8 0.3M327.0 336.6l1.4 -1.1M158.6 308.0l1.9 0.4M12.5 394.6l0.8 1.0M206.5 299.7l1.4 -2.6M62.6 418.7l2.0 0.7M148.0 305.3l0.7 -0.4M189.1 349.9l2.1 -0.9M142.2 343.6l1.9 0.4M24.9 392.4l3.1 -0.4M91.8 328.9l2.0 -0.2M238.5 378.3l1.7 -0.4M40.8 360.1l2.1 -0.2M28.7 445.5l2.8 0.7M113.4 349.8l1.3 -0.7M288.2 294.3l3.1 0.3M53.2 390.0l0.6 -0.7M314.2 297.8l2.5 -1.5M335.2 293.2l1.2 0.3M72.0 349.4l3.0 0.0M300.0 375.3l2.1 -1.2M95.7 398.4l2.8 -0.7M73.7 391.5l2.6 -1.5M330.4 294.3l3.1 -0.2M120.5 364.4l1.1 -0.4M133.0 378.6l1.0 -0.4M96.0 358.9l2.6 0.5M145.5 375.6l3.0 0.8M107.2 370.3l2.3 0.2M285.3 315.6l2.8 -0.4M76.4 369.7l0.8 -0.5M84.3 422.1l2.5 1.2M244.9 369.5l1.0 -1.3M85.0 386.7l1.4 -0.7M62.4 452.6l1.5 0.9M43.7 418.7l0.9 -0.2M409.6 303.0l0.8 -0.7M36.2 379.8l1.2 -0.1M333.7 327.3l1.8 2.5M330.2 291.7l1.3 0.0M263.2 365.5l1.2 -0.0M70.7 362.7l0.8 0.2M161.8 329.6l1.9 1.1M40.0 417.4l2.5 -0.2M168.6 349.9l0.9 -0.3M343.3 360.7l1.2 -0.8M83.3 378.7l1.4 -0.2M36.6 419.9l0.8 0.7M113.0 451.9l2.3 -1.4M88.2 439.5l1.1 0.6M370.5 283.5l1.0 -0.6M106.5 438.0l1.5 1.6M297.8 318.2l2.0 -0.7M49.7 425.8l2.3 1.2M46.6 410.8l1.2 0.3M117.9 367.2l1.2 -0.1M68.0 375.5l2.2 -1.5M92.9 356.6l1.1 0.6M58.0 399.3l2.4 0.2M219.6 289.0l1.2 -1.4M341.5 363.9l2.1 -0.5M268.1 377.6l1.3 0.2M404.4 327.5l1.7 -1.9M259.1 282.5l2.1 0.7M437.2 330.5l0.8 -0.3M240.6 333.0l0.3 -2.5M133.8 356.7l1.9 -1.9M140.2 346.7l3.2 -0.1M198.3 366.3l1.1 0.1M203.7 343.5l1.4 -0.5M68.6 354.5l1.0 -0.8M74.9 335.2l2.0 0.7M107.3 411.3l3.0 -0.7M94.8 338.3l2.8 -0.0M215.9 306.0l1.0 -1.1M119.4 328.7l1.0 -0.2M201.6 345.8l2.0 0.5M193.0 318.6l1.9 0.5M76.6 451.5l1.3 -0.2M40.1 416.3l2.6 -0.1M209.3 360.7l0.8 -0.3M161.0 319.3l0.8 -0.0M321.6 367.9l2.6 0.1M46.3 432.4l0.8 -0.1M145.5 319.6l0.9 -0.6M77.9 401.2l3.0 -1.1M264.9 363.3l2.4 0.3M269.7 306.4l1.2 -0.0M127.6 372.9l2.7 -1.5M103.1 360.9l1.6 -1.2M87.4 391.8l1.7 0.9M64.2 418.9l1.8 -0.1M210.1 330.1l1.7 -0.9M255.8 296.3l1.0 0.2M341.6 300.2l1.5 -0.0M203.8 296.8l1.8 -0.1M71.0 439.9l1.0 -1.1M105.4 326.0l1.1 -0.6M48.0 420.1l2.8 0.6M188.5 347.1l2.6 0.1M31.5 404.2l2.8 -0.2M333.2 283.4l1.3 0.0M128.9 328.7l1.2 -0.4M154.9 352.4l1.3 -0.2M96.0 431.2l1.0 0.4M41.1 359.6l2.9 0.6M255.6 362.6l1.8 0.0M325.8 292.4l1.4 -0.1M213.8 377.2l2.5 0.7M125.2 333.6l2.8 1.1M374.2 310.8l2.9 -0.7M82.9 332.2l2.5 -1.4M32.5 436.5l1.0 1.0M75.5 355.7l2.2 -1.7M198.5 356.0l0.7 0.4M122.3 376.4l2.3 -0.0M246.0 329.5l2.6 1.8M273.2 343.9l1.3 -0.4M98.4 348.3l1.4 0.4M200.8 308.9l2.4 -0.1M171.4 318.3l2.1 1.2M75.7 422.3l1.9 1.1M231.5 333.5l2.2 -0.1M54.9 395.6l0.7 0.5M297.2 358.9l2.0 1.7M172.4 335.1l1.5 0.3M212.9 370.3l1.1 -0.7M157.1 304.9l2.9 -0.4M74.8 347.2l2.9 -0.1M90.9 377.7l1.2 -0.0M230.1 376.4l1.3 0.5M25.3 440.2l1.8 -0.2M265.8 360.0l2.0 -0.4M22.5 412.1l1.4 1.6M278.9 370.0l2.1 -0.9M27.6 407.4l1.4 0.1M52.0 416.3l1.5 -0.6M272.9 279.3l2.6 -0.1M320.6 336.8l2.1 -1.4M294.3 281.7l2.3 -1.2M109.2 357.6l1.0 -0.2M41.7 388.8l2.6 0.0M42.8 369.5l1.7 0.1M104.3 337.2l1.0 -0.5M52.4 380.9l0.9 -0.9M304.7 318.1l1.8 -0.1M94.0 388.4l1.0 -0.8M262.3 307.0l0.7 0.9M38.2 401.0l2.0 0.0M117.0 370.7l0.7 -1.7M318.6 313.9l2.6 0.6M217.1 374.3l1.3 -1.1M247.7 354.4l1.4 0.3M119.8 373.7l2.0 -0.8M57.8 377.1l0.7 -0.4M110.2 341.3l2.6 -1.6M70.4 458.4l1.9 -0.3M97.8 452.9l1.0 1.2M145.5 360.4l0.9 -0.3M233.7 342.0l3.0 -0.5M308.1 353.6l1.5 0.5M385.3 338.4l0.8 0.5M46.7 350.4l1.4 -0.3M16.0 416.1l1.5 -0.6M369.6 279.2l2.9 -0.2M176.5 325.8l1.2 -0.6M270.8 380.3l0.9 0.4M159.2 306.0l1.3 -0.5M328.1 353.1l2.4 -1.7M167.7 302.9l1.9 0.1M401.2 324.5l1.1 0.7M85.8 454.7l2.3 1.6M306.1 285.8l1.9 0.9M331.4 367.3l2.6 1.5M328.9 291.5l2.3 0.5M51.3 420.8l1.1 -0.2M97.0 413.5l2.6 1.0M345.7 285.0l2.7 -1.2M315.9 372.9l2.1 0.0M37.2 431.7l1.2 0.8M208.8 303.4l0.9 0.1M84.1 366.8l1.1 -1.0M119.0 326.1l1.9 0.3M107.3 372.1l2.2 -0.1M316.2 298.7l2.1 1.7M147.9 338.3l2.9 -0.7M66.3 445.2l0.2 1.5M137.5 340.6l1.0 -0.4M322.7 291.1l1.0 0.2M54.1 381.0l1.5 -1.1M344.4 358.8l1.4 -1.1M287.9 284.1l1.7 0.5M90.0 457.6l0.8 0.1M402.1 309.4l1.9 -1.0M60.8 350.2l3.1 0.9M92.8 418.5l3.0 0.8M252.6 351.2l1.2 -0.4M90.5 388.4l2.2 0.0M356.5 338.2l0.8 -0.2M73.7 415.9l1.9 1.4M152.2 339.4l3.1 -0.6M57.9 446.8l2.8 1.2M82.9 335.7l2.3 -0.5M241.7 314.2l1.2 -0.8M135.7 333.8l1.7 -0.4M263.6 315.5l0.9 0.7M101.2 395.0l1.2 -0.7M39.9 368.8l2.4 -1.3M166.0 357.0l2.3 0.4M71.7 439.7l1.3 0.1M325.1 289.7l0.8 -0.3M201.1 374.4l1.6 -0.9M305.2 313.9l1.7 0.1M70.5 368.7l2.3 -0.4M206.4 300.1l1.4 -0.5M303.4 352.3l3.0 -0.3M361.0 339.6l2.8 -1.3M331.7 306.1l1.9 -0.4M273.0 344.8l0.4 -1.1M332.6 357.9l0.8 -0.3M45.0 377.7l1.3 0.4M89.5 422.0l1.1 0.5M124.3 336.1l1.3 -1.9M211.8 368.2l2.5 0.9M290.9 347.3l1.4 -2.1M270.2 361.9l2.9 -1.1M17.5 424.7l0.9 1.6M202.3 329.6l1.1 -0.2M400.5 317.6l1.4 -0.1M250.8 335.7l2.3 -1.9M282.8 313.3l2.8 -0.5M264.7 344.5l0.8 1.0M117.2 360.8l1.5 -1.8M55.3 418.2l1.7 0.0M114.5 383.8l0.8 -0.2M237.7 355.5l0.9 -0.4M80.8 358.5l0.5 -0.9M316.3 318.6l2.9 -1.0M350.5 321.3l2.0 0.1M58.0 391.6l1.2 -0.5M120.5 341.8l2.2 -0.8M132.0 382.6l1.7 -0.6M181.8 358.2l1.3 0.6M65.4 401.4l1.2 -0.8M82.1 361.5l1.4 -0.4M77.1 452.9l2.5 -0.1M46.1 422.0l2.6 1.3M357.0 344.0l1.2 -0.3M295.9 357.2l0.7 -0.5M93.1 432.2l1.1 -0.9M49.1 442.9l2.6 1.1M106.3 422.9l1.5 -1.3M226.3 363.0l2.0 0.0M42.0 407.5l0.8 -0.8M109.1 399.6l1.5 0.9M49.0 440.5l2.1 -1.9M304.5 372.8l1.7 -0.1M197.8 344.1l1.1 -0.1M144.4 315.6l2.9 -0.7M216.6 300.3l1.0 -0.1M91.2 465.3l2.0 0.9M362.6 318.0l1.7 -0.4M292.7 284.0l1.2 -2.4M243.2 354.6l2.4 -1.2M237.6 334.5l1.1 0.3M229.4 302.5l2.8 0.8M45.7 440.2l2.2 -0.3M302.7 282.5l1.6 0.3M230.4 336.6l1.0 -0.5M375.6 332.4l0.8 -0.5M72.7 408.1l1.4 -0.8M331.5 306.7l1.1 -0.5M282.0 298.1l1.4 0.1M288.2 359.2l2.6 0.3M373.6 307.8l2.0 0.8M335.9 329.5l0.9 1.0M343.2 285.7l3.1 0.5M41.8 388.7l1.2 -0.7M211.8 349.1l1.1 -1.1" stroke="#e96c5a" stroke-width="1.30"/><path d="M224.1 316.3l2.6 -0.6M295.8 335.9l1.7 -0.1M200.3 318.5l1.0 -0.9M132.7 342.8l2.9 -0.3M257.6 318.6l1.2 -1.7M218.1 319.5l0.7 -0.4M370.9 322.8l2.5 0.6M305.5 327.0l1.9 -0.2M303.7 325.3l0.6 -0.6M316.0 343.7l0.6 -1.0M244.4 317.3l1.0 -0.3M358.7 312.8l1.1 2.1M291.7 326.6l1.0 -0.5M252.0 315.6l1.3 0.2M208.8 321.1l0.7 -0.4M124.7 371.1l1.5 0.4M241.6 340.8l2.6 -1.5M304.5 331.5l0.6 -0.7M151.4 368.6l1.0 0.4M109.9 386.6l2.9 0.5M183.7 327.0l1.0 0.9M336.5 313.9l0.8 0.2M352.8 321.3l1.5 -1.1M192.7 310.5l1.9 -0.4M250.2 314.8l0.6 -0.5M241.8 325.6l1.8 -0.1M277.9 332.1l1.6 0.4M293.6 312.6l2.5 0.4M217.2 310.6l1.9 -0.4M177.1 311.3l1.6 1.0M266.5 325.7l0.8 -1.9M201.5 341.7l1.9 -0.7M261.6 320.7l1.3 -1.7M269.8 326.2l2.1 -0.5M240.4 356.8l3.1 -0.2M248.2 322.0l2.4 -1.1M221.2 357.3l0.8 -0.7M183.8 312.2l0.7 -0.5M156.9 355.2l1.2 -1.2M224.9 344.6l1.9 -1.0M197.8 357.4l1.4 -0.2M272.5 338.1l0.5 -0.6M327.3 315.9l2.6 0.4M101.2 381.2l2.0 0.3M277.5 321.8l1.8 -0.7M287.7 349.4l0.4 -0.8M273.1 331.3l1.9 -1.1M140.6 358.3l1.5 -0.2M77.8 437.9l1.5 2.1M223.6 352.8l1.4 0.2M90.6 454.0l1.8 0.8M165.0 367.1l1.4 1.5M164.9 345.5l1.2 0.3M225.7 329.9l2.1 0.8M313.2 315.8l0.8 -0.1M188.0 311.0l2.9 -0.6M310.6 340.2l2.9 -0.0M176.1 320.3l2.7 -0.2M242.6 309.0l1.3 -0.2M233.2 345.8l1.1 -1.6M167.3 308.0l2.8 -0.1M215.2 323.1l1.0 -0.8M146.5 374.7l2.8 0.6M147.4 361.7l1.0 -0.6M80.4 421.8l1.3 1.2M248.4 336.4l2.6 0.3M166.8 316.6l1.7 -1.5M203.7 311.7l1.7 0.4M62.0 436.1l1.2 0.4M329.1 330.5l2.8 0.7M302.5 324.7l1.2 -0.1M226.5 334.7l1.2 -0.2M233.2 348.5l2.1 -0.3M301.0 322.3l2.6 -1.7M241.6 344.9l0.7 -0.5M92.8 440.8l1.1 -0.6M205.5 335.7l1.8 -2.1M185.1 339.9l1.9 -0.3M199.8 310.3l2.4 -1.5M247.1 343.8l2.5 1.3M274.6 321.5l2.2 -0.6M267.0 343.6l3.2 -0.0M204.5 349.8l1.7 -2.0M77.2 433.1l1.8 0.1M315.3 313.8l0.8 0.0M254.7 320.8l2.1 0.3M128.4 348.1l1.6 -0.7M275.0 351.7l1.8 -1.7M197.2 338.0l2.7 0.1M76.9 435.8l2.2 0.7M132.9 376.4l1.9 0.3M73.1 447.4l0.7 2.0M223.4 349.8l2.0 0.1M116.2 381.4l2.8 0.5M219.7 307.7l2.6 -0.5M257.2 344.8l1.3 0.2M83.2 413.1l2.8 -0.0M273.0 348.2l1.3 -0.6M156.2 356.5l1.2 -0.2M118.4 375.6l2.1 1.2M135.9 377.9l1.6 -0.3M289.2 338.2l2.8 -0.9M206.8 369.3l2.0 -0.3M140.2 371.1l2.6 0.2M247.7 344.7l0.8 -0.2M276.5 337.1l2.0 -1.1M271.7 332.3l2.8 -0.4M213.2 308.8l0.8 -1.1M206.5 342.9l0.7 0.6M281.0 324.2l2.0 -0.1M219.4 350.7l2.7 -0.2M279.4 332.4l1.3 -0.1M224.1 366.6l1.9 -1.0M235.8 316.8l1.3 0.5M301.2 307.5l1.0 -0.1M257.1 332.7l1.3 0.0M282.3 348.8l0.7 -1.2M249.7 317.2l2.0 0.4M64.5 423.2l1.3 1.9M230.8 354.7l2.5 -1.5M85.9 437.4l2.7 0.3M252.7 345.1l2.1 -0.4M132.0 375.0l2.0 -0.6M213.5 355.2l1.2 -1.3M64.0 430.5l2.5 0.4M216.7 344.0l2.1 -1.1M74.8 420.6l1.6 -0.7M313.5 310.6l2.6 -1.3M126.0 384.5l1.4 0.3M320.6 317.4l0.8 -0.1M341.9 320.7l2.8 -1.2M282.4 329.5l2.6 0.6M75.0 424.0l2.3 1.3M180.4 320.0l2.1 -0.8M271.8 343.9l1.5 -0.2M141.4 363.9l2.2 -0.7M395.3 314.5l0.9 0.2M188.5 333.6l2.3 -0.2M205.4 325.4l1.7 -1.2M220.9 343.8l2.7 -0.8M217.6 344.9l2.8 0.3M220.5 348.1l0.9 -0.6M207.5 375.8l1.6 -0.1M188.2 333.4l2.3 0.8M252.2 337.8l2.6 1.2M160.7 354.4l2.3 -1.4M188.0 325.4l1.3 -1.2M285.1 329.8l1.0 -1.0M153.6 373.0l1.7 -2.0M294.1 336.9l2.4 -0.3M349.0 321.0l1.1 -1.6M274.3 333.3l2.8 -0.5M75.6 444.9l0.8 -0.0M95.9 451.0l1.7 -0.3M255.6 340.3l1.9 -0.8M159.9 343.3l0.9 -1.6M209.5 353.4l0.9 0.4M216.6 340.1l1.6 0.6M207.6 369.3l1.6 0.0M272.7 350.5l1.5 -0.1M258.1 320.5l1.2 -1.7M363.2 320.9l0.9 0.0M211.0 374.9l2.0 -0.9M219.8 324.7l1.8 -0.3M200.2 313.3l1.2 -0.2M290.0 328.6l1.5 -0.6M376.4 308.5l1.7 -0.4M185.7 329.1l2.7 -1.1M288.2 353.2l1.3 -0.5M201.6 335.2l2.2 -1.3M321.8 312.9l1.7 -0.4M252.9 303.7l1.1 -0.1M263.7 320.6l1.8 -1.5M234.9 358.6l1.6 -1.7M189.4 322.8l2.6 -0.6M65.3 438.0l1.4 0.8M333.2 324.7l2.7 -0.0M345.2 316.3l1.3 0.5M222.1 308.6l1.0 -0.2M251.3 316.8l2.2 -1.1M298.8 345.2l1.2 0.9M114.3 391.0l1.5 -0.0M274.1 345.8l2.3 -0.6M233.6 320.9l3.0 0.6M291.2 308.9l2.1 0.3M114.9 392.7l2.3 -0.7M72.8 455.9l2.9 0.6M259.4 357.2l0.8 -0.6M323.8 317.9l1.0 0.1M354.2 308.7l2.8 0.4M77.3 414.5l0.8 0.3M72.0 463.6l1.4 -0.1M241.9 334.9l1.4 0.2M163.7 326.7l1.6 -0.1M250.2 338.9l2.2 0.5M217.6 348.3l2.9 -0.2M238.4 337.4l0.6 0.5M238.1 351.3l2.1 -0.2M131.1 360.2l2.6 -0.9M308.1 312.3l2.7 1.5M103.8 426.5l2.1 -0.2M126.1 368.5l1.6 -1.0M270.4 353.8l2.4 -0.3M312.9 331.3l0.8 -0.4M139.5 347.4l1.6 -0.3M180.2 312.5l2.8 -1.0M92.4 451.2l1.5 1.2M329.2 321.2l1.7 -0.4M188.2 311.6l1.8 -2.2M220.3 343.6l1.2 -0.5M334.2 330.9l1.0 0.2M310.2 331.8l2.3 0.5M125.0 363.4l0.6 -0.6M262.5 334.2l2.7 -1.3M87.2 437.5l1.9 1.1M104.6 436.8l2.7 -0.0M287.9 317.9l1.0 -0.1M216.1 302.5l1.7 0.4M91.8 464.2l2.1 0.1M314.1 321.9l1.6 -0.2M115.4 388.9l2.4 -0.6M276.3 320.0l2.7 0.5M215.6 350.8l2.3 -0.3M267.9 303.4l0.9 -0.6M228.1 324.3l1.9 0.6M254.0 325.6l1.9 -1.2M224.2 312.6l1.3 -1.0M193.7 301.2l2.6 -0.4M220.7 330.1l0.9 -0.3M173.7 327.1l2.7 -0.9M215.5 354.0l1.5 -0.4M265.5 313.2l1.5 0.5M176.0 337.4l1.3 0.7M72.6 452.3l1.9 0.3M140.8 362.3l2.4 -1.4M283.5 344.4l1.5 -0.3M97.6 451.4l2.9 -0.5M247.1 339.3l2.9 -0.3M222.7 361.6l2.4 -0.3M352.1 315.0l1.6 -0.8M249.5 326.7l2.0 0.2M248.2 302.0l1.2 0.2M341.2 318.6l1.4 -0.9M241.6 365.1l1.9 0.8M295.0 322.3l1.8 -1.4M180.7 323.7l1.1 -0.2M173.7 333.9l1.4 -0.0" stroke="#8fb0fc" stroke-width="1.30"/><path d="M107.5 326.3l2.8 -0.4M343.7 301.4l2.0 0.5M55.8 377.2l1.5 -0.0M264.5 327.7l1.8 -0.7M104.6 365.8l2.7 -1.5M45.2 444.9l1.8 -0.1M67.5 416.0l2.7 0.8M267.5 332.9l1.4 -0.2M61.2 407.7l1.8 -0.7M97.7 416.2l0.9 -0.2M187.7 352.0l1.5 -0.5M312.8 290.8l1.2 0.5M83.4 418.7l1.7 0.3M48.9 399.5l2.7 -0.6M142.6 352.4l2.6 0.1M123.4 346.5l2.9 -0.8M398.2 337.9l1.8 -0.5M91.3 384.7l1.3 -0.1M406.7 315.2l1.2 -0.1M76.7 420.8l2.1 -0.3M107.7 364.6l2.0 -1.5M83.7 340.3l1.3 0.4M34.2 393.0l1.9 -0.1M176.2 329.5l1.0 -0.0M153.2 370.1l1.2 -0.6M35.2 434.4l0.5 1.6M149.9 337.5l2.4 -0.8M412.5 301.4l2.2 -1.1M72.2 416.6l3.0 -0.2M230.7 322.5l1.0 1.9M56.0 440.9l2.0 0.8M90.5 378.7l2.5 -0.2M53.2 398.8l1.0 -1.1M48.3 441.7l1.7 1.0M35.7 377.2l2.9 0.0M61.2 374.5l0.9 -1.9M163.5 350.0l2.4 0.4M79.5 349.6l3.1 -0.5M101.5 391.5l1.0 -1.3M111.8 364.1l1.2 -0.2M91.9 446.5l1.2 -0.5M218.9 377.3l1.4 -0.1M113.4 324.6l2.0 0.6M120.3 345.4l1.6 -0.0M84.3 364.9l2.8 -1.5M84.4 344.9l3.2 -0.5M83.7 396.5l1.7 -0.5M256.3 378.2l2.5 -1.2M174.7 330.3l2.0 -1.7M104.5 382.6l1.2 -2.7M340.3 287.0l1.1 -0.3M64.0 387.6l2.3 -1.4M258.9 294.8l1.4 -0.4M367.5 353.4l1.0 0.3M331.3 329.2l2.8 1.6M75.6 435.6l3.0 0.1M290.4 304.5l0.5 -0.6M68.4 347.3l0.9 -2.4M48.4 351.8l0.8 -0.4M229.1 298.5l2.4 0.6M272.1 306.5l1.2 -0.5M58.9 394.9l2.7 -0.4M48.9 426.7l2.7 0.4M84.7 368.5l1.3 0.1M110.1 386.1l1.1 -0.5M65.3 395.0l0.8 -0.3M279.1 295.7l1.9 -0.7M36.9 415.8l2.4 1.2M246.8 334.1l2.4 -1.5M95.3 370.3l2.5 1.1M203.6 362.6l1.9 0.3M328.2 337.2l2.3 0.4M90.9 347.8l1.1 0.3M82.2 426.5l1.0 0.3M352.3 323.0l0.8 -1.0M300.6 312.0l1.8 -1.9M151.8 317.0l1.0 0.0M47.4 402.2l2.0 -1.0M107.5 397.2l2.0 -2.1M325.6 293.3l2.7 -0.3M147.0 367.1l1.3 -0.6M424.6 287.8l1.3 -0.3M321.3 346.7l1.5 -1.3M242.7 314.5l1.7 0.1M118.3 377.3l2.1 1.0M42.9 394.1l1.6 -1.5M41.4 368.4l2.2 0.6M87.3 416.2l1.3 0.4M7.0 417.8l1.8 2.0M128.6 347.9l2.0 -0.4M236.4 344.3l2.6 0.1M67.8 408.6l2.1 0.3M33.4 417.9l2.3 0.5M131.6 350.5l1.6 -0.9M122.8 372.0l2.1 0.2M58.9 392.6l1.3 -0.1M66.8 400.3l1.5 -2.2M331.9 295.7l2.7 -0.3M110.9 338.8l2.2 -0.1M86.8 446.3l3.1 -0.5M96.1 372.6l1.6 -0.4M304.3 303.0l2.0 -1.0M60.3 432.8l1.6 0.7M94.9 393.1l2.9 0.1M76.8 373.3l1.0 0.5M318.4 305.8l2.0 -2.1M218.3 359.9l2.7 0.4M227.0 315.5l1.4 0.2M114.8 369.6l2.7 -0.6M92.3 361.4l0.7 -0.6M269.4 364.8l1.1 -1.8M46.5 436.5l2.0 -0.4M142.3 342.5l2.0 -1.3M174.1 338.4l1.5 -1.5M207.4 314.4l0.8 -0.1M101.7 417.3l1.4 0.6M362.9 338.3l1.9 0.0M291.7 326.1l2.7 -1.4M208.9 303.0l2.8 0.1M276.8 295.2l1.1 1.1M119.9 355.9l1.9 -0.9M77.0 458.6l0.2 1.5M65.8 385.0l2.7 -1.6M296.6 323.0l1.6 -0.9M174.2 354.1l1.4 0.8M330.7 333.5l1.5 -1.2M13.8 412.3l1.9 0.2M102.0 372.8l1.8 -0.3M282.9 360.4l1.5 0.5M226.1 308.4l0.9 -0.5M107.9 370.1l1.3 -1.1M89.1 340.5l2.2 -0.5M342.7 304.6l1.4 0.2M93.4 343.6l1.5 -0.3M288.1 354.4l1.7 -0.9M245.3 314.9l1.4 -0.6M71.0 463.8l1.6 -0.4M82.1 379.3l1.9 -0.4M164.6 358.5l2.3 -0.9M323.3 301.2l2.5 1.3M219.9 368.0l2.3 -1.4M164.0 365.4l1.0 -0.5M375.2 297.5l1.4 0.2M361.7 351.6l2.0 -0.1M52.0 407.4l2.2 -2.0M72.9 384.8l3.1 -0.6M362.7 317.6l1.2 0.7M46.2 380.0l1.8 -0.4M327.9 334.7l1.9 0.5M49.7 349.4l2.4 -1.1M22.8 405.7l2.8 -0.8M128.3 351.4l0.7 1.0M341.8 341.4l0.8 -0.4M131.8 323.3l3.0 0.1M54.1 386.9l2.3 1.1M255.6 312.0l2.6 -0.2M69.6 437.3l0.8 0.6M199.8 307.0l2.9 0.5M68.1 358.1l1.7 0.7M106.5 390.8l2.4 -0.6M290.7 342.4l1.4 0.5M93.1 352.9l2.3 -0.7M40.0 443.5l1.5 0.8M33.2 439.7l3.1 0.7M291.8 347.2l2.5 -1.8M99.4 378.6l2.1 0.0M369.8 293.7l1.7 -0.8M62.7 414.0l2.2 -0.1M209.0 357.6l3.0 -1.2M259.4 358.1l1.0 0.5M223.9 309.4l3.0 -0.1M202.5 361.3l3.0 0.4M294.0 289.7l1.1 -0.4M72.0 445.7l0.9 0.3M155.2 332.1l1.6 -0.5M328.9 319.8l2.1 -1.0M105.5 365.1l2.2 0.3M337.9 345.0l2.3 -0.9M72.8 376.7l2.5 0.1M45.4 394.2l2.4 -1.4M77.7 389.0l3.1 -0.3M365.5 341.9l1.5 0.2M82.8 413.8l2.4 -0.5M229.2 353.2l2.2 -0.7M147.3 335.8l3.0 -1.0M259.8 335.6l1.0 -0.3M234.2 298.7l2.3 -0.1M104.1 377.4l1.7 0.9M60.0 426.9l2.2 -0.1M275.1 340.0l3.1 0.6M351.0 284.3l1.5 1.4M64.2 431.9l0.7 0.6M286.0 316.7l2.8 0.0M266.6 353.0l1.4 0.1M359.5 338.5l1.4 -0.3M189.3 366.5l0.9 -0.3M92.0 332.8l2.2 0.3M376.2 322.5l2.5 1.0M129.8 361.9l3.1 -0.3M276.9 346.0l3.1 0.2M93.2 382.1l1.6 -0.0M189.4 353.9l2.1 -0.5M97.4 393.2l2.0 0.1M36.2 442.8l2.6 0.9M92.2 384.3l2.3 0.3M107.1 440.8l1.0 -1.0M58.7 421.3l1.5 -0.3M334.0 280.9l1.4 0.2M205.3 306.8l2.4 0.2M40.7 423.0l1.9 0.3M58.7 402.2l3.0 -0.2M246.2 299.9l2.0 -1.1M113.5 344.6l1.2 -0.2M99.3 375.6l1.8 -0.7M157.6 308.2l2.3 1.9M50.8 439.1l1.1 -0.2M114.1 377.7l1.6 -1.3M53.1 388.3l1.6 0.5M200.0 340.7l2.3 0.4M259.4 363.6l1.1 -1.4M120.9 326.7l1.3 -1.2M138.1 389.3l2.0 -0.7M235.7 297.4l1.4 -0.7M79.6 359.3l1.2 -0.4M136.6 334.2l2.2 -1.7M94.8 411.0l3.1 -0.5M80.3 363.2l2.8 -0.8M327.6 301.4l3.2 0.0M65.4 370.9l1.4 -0.5M187.8 346.2l1.9 -0.5M357.5 325.7l1.3 0.2M217.1 295.7l1.8 0.3M47.1 451.6l1.8 -1.0M317.7 330.5l1.4 0.7M317.3 349.9l2.2 -1.1M46.5 444.5l2.8 -0.5M273.1 287.6l1.2 0.2M138.6 375.8l0.5 -1.0M103.5 388.0l2.8 -0.7M241.9 371.0l2.5 -0.4M243.0 328.2l2.2 -0.7M261.7 351.0l1.7 -0.7M244.2 289.7l2.2 -0.7M67.9 395.9l2.3 1.9M81.7 351.9l2.6 -0.0M263.0 286.7l2.9 -0.9M132.6 335.9l1.8 0.6M71.5 464.4l0.9 0.1M66.3 433.4l2.8 -0.9M121.5 341.9l2.1 -0.8M174.8 331.3l1.3 -0.3M86.5 342.5l2.4 -1.6M130.5 378.0l1.9 -0.8M37.5 427.3l1.2 0.0M75.6 341.4l0.8 -0.9M81.6 403.4l1.1 -1.0M33.5 413.6l1.9 0.0M305.4 344.7l1.3 0.7M73.4 351.5l1.4 -0.4M224.1 359.9l1.7 0.3M121.5 326.0l2.0 -1.8M348.4 301.6l2.5 -0.8M95.1 408.4l2.4 0.6M100.7 358.0l2.0 -1.7M80.4 337.9l2.3 -1.8M104.8 385.7l1.4 -1.4M35.3 424.3l2.2 0.3M151.2 382.9l2.2 0.0M150.1 328.9l1.9 -0.4M254.1 330.3l1.1 0.2M188.3 361.6l1.7 -1.8M28.0 358.1l1.5 -0.3M101.3 369.1l2.6 0.6M197.9 335.0l0.7 0.4M318.9 308.1l2.0 0.6M174.6 331.6l1.7 0.3M101.4 336.3l0.9 -0.2M185.2 313.5l1.5 0.2M190.0 339.1l2.0 -0.0M72.7 401.7l2.0 0.5M273.3 367.4l0.9 -0.5M346.6 276.2l2.0 0.1M92.2 408.7l1.4 0.3M154.3 312.8l1.6 0.3M287.4 305.9l2.6 -0.1M97.9 372.9l1.3 -0.4M38.8 408.6l2.3 0.3M23.1 380.2l1.5 -1.0M130.3 359.2l2.5 -0.2M48.7 439.3l1.7 1.2M364.3 293.9l2.7 0.1M116.3 371.4l2.1 0.0M370.0 311.9l2.0 -0.5M60.5 433.2l2.1 -0.5M139.6 358.8l1.2 1.2M331.4 345.4l2.4 0.7M82.4 389.2l1.8 -0.9M253.6 295.6l3.1 0.8M129.0 339.2l2.1 -0.3M84.5 390.8l1.4 -0.6M60.3 385.6l1.2 -0.0M18.4 425.9l1.4 0.8M85.1 394.8l2.2 1.2M339.9 294.7l2.8 0.3M187.3 371.4l2.8 -0.2M82.3 401.5l2.1 -1.0M57.8 386.1l1.8 -1.9M219.4 308.3l2.0 0.2M297.3 366.0l2.4 -1.7M40.8 425.8l1.0 0.4M219.5 372.4l2.8 -0.8M185.8 324.0l1.2 0.2M285.7 317.8l1.5 -0.3M226.2 297.8l2.8 -0.5M79.7 398.2l1.9 -0.8M335.4 351.0l1.7 0.3M74.3 431.9l0.8 -0.2M53.6 441.9l1.8 -0.1M82.7 343.1l2.0 -1.7M132.1 324.9l2.0 -2.4M56.3 378.1l2.7 -0.2M116.1 385.4l2.2 -0.1M101.2 397.1l2.8 -1.3M105.5 365.1l1.5 -1.1M78.0 356.6l2.7 -1.0M156.4 356.4l2.6 0.4M71.3 370.2l2.1 -2.3M82.1 428.8l1.6 -0.9M176.0 338.1l2.0 -0.4M237.8 303.4l1.0 -0.2M77.3 411.4l1.7 1.1M55.8 399.2l1.5 0.3M123.9 333.7l1.1 -0.8M87.5 369.5l1.4 -0.3M336.9 278.4l2.1 -0.3M96.1 380.3l1.7 -0.1M92.2 374.4l2.7 0.3M339.5 310.9l1.9 -2.5M93.9 366.5l2.8 1.0M239.8 287.1l0.3 -2.0M64.4 351.5l2.9 -1.2M266.1 308.1l1.2 0.4M322.7 322.5l1.0 -0.8M78.2 376.4l1.8 -0.6M266.9 290.6l2.8 -0.4M317.4 308.2l3.0 -0.1M229.6 308.6l2.4 -0.1M337.9 310.1l1.9 1.4M238.4 308.5l1.6 -0.8M162.0 356.8l2.7 -1.5M215.5 348.2l2.4 -0.1M130.7 353.4l2.8 -0.4M262.3 281.0l1.1 -0.2M296.4 291.2l2.3 1.2M334.7 279.7l1.3 -0.1M69.3 408.9l1.4 -0.5M185.1 329.5l1.3 -0.4M294.9 299.6l2.0 0.8M76.8 338.7l2.7 -0.6M77.7 340.6l1.4 0.4M52.1 381.6l1.4 1.7M338.2 296.3l1.4 -1.0M347.0 347.1l1.5 0.2M74.0 385.3l2.0 -0.4M302.0 279.3l2.1 -0.9M43.1 392.5l0.9 -2.7M203.9 312.3l1.2 -0.2M148.5 358.4l3.0 -0.5M131.4 347.4l0.7 -1.0M260.1 295.4l2.9 0.4M247.7 298.6l1.0 -0.2M71.7 394.9l2.6 -0.5M338.9 333.2l2.2 -0.3M295.0 376.3l1.6 -0.1M301.5 299.9l1.0 -0.1M62.4 417.3l0.7 -0.6M191.2 320.9l1.1 -0.1M126.1 380.4l2.4 -1.7M59.1 379.0l1.4 -0.6M159.6 321.3l2.1 -0.0M129.5 316.0l2.9 -1.1M341.8 301.5l1.4 -0.4M42.5 381.7l1.9 -1.8M154.5 364.5l2.4 0.8M40.8 408.4l1.8 -0.0M55.8 409.9l1.4 -0.9M182.8 340.1l0.9 -0.3M84.1 385.4l2.7 -0.6M218.5 350.6l0.9 -0.7M246.9 326.5l1.8 -0.9M122.1 373.2l2.8 -0.4M160.0 306.6l1.6 0.8M84.0 399.0l1.1 0.1M189.9 316.4l0.9 -0.2M97.0 364.4l1.1 -0.5M207.6 322.3l3.1 0.6M141.5 360.1l2.2 -1.4M166.9 319.0l2.6 0.1M110.0 377.6l1.1 -2.8M90.0 407.8l1.1 -0.3M45.9 370.3l2.7 0.4M135.4 324.5l1.0 0.2M83.4 370.9l2.2 -0.3M11.4 394.1l0.8 0.6M332.8 365.6l1.1 0.1M116.9 328.0l1.2 0.4M141.8 353.4l1.7 -0.1M246.2 375.9l0.9 -0.1M211.6 361.7l2.0 -0.4M280.5 291.1l2.4 -0.8M297.5 342.2l0.8 -1.4M76.3 368.5l2.2 -1.8M78.9 352.7l1.4 -0.7M154.0 334.6l2.7 -1.3M403.0 294.1l1.3 -0.3M290.0 298.0l2.2 0.0M156.9 364.6l3.0 -1.0M207.2 369.6l2.1 -1.3M30.0 437.8l0.9 0.4M300.2 341.5l1.9 -2.3M123.6 358.0l1.8 -0.2M28.5 403.6l1.0 -0.1M381.2 317.5l0.9 0.7M358.3 317.0l1.5 -0.3M337.6 333.0l2.7 -0.4M122.3 338.7l1.2 -1.3M99.8 414.6l0.8 -0.0M210.9 304.4l2.3 -2.1M366.5 357.1l0.2 -1.3M120.4 321.5l2.8 -1.3M323.0 326.3l1.5 0.1M362.1 335.7l1.7 -0.1M248.5 299.8l2.7 0.2M45.2 396.5l2.9 -1.0M111.8 322.3l1.7 0.5M141.3 337.0l1.8 1.1M123.5 369.8l2.0 -0.3M195.3 332.1l0.5 -1.7M122.4 392.6l2.3 0.3M332.7 282.3l0.9 -0.5M71.1 381.7l3.0 -0.2M209.2 334.6l2.5 1.3M60.1 355.5l0.7 -0.5M216.4 348.7l2.0 -0.9M384.5 292.5l2.2 -1.0M83.9 428.2l2.4 -0.0M70.3 361.5l1.1 -2.5M139.1 370.3l1.8 0.2M71.9 391.3l3.0 -0.4M73.2 353.9l0.7 -0.4M15.5 424.4l2.9 1.3M308.9 342.5l2.5 -0.2M97.6 441.9l1.6 0.6M316.2 314.3l1.0 -2.7M78.1 385.6l3.1 0.2M33.5 370.8l1.9 0.2M91.9 393.1l1.2 1.5M193.5 318.6l1.9 -1.0M64.1 371.9l1.2 -0.2M318.0 287.2l2.0 0.2M391.9 302.9l3.0 -1.0M57.6 427.3l0.9 -0.0M102.2 392.6l2.4 -1.2M34.8 394.5l2.2 1.0M88.4 418.1l1.0 0.9M42.2 362.6l1.0 0.7M68.8 380.8l2.0 1.9M334.7 346.8l0.9 -0.4M294.1 312.7l0.9 -0.0M282.8 299.6l1.0 -0.3M57.8 417.3l1.4 -0.1M168.8 333.4l2.2 -1.2M148.4 323.7l1.6 0.7M107.8 392.8l1.1 0.7M58.6 420.1l2.4 1.3M117.6 378.8l1.7 -1.2M43.2 375.6l1.5 -1.4M201.7 300.2l1.5 0.2M100.5 325.2l2.2 -0.4M98.2 344.7l0.9 -2.1M184.9 298.4l2.3 -1.0M109.2 445.8l2.0 1.1M39.4 402.6l1.7 -1.2M287.7 326.8l1.9 -2.0M387.1 324.1l2.0 -0.5M68.9 338.8l1.4 -1.0M257.5 373.6l2.6 1.5M94.7 371.9l2.9 -0.2M75.8 350.8l1.2 -1.1M363.0 358.9l1.7 0.1M83.6 470.0l2.0 0.3M82.1 354.5l2.3 0.7M29.5 363.5l3.0 1.0M92.9 407.6l1.1 -0.9M89.5 405.7l1.5 0.0M151.2 322.1l2.9 -0.4M63.8 374.5l0.9 -0.4M197.2 354.6l3.0 -0.2M82.5 351.5l2.2 -1.4M216.6 301.3l2.2 -0.5M197.4 357.8l1.4 -0.9M78.8 423.4l1.9 1.3M256.8 377.1l2.9 -1.1M113.7 384.2l1.4 2.0M205.6 312.9l2.1 0.2M101.3 412.0l2.7 -1.3M56.5 442.3l1.3 -0.3M319.6 338.3l2.9 0.5M90.5 402.5l2.4 0.3M102.8 328.0l2.8 -0.2M173.7 336.7l0.8 0.7M90.4 373.9l1.0 -0.3M178.2 346.7l2.3 -1.3M194.7 328.5l1.8 -0.1M213.9 342.5l1.3 -0.5M114.3 364.3l1.4 -0.2M46.5 369.6l2.5 0.4M78.8 391.9l1.9 1.1M57.0 446.6l2.6 -0.1M149.8 338.7l1.4 0.2M362.3 307.2l1.5 0.1M113.9 325.7l2.5 -0.9M83.0 439.3l0.7 0.5M42.8 431.2l2.6 0.3M106.3 344.4l2.2 -0.2M58.4 384.2l1.3 -0.3M223.2 380.1l2.4 -0.1M297.1 381.9l2.9 -1.0M71.7 404.7l1.5 -1.0M106.2 339.0l1.8 -0.3M48.8 403.7l1.8 -0.1M60.7 423.8l0.6 0.6M86.1 438.6l2.1 0.1M239.6 375.3l0.7 -0.6M121.5 335.0l2.5 0.5M372.6 298.7l2.2 0.7M87.6 383.2l2.0 0.0M116.5 394.3l2.2 -0.1M106.8 393.6l1.3 -0.1M228.5 370.5l2.8 -0.2M207.5 345.7l1.5 0.0M154.3 339.8l2.2 -1.1M219.6 291.5l1.8 -1.4M295.9 376.5l1.2 0.1M161.6 358.5l2.3 -1.1M37.9 382.3l0.9 0.3M351.5 305.9l1.7 -0.3M279.3 280.9l2.7 -0.4M319.8 328.1l1.3 -0.1M107.0 369.0l2.2 0.4M198.8 368.6l1.8 -0.4M333.4 358.1l1.3 -0.2M83.8 360.4l1.8 -0.6M89.1 421.1l1.4 -0.5M373.4 323.3l2.1 -1.3M79.8 447.8l1.9 1.9M75.9 379.4l0.8 -0.3M227.9 319.7l0.7 -0.6M301.8 311.9l3.0 0.1M66.5 409.9l3.1 -0.3M408.2 297.7l2.3 -1.9M40.9 416.5l2.2 0.5M154.0 321.4l2.9 0.0M227.6 375.2l2.5 1.1M81.1 369.6l1.8 0.3M226.5 363.7l1.0 0.1M107.1 380.0l1.4 0.5M77.8 405.0l2.8 -0.6M285.5 322.4l1.9 -0.4M42.6 420.1l2.7 0.4M110.1 371.6l3.0 0.9M291.7 304.6l2.4 0.1M291.6 286.0l1.6 -0.1M39.2 396.5l2.7 1.4M354.8 294.9l1.2 -0.1M72.4 388.4l1.7 -0.2M102.2 348.0l1.3 -0.0M134.9 368.3l2.3 0.1M330.3 304.5l1.8 -0.7M134.6 316.3l2.6 0.3M144.2 371.7l0.7 -0.5M316.3 302.9l1.7 -0.1M95.8 333.3l1.8 -2.4M296.1 373.3l1.8 -1.5M171.3 318.5l0.8 -0.0M209.4 339.7l1.9 -0.3M136.9 343.0l0.4 -1.0M44.2 385.3l1.2 0.6M65.7 405.9l1.6 0.0M228.2 363.1l1.6 -0.8M259.1 312.5l1.2 0.1M79.3 349.1l1.9 -0.3M67.1 443.2l2.9 0.5M290.9 346.3l1.3 -0.6M55.9 434.9l1.5 0.8M94.3 422.0l0.9 -0.8M27.9 424.4l2.3 1.0M148.2 331.6l2.3 1.0M273.1 291.9l1.7 0.3M251.2 307.1l1.3 -0.2M202.3 323.7l1.5 -0.4M172.7 335.2l1.8 -0.7M293.8 289.9l1.5 0.0M117.5 328.1l2.8 -0.5M363.5 334.9l2.3 0.5M50.2 355.1l2.2 -0.6M74.1 346.8l2.8 -1.2M86.5 331.3l1.1 0.3M107.0 391.4l1.4 0.2M303.1 299.3l2.4 -0.2M103.0 395.2l1.5 -1.1M348.5 297.5l1.6 -0.1M95.9 440.4l2.2 1.7M295.0 310.8l2.2 -1.4M83.2 386.5l2.1 0.4M31.1 408.1l2.5 -0.7M57.7 409.7l1.7 -0.3M19.7 430.2l2.6 -0.5M81.1 379.4l0.9 0.1M250.0 354.1l2.2 -1.4M354.1 306.5l2.5 -1.4M74.6 392.4l2.0 -0.7M251.0 354.1l1.2 -0.7M63.2 434.6l2.7 1.2M159.3 329.1l1.5 0.2M60.2 446.6l2.6 -0.8M121.4 334.2l2.5 0.4M361.5 339.6l0.9 0.0M71.4 394.2l0.8 -0.1M92.4 449.5l1.1 0.8M54.1 432.4l0.8 -0.3M100.4 379.8l2.9 -0.6M120.1 331.6l2.0 -0.7M96.9 356.8l2.4 0.1M111.9 340.7l2.7 -0.5M136.2 355.3l0.7 -1.0M325.7 290.1l3.1 0.4M185.3 317.5l1.1 0.8M49.4 378.8l1.2 0.1M85.1 403.9l1.6 -2.0M51.6 369.7l1.4 0.3M64.5 466.5l2.8 -0.1M81.9 361.0l3.1 0.0M107.5 351.3l1.0 1.4M220.0 303.3l0.7 -0.5M49.3 377.8l1.4 -0.4M344.8 293.7l1.1 -0.8M366.0 307.1l2.3 -1.2M81.8 346.4l1.5 -1.5M55.4 380.6l1.5 0.3M354.6 297.9l2.7 -0.2M331.4 367.9l1.2 -0.7M79.0 384.4l1.2 -0.1M306.8 304.0l2.7 1.0M179.5 342.5l1.7 0.3M47.4 397.2l2.5 1.0M89.8 357.5l0.9 -0.2M405.9 314.7l1.7 -0.2M268.6 361.6l1.7 -0.9M178.8 362.9l2.1 1.5M220.8 366.0l2.4 -0.5M327.5 308.3l2.9 0.1M113.3 346.3l1.9 0.1M189.6 346.4l0.9 -0.2M227.1 293.1l2.8 -0.4M43.7 382.8l1.2 -0.1M83.9 430.3l1.0 -0.3M93.3 434.5l2.4 -0.5M71.9 442.6l2.2 1.2M344.0 334.9l1.2 0.5M207.7 311.1l1.0 -0.7M369.3 324.6l2.1 -0.4M93.9 404.7l1.0 0.4M117.3 333.0l1.3 -0.1M339.9 342.8l2.0 1.2M29.2 383.6l0.8 -0.2M205.3 354.9l1.4 -0.8M254.7 289.7l1.7 1.8M181.2 366.1l2.1 1.2M249.0 287.8l1.1 0.6M377.9 328.0l2.7 -0.7M106.6 359.8l0.7 -0.5M313.5 331.5l1.2 -0.4M96.8 388.4l2.7 0.3M41.3 384.1l1.2 -0.6M96.7 442.3l3.0 0.0M266.2 296.6l1.4 -0.6M49.0 413.8l2.6 0.2M139.8 360.3l2.5 -1.4M195.2 333.0l2.8 0.7M296.0 290.7l0.8 -0.3M92.5 351.2l1.6 -0.3M121.1 330.4l1.4 1.1M177.5 323.4l1.3 -1.3M96.2 357.1l2.5 -1.8M269.4 347.5l1.6 -0.3M338.8 303.5l2.5 1.6M277.2 281.8l1.1 -0.4M139.0 330.8l2.7 -1.1M86.6 377.5l1.7 -0.7M325.4 304.8l0.8 -0.0M114.3 389.8l1.5 -0.0M159.5 365.7l1.6 0.5M89.4 373.2l1.4 -0.5M80.5 415.7l2.1 0.8M41.9 399.6l0.4 0.7M244.7 368.2l2.6 -0.7M81.4 407.4l1.3 -0.6M320.6 334.1l1.1 -0.2M172.7 354.4l1.5 -0.8M298.0 294.8l1.1 -0.9M213.9 360.8l2.5 -1.8M191.3 335.1l1.0 -0.2M149.2 348.3l1.6 0.7M103.8 326.7l1.9 -0.4M293.8 322.2l0.9 -1.2M27.6 369.5l1.4 -0.8M65.0 451.9l1.9 1.8M340.0 284.9l2.6 1.0M69.6 386.0l2.2 0.6M318.8 275.5l1.9 0.5M80.0 364.1l2.8 -1.0M21.6 419.7l1.8 0.5M70.9 391.4l1.9 2.1M96.6 410.6l1.8 -0.6M100.8 443.4l1.4 0.1M175.7 324.1l2.6 -0.4M91.8 356.9l2.1 -0.8M75.8 406.2l1.1 -0.0M131.0 312.2l3.1 -0.7M116.2 365.4l2.7 -1.1M292.0 306.8l1.0 -0.0M324.0 300.1l2.4 -0.1M53.1 405.2l0.5 -1.1M124.8 367.1l2.2 0.4M296.5 350.8l1.6 -0.8M36.1 431.9l2.2 1.3M50.4 406.0l1.7 -0.4M271.4 350.1l2.1 0.2M226.9 364.8l1.8 -1.3M110.8 381.8l2.0 0.3M130.6 346.1l3.0 -1.1M55.2 359.2l2.5 -1.8M75.6 411.3l2.1 0.3M29.0 430.9l1.1 1.4M59.9 363.2l1.0 0.4M57.3 371.4l2.2 0.5M39.0 405.8l2.3 -1.2M28.6 380.8l1.9 -0.2M85.2 413.8l1.7 0.1M77.2 353.6l1.1 0.1M76.3 371.3l2.3 0.2M33.6 361.5l2.8 -1.0M90.3 449.7l1.8 0.7M366.5 298.4l1.5 0.5M34.3 399.8l2.2 -1.1M253.6 296.4l2.0 -0.0M308.1 304.1l2.1 -0.4M420.4 307.9l1.1 -0.4M309.6 302.9l2.6 0.6M169.1 320.5l1.6 -0.3M107.9 417.5l3.1 -0.1M93.5 389.7l0.8 -0.6M278.8 329.0l1.3 -0.5M342.3 348.8l1.5 -1.9M79.8 359.6l1.1 -0.3M261.2 317.8l2.7 -0.2M134.0 378.6l0.8 -0.1M382.6 307.7l1.1 -0.3M243.4 369.6l3.0 -0.7M77.9 431.6l2.0 1.1M47.4 423.2l1.7 1.5M177.9 337.0l2.3 -1.2M51.6 433.5l1.2 -0.6M306.0 300.7l1.8 -1.0M304.0 325.4l2.6 -0.1M268.2 328.0l1.3 -0.5M129.9 364.9l1.5 -0.7M110.3 385.5l1.7 -0.6M106.7 429.4l1.8 1.8M227.7 297.6l1.0 -0.2M251.8 342.2l2.1 -1.0M102.1 356.0l3.2 -0.3M336.7 300.1l1.9 0.2M72.2 393.8l0.8 0.4M66.1 436.4l2.8 1.5M71.6 362.2l2.7 -1.1M332.1 295.7l1.4 0.2M64.3 397.9l1.2 -0.9M96.3 363.2l2.5 -1.1M22.7 416.1l2.0 -0.7M164.1 327.1l2.1 -0.9M89.9 387.4l2.0 -0.6M86.3 443.7l2.5 -0.0M237.2 348.7l1.9 0.5M238.8 283.2l3.1 -0.9M62.4 436.1l1.4 0.5M34.6 372.4l1.2 0.4M152.8 362.4l1.7 -0.2M116.0 361.7l1.8 -0.5M286.9 369.5l2.5 -0.3M64.7 410.5l1.5 -0.4M76.7 440.1l2.2 1.0M93.9 390.4l1.4 -2.1M45.0 437.4l2.4 0.6M93.3 403.4l1.8 -1.3M87.9 423.7l0.9 0.3M199.8 362.0l2.2 2.2M222.1 294.6l0.7 -2.2M212.5 361.6l1.8 1.3M334.0 303.8l1.6 -0.1M99.8 360.0l1.1 -0.4M294.7 307.2l2.1 -0.4M98.6 350.2l2.6 0.1M45.2 432.1l1.4 0.6M41.1 433.8l2.7 0.1M43.1 404.8l1.0 0.1M53.6 445.2l1.1 0.3M380.8 309.6l2.3 -0.6M114.3 336.6l1.6 -0.6M97.7 400.3l2.9 0.5M74.3 396.2l1.0 -0.5M46.0 376.6l2.1 0.5M153.3 345.5l2.6 1.0M97.7 433.9l2.6 0.2M29.4 422.0l3.1 0.1M170.9 333.1l1.4 0.4M257.0 371.6l1.2 0.0M82.6 361.0l1.3 -0.4M178.0 365.8l1.9 -2.2M89.4 430.9l1.7 0.2M249.8 305.9l1.8 -1.6M72.6 407.4l1.6 1.6M236.5 359.3l1.1 -0.4M165.6 338.1l1.8 -0.3M260.1 353.1l1.3 0.1M82.8 421.7l2.5 -0.2M16.6 406.1l2.0 0.3M205.2 362.3l0.9 0.0M260.6 342.0l2.4 0.1M31.4 383.2l1.7 0.3M277.3 301.0l1.2 0.4M200.1 323.3l2.5 0.4M100.4 398.5l1.8 -1.5M315.2 303.8l2.9 1.2M353.4 323.1l1.8 -0.9M27.9 425.2l2.4 0.6M392.0 348.6l1.2 0.3M89.5 384.7l0.9 -1.0M192.1 319.4l2.9 -0.9M380.7 321.7l1.1 -0.6M313.6 294.5l2.3 1.0M158.0 326.1l1.7 -0.7M106.6 360.8l2.5 0.2M79.3 443.6l2.2 0.3M55.6 372.0l2.4 -0.0M79.0 402.2l1.4 1.4M36.2 420.9l2.1 0.0M80.9 369.8l0.9 -0.1M73.4 371.1l2.1 -1.7M170.9 314.5l1.5 -0.1M249.0 290.5l1.7 -0.3M153.4 338.6l2.8 -0.6M289.6 307.8l2.0 0.7M79.7 430.3l2.1 1.1M67.0 374.7l1.2 -1.0M57.2 415.7l1.5 -0.5M69.8 350.6l1.3 0.6M123.6 374.5l1.4 0.4M259.3 276.4l1.0 0.1M267.0 370.7l1.3 -0.6M128.5 358.2l2.7 -0.5M253.1 344.7l2.8 -0.9M224.8 327.5l2.6 -1.5M150.5 364.6l0.9 -0.8M105.3 344.3l1.1 -0.3M84.3 380.3l1.3 -0.2M220.7 314.8l1.8 -0.6M345.8 309.1l1.6 -0.9M184.7 343.0l2.0 -2.3M240.8 349.2l2.9 0.7M209.1 345.9l1.1 -0.1M32.9 381.2l1.8 0.0M54.8 406.1l2.0 -0.3M81.1 349.3l1.8 -0.1M131.9 373.0l2.4 -1.3M110.1 350.7l2.5 1.3M242.8 281.8l2.5 -0.9M169.5 308.6l0.6 -1.4M327.0 346.8l1.1 0.5M343.9 299.0l1.2 -0.5M278.3 348.8l1.5 -0.3M98.1 374.5l3.1 -0.7M92.7 373.1l1.0 -0.2M159.9 315.9l1.7 1.5M381.3 317.0l1.2 0.2M284.8 318.8l1.0 -0.2M243.6 303.3l2.5 -0.3M263.1 361.7l1.9 0.2M137.8 373.4l1.3 -0.4M108.8 322.0l1.5 0.0M39.2 427.2l2.7 1.4M303.5 315.6l0.9 -0.1M141.5 373.0l1.8 -0.3M105.5 357.0l2.1 0.6M76.0 358.9l2.5 -0.6M89.7 405.1l1.4 0.1M136.9 314.7l3.2 -0.3M259.1 294.6l1.5 0.5M306.5 365.3l2.6 -1.3M199.0 299.3l1.4 0.3M76.5 396.8l2.3 -0.1M84.5 377.2l2.5 0.8M313.7 296.3l1.2 -0.5M324.7 326.6l2.8 1.1M89.4 432.4l2.1 0.8M334.2 367.9l1.3 0.3M55.9 374.0l1.7 -1.5M250.9 367.1l1.5 0.7M80.7 441.3l0.9 -0.4M194.8 358.6l1.7 -1.0M348.4 311.2l2.1 0.9M63.8 360.6l0.9 1.0M63.6 431.1l0.7 0.5M72.4 448.6l2.9 -0.6M46.5 396.2l1.9 0.6M78.1 415.0l1.8 0.1M281.2 322.3l0.9 -0.5M233.7 366.0l2.2 -1.7M99.6 407.6l1.5 0.2M291.3 303.0l1.2 0.2M154.7 319.8l1.7 0.1M102.9 387.8l2.0 0.5M227.5 305.2l3.0 -0.2M197.5 352.3l1.5 -0.1M129.4 345.7l1.2 -0.7M121.8 374.2l1.8 -0.3M84.6 454.1l1.6 0.2M88.4 397.5l1.8 0.4M312.9 303.5l1.0 -0.1M112.3 388.0l2.9 0.2M123.2 335.8l2.5 -0.5M84.1 338.6l2.6 -0.4M127.8 388.5l3.0 -0.3M182.1 311.2l1.5 -0.8M280.9 279.4l2.7 -0.8M334.4 285.2l1.4 -0.3M95.9 362.8l1.6 -0.2M81.7 454.1l1.2 0.8M80.7 395.3l1.9 -0.2M71.2 384.9l1.9 -1.0M163.6 367.6l1.9 -0.2M299.1 298.7l1.0 -0.6M110.7 362.2l2.2 0.2M92.1 443.1l1.6 0.2M191.4 324.3l3.0 -0.9M149.1 358.8l0.8 0.3M239.3 375.8l2.6 0.3M129.3 323.9l2.0 -0.3M332.0 317.0l1.8 0.5M116.6 339.2l1.1 -0.3M29.1 426.4l2.6 1.0M76.2 408.2l0.8 -0.2M96.8 396.7l2.7 1.8M191.7 360.6l1.9 -0.1M298.5 285.8l1.0 -0.5M238.9 321.0l0.8 -0.1M145.3 339.1l0.9 -0.5M91.3 374.0l2.1 -0.5M180.4 337.7l1.5 0.8M50.5 389.8l2.4 -1.1M371.7 294.8l2.0 -1.7M48.5 390.0l1.8 0.4M115.6 361.4l2.1 0.4M199.6 352.9l0.9 0.0M211.2 301.2l1.6 -0.1M115.7 365.8l1.7 0.5M19.6 406.4l1.8 1.5M69.6 421.2l0.9 0.2M271.5 350.2l1.4 -0.6M372.3 314.9l1.1 -0.4M24.2 433.2l2.1 2.1M58.2 400.2l1.9 -0.1M371.7 298.0l1.6 0.8M72.7 361.5l2.2 -0.5M101.4 398.8l1.6 -1.8M277.5 358.4l0.8 -0.3M178.8 342.1l1.4 -0.2M30.7 441.1l1.3 0.3M334.2 307.5l1.0 -0.0M189.0 344.8l0.9 0.4M371.3 332.7l1.6 0.8M95.5 370.8l2.9 -0.7M273.9 354.6l1.6 -0.5M161.6 342.5l1.4 -0.8M287.2 295.9l0.9 -0.1M32.3 410.9l2.3 -1.9M61.0 347.1l1.4 0.2M246.6 317.5l3.1 -0.6M211.9 369.9l2.2 -1.3M408.1 336.2l1.9 -1.3M281.2 317.1l1.7 -0.9M54.0 387.3l1.1 0.4M331.3 344.6l2.1 -0.9M146.3 371.3l1.7 -0.1M127.3 382.3l2.0 -2.1M294.5 307.2l1.4 -0.3M151.0 342.5l3.2 -0.2M249.8 291.7l2.2 -0.6M99.8 361.9l1.0 -0.0M170.3 321.2l0.9 0.1M341.7 300.6l1.6 0.0M360.2 353.8l2.5 -0.8M31.8 385.0l1.4 0.3M113.7 345.8l0.6 -0.9M441.2 325.0l1.1 0.3M100.5 376.1l2.6 -0.4M31.5 426.2l1.5 -1.4M61.2 400.5l1.0 -0.4M267.7 357.6l1.1 0.6M80.2 389.0l1.3 -0.5M85.1 345.0l0.6 -0.6M336.5 294.6l1.3 -0.8M295.1 296.9l2.7 -0.8M285.8 339.3l0.6 0.6M81.8 359.2l2.4 0.3M162.4 342.9l0.8 0.3M260.6 316.3l2.3 -0.8M110.4 381.7l2.3 0.8M287.5 292.6l1.9 1.6M199.8 309.3l2.2 0.3M61.5 383.0l2.6 -1.2M290.1 296.9l1.7 -0.0M296.0 287.5l2.1 -0.0M100.9 423.9l1.7 0.9M137.6 323.7l2.7 -1.4M135.2 377.8l2.8 -1.2M348.2 287.8l2.1 -0.4M109.1 392.4l1.8 -0.8M303.0 354.8l2.3 -0.3M321.5 298.8l1.5 -1.2M82.8 356.8l0.8 -1.0M144.6 379.7l1.6 0.0M93.4 389.0l2.3 -0.7M153.2 367.0l3.1 -0.4M50.3 422.0l2.1 -0.1M175.2 308.0l2.1 1.7M42.2 362.3l1.8 0.2M60.0 405.7l0.8 -0.1M60.0 365.5l1.2 -1.8M65.1 367.4l2.6 0.6M324.7 310.7l1.7 0.4M278.0 298.4l2.0 -1.6M330.9 302.8l1.2 -1.1M137.9 363.8l2.2 -0.1M169.2 365.3l2.6 -1.7M120.8 353.9l2.7 -0.1M357.6 303.5l1.5 0.1M89.6 378.9l2.9 -0.1M122.3 361.4l2.3 0.5M133.7 383.1l1.4 -0.8M75.2 396.9l2.4 0.1M74.9 393.9l1.2 0.1M202.2 357.6l3.1 -0.1M73.6 378.4l2.2 1.5M382.9 355.6l2.2 1.6M130.1 336.9l2.7 0.6M60.3 414.1l1.5 -1.1M32.6 399.0l0.7 -0.4M293.0 314.3l2.4 0.1M95.7 327.5l1.2 -1.4M398.6 350.0l1.5 0.6M262.6 359.3l2.7 -1.6M101.4 397.7l1.3 0.3M71.6 372.8l1.4 -0.2M314.9 303.6l2.4 -0.3M94.0 382.0l2.2 -2.2M303.8 288.9l2.4 0.8M151.3 327.1l1.7 -0.9M304.2 289.7l2.0 -1.2M93.9 355.1l1.3 -0.9M96.1 404.5l1.3 -1.2M348.1 322.5l3.0 0.2M156.1 324.0l1.6 0.2M81.7 460.5l0.6 0.7M342.7 348.7l1.4 -1.0M341.0 331.1l3.0 -1.0M97.8 372.2l1.7 0.6M158.7 372.0l2.1 0.0M117.9 331.2l2.6 -1.5M50.4 457.6l1.4 1.7M231.6 333.7l1.9 0.1M77.2 394.6l2.1 -0.6M37.5 384.4l2.3 1.2M456.0 307.5l0.8 -0.4M53.1 399.7l2.4 -1.2M113.5 328.1l1.5 -1.1M98.8 356.1l1.3 -0.9M116.4 342.1l0.8 0.2M352.9 357.6l1.9 -1.5M109.2 367.1l3.1 -0.5M76.4 426.6l2.9 0.4M338.4 348.1l1.8 0.4M140.8 352.2l0.9 -0.9M98.0 361.6l2.0 0.4M96.2 444.6l2.5 -1.3M87.9 361.1l2.7 -1.1M345.1 302.5l1.7 0.5M397.1 302.8l0.8 -0.0M246.6 277.0l1.3 0.4M80.9 365.8l2.9 -1.2M356.4 318.8l2.5 0.2M42.0 395.8l2.1 -2.0M272.0 358.0l1.7 -0.3M122.2 327.8l2.6 0.3M129.0 356.5l1.6 -0.1M287.2 308.8l1.0 -0.1M60.6 439.9l1.3 0.3M191.5 319.3l2.5 -0.9M90.4 405.7l2.2 2.2M68.6 404.2l1.0 0.4M57.8 373.8l1.2 0.0M48.3 378.3l2.6 0.8M328.9 308.0l2.8 0.7M23.1 422.2l1.2 -0.1M366.3 306.6l2.6 0.3M168.4 358.7l2.2 -0.0M86.3 400.9l1.5 -0.2M281.0 356.3l2.0 1.2M282.6 293.7l0.7 -0.6M343.7 328.0l1.2 -1.1M97.1 347.3l1.0 -0.5M361.8 364.8l2.2 0.1M221.6 299.0l1.5 -0.2M94.6 343.9l2.2 -1.7M131.6 344.1l2.2 -0.5M39.4 372.8l1.5 -0.7M70.8 417.9l1.7 0.3M207.8 365.7l0.9 -0.3M315.2 306.6l3.1 -0.6M104.4 351.6l1.2 -0.6M328.8 314.2l2.1 0.0M117.0 341.7l2.2 -0.4M302.5 301.3l2.6 1.4M122.7 379.7l2.6 -1.5M390.5 338.7l0.8 0.6M181.0 373.4l1.6 -0.8M324.4 323.6l1.6 0.2M145.5 316.2l2.4 -0.6M84.1 345.1l0.9 -0.3M59.6 420.6l0.9 0.3M104.8 336.2l2.4 -0.7M283.4 299.2l2.3 0.8M33.5 366.4l1.0 0.1M49.9 379.1l2.4 -1.4M103.4 414.0l2.6 1.5M77.7 383.2l2.3 -0.0M275.7 348.2l2.4 1.1M333.8 307.1l2.5 1.2M232.2 325.3l3.1 -0.1M164.8 366.4l2.2 0.7M146.2 325.2l1.9 -0.1M251.9 307.8l2.8 -1.4M99.7 372.6l2.8 0.5M271.5 336.4l2.2 -0.7M266.5 298.1l3.0 -0.1M18.6 378.9l1.7 -2.1M240.4 346.5l2.0 -0.5M164.4 333.2l0.9 -0.2M191.8 355.0l2.7 -0.1M247.5 307.1l3.1 -0.1M41.9 378.8l2.8 -1.2M179.8 314.0l1.1 -0.5M153.5 361.0l2.4 -0.5M281.0 324.7l2.5 1.1M157.9 320.6l2.9 -0.7M117.2 383.1l2.1 -0.9M69.1 386.1l0.9 -0.6M67.2 392.8l0.8 0.3M74.2 434.8l2.4 0.6M75.1 383.4l1.8 -0.5M183.2 323.9l2.1 -0.0M99.3 363.1l1.9 -0.1M117.7 368.8l1.4 -1.5M158.0 311.1l0.8 0.2M138.0 343.9l3.1 -0.5M100.0 447.5l1.8 2.0M44.2 374.1l2.0 1.6M106.0 325.6l1.3 -0.2M88.5 448.0l1.7 0.8M329.8 292.8l1.2 -0.5M100.8 392.8l2.2 0.3M268.2 272.8l1.0 -0.4" stroke="#d63c3c" stroke-width="1.10"/><path d="M296.8 352.3l1.7 -0.4M174.4 320.6l2.1 -0.6M334.5 304.7l1.7 -1.2M126.1 375.1l2.0 -0.3M255.6 327.9l2.6 1.0M218.2 328.7l2.0 -0.3M208.6 310.3l2.1 1.2M88.8 429.0l0.9 0.9M152.6 366.3l1.0 -0.5M284.0 306.4l0.8 -0.2M123.2 388.2l0.8 -0.1M302.3 347.7l3.1 -0.4M197.0 311.2l1.7 0.6M292.4 328.0l2.1 -0.8M215.2 307.6l2.2 2.2M198.8 312.2l2.4 -1.0M287.1 328.3l1.4 -0.5M341.6 322.7l2.9 0.1M230.8 359.0l2.4 -0.1M191.4 321.8l1.4 -0.6M116.8 381.3l1.4 -0.4M217.5 363.9l2.3 -0.4M327.6 319.0l2.1 1.2M277.7 307.1l1.2 -0.8M132.3 365.4l1.2 -0.3M110.2 381.9l1.1 0.4M133.3 371.0l1.0 -0.3M268.5 322.7l1.1 0.4M114.8 378.6l0.8 -0.3M286.1 316.9l2.2 -0.9M115.6 364.9l2.1 -0.2M196.5 340.6l1.7 -0.1M180.0 319.4l2.8 -0.0M239.4 314.8l2.3 0.5M225.8 333.5l1.8 -0.4M72.0 451.9l2.2 1.5M85.8 436.6l1.1 2.1M176.8 323.1l1.7 0.1M252.2 305.4l1.8 -0.2M262.0 353.8l1.1 -0.6M220.9 336.6l2.4 0.9M246.9 322.9l1.5 0.0M77.2 433.8l2.5 -0.5M173.7 330.5l2.1 -2.3M209.3 306.4l0.3 -0.9M96.9 434.6l1.2 -0.6M211.3 352.9l0.6 0.7M261.1 317.0l2.0 -1.4M205.7 338.4l2.6 -0.8M247.0 332.0l2.5 -0.5M301.8 344.7l1.9 -0.1M182.0 350.2l2.5 -0.9M244.5 320.7l2.1 -0.2M90.4 438.8l0.8 -0.0M261.2 338.3l2.5 1.5M97.3 426.4l2.5 1.4M111.0 381.0l1.2 -0.0M244.3 344.5l2.7 -0.5M188.3 319.0l2.0 1.5M300.7 330.6l2.3 -0.1M146.4 351.0l1.6 -0.7M93.4 440.8l1.9 0.2M345.1 321.6l1.6 -1.6M97.1 433.8l2.1 0.6M312.4 336.7l0.9 0.1M277.2 319.0l2.0 -1.5M266.1 329.9l0.6 0.9M134.1 353.3l1.0 -0.4M266.8 343.3l1.1 -0.8M85.5 450.2l3.1 0.1M240.0 329.3l2.1 -0.9M306.5 328.7l3.0 -0.5M295.3 343.2l2.5 0.7M215.9 317.9l1.4 -0.3M292.9 341.3l2.0 -1.1M231.5 335.5l1.2 -1.5M232.5 310.0l2.5 0.4M310.5 337.4l1.6 -1.3M309.2 346.1l1.1 0.2M299.9 318.3l1.0 -0.1M230.0 327.2l0.8 -0.9M205.2 332.0l2.5 -0.1M204.6 352.1l1.6 -0.8M207.9 317.8l1.4 -0.0M294.5 319.7l2.9 -0.8M122.5 389.4l2.4 0.1M310.9 316.5l1.4 -0.0M311.4 328.3l3.1 -0.2M220.7 317.2l1.5 -1.4M238.6 335.2l1.7 0.3M186.7 315.4l2.5 0.9M94.3 457.0l1.5 0.7M71.9 433.4l0.9 -0.0M270.2 325.2l1.0 -0.1M160.8 354.9l3.1 0.1M238.6 359.4l1.7 0.3M75.4 442.4l2.1 -0.3M288.8 316.0l2.3 0.1M248.4 338.1l2.7 0.2M86.3 429.8l1.8 0.4M157.7 365.9l1.4 2.1M72.3 427.9l2.7 -0.1M281.2 331.6l1.3 0.5M324.6 333.3l1.8 -1.3M210.6 329.5l1.3 -0.3M278.6 330.2l0.4 -1.1M189.2 335.3l1.0 -0.5M148.9 342.6l2.4 -0.1M75.9 462.5l1.5 -0.8M316.0 341.4l2.4 -1.4M118.2 380.0l-0.0 -0.9M278.6 327.7l2.4 0.3M182.3 343.2l1.9 -0.9M304.6 321.1l2.4 0.2M220.4 367.9l2.1 -0.9M322.0 330.3l2.6 -0.4M104.8 431.3l1.1 -0.0M159.5 326.2l3.2 -0.1M368.8 320.7l1.7 0.5M156.7 357.1l1.0 0.3M229.3 339.7l2.6 0.8" stroke="#6a8cf0" stroke-width="1.10"/><path d="M372.2 310.5l1.1 0.1M91.1 386.1l1.3 -0.4M352.6 304.1l1.2 -0.6M52.3 415.3l1.6 -0.9M54.0 399.0l1.6 -0.6M108.0 372.9l2.3 0.7M136.8 347.1l3.0 0.2M93.7 399.8l2.8 -1.2M96.5 382.4l2.2 2.2M194.1 306.1l2.1 -0.6M168.2 302.8l2.2 0.8M83.5 433.4l3.0 -1.1M115.2 381.4l3.0 -0.9M90.2 360.2l0.8 -0.7M93.9 397.3l2.1 -0.0M204.3 294.3l1.5 1.1M78.3 355.0l1.0 -0.1M284.9 311.1l1.8 -0.9M228.4 296.7l2.3 -0.9M189.3 320.4l1.2 -1.5M143.6 347.3l2.1 0.3M102.8 368.5l1.3 1.2M97.8 408.5l2.0 -0.0M354.9 295.2l1.0 -1.4M344.2 364.4l2.9 -0.9M139.1 346.8l1.5 -0.2M105.8 396.1l1.3 -0.0M142.7 355.7l1.3 1.1M56.7 389.3l2.4 -0.5M110.7 362.7l1.7 -0.9M372.7 291.8l1.4 0.6M67.0 395.3l1.6 -0.1M188.0 360.0l1.7 0.2M84.5 372.3l2.1 1.0M121.5 379.1l1.7 -0.7M99.7 367.9l3.0 0.0M244.8 311.2l1.9 1.0M183.4 353.5l0.9 0.3M261.9 298.4l1.2 -0.7M82.6 387.6l2.6 0.9M133.1 379.3l1.1 -0.6M289.5 336.8l2.2 -0.7M311.6 317.2l1.8 -0.9M157.1 361.2l2.0 -0.1M42.7 455.9l2.9 0.2M72.7 441.0l1.3 2.4M60.5 455.1l2.1 1.2M165.2 322.6l1.4 0.3M114.9 337.3l2.8 0.6M56.6 352.0l1.3 -0.3M84.7 368.2l1.5 -0.3M182.4 366.6l1.7 -0.1M168.3 315.7l1.6 -0.1M150.2 347.7l2.9 0.6M189.2 343.8l2.3 0.2M116.0 378.0l1.6 0.4M268.4 337.1l2.8 0.6M270.3 367.8l1.3 -0.7M63.1 399.8l2.6 0.5M109.7 337.3l2.0 -0.8M104.7 373.8l2.3 2.0M123.6 376.1l2.0 0.7M368.6 322.9l2.3 -0.7M99.6 356.4l2.1 0.7M50.2 356.9l1.7 0.2M76.2 424.5l2.2 1.8M22.3 395.6l1.6 -0.6M53.0 384.6l3.1 0.5M34.5 403.4l1.9 1.2M83.3 377.4l0.8 0.2M96.6 409.6l1.2 -0.2M85.9 385.8l2.0 0.4M82.6 356.5l1.0 -0.1M109.8 330.7l1.5 1.3M271.1 363.6l1.3 -0.8M84.7 375.0l2.4 1.5M46.8 412.3l0.8 -0.6M17.4 392.3l2.2 -0.3M218.4 365.9l1.4 0.9M71.3 380.5l2.1 -0.2M46.6 418.7l0.8 -0.2M52.2 392.3l2.3 -0.1M74.1 378.9l0.8 -0.0M279.7 364.2l1.2 -0.2M105.1 421.8l0.9 -0.1M126.2 314.1l1.2 -0.2M138.1 356.9l1.0 -0.3M49.6 437.5l1.6 1.0M35.5 425.5l3.2 0.3M66.0 355.1l2.0 -0.5M192.2 332.0l1.2 -0.6M98.1 377.6l1.8 0.8M144.8 355.4l1.2 -0.7M92.9 335.0l1.6 -0.1M64.7 413.7l2.5 -0.1M60.7 370.5l3.1 -0.6M32.8 381.7l1.1 -0.2M151.1 328.8l1.3 -1.3M177.8 353.5l1.0 -0.2M69.7 401.0l0.9 -0.9M252.9 300.4l1.9 -0.9M228.3 293.4l1.4 0.1M329.2 315.4l2.8 -1.3M121.2 342.6l2.0 -0.7M281.8 349.3l0.3 -1.3M48.2 414.1l1.1 0.2M116.2 354.1l1.5 -0.5M295.4 279.7l0.9 0.1M228.6 309.8l0.7 -0.5M399.9 293.0l3.0 -0.6M48.9 385.3l1.8 -1.2M99.3 333.3l1.2 -0.1M139.2 328.8l2.3 1.1M276.7 302.5l0.8 0.2M181.6 305.7l1.9 -0.4M166.0 312.4l2.3 -1.9M165.5 342.6l1.0 1.3M132.3 332.6l3.1 -0.2M108.2 390.3l1.6 -0.1M136.7 366.1l1.5 -0.3M280.2 366.8l1.9 0.9M293.0 296.5l1.6 2.6M270.8 345.6l2.6 -0.7M101.9 407.9l1.7 -1.4M55.5 425.6l1.4 -0.3M52.9 382.9l1.8 0.2M95.2 385.9l2.0 -0.4M62.8 405.3l2.2 0.4M42.8 362.7l1.0 -0.6M55.0 396.9l2.0 -0.9M96.2 355.4l1.8 -0.6M251.0 303.5l1.6 -0.8M119.8 331.4l1.2 0.5M224.3 363.4l2.8 -0.8M42.1 407.2l1.8 0.6M38.0 361.9l2.2 -0.4M109.9 370.4l1.5 -0.6M259.3 363.6l3.0 -0.9M270.6 356.2l2.2 -1.4M229.1 370.9l0.9 -0.6M180.3 355.0l1.9 -0.4M66.3 365.6l1.5 0.7M270.8 340.9l2.5 -0.2M151.5 356.7l2.4 -1.5M106.0 441.4l1.9 -0.6M73.4 405.7l2.2 -0.3M51.1 398.9l1.6 -1.7M284.7 304.4l2.3 -1.5M122.4 343.5l3.1 0.0M357.3 360.0l1.6 -0.0M148.3 356.4l1.4 0.6M102.4 358.1l1.4 -0.2M343.2 329.6l2.0 -1.2M163.7 330.9l1.8 -0.2M42.2 413.1l3.0 -0.9M87.0 366.1l1.5 0.8M148.8 323.1l0.4 -0.9M377.4 298.1l1.1 -0.3M70.2 433.4l2.6 0.7M315.5 312.2l1.5 -1.0M339.5 347.3l1.0 -0.6M80.8 373.1l3.1 0.0M96.0 373.2l2.5 1.1M73.3 379.3l1.4 -0.7M130.7 371.5l0.9 0.1M47.5 368.8l2.1 1.4M112.2 363.4l2.8 -0.0M112.6 329.2l2.4 -1.0M311.2 302.2l2.2 -0.5M154.6 356.0l2.4 -0.7M127.0 387.3l1.7 -0.5M266.0 299.8l2.0 -0.0M218.1 360.2l2.0 0.8M172.7 336.3l0.8 -0.3M157.1 339.1l2.2 -1.0M92.1 428.6l1.7 1.9M228.3 308.8l0.8 -0.1M123.4 326.1l0.8 -0.5M199.1 301.6l1.7 0.0M106.1 435.6l2.8 -0.4M158.8 338.8l1.2 0.3M85.2 374.0l1.8 0.7M321.9 305.6l1.0 -0.1M187.5 306.9l1.4 -0.6M97.9 337.3l2.4 -0.5M71.0 395.7l1.0 1.6M400.9 311.0l1.7 -1.3M80.3 343.9l2.3 -0.1M79.2 437.8l1.3 0.7M321.0 286.8l1.9 -0.3M322.6 275.5l2.6 0.0M100.5 428.9l1.7 -0.3M313.3 305.8l2.2 -1.2M144.6 347.9l1.6 0.0M384.7 344.8l2.0 -0.4M78.2 364.3l1.2 0.3M109.8 366.6l1.2 0.1M72.8 419.8l1.9 -1.4M23.4 438.7l1.5 -0.2M56.3 378.0l2.4 0.7M55.3 407.2l1.4 1.6M107.1 397.7l1.9 0.3M100.4 327.7l2.6 0.5M42.9 425.8l2.6 0.4M79.4 343.7l0.8 -1.1M69.4 452.4l2.0 2.1M175.8 320.2l1.0 -0.4M343.9 326.1l0.8 -0.1M43.8 427.0l1.9 -1.6M268.4 275.6l2.4 1.4M93.6 446.4l2.2 0.7M37.8 406.2l1.3 0.3M48.2 386.5l2.5 -0.7M143.1 363.1l1.7 -0.5M126.7 341.1l2.0 -1.2M195.3 339.8l2.2 -0.6M63.1 434.5l2.9 -0.7M134.5 343.7l1.7 -0.3M88.4 346.3l1.2 0.0M302.7 350.2l0.8 -0.6M189.7 354.6l1.8 -0.6M173.4 348.2l2.6 1.1M163.5 322.5l2.2 0.3M118.9 357.7l1.6 -0.5M56.4 380.9l1.1 -0.2M255.0 291.9l0.9 -0.2M99.3 426.1l1.6 -0.9M69.0 363.1l1.5 -0.1M129.4 312.0l1.4 2.0M44.6 395.3l2.1 -0.1M100.9 339.2l1.3 -2.8M313.3 318.6l2.5 -1.7M120.4 352.8l2.0 -0.7M53.9 411.1l2.4 1.1M55.1 379.5l1.1 -1.3M234.8 359.7l1.2 0.4M102.2 382.3l1.2 -1.8M352.5 282.5l2.1 0.1M78.1 425.9l2.0 0.8M135.9 360.8l1.0 0.0M94.9 391.7l1.7 -1.2M316.6 281.9l2.7 0.8M102.4 379.5l2.6 -0.1M154.3 313.2l2.3 -2.1M258.1 295.1l1.1 -0.7M181.4 357.0l1.5 0.0M42.0 408.6l1.3 -0.1M262.7 351.5l0.9 -0.1M78.1 375.7l3.0 0.3M326.4 305.0l2.3 -1.9M51.2 427.8l0.9 0.5M38.3 433.8l1.7 0.1M67.9 360.5l2.2 -0.7M159.2 316.9l0.8 0.2M314.0 368.2l2.0 -0.3M349.1 325.3l1.5 0.5M53.0 384.6l2.6 -1.1M54.3 409.1l1.0 0.2M200.4 333.6l1.4 -0.4M64.1 425.5l2.7 0.2M76.8 376.1l1.7 -0.2M356.8 305.3l1.3 0.2M85.2 445.2l2.4 1.7M255.5 339.9l3.1 -0.3M263.7 312.0l1.8 0.0M100.6 329.7l1.2 0.4M210.8 306.9l2.0 -0.1M72.2 417.8l3.0 0.7M66.4 349.8l2.9 -1.3M70.1 357.6l2.3 -1.0M45.6 387.7l1.7 -2.2M66.7 359.8l1.0 0.9M42.5 377.4l2.1 -0.5M102.9 344.5l1.8 -0.1M88.2 439.0l2.2 0.6M92.4 357.3l0.8 -0.7M316.6 278.2l2.1 1.0M70.6 396.3l0.9 0.1M352.0 298.2l2.1 -1.3M75.9 346.9l1.6 -1.1M49.6 398.3l2.2 -1.6M67.6 412.2l2.2 0.4M289.2 276.5l0.9 -0.8M160.8 321.4l2.8 0.8M107.2 356.7l2.5 -0.3M167.1 309.8l1.3 0.0M99.2 339.7l1.2 -0.5M50.1 408.1l1.4 -0.3M248.1 290.8l2.6 -0.9M92.4 378.4l1.7 -0.0M411.3 296.5l0.9 0.2M308.9 324.8l2.2 0.1M71.5 437.9l1.4 -0.9M125.7 344.2l0.9 -0.5M61.7 407.2l3.1 0.1M60.6 375.2l2.8 -0.8M132.3 319.0l2.6 -0.8M67.7 376.1l2.9 -0.9M76.7 397.6l2.0 -2.1M207.7 355.2l1.4 -0.3M50.7 378.1l2.7 -0.6M208.4 306.4l2.3 0.0M105.2 352.7l1.2 0.9M366.7 304.5l1.0 0.4M146.9 337.3l1.4 -0.2M285.4 356.7l1.2 -0.0M73.4 440.1l1.7 0.2M110.7 361.3l1.5 -0.0M92.1 418.0l1.3 -0.8M126.9 338.9l0.9 -0.0M61.9 399.2l2.6 1.6M53.9 439.2l1.5 0.1M234.4 296.8l1.2 -1.5M58.8 400.5l1.5 0.3M188.8 349.9l1.9 -0.0M166.0 305.0l2.4 -0.8M127.1 362.0l2.9 0.8M194.0 328.9l1.7 0.1M96.4 448.4l3.0 -0.7M48.9 396.5l2.0 -1.5M97.4 389.5l1.4 -0.1M104.1 394.5l1.8 -1.0M47.1 434.1l2.8 0.3M262.2 352.9l1.9 -0.2M78.0 378.6l2.4 -2.1M18.6 393.0l2.0 -0.0M139.6 371.9l0.9 -0.3M124.9 372.3l1.2 -2.4M40.4 443.9l1.3 -0.3M208.8 306.7l2.9 0.3M320.5 280.5l1.1 0.2M25.1 388.3l2.4 -0.8M60.5 377.2l1.9 -1.1M62.1 367.5l1.4 0.5M287.7 328.5l3.1 -0.1M85.5 451.3l2.5 -1.4M87.9 397.3l2.4 0.0M128.5 376.8l1.3 -0.2M121.3 378.6l1.0 0.2M110.7 364.4l2.4 0.2M160.9 360.5l1.9 0.7M57.4 386.6l1.9 -1.9M56.2 372.2l2.7 -0.6M108.5 386.5l1.7 -0.3M355.2 313.5l1.9 0.2M351.2 310.6l1.7 -2.3M118.6 355.7l1.4 -0.2M305.5 299.9l2.8 -0.2M134.5 385.6l1.0 0.2M70.1 383.3l2.5 -0.2M64.2 430.2l1.9 -1.0M173.5 350.9l2.4 -1.1M27.0 396.9l2.2 -0.2M77.4 385.1l2.2 -0.2M347.5 280.7l2.5 -0.0M196.2 353.1l1.4 -2.8M230.0 365.2l2.4 -0.3M196.6 334.9l1.9 -0.2M69.1 365.1l1.8 -0.4M234.4 341.1l0.9 0.1M95.1 453.5l1.2 1.5M213.0 319.3l1.4 -0.4M318.4 288.9l2.1 -0.3M61.3 395.1l2.7 0.1M255.5 373.3l1.8 -0.7M225.6 369.6l2.4 -1.5M283.4 358.3l0.8 -0.2M78.3 338.1l1.1 0.1M175.0 311.2l1.6 -0.3M353.0 299.0l2.3 -0.0M339.3 352.7l2.1 1.3M280.4 317.3l0.9 0.7M37.6 362.9l2.9 0.3M37.8 425.1l2.7 1.2M22.5 421.5l2.1 2.4M77.1 344.6l1.6 -1.8M126.7 340.2l2.3 -0.8M43.4 422.8l1.6 0.9M332.3 358.2l2.1 0.1M112.5 334.5l2.9 0.9M103.9 337.7l0.8 0.3M380.7 304.0l2.2 0.3M289.8 334.0l2.8 -1.5M194.2 325.6l1.3 -0.6M354.6 307.5l2.5 -0.4M299.5 305.7l0.6 0.6M290.8 300.2l2.2 -1.9M78.3 401.7l2.1 -0.8M61.9 398.8l1.7 1.2M151.7 327.3l1.7 -0.0M272.4 310.3l2.4 -0.9M95.9 351.9l1.2 0.1M76.2 347.2l1.6 -0.5M290.2 357.2l1.4 2.2M125.4 368.6l2.4 0.1M124.1 352.5l1.3 -2.0M81.7 368.0l2.1 0.5M72.7 385.3l1.1 -0.1M194.9 355.6l2.1 -0.7M50.7 372.1l1.1 -0.4M348.2 277.3l1.5 -0.5M160.0 346.3l2.2 -1.5M117.5 343.7l0.6 -0.8M87.2 421.4l2.4 0.5M321.1 295.8l1.5 0.4M96.5 352.5l2.9 -0.6M212.6 316.4l2.7 -1.6M40.4 370.8l2.4 -1.1M127.2 316.3l1.9 -2.0M274.5 361.9l1.1 0.0M70.0 408.8l2.1 -0.4M65.7 412.0l1.8 0.8M72.7 414.2l2.3 -2.1M63.4 394.7l1.4 0.1M242.8 311.6l1.5 -0.3M147.5 313.2l2.7 0.2M61.2 402.6l2.9 -0.1M185.1 362.7l2.0 0.5M45.7 440.4l0.8 -0.3M68.1 370.0l1.4 0.3M149.2 358.6l2.5 -0.6M221.7 375.6l1.0 0.1M327.9 326.5l0.9 -0.0M75.9 419.7l2.4 1.5M103.7 407.0l2.1 1.0M44.9 445.3l2.0 -0.9M106.8 354.2l2.8 -0.1M182.3 349.4l2.9 -1.1M46.4 425.9l0.9 0.4M264.1 311.8l2.3 -0.7M373.3 286.6l1.8 -0.7M72.5 440.7l1.3 0.1M125.3 371.3l0.8 -0.3M303.7 295.1l1.0 -0.3M67.5 408.0l1.0 -0.2M28.0 412.6l2.5 -0.4M162.7 344.1l1.3 0.3M184.9 316.3l0.9 0.1M159.5 355.7l2.4 0.8M99.8 359.6l0.9 -0.9M120.3 338.0l0.7 1.0M248.2 299.9l2.4 1.2M108.2 328.5l1.9 -0.2M173.4 339.7l0.8 -0.1M160.9 360.1l2.9 -0.8M50.8 372.9l1.6 -1.1M123.1 325.7l1.2 -0.6M310.8 307.0l2.3 0.2M141.2 383.1l1.0 0.8M104.4 335.7l1.0 -0.9M346.6 315.9l1.3 -0.1M312.9 365.1l2.4 0.7M36.8 398.5l1.7 -1.4M93.2 406.2l2.8 1.1M158.7 357.1l2.7 0.1M106.7 379.9l3.0 -0.6M307.6 295.5l2.7 -0.1M290.5 333.7l1.0 -0.4M102.0 384.4l0.9 -0.1M73.2 403.0l0.5 -1.5M126.9 348.3l1.4 0.8M119.4 365.9l2.2 0.5M78.6 395.9l2.4 0.8M98.4 338.0l1.4 -0.2M230.9 359.3l1.8 -0.8M110.8 364.7l2.4 0.3M266.2 331.3l1.3 -2.4M47.6 380.9l3.1 0.4M71.0 362.3l1.8 0.0M223.7 356.3l1.6 0.3M120.9 374.1l1.7 0.2M249.0 302.0l1.5 0.0M139.5 371.7l0.5 -0.8M87.4 389.1l1.3 -0.1M112.4 371.1l1.4 -0.6M56.6 390.2l1.4 -1.1M64.9 345.9l2.7 1.0M76.9 374.7l1.1 0.7M172.9 337.2l1.2 0.9M143.7 342.9l2.8 -0.5M93.5 461.7l1.7 -0.2M64.3 371.9l2.5 1.8M109.6 370.3l3.0 0.5M275.4 285.9l2.4 1.6M88.4 341.4l1.9 -2.4M125.3 337.3l1.4 -0.8M284.7 302.2l2.7 -1.2M91.6 399.7l1.9 0.0M126.8 357.3l1.4 0.5M130.8 327.6l2.3 2.1M231.9 362.4l1.9 -0.2M107.6 336.9l1.2 -0.6M45.5 389.0l0.8 -0.2M79.9 356.8l0.9 -0.2M432.6 337.0l0.8 -0.6M47.8 383.3l1.5 -0.2M298.9 315.6l1.8 -0.9M61.7 369.4l2.7 0.5M325.7 282.4l2.5 -1.5M209.1 351.8l1.9 -0.4M339.9 298.0l1.8 -0.2M59.2 354.1l1.8 0.3M83.9 450.6l1.8 0.8M240.6 282.6l2.0 0.0M59.2 428.6l2.5 -0.9M49.5 389.9l0.9 -1.0M77.9 395.9l1.7 1.3M96.8 332.5l1.9 0.3M317.8 307.7l2.2 -0.7M95.2 385.3l2.8 -0.4M294.0 296.3l1.1 -0.5M64.0 396.6l2.5 0.4M342.4 291.7l0.8 -0.6M163.0 350.3l2.5 0.4M220.1 299.2l2.3 -0.3M205.0 307.2l2.4 0.5M88.0 385.5l1.3 0.0M138.7 321.0l0.7 -0.8M313.7 334.4l1.2 -0.1M159.4 330.7l1.2 0.1M61.2 367.4l2.2 1.4M357.7 314.8l2.3 0.3M37.1 395.4l2.8 0.8M75.5 406.1l2.1 -0.2M105.5 399.9l2.6 0.6M318.4 301.6l1.3 -0.6M377.6 299.6l1.1 1.9M98.1 351.6l2.8 -0.7M90.8 353.8l2.7 0.9M180.5 302.4l2.5 -0.7M134.3 347.4l1.6 -0.4M131.4 335.0l1.3 -1.7M50.1 418.9l0.6 1.0M67.7 412.1l0.9 0.2M51.3 380.3l0.9 -0.8M76.2 375.3l0.8 0.2M63.0 390.0l1.7 -1.6M188.0 318.2l1.0 0.1M39.2 405.7l1.7 -0.4M297.9 341.7l1.5 -0.8M98.7 453.8l1.6 1.7M250.0 356.3l1.3 -0.8M98.4 335.2l1.0 0.1M130.0 363.2l1.9 -0.9M102.7 411.5l1.1 -1.6M79.9 396.6l2.1 0.1M65.1 375.8l1.7 -0.9M340.1 293.1l3.0 -0.8M79.0 335.9l2.2 -0.4M70.6 392.1l2.2 0.1M51.3 406.9l0.9 -0.1M203.1 324.3l1.7 0.0M62.9 410.4l2.0 -1.2M126.4 342.9l1.4 -0.1M79.7 386.0l1.0 -0.3M132.0 346.7l1.9 -0.0M108.4 393.0l2.6 -0.1M142.1 354.2l2.3 -1.1M19.3 409.7l3.0 -0.1M40.0 397.2l2.2 -0.1M135.9 333.6l0.8 -0.2M79.7 394.9l1.6 -0.0M343.9 318.1l2.0 -0.7M274.2 365.3l1.1 0.2M72.8 423.9l0.7 -0.6M326.0 306.5l2.6 1.0M115.5 372.7l2.5 -1.1M132.9 366.2l2.2 1.3M177.1 341.1l2.7 -0.1M93.0 349.2l1.0 -0.9M202.1 345.5l2.2 0.0M211.1 348.6l1.2 -0.3M206.8 359.0l2.3 1.1M90.2 393.9l0.6 -1.7M67.4 355.2l1.3 -1.9M94.1 425.4l1.7 0.6M74.4 370.9l2.1 1.3M270.9 347.3l1.2 -0.1M58.2 380.5l1.2 -0.2M57.5 382.2l2.7 1.7M82.8 358.3l0.9 0.2M262.2 302.5l1.4 0.1M75.5 435.8l1.5 0.4M101.6 326.5l2.2 0.9M157.6 327.4l0.6 -1.2M57.4 376.6l1.7 -1.1M198.9 347.2l0.7 -1.7M106.7 349.6l1.0 -1.1M253.8 322.5l1.8 -1.8M306.3 310.1l1.8 0.5M111.9 366.0l0.8 -0.1M61.5 363.6l0.7 -1.6M281.2 345.5l1.5 1.1M161.7 334.5l2.7 -0.4M110.0 352.3l1.2 -0.6M116.9 342.4l1.3 1.0M93.4 386.9l2.5 1.3M339.1 304.6l0.8 -0.6M48.5 414.5l2.7 -0.1M118.7 376.2l2.3 0.1M30.1 434.7l1.7 -0.3M245.2 296.3l2.9 0.1M393.6 299.0l0.7 -0.6M108.9 362.4l2.9 0.4M114.4 397.1l1.1 1.0M99.0 378.6l2.5 0.0M247.7 329.8l2.2 -1.4M229.9 292.0l1.2 -0.7M49.1 392.3l1.5 -0.1M49.1 436.9l2.8 -0.3M84.0 365.4l1.1 0.3M74.8 394.9l2.1 -1.2M86.8 406.8l2.0 -0.7M92.9 460.2l2.9 1.0M52.2 406.8l1.1 0.5M206.0 338.1l2.6 -0.9M253.2 340.8l1.9 -0.1M24.6 418.8l2.1 -1.2M158.7 360.0l1.5 0.9M245.4 373.9l1.4 -0.5M96.6 437.9l2.4 0.3M44.5 413.2l1.8 0.1M90.9 424.6l1.1 0.3M249.6 380.5l2.5 0.9M117.3 387.4l1.5 -0.3M59.7 425.4l2.2 -1.7M95.8 370.3l1.1 0.6M42.4 388.5l1.3 0.7M301.9 283.8l1.0 0.3M202.7 305.6l1.5 1.0M344.7 317.2l2.4 -0.3M69.7 350.4l2.0 -1.1M170.8 330.4l1.2 -1.0M305.2 297.4l2.2 -0.3M100.7 406.0l0.8 -0.0M87.4 398.7l1.9 -0.3M53.6 409.8l1.0 -0.9M67.8 420.8l2.6 -0.2M95.5 407.2l2.2 1.7M214.2 316.3l2.0 -0.1M104.4 386.9l2.1 -1.2M101.6 334.7l2.1 -0.9M57.9 377.6l1.6 0.7M327.0 292.9l1.1 0.0M85.9 358.1l1.7 -1.4M37.4 393.9l0.9 -0.4M83.2 425.1l1.3 -1.8M236.9 332.2l1.6 -0.6M95.2 328.0l3.0 -0.9M149.6 364.7l2.6 0.1M91.5 366.4l2.7 0.5M42.8 422.7l1.5 -0.4M119.0 329.7l1.3 -1.3M203.6 298.8l2.1 -1.6M185.4 348.9l1.2 -0.1M93.6 352.7l1.2 -0.9M150.9 351.3l1.1 0.7M144.3 357.5l1.9 0.7M266.9 321.3l2.3 -0.4M245.8 355.0l0.8 0.1M103.8 367.5l1.3 -0.2M136.7 357.0l2.0 1.6M199.1 352.6l1.9 -0.2M172.5 341.8l3.1 0.7M163.0 345.1l1.2 0.5M185.1 352.8l0.8 0.5M107.1 364.5l1.3 -0.6M310.4 315.9l2.7 -0.2M117.5 321.4l1.6 -0.8M63.8 431.8l1.6 0.5M319.7 313.5l1.3 -0.2M378.1 312.5l1.7 -0.1M98.2 388.5l3.0 -1.0M298.1 302.8l2.4 -2.0M349.5 295.9l2.6 1.1M183.6 313.8l1.5 -1.6M91.1 459.7l1.4 1.5M128.1 384.2l2.7 -0.5M122.3 343.1l1.4 -0.3M122.2 389.6l3.1 -0.8M129.5 342.9l1.0 -0.7M28.2 355.9l2.1 -0.9M349.5 297.8l2.1 -0.7M123.5 341.6l1.2 -2.6M40.6 442.9l0.5 1.1M208.6 348.8l1.9 1.8M134.5 336.2l2.8 -1.1M152.1 325.4l-0.5 -2.9M179.2 323.8l2.5 -0.7M90.7 376.8l1.7 -0.5M165.2 349.9l1.4 -0.8M77.9 354.8l1.9 0.0M215.3 335.1l0.8 -0.1M230.9 361.6l1.2 -1.3M47.6 406.5l1.5 -1.4M91.3 437.2l2.4 -0.1M138.5 354.7l1.3 -0.5M311.3 345.4l1.6 -1.4M301.6 311.2l1.1 0.2M274.7 351.4l1.4 -0.4M111.4 336.3l1.6 0.9M105.7 392.1l0.8 -0.6M48.1 365.9l2.5 -1.5M190.1 358.9l1.7 0.2M136.8 321.5l2.1 0.8M79.8 371.3l2.4 0.6M324.5 309.0l2.9 1.2M144.4 371.5l2.0 -0.6M61.7 400.8l0.8 -1.2M226.3 328.5l1.7 -1.6M82.5 374.7l1.5 -0.1M174.6 306.8l0.9 -0.2M228.6 309.4l2.4 0.5M116.2 319.6l2.1 -0.5M347.8 301.6l1.8 -0.5M124.2 323.6l1.7 -0.8M136.1 318.8l1.7 1.0M424.3 316.7l1.7 1.0M117.5 356.4l0.7 -0.3M339.5 293.8l1.9 0.7M275.4 311.5l2.4 1.9M105.4 409.0l2.9 1.3M238.1 362.3l2.0 -0.7M84.8 353.7l1.7 -1.0M133.4 374.4l1.7 -0.1M118.1 369.1l1.5 1.2M115.5 348.1l3.1 0.7M85.6 418.6l2.7 0.4M247.4 280.1l0.9 0.2M87.3 426.0l1.8 -0.9M265.5 324.5l1.3 0.7M186.0 357.4l1.6 -0.2M94.2 336.5l1.5 0.4M134.2 329.2l1.4 -0.2M82.3 404.1l1.7 -1.7M348.0 343.8l2.2 -1.2M80.9 436.8l1.4 0.3M66.8 409.2l1.0 0.4M265.1 301.8l2.1 -1.7M79.0 350.1l1.0 -0.6M85.3 437.3l2.2 0.7M330.8 321.4l1.7 -0.4M54.4 372.2l2.8 -1.0M88.3 440.3l1.6 1.3M81.3 384.6l1.2 -1.1M182.3 322.5l2.3 -0.8M223.1 303.1l2.7 0.1M115.3 319.3l0.7 -0.5M266.1 359.6l1.4 0.4M201.5 319.4l1.1 0.2M84.4 363.4l1.7 0.8M123.6 321.6l1.4 -0.1M305.6 355.9l2.1 1.3M253.8 328.7l1.4 -0.8M51.3 438.4l1.0 0.8M141.5 312.3l1.4 -1.3M69.3 411.3l2.1 -0.9M332.2 331.9l1.6 1.2M58.8 393.8l1.8 -0.4M330.9 327.9l1.7 -0.4M98.1 339.0l2.4 -0.5M278.3 281.8l2.8 1.1M260.3 366.6l2.2 0.2M73.8 400.0l1.5 0.4M82.2 358.8l0.8 -1.4M236.2 359.8l0.9 -0.4M186.9 367.7l0.8 -0.7M307.7 302.3l1.5 0.0M65.6 395.0l3.0 0.5M339.6 298.5l1.0 -0.4M30.2 429.0l2.5 -0.6M72.5 370.1l1.8 0.4M170.7 330.9l1.7 0.9M87.0 388.8l2.5 -0.6M43.2 429.3l0.9 0.2M50.9 397.2l1.1 -0.5M97.7 372.4l2.1 0.2M208.7 342.6l2.3 0.0M71.6 368.8l2.9 0.9M74.1 457.1l1.6 1.2M92.6 372.1l1.4 0.0M188.8 359.8l3.0 -0.6M117.6 373.4l0.9 -0.4M153.2 349.8l2.8 0.6M47.3 425.9l2.3 -0.2M69.8 365.5l0.8 0.0M272.2 349.7l0.8 -0.3M170.0 334.0l1.0 -1.5M113.0 338.3l3.0 -0.7M73.7 338.5l1.2 -0.9M90.6 409.6l1.5 -0.3M35.6 448.5l1.4 0.4M93.4 375.2l3.2 0.1M173.3 337.0l2.2 0.3M267.2 359.6l2.1 -0.7M63.3 363.5l2.7 -0.6M56.3 367.8l1.9 -1.3M55.4 387.0l2.2 -1.2M341.1 283.9l1.2 0.2M78.1 401.7l1.3 0.8M87.2 363.8l3.2 0.0M325.1 321.8l0.9 -0.3M185.5 308.2l2.3 -0.5M106.2 344.1l2.4 -1.0M24.3 417.7l1.5 0.6M164.2 321.7l2.6 -0.1M371.5 294.8l2.6 -0.5M59.8 367.9l1.3 0.2M309.0 353.0l1.8 0.3M297.5 372.2l2.1 0.4M117.1 332.5l1.6 -0.8M233.3 354.7l2.5 0.0M159.2 320.3l1.0 0.4M58.1 394.0l1.7 0.4M120.5 338.1l1.3 -0.1M251.2 286.3l0.9 -0.5M63.7 362.4l1.8 -1.0M38.9 383.9l2.0 0.8M108.3 323.6l1.5 -1.0M227.3 332.5l1.8 -0.1M70.4 410.4l3.0 -0.9M81.1 365.3l2.1 -0.4M199.3 339.3l2.4 1.3M283.8 302.9l1.7 -0.2M75.3 438.6l1.0 -0.5M163.7 366.5l1.8 -0.4M87.5 434.1l2.4 0.2M88.4 365.7l2.5 -0.6M82.1 398.9l2.7 1.3M116.0 340.8l1.7 -1.6M128.0 348.4l1.9 -1.7M277.5 307.7l2.5 0.2M67.2 369.0l1.0 0.0M51.8 359.0l2.2 -0.8M295.3 355.6l2.3 -2.2M236.0 310.5l1.5 -0.1M273.2 338.1l1.9 -2.0M75.6 401.8l2.0 1.0M96.3 424.1l2.5 1.7M291.6 338.9l1.7 -1.0M290.7 304.1l2.2 0.0M45.8 445.6l2.7 1.4M57.3 417.2l2.3 0.8M148.3 344.9l1.2 -0.6M133.8 379.4l3.1 -0.4M91.3 454.0l1.5 0.6M79.0 395.3l2.2 -1.6M332.3 336.8l1.1 -0.0M98.3 373.7l2.3 1.0M79.8 456.8l2.4 1.7M114.7 384.1l1.5 -0.1M258.9 345.9l2.3 -0.9M57.6 432.4l1.4 0.1M109.0 345.2l1.8 0.2M81.3 352.7l2.2 -1.1M57.5 370.0l2.1 -0.4M211.4 321.8l1.4 0.3M113.5 356.7l1.9 -1.4M85.4 367.5l1.3 -1.5M175.5 308.2l1.7 -1.5M306.7 285.0l1.8 -0.8M264.0 361.5l1.0 -0.6M54.8 409.1l2.0 -0.8M237.2 347.1l1.9 -0.4M53.2 350.1l2.2 -0.1M236.4 345.5l2.9 1.0M281.9 300.4l1.4 -1.4M227.1 363.6l1.3 0.6M166.5 368.7l1.7 -1.1M123.6 375.3l3.0 0.6M240.5 295.8l3.2 0.1M70.2 394.0l1.3 1.5M358.7 328.2l2.3 -0.8M227.5 298.7l2.2 1.6M133.4 353.7l2.2 -1.0M267.9 300.1l1.6 -2.0M190.4 362.6l1.9 -1.5M36.2 407.9l2.9 0.4M97.5 359.9l2.3 -0.4M262.5 291.1l1.3 -0.5M345.2 330.1l2.5 0.5M316.0 302.4l1.9 -0.0M104.0 450.6l1.3 0.9M227.5 313.9l2.3 -1.2M29.2 380.2l1.2 -0.2M80.0 392.6l2.5 1.5M178.1 366.0l2.6 -1.6M95.6 379.7l2.5 0.0M154.3 345.3l2.1 0.9M101.6 376.8l1.0 -0.3M113.5 376.7l2.7 1.3M48.6 432.8l2.2 1.1M301.9 299.3l3.0 -0.4M183.9 318.4l1.6 0.3M106.2 376.3l1.7 0.9M198.8 371.4l0.4 -1.8M172.1 365.1l0.9 -0.7M176.4 307.7l1.2 0.0M152.3 348.8l2.5 -0.6M310.4 293.5l1.2 -0.1M166.1 319.8l1.3 -0.2M117.6 381.3l1.3 -0.5M71.3 409.7l2.3 1.5M278.8 332.4l3.1 -0.5M276.2 309.0l2.3 -0.4M136.8 329.3l1.5 -0.4M79.3 399.3l2.8 0.2M87.8 338.7l3.1 -0.7M58.2 368.1l2.8 1.1M161.6 336.0l1.4 -0.8M257.7 354.3l2.7 0.3M407.5 294.1l2.6 0.5M146.1 375.7l1.0 -0.1M123.0 355.8l1.7 -0.4M217.6 368.0l1.4 -0.2M134.4 377.1l2.6 0.9M163.2 342.4l1.1 -0.1M137.7 339.4l0.8 -0.4M95.9 391.8l1.7 -0.2M314.2 301.7l2.5 -0.9M134.8 338.2l3.0 -0.9M76.7 389.5l3.2 -0.2M132.4 353.0l2.0 -0.0M383.4 299.2l2.9 -0.3M287.7 344.9l2.8 -0.5M163.3 348.5l0.8 -0.9M72.0 376.0l2.1 2.3M195.9 306.6l1.6 0.7M445.4 320.0l1.5 0.2M56.8 380.6l2.1 0.4M167.3 320.9l2.4 -0.5M54.0 395.7l2.5 -0.7M66.3 419.1l3.1 0.1M106.4 338.3l1.3 0.4M369.9 337.6l2.4 -0.7M234.8 348.2l2.1 0.8M237.1 361.8l2.8 -1.4M150.4 356.4l0.6 -1.1M84.6 383.0l1.9 -0.0M44.6 408.1l2.2 -1.4M113.4 347.5l0.9 0.3M56.4 441.0l2.0 0.3M89.1 415.6l1.6 0.8M95.1 457.8l1.4 0.5M154.9 368.9l1.2 -0.1M64.4 373.5l1.0 -0.4M205.5 313.9l1.4 -1.8M232.9 306.3l2.1 0.2M228.1 306.1l1.2 -0.2M38.2 434.0l1.5 1.4M125.9 357.3l1.2 0.8M138.0 344.9l2.8 0.1M77.6 431.1l2.5 1.4M44.0 423.1l2.6 -0.1M304.4 335.6l2.4 -0.3M133.2 327.4l1.9 -0.3M40.6 401.8l0.8 0.1M104.2 360.7l0.7 -0.5M99.8 345.6l2.6 -0.8M102.5 432.0l1.9 1.4M67.2 397.0l2.3 0.3M173.3 331.8l3.1 -0.3M190.0 346.7l1.0 -0.1M131.2 387.7l1.0 -0.1M70.2 394.9l2.8 -1.0M242.8 303.5l0.7 -0.6M148.8 325.9l2.2 -0.4M74.5 372.9l1.7 0.1M158.0 342.6l2.2 -0.4M25.0 378.2l2.5 -0.0M107.1 345.1l1.0 -2.1M68.3 426.3l1.1 0.6M251.8 292.0l1.9 0.3M125.6 336.1l1.7 0.3M89.0 371.0l1.6 -1.1M338.9 296.2l2.5 -0.5M151.9 354.0l2.7 -1.3M49.5 434.0l1.0 1.0M54.9 427.2l2.9 0.7M235.9 299.3l1.9 0.6M74.3 360.2l3.1 -0.4M112.7 371.2l1.5 -1.9M57.0 368.1l1.8 0.2M33.7 411.3l1.3 0.4M76.0 395.4l3.1 0.3M143.2 339.9l1.1 0.3M120.6 340.9l2.8 -1.2M139.5 335.8l1.1 -2.5M270.8 361.0l2.3 -0.3M314.3 312.0l2.5 -0.5M72.1 388.8l2.6 0.1M108.2 364.2l1.1 0.3M288.3 304.2l0.8 -1.0M75.2 363.1l2.3 -1.6M112.2 342.7l1.0 -0.0M90.2 396.5l0.9 0.2M134.4 347.6l0.8 -0.2M148.5 348.6l1.9 -1.9M132.6 368.6l1.3 -0.9M50.9 425.8l1.0 0.5M79.1 407.4l0.6 0.6M54.3 390.1l3.1 0.5M184.9 307.1l1.8 -0.3M144.1 356.9l2.4 -0.2M99.2 393.6l2.0 -0.4M124.5 342.3l1.9 1.8M77.5 414.6l2.4 0.8M123.5 374.9l3.0 0.9M75.5 449.2l2.0 1.2M73.0 394.4l1.3 -0.4M96.8 370.2l2.6 1.0M316.5 300.3l3.1 -0.5M74.7 412.0l1.9 0.2M56.3 437.9l0.8 0.4M53.5 431.8l1.8 -0.3M70.1 362.0l0.8 -0.1M66.4 354.0l2.5 -1.8M46.2 372.9l1.6 -1.5M114.1 340.4l3.0 -0.1M81.8 439.1l2.2 -0.6M46.2 378.0l1.8 -0.0M96.7 396.2l1.9 -0.4M93.5 372.1l2.2 -1.8M94.7 434.7l2.2 1.4M305.8 365.0l1.5 -1.8M86.4 363.4l2.7 -0.6M109.2 338.5l1.0 -0.0M209.2 314.8l0.9 0.0M293.2 294.5l2.2 -0.2M95.2 381.3l2.1 -0.6M47.8 354.2l0.8 0.1M68.2 352.4l1.6 -0.6M151.5 366.2l2.2 0.6M102.7 404.5l1.2 1.1M38.0 430.8l3.1 -0.3M147.1 353.8l1.4 -1.1M138.4 367.6l0.9 0.1M393.4 333.7l2.6 -0.3M283.9 336.6l1.8 -1.2M132.8 336.6l2.0 -0.2M72.5 361.0l1.7 -0.9M317.4 315.3l1.6 -1.2M266.8 328.5l2.6 1.7M148.3 316.9l1.3 -1.0M59.1 450.4l2.5 1.3M63.9 434.6l1.7 2.1M73.3 358.2l1.5 0.3M39.5 373.6l2.3 0.7M95.9 342.4l1.3 -0.4M55.7 414.9l2.8 -0.4M95.5 361.2l1.2 -0.2M98.9 444.3l2.0 0.1M71.3 409.6l3.1 -0.1M245.8 334.2l1.7 -1.2M153.4 323.6l1.8 -1.3M108.9 366.7l0.8 -0.4M149.5 323.9l1.9 -0.7M93.3 384.0l3.2 -0.4M144.0 354.4l2.2 -0.9M68.9 382.6l2.1 0.1M167.1 328.7l1.8 -1.3M307.9 363.0l2.1 -1.6M309.6 322.8l2.7 0.7M141.7 358.6l1.5 -1.0M306.2 291.3l2.4 1.2M328.1 352.9l1.8 -0.9M112.5 371.0l2.5 0.1M109.3 366.1l2.4 -1.8M115.0 368.3l2.9 -0.9M320.6 344.8l2.3 -1.5M180.7 335.0l2.1 -0.8M148.4 331.9l0.8 0.2M81.1 356.9l1.3 -0.4M350.2 357.4l3.1 -0.3M52.8 388.5l3.0 -0.9M53.9 397.0l0.8 0.4M77.4 388.4l2.7 -1.3M79.7 407.3l1.4 -0.3M55.0 387.9l2.5 -0.6M300.7 336.8l3.0 -0.6M130.2 362.9l0.7 -0.3M95.2 454.4l2.7 1.5M222.3 307.8l3.1 -0.1M209.7 364.0l1.8 -0.8M72.3 353.3l2.9 0.5M46.4 400.2l2.1 -1.2M114.0 327.7l1.3 -0.5M104.3 336.6l2.6 -0.0M236.9 366.1l1.5 0.4M353.2 313.0l1.3 -0.9M114.1 322.1l2.5 -1.8M74.1 387.3l1.7 -0.1M348.5 285.4l2.4 0.3M117.4 363.4l1.6 -0.1M66.9 448.5l1.5 1.8M224.8 301.5l3.0 -0.7M84.5 362.8l2.1 -0.6M98.1 388.2l2.8 0.0M64.4 411.7l2.7 -0.2M91.0 376.0l2.3 0.2M350.3 283.2l1.3 -0.7M102.1 394.8l1.8 -1.6M119.3 328.8l1.0 -0.4M118.3 331.2l0.8 -0.8M284.7 287.7l3.0 -0.5M127.6 323.9l0.8 -0.5M284.4 346.7l0.8 -0.5M52.0 397.9l3.1 0.5M349.9 295.5l0.8 -0.9M70.5 364.3l2.4 0.0M77.4 403.0l1.9 0.2M147.9 340.2l2.2 -0.5M215.9 343.8l2.4 -1.0M330.6 331.5l2.4 -0.6M91.5 370.2l2.4 1.5M267.1 306.2l1.0 -0.2M77.2 353.2l2.8 -1.2M270.8 334.4l2.0 -0.3M93.8 331.5l2.0 0.4M47.0 395.7l1.1 -0.4M96.8 380.9l2.6 -0.3M74.1 371.6l1.4 -0.9M88.4 406.7l1.9 0.3M264.6 338.8l1.8 0.4M63.7 426.1l2.5 1.1M203.2 329.8l1.5 -0.3M314.5 343.3l0.4 -0.8M338.8 337.1l2.2 0.2M41.9 394.4l2.4 0.2M156.7 344.1l2.9 0.8M198.5 326.3l0.9 -0.4M127.8 375.1l1.0 -0.0M149.6 367.4l1.6 0.1M68.6 412.8l1.7 1.0M239.8 339.9l2.7 -0.4M267.6 305.5l0.7 -1.1M53.0 357.6l2.4 0.9M300.8 338.4l2.2 0.2M155.6 365.4l1.6 0.8M59.4 457.4l2.5 -0.3M335.1 367.1l0.7 -0.7M286.4 339.5l2.5 -0.8M108.3 376.3l0.5 0.6M81.7 404.6l2.5 1.6M61.8 402.9l1.0 -0.5M111.2 364.5l2.2 -1.5M59.3 398.1l1.7 1.1M178.8 301.2l1.8 0.2M142.8 338.7l1.9 0.4M132.6 364.6l1.4 -0.6M149.0 366.1l1.9 -2.3M34.1 445.0l1.0 1.4M325.6 326.5l0.8 -0.0M95.7 373.6l2.3 1.4M69.2 372.2l0.9 -0.1M267.8 361.4l3.0 -0.2M78.4 409.3l1.5 0.1M67.7 379.5l2.4 0.1M120.7 367.0l1.5 1.5M281.5 301.5l1.9 -0.5M237.2 332.7l1.0 -0.8M76.9 368.4l2.0 -1.9M78.4 363.2l3.1 -0.2M344.6 294.9l1.1 -0.8M261.1 309.9l1.0 0.6M68.7 438.8l0.9 -0.1M162.1 329.3l2.0 -0.5M245.2 362.1l2.0 0.5M87.2 360.0l1.6 -0.1M143.2 346.4l1.5 -0.2M80.6 399.6l1.7 -0.8M58.6 410.9l2.6 1.6M249.3 297.4l2.1 1.3M364.6 301.0l3.0 0.7M115.6 367.0l1.5 0.1M73.9 399.1l2.8 -0.2M142.2 347.3l2.7 0.3M42.8 418.0l2.2 0.1M53.9 444.2l1.8 0.4M212.0 373.9l1.6 -1.3M58.0 363.1l1.5 1.1M155.8 311.0l1.0 0.3M93.8 435.9l0.7 -0.4M78.5 341.0l1.7 -0.3M73.3 372.7l3.1 0.8M172.2 365.5l1.2 -0.8M121.3 322.9l1.4 1.5M61.9 416.4l1.5 0.9M361.4 284.1l1.9 -0.4M340.3 295.8l2.1 -1.7M223.1 291.8l0.9 -1.2M97.1 389.0l2.2 -1.8M152.6 331.6l2.2 2.0M119.8 381.8l1.8 -1.3M114.3 376.7l1.5 0.1M101.1 394.6l3.1 -0.4M39.8 405.7l2.5 -0.3M45.6 383.9l1.7 -0.1M49.0 432.2l1.0 0.6M279.5 342.2l2.1 -1.1M84.9 438.4l1.5 -0.5M258.9 356.5l1.8 -0.5M238.7 324.9l2.2 0.2M167.8 363.0l2.9 -1.2M84.1 403.4l1.5 -0.6M290.2 345.5l1.6 -0.8M67.1 384.1l1.3 -0.8M36.1 422.6l2.1 -0.9M311.8 289.7l1.7 -1.0M160.7 318.7l1.7 -1.7M76.0 401.6l1.3 0.6M355.6 308.2l2.6 -1.2M89.6 330.4l1.5 0.5M65.0 366.5l2.9 -0.9M75.8 442.0l0.4 2.2M76.4 364.1l1.5 -1.2M74.2 418.2l1.4 -0.6M64.2 417.5l2.7 0.2M153.6 345.9l2.6 0.2M57.9 373.2l0.8 0.2M148.0 337.9l2.4 -0.0M36.6 410.9l3.0 -0.2M72.9 385.4l1.7 0.7M91.9 402.8l2.4 -1.6M305.1 313.2l1.5 -0.5M118.9 341.2l1.8 0.2M69.5 369.9l2.1 0.3M74.8 367.5l1.1 0.5M87.4 342.4l1.1 -0.3M75.5 388.8l2.3 -0.3M34.7 432.4l2.0 0.0M135.4 375.1l3.0 -0.0M47.2 388.5l1.0 0.2M99.6 337.3l1.1 -0.2M45.8 414.9l2.3 -0.6M66.7 365.5l2.6 1.6M159.7 352.9l1.4 -0.8M260.1 364.3l1.9 -0.2M34.9 380.2l1.2 -0.0M138.6 340.5l1.2 -0.1M153.3 342.0l2.2 -0.3M313.2 365.9l1.6 -0.2M174.6 351.4l1.9 0.4M86.0 386.8l3.2 -0.1M64.2 378.3l2.8 1.2M244.5 326.0l1.2 1.2M94.0 355.4l1.5 0.5M63.7 394.1l2.5 1.7M293.1 318.9l1.6 0.4M104.7 381.1l2.6 -0.2M37.4 411.8l1.9 -0.5M173.6 339.4l1.1 -0.1M317.9 340.1l2.2 -0.1M224.9 297.6l0.8 -0.4M305.2 330.3l2.1 -1.3M114.1 341.9l1.9 -0.0M102.3 351.6l2.3 -0.2M111.3 345.7l1.6 0.4M153.4 329.3l1.7 -1.9M95.5 343.6l1.5 0.4M148.6 324.3l2.0 -0.6M304.7 374.5l1.7 -1.7M56.7 384.0l2.9 0.2M54.1 391.9l1.0 0.6M237.5 325.7l1.9 1.6M103.1 335.7l1.1 0.1M128.7 335.7l1.4 0.4M109.3 368.3l3.0 -0.5M131.2 345.2l0.8 -0.5M26.0 427.5l0.5 1.2M111.4 332.5l2.0 1.1M296.4 284.6l0.8 -0.3M190.3 308.8l2.9 0.8M121.5 363.9l0.9 -1.3M290.8 339.9l0.7 -0.5M317.9 319.2l0.6 -1.1M40.2 420.3l0.8 -0.1M67.4 362.2l1.1 -0.3M164.5 305.0l1.8 -1.4M197.0 354.1l2.6 -1.7M122.2 320.2l2.2 -1.2M24.2 426.8l1.0 3.0M220.2 300.1l1.8 -1.2M75.2 394.6l2.1 -1.7M257.5 287.8l2.0 0.2M83.3 410.8l1.4 0.1M104.7 349.2l0.8 -0.5M35.5 392.9l1.6 -0.8M90.2 347.5l2.3 -0.8M297.4 337.6l0.8 -0.3M342.4 286.3l1.3 0.4M42.3 420.6l1.5 -0.2M140.3 383.9l2.2 -0.2M179.4 352.3l2.9 0.7M252.0 331.9l2.4 -0.1M348.6 296.3l1.1 0.5M150.3 315.9l2.9 -0.7M94.4 368.9l0.6 -1.2M137.9 370.8l1.0 0.0M81.9 355.5l2.8 -0.5M194.3 335.6l1.4 -0.0M274.0 331.9l1.6 -1.0M80.5 431.8l0.8 0.1M344.3 355.9l2.5 -0.9M49.0 361.7l1.5 -1.2M86.5 398.5l2.5 0.3M109.3 356.6l0.9 0.0M111.5 345.4l1.3 -1.0M85.0 368.5l2.6 -1.1M66.9 409.9l1.9 0.4M157.4 373.1l1.3 -0.3M71.6 434.5l2.5 -0.2M259.7 288.2l2.4 -1.1M60.6 409.5l1.8 -0.4M246.0 373.8l1.8 -1.9M306.0 301.6l1.6 -1.6M189.0 311.9l1.4 0.1M131.9 336.4l2.7 0.4M92.7 391.5l1.0 -1.7M54.2 372.8l1.8 -0.2M56.7 379.0l1.0 -0.1M107.5 359.4l1.9 -1.1M245.2 298.4l1.0 -0.1M99.8 430.2l1.2 0.2M63.7 358.4l2.3 -0.4M129.7 336.6l1.9 -1.4M57.3 376.3l1.0 -0.4M87.1 418.3l1.0 -0.3M109.8 329.6l2.7 0.1M152.0 352.2l1.4 -0.1M29.4 412.3l1.0 -0.3M74.3 393.1l1.3 -1.1M83.7 376.3l1.2 -0.0M20.7 404.9l1.6 -0.7M130.5 329.8l2.2 0.1M111.6 332.7l0.9 -0.5M317.7 283.4l3.0 -0.6M22.2 406.9l3.0 0.2M225.9 303.9l2.1 -0.2M31.3 393.1l2.5 -1.5M67.0 366.4l1.1 0.4M23.4 438.8l1.4 -0.3M49.2 373.6l2.6 -1.0M301.7 359.3l2.6 0.7M113.6 371.8l1.1 -0.5M53.4 418.7l1.8 -1.0M355.9 286.5l1.7 -0.1M55.3 384.1l1.7 1.6M47.8 451.1l0.8 0.4M118.3 355.7l0.8 -1.5M109.3 372.6l2.5 1.1M34.1 388.4l1.2 0.1M160.2 306.4l0.7 -0.9M85.5 368.1l1.9 0.4M148.5 332.3l1.3 -0.4M29.4 394.3l3.0 -1.0M160.7 336.1l2.2 -1.3M154.7 358.4l1.3 0.2M136.5 383.7l1.9 -1.0M32.7 380.2l1.0 -0.8M90.3 329.3l1.3 -0.7M85.2 418.8l2.2 0.0M228.9 302.6l3.0 -1.0M103.5 371.1l1.7 -0.1M110.9 396.5l1.0 0.1M72.6 429.5l2.8 1.1M293.9 294.1l2.9 -0.4M244.4 354.1l2.3 -0.1M180.4 303.7l2.5 -0.2M64.1 374.3l0.9 -1.3M168.8 370.0l2.4 1.0M79.5 367.9l0.9 -0.4M160.3 361.2l0.8 -0.3M283.0 318.9l0.9 -0.0M79.9 392.5l2.4 -0.2M264.9 362.4l2.7 -0.9M203.8 305.1l1.2 -0.5M67.4 410.9l1.3 0.2M249.4 372.3l2.0 -1.0M202.3 368.3l1.8 -1.0M119.6 318.5l0.9 -0.4M76.9 430.3l1.6 1.6M68.4 380.3l2.4 0.0M338.5 320.1l1.7 -1.6M360.3 323.9l2.2 1.4M170.8 358.4l0.9 -0.4M50.2 415.8l3.1 -0.0M228.8 322.4l2.8 0.4M290.2 355.3l1.6 -1.0M135.4 378.9l1.5 -0.6M170.1 351.3l1.1 -0.2M120.6 383.3l2.8 -1.5M46.7 367.1l2.4 -0.6M51.1 387.9l2.5 -0.3M64.2 434.2l0.6 0.7M45.5 385.0l3.0 -0.4M131.7 378.3l2.2 1.8M58.6 423.9l1.4 2.7M380.0 295.7l1.6 1.7M313.4 294.1l1.9 -0.3M202.4 299.5l2.3 -0.9M285.7 295.6l2.2 -0.5M131.5 380.2l2.2 -1.0M46.7 439.3l1.8 -0.2M126.6 342.7l1.7 -1.4M67.0 400.5l2.1 -1.6M66.9 378.8l2.3 0.8M69.8 367.7l0.7 -2.6M55.5 379.6l2.4 -0.6M136.4 374.9l2.3 0.3M180.6 324.3l2.2 -1.4M113.9 357.7l1.1 0.1M377.2 329.1l1.2 -0.2M287.7 295.0l1.7 -1.5M184.2 335.4l2.4 -0.0M217.9 364.6l2.1 -0.4M51.4 371.7l0.8 -0.2M86.6 381.4l1.3 0.1M282.3 312.5l0.8 0.0M79.7 428.0l2.9 -0.3M89.4 415.8l1.7 -0.1M134.4 351.8l2.6 0.7M141.6 345.4l3.0 0.6M243.2 370.7l2.3 -0.6M157.8 315.3l1.9 -0.7M176.5 351.6l1.9 0.3M70.5 362.3l1.9 1.4M98.0 389.1l1.5 -1.4M318.7 273.3l2.9 -0.3M54.3 431.4l1.6 0.3M74.2 369.5l1.0 0.2M122.0 367.2l2.7 0.3M170.7 330.3l0.8 -0.3M256.6 300.7l1.8 -1.1M132.3 336.0l2.7 0.5M43.8 390.5l1.8 -0.5M371.0 289.6l2.6 -1.2M56.5 384.5l2.4 -0.0M318.5 335.9l1.6 0.0M118.1 320.3l2.6 1.1M86.1 402.6l1.2 -0.2M109.6 335.7l1.8 -0.1M81.5 354.5l2.1 -0.4M240.1 317.4l2.2 0.6M173.1 314.8l2.5 0.6M51.3 350.2l1.3 0.1M108.6 332.7l2.5 -1.1M305.5 336.5l2.9 0.7M63.9 441.4l2.6 0.8M29.4 384.6l1.8 1.7M227.2 366.0l0.8 -0.1M354.3 316.3l2.4 0.7M42.0 362.4l3.1 -0.2M104.3 336.6l1.3 -0.4M170.3 320.9l1.3 -0.4M35.3 373.5l1.1 -0.5M148.8 355.6l2.0 0.2M49.7 406.5l2.1 -1.1M130.0 332.2l2.4 -0.3M309.0 292.2l2.8 1.2M92.2 365.6l1.2 -1.1M112.1 391.5l3.0 -0.1M86.9 377.6l1.7 -0.9M348.8 345.8l2.3 -2.0M87.6 390.2l2.0 -0.4M25.2 407.4l1.9 0.0M85.0 433.5l0.8 0.8M84.1 343.9l3.1 -0.5M99.0 383.2l2.4 0.1M86.9 436.5l2.0 2.2M61.5 383.4l1.6 -0.3M311.6 297.9l1.7 -1.0M386.5 306.0l3.1 -0.5M132.3 320.7l2.4 -1.5M71.9 418.9l2.4 -0.4M247.3 338.1l2.6 -0.9M152.3 359.8l0.9 -0.2M110.9 350.4l2.1 -0.3M95.0 392.7l2.3 1.5M324.4 323.3l1.6 -1.1M334.3 296.5l2.1 0.3M46.2 388.7l1.4 0.1M126.5 345.9l3.0 0.9M67.7 350.2l2.4 2.1M108.0 378.3l1.8 0.9M229.3 350.3l2.7 -0.4M171.5 339.9l0.9 -0.3M68.0 394.9l1.6 0.3M156.2 335.2l0.8 -0.3M66.6 406.7l1.5 -0.2M104.0 374.5l1.0 -0.4M82.4 431.3l2.6 1.4M207.2 362.4l1.8 -2.6M181.2 355.5l2.8 -0.6M101.6 359.1l1.4 -0.7M207.5 313.9l2.5 1.0M98.9 405.5l1.2 0.2M52.7 396.4l1.7 -1.3M98.4 367.7l2.1 1.4M59.8 455.5l2.4 -0.8M137.6 347.4l1.4 -0.5M57.0 408.9l0.8 -0.1M51.8 428.4l0.8 0.2M68.6 369.4l1.7 0.9M254.5 310.4l2.1 -2.2M48.7 383.4l1.7 -1.1M267.2 360.7l1.6 -0.6M51.2 404.1l1.9 -0.5M44.1 364.2l1.0 0.3M67.0 454.6l1.0 0.4M47.1 419.4l1.8 -0.2M159.1 365.2l1.5 -0.6M129.0 349.7l2.7 0.7M271.6 312.3l2.9 0.9M268.9 312.8l1.7 0.5M238.9 295.4l1.2 0.5M90.3 389.3l1.1 0.2M93.2 361.1l2.6 -0.4M184.2 302.5l2.3 -2.2M271.9 305.8l1.4 1.6M195.6 310.9l2.5 -1.3M324.9 349.4l2.0 -0.4M280.4 301.0l1.4 1.9M65.6 418.9l1.7 2.7M61.0 397.6l2.9 -0.4M98.0 457.0l1.9 1.1M31.9 416.7l2.4 1.0M351.4 309.9l1.3 -0.0M264.1 358.4l2.0 0.2M350.7 295.3l1.9 -0.8M154.5 363.4l2.1 0.7M185.2 320.2l1.2 0.1M155.8 324.4l0.9 0.3M95.3 344.3l1.9 -1.1" stroke="#c20f2c" stroke-width="1.00"/><path d="M240.5 316.4l2.8 -0.9M296.6 314.1l1.8 -0.5M358.1 306.9l1.8 1.0M287.8 310.6l2.4 0.9M149.0 363.5l1.2 0.9M307.0 322.5l0.5 -0.6M268.3 318.0l2.9 -0.8M100.2 379.4l2.9 0.5M202.0 365.1l2.7 -1.3M78.7 431.8l1.6 0.5M79.2 443.9l1.3 -0.1M137.9 361.5l1.6 0.8M77.0 440.3l1.3 1.3" stroke="#4a62d4" stroke-width="1.00"/></g><polyline points="78.5,484.6 83.6,481.2 90.4,477.8 97.2,474.4 102.3,472.7 114.2,471.0 124.4,469.3 131.2,465.9 136.3,460.8 141.4,454.0 146.5,448.9 153.3,444.5 158.4,443.1 168.6,445.5 174.0,446.5 176.5,448.0 179.0,447.5 185.6,451.3 195.9,455.7 204.6,458.8 210.6,460.6 216.6,461.8 220.8,465.4 223.2,469.0 224.4,473.8 225.0,479.8" fill="none" stroke="#222" stroke-width="0.8"/><polyline points="312.0,450.0 311.3,441.9 310.5,435.8 309.8,431.2 310.5,427.4 312.8,425.2 315.8,424.4 319.6,422.9 321.9,419.8 319.6,417.6 314.3,414.5 312.0,411.5 311.3,407.7 309.0,405.4 306.0,403.1 307.5,399.3 309.8,396.3 312.8,394.0 316.6,392.5 320.4,391.0 325.0,391.7 332.6,389.4 340.2,386.4 346.2,384.1 347.7,381.1 352.3,380.2 360.4,382.3 364.0,380.0 366.0,382.0 364.0,384.0 364.0,387.0 366.0,389.0 366.0,394.0 366.0,400.0 368.0,408.0 371.0,412.0 375.0,419.0 379.0,423.0 381.0,426.0 383.0,424.0 386.0,419.0 390.0,417.0 393.0,413.0 395.0,409.0 397.0,403.0 401.0,400.0 406.0,401.0 410.0,403.0 415.0,407.0 420.0,410.0 424.0,412.0 426.0,417.0 426.0,422.0 428.0,428.0 432.0,434.0 436.0,438.0 442.0,444.0 448.0,450.0 455.0,456.0 462.0,462.0 470.0,470.0 478.0,478.0 486.0,486.0" fill="none" stroke="#222" stroke-width="0.8"/><g fill="none" stroke="#111" stroke-width="1" stroke-linejoin="round"><polyline points="116.4,249.0 116.0,254.0 113.4,260.2 110.4,264.2 107.3,269.3 106.3,276.4 106.3,284.5 104.3,292.6 105.3,295.6 107.3,297.0"/><polyline points="107.3,297.0 110.0,298.2 116.4,297.0 122.0,297.2 130.0,296.0 134.7,295.6 140.4,294.5 143.4,292.1 142.4,289.0 147.4,287.0 152.5,288.0 156.6,291.1 160.0,291.2 166.4,292.8 176.0,292.8 184.0,294.4 192.0,297.6 198.4,299.2"/><polyline points="198.4,299.2 202.4,296.8 206.4,297.6 212.0,299.3 213.2,304.0 216.1,306.8 218.9,310.4 224.6,309.0 228.8,306.8 230.4,300.0 230.4,298.4 233.6,298.4 238.4,297.5 248.6,299.3 253.2,303.8 258.0,304.8 264.4,303.8 270.8,302.2 278.8,299.0 283.6,296.9 291.6,295.8 298.0,295.0 306.0,294.2 307.6,290.5 312.3,292.5 319.0,293.0 330.1,291.8 334.5,293.0 337.9,297.4 342.3,300.7 344.6,296.3 344.6,290.7 340.1,285.2 336.8,279.6 333.4,275.1 331.2,271.8 336.8,268.5 343.5,265.1 350.4,261.0 358.9,254.2 362.3,250.8 367.4,249.3"/><polyline points="372.0,249.3 376.0,250.3 382.0,249.8 388.0,249.2 398.0,250.8 404.8,250.2 415.0,250.2 420.0,249.5"/><polyline points="107.3,297.0 104.3,297.6 99.0,301.0 94.2,301.7 89.8,303.1 86.8,300.0 80.7,300.0 79.7,303.1 75.7,306.1 77.7,308.2 80.7,309.2 77.7,312.2 71.6,317.3 67.6,320.3 63.5,324.4 57.4,326.4 56.4,331.4 55.4,333.5 48.3,339.5 44.3,342.6 40.2,347.6 41.3,352.7 38.2,356.8 36.2,361.8 38.2,362.8 43.3,361.8 48.3,354.7 52.4,350.7 60.5,348.3 68.6,349.7 71.6,352.7 72.6,356.8 74.7,362.8 78.7,368.9 80.7,371.0 81.7,373.5"/><polyline points="80.7,371.0 81.7,373.5 76.2,376.8 72.8,380.1 75.0,384.6 81.7,389.0 86.2,393.5 88.4,400.2 84.0,404.6 79.5,408.0 70.6,409.1 65.0,411.3 66.1,414.7 72.8,416.9 77.3,421.3 79.5,426.9 82.8,430.2 77.3,435.8 75.0,440.3 77.3,445.8 84.0,451.4 90.6,454.7 99.5,455.9 107.3,457.0 109.6,459.2 106.2,463.7 102.9,468.1 101.5,472.6"/><polyline points="81.7,373.5 90.6,374.6 99.5,373.5 110.7,372.3 118.0,370.5 124.0,367.0 128.2,363.0 130.2,357.9 133.3,353.8 138.3,348.8 143.4,349.8 144.4,354.9 145.4,359.9 150.5,364.0 156.6,366.0 161.6,369.0 164.7,373.0 166.7,377.1 169.7,376.1 168.7,371.0 170.7,366.0 174.8,361.9 178.5,358.0 180.0,352.2 180.7,348.0 182.1,345.8 184.9,346.5 187.0,349.3 188.5,352.9 191.3,355.7 194.8,356.4 200.5,355.0 206.2,353.6 210.4,355.0 212.5,357.8 214.7,359.2 216.8,357.1 216.1,352.9 214.0,349.3 213.2,346.5 214.7,343.0 217.5,341.1 221.7,341.1 226.0,339.4 229.5,335.9 231.0,332.3 231.7,328.1"/><polyline points="197.0,300.2 196.0,304.8 192.0,309.6 189.8,313.6 190.4,317.6 189.8,320.0 194.4,321.0 200.0,321.6 204.8,324.0 208.5,327.2 212.8,329.8 217.6,330.0 222.4,327.4 225.6,324.8 230.2,325.4 231.7,328.1"/><polyline points="231.7,328.1 236.8,329.6 240.0,330.4 244.5,332.7 250.0,334.2 254.8,331.0 261.2,327.0 266.0,325.4 274.0,323.8 282.0,323.8 290.0,323.0 298.0,321.4 304.4,320.3 306.8,319.8 305.2,323.0 306.0,327.0 309.2,330.2 312.4,333.4 317.2,336.6 322.0,338.2 330.0,339.5 334.5,340.8 345.7,343.1 356.8,344.2 364.0,345.0 371.0,346.8 379.0,347.5 388.0,348.6 398.0,348.5 404.0,350.5 408.1,351.6 412.1,349.5 420.2,344.8 424.5,341.1 430.4,340.1 440.5,340.4 444.5,341.1 448.6,340.4 453.4,338.9 458.0,337.6 464.5,337.3 472.3,338.9 473.5,334.5 472.3,331.1 477.9,330.0 480.0,327.0 485.0,324.1 490.0,323.3 494.5,322.9"/><polyline points="477.9,330.0 484.6,330.0 486.8,334.5 491.3,340.0 494.5,344.5"/><polyline points="371.0,346.8 370.2,350.9 363.5,353.1 360.2,356.4 361.3,362.0 364.4,365.0 365.4,369.1 367.4,374.2 366.4,379.2 368.0,381.0"/><polyline points="494.5,345.6 486.8,345.6 483.5,348.9 483.5,352.3 477.9,352.3 469.0,355.6 461.2,359.0 455.6,363.4 456.7,367.9 459.0,371.2 459.0,375.7 455.6,377.9 448.0,378.8 442.0,382.0 440.0,385.0 440.0,391.0 434.0,396.0 426.0,395.0 418.0,392.0 413.0,390.0 411.0,386.0 408.0,388.0 404.0,392.0 394.0,393.0 386.0,393.0 380.0,395.6 372.0,396.0 366.0,394.0"/><polyline points="463.4,406.8 473.5,406.8 480.1,410.2 486.8,415.7 491.3,413.5 494.5,408.0"/><polyline points="463.4,406.8 461.2,413.5 460.1,421.3 461.2,425.8 464.5,430.2 468.9,434.7 472.3,440.0 477.0,445.7 480.0,450.0 482.9,455.2 488.0,459.0 492.4,461.0 494.5,462.0"/><polyline points="494.5,291.0 491.6,292.6 490.5,296.0 491.6,303.5 493.3,310.0 494.5,316.0"/></g><rect x="206" y="415" width="276" height="91" fill="#fff" opacity="0.25" filter="url(#blur2)"/><rect x="214" y="433" width="260" height="73" fill="#fff" opacity="0.75" filter="url(#blur)"/><path d="M37.5 249V485M124.5 249V485M211.5 249V485M298.5 249V485M385.5 249V485M472.5 249V485M7 277.5H494M7 323.5H494M7 369.5H494M7 416.5H494M7 462.5H494" stroke="#c0c0c0" stroke-width="1" fill="none"/><g stroke="#1a1a1a" stroke-width="0.9"><circle cx="115.4" cy="350.8" r="3.4" fill="#276419"/><circle cx="137.8" cy="346.6" r="3.4" fill="#f5c4e1"/><circle cx="87.5" cy="377.7" r="3.4" fill="#f7f7f6"/><circle cx="91.2" cy="381.5" r="3.4" fill="#276419"/><circle cx="84.0" cy="387.3" r="3.4" fill="#276419"/><circle cx="90.0" cy="392.0" r="3.4" fill="#276419"/><circle cx="101.9" cy="374.5" r="3.4" fill="#8e0152"/><circle cx="110.4" cy="372.4" r="3.4" fill="#f7f7f6"/><circle cx="108.0" cy="374.5" r="3.4" fill="#6dad36"/><circle cx="106.4" cy="377.4" r="3.4" fill="#276419"/><circle cx="116.0" cy="376.7" r="3.4" fill="#c7e89f"/><circle cx="111.2" cy="378.8" r="3.4" fill="#f7f7f6"/><circle cx="117.3" cy="382.0" r="3.4" fill="#f5c4e1"/><circle cx="108.0" cy="387.6" r="3.4" fill="#8e0152"/><circle cx="107.2" cy="384.7" r="3.4" fill="#6dad36"/><circle cx="209.0" cy="298.0" r="3.4" fill="#276419"/><circle cx="216.4" cy="302.0" r="3.4" fill="#f7f7f6"/><circle cx="228.4" cy="294.4" r="3.4" fill="#276419"/><circle cx="235.0" cy="311.6" r="3.4" fill="#c7e89f"/><circle cx="181.0" cy="319.6" r="3.4" fill="#276419"/><circle cx="229.5" cy="325.6" r="3.4" fill="#6dad36"/><circle cx="205.0" cy="332.4" r="3.4" fill="#f7f7f6"/><circle cx="150.3" cy="340.7" r="3.4" fill="#6dad36"/><circle cx="173.4" cy="343.0" r="3.4" fill="#f7f7f6"/><circle cx="230.0" cy="342.4" r="3.4" fill="#6dad36"/><circle cx="198.4" cy="351.0" r="3.4" fill="#c7e89f"/><circle cx="204.4" cy="350.0" r="3.4" fill="#f7f7f6"/><circle cx="237.6" cy="357.0" r="3.4" fill="#c7e89f"/><circle cx="237.0" cy="359.6" r="3.4" fill="#f5c4e1"/><circle cx="285.6" cy="288.4" r="3.4" fill="#276419"/><circle cx="277.6" cy="294.4" r="3.4" fill="#276419"/><circle cx="283.6" cy="295.4" r="3.4" fill="#d5579d"/><circle cx="266.6" cy="301.4" r="3.4" fill="#276419"/><circle cx="262.6" cy="306.4" r="3.4" fill="#8e0152"/><circle cx="276.0" cy="304.0" r="3.4" fill="#8e0152"/><circle cx="303.6" cy="291.0" r="3.4" fill="#276419"/><circle cx="306.0" cy="295.0" r="3.4" fill="#276419"/><circle cx="319.6" cy="291.6" r="3.4" fill="#8e0152"/><circle cx="316.0" cy="292.6" r="3.4" fill="#f7f7f6"/><circle cx="322.4" cy="296.4" r="3.4" fill="#276419"/><circle cx="327.0" cy="285.0" r="3.4" fill="#276419"/><circle cx="342.4" cy="294.4" r="3.4" fill="#276419"/><circle cx="249.4" cy="324.4" r="3.4" fill="#8e0152"/><circle cx="273.6" cy="323.0" r="3.4" fill="#6dad36"/><circle cx="320.6" cy="318.4" r="3.4" fill="#c7e89f"/><circle cx="315.0" cy="323.0" r="3.4" fill="#f7f7f6"/><circle cx="314.4" cy="332.6" r="3.4" fill="#6dad36"/><circle cx="325.6" cy="337.4" r="3.4" fill="#6dad36"/><circle cx="285.0" cy="350.0" r="3.4" fill="#8e0152"/><circle cx="290.0" cy="347.6" r="3.4" fill="#f5c4e1"/><circle cx="279.6" cy="354.6" r="3.4" fill="#f7f7f6"/><circle cx="288.0" cy="355.6" r="3.4" fill="#6dad36"/><circle cx="289.0" cy="359.0" r="3.4" fill="#6dad36"/><circle cx="257.6" cy="369.0" r="3.4" fill="#276419"/><circle cx="264.4" cy="373.6" r="3.4" fill="#276419"/><circle cx="251.0" cy="380.4" r="3.4" fill="#276419"/><circle cx="263.0" cy="381.0" r="3.4" fill="#276419"/><circle cx="398.0" cy="293.6" r="3.4" fill="#d5579d"/><circle cx="462.9" cy="299.3" r="3.4" fill="#f5c4e1"/><circle cx="484.8" cy="292.6" r="3.4" fill="#f5c4e1"/><circle cx="484.8" cy="303.5" r="3.4" fill="#f7f7f6"/><circle cx="435.7" cy="313.1" r="3.4" fill="#6dad36"/></g></g><path d="M37.5 485v3.5M124.5 485v3.5M211.5 485v3.5M298.5 485v3.5M385.5 485v3.5M472.5 485v3.5M7 277.5h-2M7 323.5h-2M7 369.5h-2M7 416.5h-2M7 462.5h-2" stroke="#444" stroke-width="1" fill="none"/><rect x="7.5" y="249.5" width="487" height="236" fill="none" stroke="#505050" stroke-width="1"/><linearGradient id="swe" x1="0" x2="1" y1="0" y2="0"><stop offset="0.0" stop-color="#ad2830"/><stop offset="0.1" stop-color="#c65848"/><stop offset="0.2" stop-color="#da7a64"/><stop offset="0.3" stop-color="#eb9f84"/><stop offset="0.4" stop-color="#f0c4ae"/><stop offset="0.5" stop-color="#dfdcdc"/><stop offset="0.6" stop-color="#c2d4f3"/><stop offset="0.7" stop-color="#a2befb"/><stop offset="0.8" stop-color="#7f9ef5"/><stop offset="0.9" stop-color="#6079e0"/><stop offset="1.0" stop-color="#4753c4"/></linearGradient><path d="M230.8 163.6H466.8V177.6H230.8L217.7 170.6Z" fill="url(#swe)"/><path d="M230.8 163.6L217.7 170.6L230.8 177.6Z" fill="#ad2830"/><path d="M230.8 163.6H466.8V177.6H230.8L217.7 170.6Z" fill="none" stroke="#111" stroke-width="1"/><path d="M276.5 177.6v-5M324.5 177.6v-5M372.6 177.6v-5M421.3 177.6v-5" stroke="#111" stroke-width="1"/><g font-family="DejaVu Sans Condensed, DejaVu Sans, sans-serif" font-size="11" fill="#111" stroke="#111" stroke-width="0.15" text-anchor="middle"><text x="227.5" y="187.6">-150</text><text x="274.5" y="187.6">-100</text><text x="322.2" y="187.6">-50</text><text x="369.3" y="187.6">+50</text><text x="417.7" y="187.6">+100</text><text x="464.4" y="187.6">+150</text></g><text font-family="DejaVu Sans Condensed, DejaVu Sans, sans-serif" font-size="13.6" fill="#111" stroke="#111" stroke-width="0.25" y="159.1"><tspan x="262.6" textLength="111" lengthAdjust="spacingAndGlyphs">SWE change (mm): </tspan><tspan x="374.4" textLength="15.4" lengthAdjust="spacingAndGlyphs">DA</tspan><tspan x="389.8" y="161.2" font-size="12" textLength="16.3" lengthAdjust="spacingAndGlyphs">var</tspan><tspan x="410.4" y="159.1" textLength="24" lengthAdjust="spacingAndGlyphs">- OL</tspan></text><rect x="263.70" y="210.6" width="34.20" height="15.70" fill="#6dad36"/><rect x="297.60" y="210.6" width="34.20" height="15.70" fill="#c7e89f"/><rect x="331.50" y="210.6" width="34.20" height="15.70" fill="#f7f7f6"/><rect x="365.40" y="210.6" width="34.20" height="15.70" fill="#f5c4e1"/><rect x="399.30" y="210.6" width="34.20" height="15.70" fill="#d5579d"/><path d="M217 218.45L229.8 210.6H264.00V226.3H229.8Z" fill="#276419"/><path d="M479.2 218.45L467.10 210.6H433.20V226.3H467.10Z" fill="#8e0152"/><path d="M229.8 210.6H467.10L479.2 218.45L467.10 226.3H229.8L217 218.45Z" fill="none" stroke="#111" stroke-width="1"/><path d="M263.70 226.3v-4.5M297.60 226.3v-4.5M331.50 226.3v-4.5M365.40 226.3v-4.5M399.30 226.3v-4.5M433.20 226.3v-4.5" stroke="#111" stroke-width="1"/><g font-family="DejaVu Sans Condensed, DejaVu Sans, sans-serif" font-size="10.5" text-anchor="middle"><text x="246.8" y="222.6" fill="#fff">0</text><text x="280.6" y="222.6" fill="#fff">3</text><text x="314.6" y="222.6" fill="#222">7</text><text x="348.4" y="222.6" fill="#222">18</text><text x="382.4" y="222.6" fill="#222">9</text><text x="416.2" y="222.6" fill="#fff">1</text><text x="450.1" y="222.6" fill="#fff">3</text></g><g font-family="DejaVu Sans Condensed, DejaVu Sans, sans-serif" font-size="11" fill="#111" stroke="#111" stroke-width="0.15" text-anchor="middle"><text x="230.4" y="235.4">-105</text><text x="264.3" y="235.4">-75</text><text x="298.2" y="235.4">-45</text><text x="332.1" y="235.4">-15</text><text x="365.7" y="235.4">15</text><text x="399.6" y="235.4">45</text><text x="433.5" y="235.4">75</text><text x="467.4" y="235.4">105</text></g><text x="260.3" y="207.8" font-family="DejaVu Sans Condensed, DejaVu Sans, sans-serif" font-size="13.4" fill="#111" stroke="#111" stroke-width="0.25" textLength="176" lengthAdjust="spacingAndGlyphs">Absolute error change (mm)</text><rect x="263.70" y="454.6" width="34.20" height="15.70" fill="#6dad36"/><rect x="297.60" y="454.6" width="34.20" height="15.70" fill="#c7e89f"/><rect x="331.50" y="454.6" width="34.20" height="15.70" fill="#f7f7f6"/><rect x="365.40" y="454.6" width="34.20" height="15.70" fill="#f5c4e1"/><rect x="399.30" y="454.6" width="34.20" height="15.70" fill="#d5579d"/><path d="M217 462.45000000000005L229.8 454.6H264.00V470.3H229.8Z" fill="#276419"/><path d="M479.2 462.45000000000005L467.10 454.6H433.20V470.3H467.10Z" fill="#8e0152"/><path d="M229.8 454.6H467.10L479.2 462.45000000000005L467.10 470.3H229.8L217 462.45000000000005Z" fill="none" stroke="#111" stroke-width="1"/><path d="M263.70 470.3v-4.5M297.60 470.3v-4.5M331.50 470.3v-4.5M365.40 470.3v-4.5M399.30 470.3v-4.5M433.20 470.3v-4.5" stroke="#111" stroke-width="1"/><g font-family="DejaVu Sans Condensed, DejaVu Sans, sans-serif" font-size="10.5" text-anchor="middle"><text x="246.8" y="466.6" fill="#fff">23</text><text x="280.6" y="466.6" fill="#fff">12</text><text x="314.6" y="466.6" fill="#222">5</text><text x="348.4" y="466.6" fill="#222">12</text><text x="382.4" y="466.6" fill="#222">7</text><text x="416.2" y="466.6" fill="#fff">2</text><text x="450.1" y="466.6" fill="#fff">7</text></g><g font-family="DejaVu Sans Condensed, DejaVu Sans, sans-serif" font-size="11" fill="#111" stroke="#111" stroke-width="0.15" text-anchor="middle"><text x="230.4" y="479.4">-105</text><text x="264.3" y="479.4">-75</text><text x="298.2" y="479.4">-45</text><text x="332.1" y="479.4">-15</text><text x="365.7" y="479.4">15</text><text x="399.6" y="479.4">45</text><text x="433.5" y="479.4">75</text><text x="467.4" y="479.4">105</text></g><text x="260.3" y="451.8" font-family="DejaVu Sans Condensed, DejaVu Sans, sans-serif" font-size="13.4" fill="#111" stroke="#111" stroke-width="0.25" textLength="176" lengthAdjust="spacingAndGlyphs">Absolute error change (mm)</text><text x="9" y="21" font-family="DejaVu Sans Condensed, DejaVu Sans, sans-serif" font-size="13.9" fill="#111" stroke="#111" stroke-width="0.3" textLength="121.5" lengthAdjust="spacingAndGlyphs">(a) March 1-7, 2017</text><text x="9" y="265" font-family="DejaVu Sans Condensed, DejaVu Sans, sans-serif" font-size="13.9" fill="#111" stroke="#111" stroke-width="0.3" textLength="121.5" lengthAdjust="spacingAndGlyphs">(b) March 1-7, 2018</text></svg></body></html>
